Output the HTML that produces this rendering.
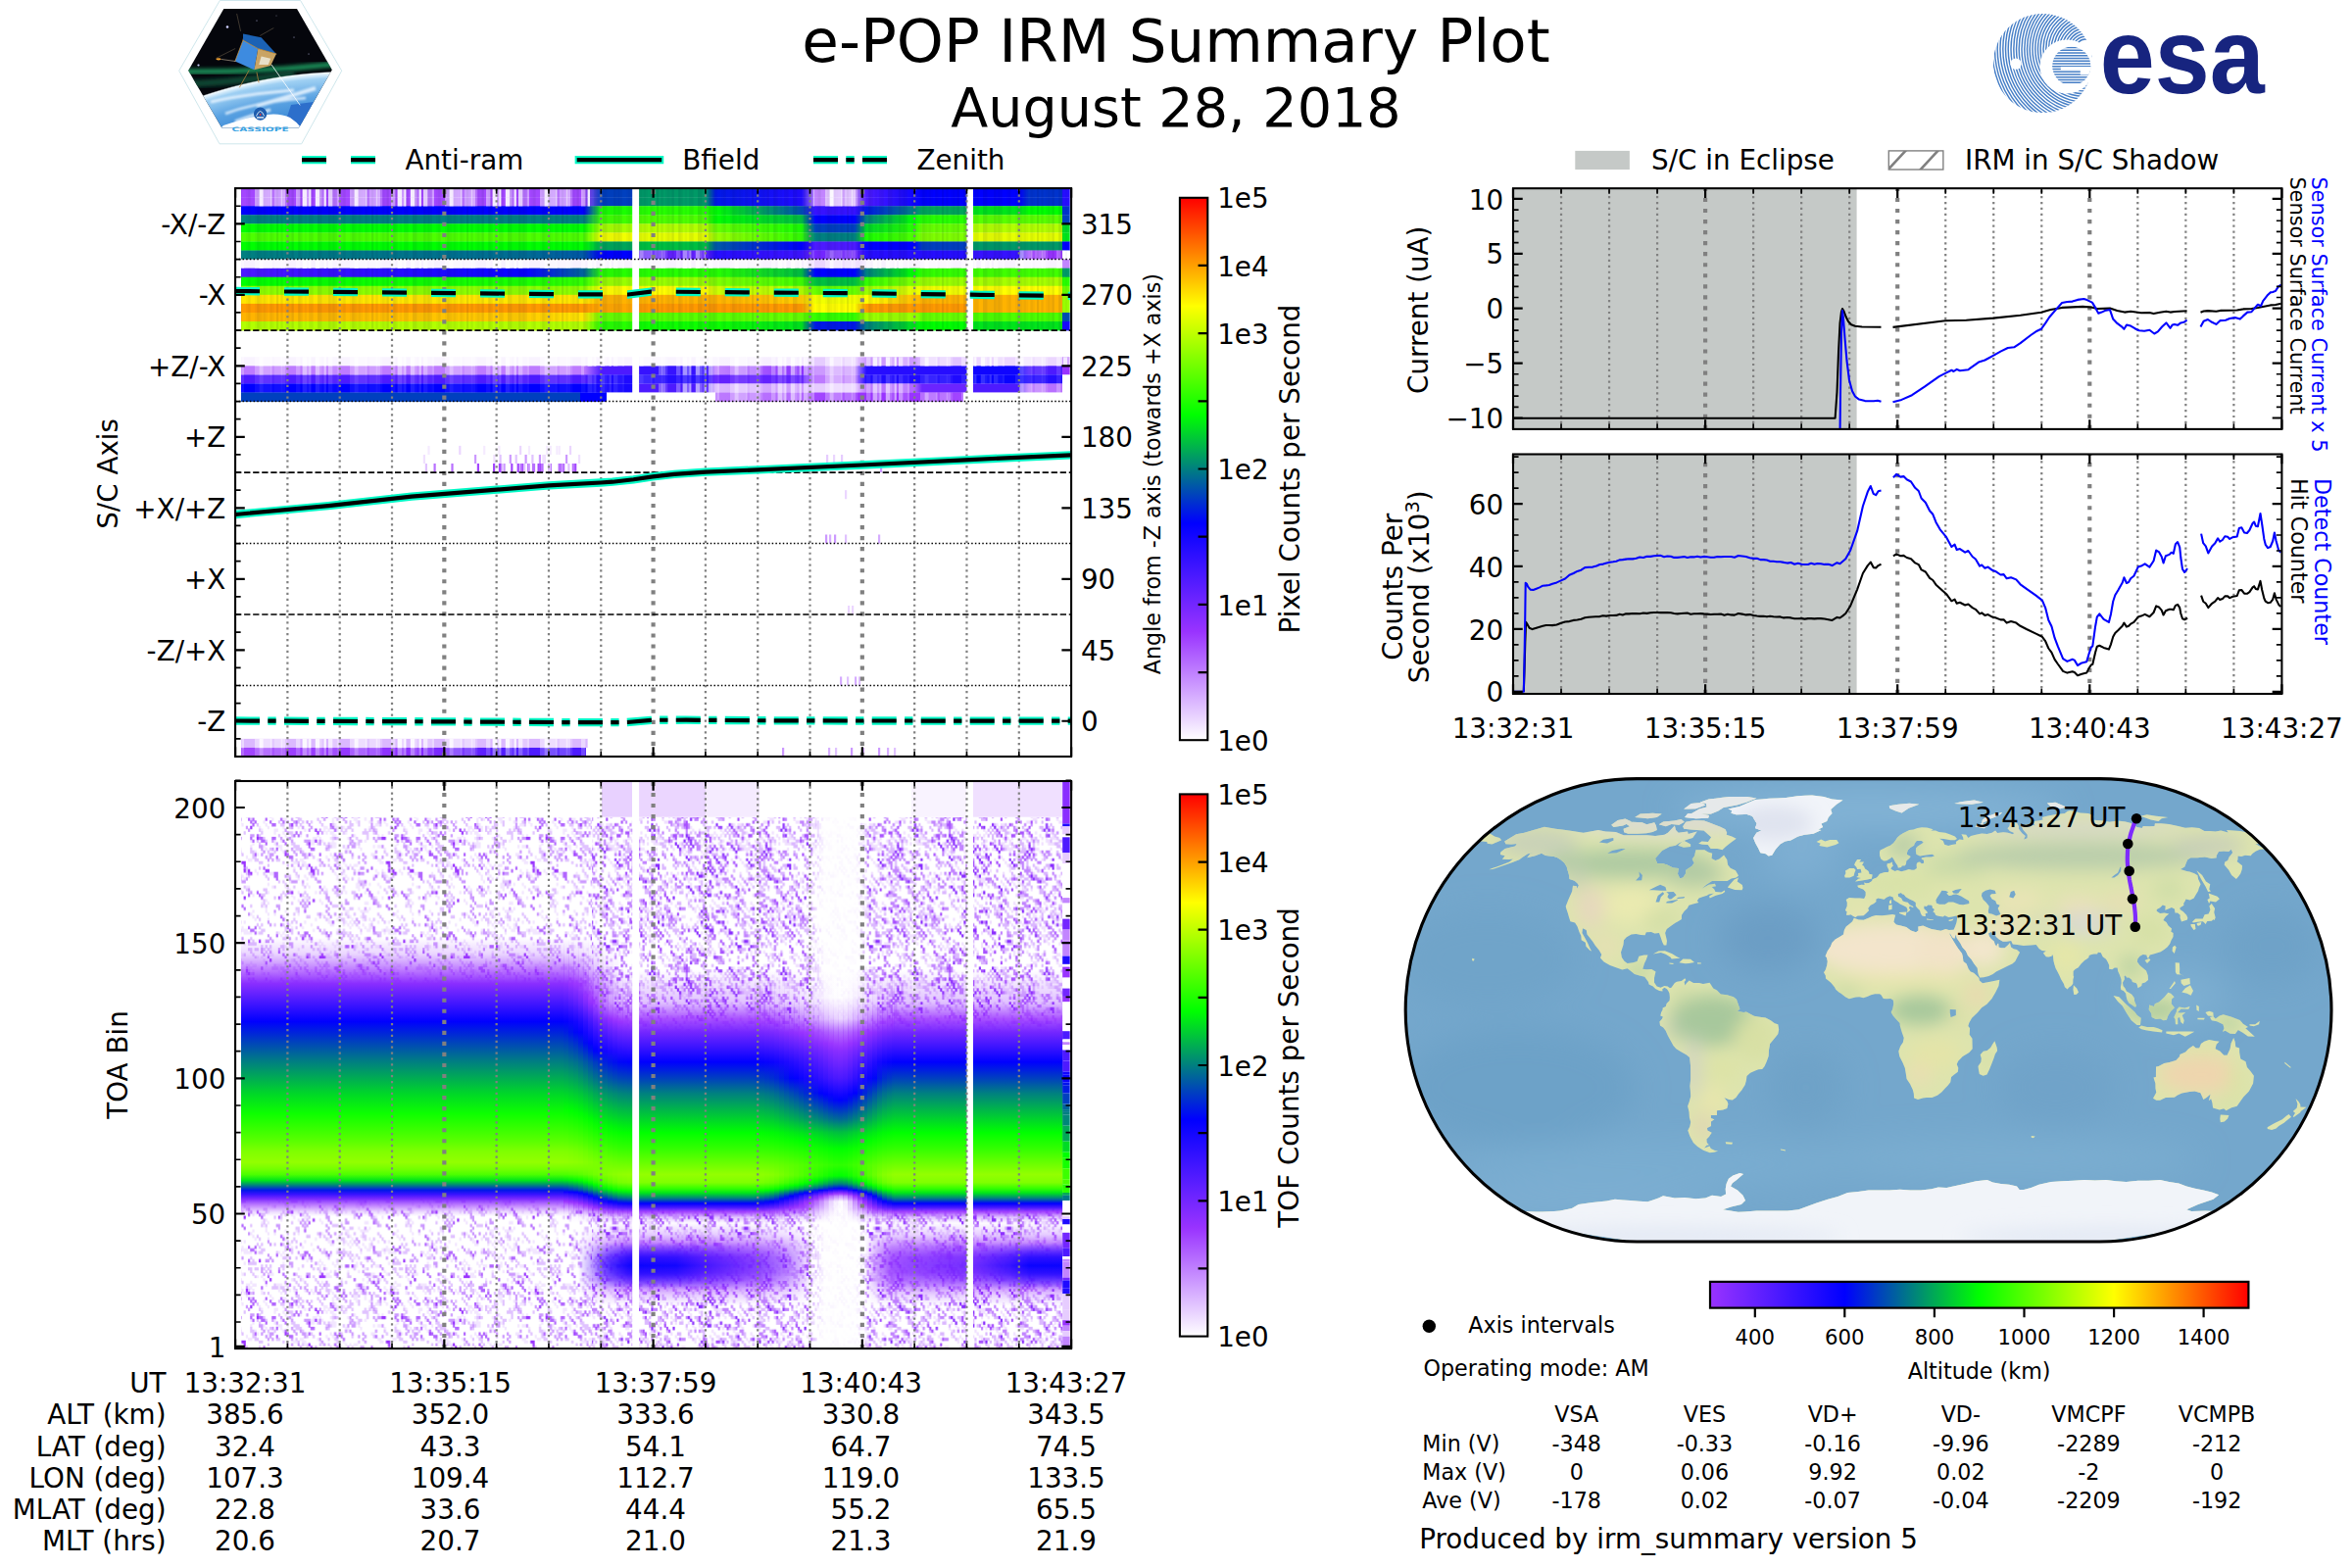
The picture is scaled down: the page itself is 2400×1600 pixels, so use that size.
<!DOCTYPE html><html><head><meta charset="utf-8"><title>e-POP IRM Summary Plot</title><style>html,body{margin:0;padding:0;background:#fff}svg{display:block}text{font-family:"DejaVu Sans","Liberation Sans",sans-serif;fill:#000}</style></head><body><svg width="2400" height="1600" viewBox="0 0 2400 1600"><defs><clipPath id="hx"><polygon points="228.3,9.1 303,9.1 338.8,71.3 304.9,130.6 226.4,130.6 192.2,71.9"/></clipPath><radialGradient id="earth" gradientUnits="userSpaceOnUse" cx="357" cy="543.4" r="471"><stop offset="0.88" stop-color="#2f7fd0"/><stop offset="0.945" stop-color="#5aa2e2"/><stop offset="0.985" stop-color="#9fd0f3"/><stop offset="0.997" stop-color="#f4fbff"/><stop offset="1" stop-color="#f4fbff" stop-opacity="0"/></radialGradient><filter id="lb2" x="-30%" y="-30%" width="160%" height="160%"><feGaussianBlur stdDeviation="2"/></filter><filter id="lb1" x="-30%" y="-30%" width="160%" height="160%"><feGaussianBlur stdDeviation="0.8"/></filter><clipPath id="esac"><circle cx="2084.4" cy="64.5" r="50.5"/></clipPath><clipPath id="esae"><circle cx="2113.8" cy="67.3" r="19.6"/></clipPath><pattern id="sw" width="97" height="20" patternUnits="userSpaceOnUse"><rect x="0" y="0" width="2.2" height="20" fill="#fff" fill-opacity="0.25"/><rect x="11" y="0" width="4.4" height="20" fill="#fff" fill-opacity="0.5"/><rect x="17.6" y="0" width="4.4" height="20" fill="#fff" fill-opacity="1.0"/><rect x="22" y="0" width="2.2" height="20" fill="#fff" fill-opacity="0.5"/><rect x="24.2" y="0" width="2.2" height="20" fill="#fff" fill-opacity="1.0"/><rect x="30.8" y="0" width="4.4" height="20" fill="#fff" fill-opacity="1.0"/><rect x="35.2" y="0" width="2.2" height="20" fill="#fff" fill-opacity="0.5"/><rect x="37.4" y="0" width="2.2" height="20" fill="#fff" fill-opacity="0.25"/><rect x="39.6" y="0" width="2.2" height="20" fill="#fff" fill-opacity="1.0"/><rect x="44" y="0" width="4.4" height="20" fill="#fff" fill-opacity="0.8"/><rect x="48.4" y="0" width="4.4" height="20" fill="#fff" fill-opacity="0.25"/><rect x="52.8" y="0" width="2.2" height="20" fill="#fff" fill-opacity="0.5"/><rect x="66" y="0" width="4.4" height="20" fill="#fff" fill-opacity="0.5"/><rect x="70.4" y="0" width="4.4" height="20" fill="#fff" fill-opacity="1.0"/><rect x="74.8" y="0" width="2.2" height="20" fill="#fff" fill-opacity="0.6"/><rect x="77" y="0" width="4.4" height="20" fill="#fff" fill-opacity="0.6"/><rect x="81.4" y="0" width="2.2" height="20" fill="#fff" fill-opacity="0.8"/><rect x="83.6" y="0" width="2.2" height="20" fill="#fff" fill-opacity="0.25"/><rect x="85.8" y="0" width="6.6" height="20" fill="#fff" fill-opacity="0.5"/><rect x="92.4" y="0" width="2.2" height="20" fill="#fff" fill-opacity="0.8"/><rect x="94.6" y="0" width="4.4" height="20" fill="#fff" fill-opacity="0.6"/></pattern><pattern id="sd" width="97" height="20" patternUnits="userSpaceOnUse"><rect x="0" y="0" width="2.2" height="20" fill="#003" fill-opacity="0.03"/><rect x="2.2" y="0" width="2.2" height="20" fill="#003" fill-opacity="0.06"/><rect x="4.4" y="0" width="2.2" height="20" fill="#003" fill-opacity="0.03"/><rect x="6.6" y="0" width="2.2" height="20" fill="#003" fill-opacity="0.09"/><rect x="13.2" y="0" width="2.2" height="20" fill="#003" fill-opacity="0.09"/><rect x="15.4" y="0" width="2.2" height="20" fill="#003" fill-opacity="0.06"/><rect x="19.8" y="0" width="2.2" height="20" fill="#003" fill-opacity="0.03"/><rect x="24.2" y="0" width="2.2" height="20" fill="#003" fill-opacity="0.06"/><rect x="26.4" y="0" width="2.2" height="20" fill="#003" fill-opacity="0.06"/><rect x="33" y="0" width="2.2" height="20" fill="#003" fill-opacity="0.09"/><rect x="35.2" y="0" width="2.2" height="20" fill="#003" fill-opacity="0.09"/><rect x="37.4" y="0" width="2.2" height="20" fill="#003" fill-opacity="0.03"/><rect x="39.6" y="0" width="2.2" height="20" fill="#003" fill-opacity="0.03"/><rect x="41.8" y="0" width="2.2" height="20" fill="#003" fill-opacity="0.03"/><rect x="44" y="0" width="2.2" height="20" fill="#003" fill-opacity="0.09"/><rect x="46.2" y="0" width="2.2" height="20" fill="#003" fill-opacity="0.06"/><rect x="48.4" y="0" width="2.2" height="20" fill="#003" fill-opacity="0.09"/><rect x="50.6" y="0" width="2.2" height="20" fill="#003" fill-opacity="0.06"/><rect x="57.2" y="0" width="2.2" height="20" fill="#003" fill-opacity="0.03"/><rect x="59.4" y="0" width="2.2" height="20" fill="#003" fill-opacity="0.06"/><rect x="66" y="0" width="2.2" height="20" fill="#003" fill-opacity="0.03"/><rect x="68.2" y="0" width="2.2" height="20" fill="#003" fill-opacity="0.09"/><rect x="70.4" y="0" width="2.2" height="20" fill="#003" fill-opacity="0.06"/><rect x="72.6" y="0" width="2.2" height="20" fill="#003" fill-opacity="0.03"/><rect x="74.8" y="0" width="2.2" height="20" fill="#003" fill-opacity="0.06"/><rect x="77" y="0" width="2.2" height="20" fill="#003" fill-opacity="0.03"/><rect x="81.4" y="0" width="2.2" height="20" fill="#003" fill-opacity="0.06"/><rect x="83.6" y="0" width="2.2" height="20" fill="#003" fill-opacity="0.03"/><rect x="88" y="0" width="2.2" height="20" fill="#003" fill-opacity="0.09"/><rect x="92.4" y="0" width="2.2" height="20" fill="#003" fill-opacity="0.06"/></pattern><linearGradient id="r0" gradientUnits="userSpaceOnUse" x1="246" x2="1091.7" y1="0" y2="0"><stop offset="0.0000" stop-color="#a347ff"/><stop offset="0.3429" stop-color="#a347ff"/><stop offset="0.4139" stop-color="#a347ff"/><stop offset="0.4351" stop-color="#0040bf"/><stop offset="0.4720" stop-color="#0040bf"/><stop offset="0.4802" stop-color="#009966"/><stop offset="0.5605" stop-color="#009966"/><stop offset="0.5723" stop-color="#0019e6"/><stop offset="0.6764" stop-color="#1f0aff"/><stop offset="0.6929" stop-color="#c285ff"/><stop offset="0.7405" stop-color="#c285ff"/><stop offset="0.7546" stop-color="#4d1aff"/><stop offset="0.8123" stop-color="#0f05ff"/><stop offset="0.8218" stop-color="#0000ff"/><stop offset="0.8756" stop-color="#0000ff"/><stop offset="0.8833" stop-color="#0000ff"/><stop offset="0.9389" stop-color="#0000ff"/><stop offset="0.9507" stop-color="#0033cc"/><stop offset="0.9911" stop-color="#0033cc"/><stop offset="0.9912" stop-color="#260dff"/><stop offset="1.0000" stop-color="#260dff"/></linearGradient><linearGradient id="r1" gradientUnits="userSpaceOnUse" x1="246" x2="1091.7" y1="0" y2="0"><stop offset="0.0000" stop-color="#a347ff"/><stop offset="0.3429" stop-color="#a347ff"/><stop offset="0.4139" stop-color="#a347ff"/><stop offset="0.4351" stop-color="#0040bf"/><stop offset="0.4720" stop-color="#0040bf"/><stop offset="0.4802" stop-color="#009966"/><stop offset="0.5605" stop-color="#009966"/><stop offset="0.5723" stop-color="#0019e6"/><stop offset="0.6764" stop-color="#1f0aff"/><stop offset="0.6929" stop-color="#c285ff"/><stop offset="0.7405" stop-color="#c285ff"/><stop offset="0.7546" stop-color="#4d1aff"/><stop offset="0.8123" stop-color="#0f05ff"/><stop offset="0.8218" stop-color="#0000ff"/><stop offset="0.8756" stop-color="#0000ff"/><stop offset="0.8833" stop-color="#0000ff"/><stop offset="0.9389" stop-color="#0000ff"/><stop offset="0.9507" stop-color="#0033cc"/><stop offset="0.9911" stop-color="#0033cc"/><stop offset="0.9912" stop-color="#260dff"/><stop offset="1.0000" stop-color="#260dff"/></linearGradient><linearGradient id="r2" gradientUnits="userSpaceOnUse" x1="246" x2="1091.7" y1="0" y2="0"><stop offset="0.0000" stop-color="#0000ff"/><stop offset="0.3429" stop-color="#0000ff"/><stop offset="0.4139" stop-color="#0000ff"/><stop offset="0.4351" stop-color="#1aff00"/><stop offset="0.4720" stop-color="#1aff00"/><stop offset="0.4802" stop-color="#26ff00"/><stop offset="0.5605" stop-color="#26ff00"/><stop offset="0.5723" stop-color="#00ff00"/><stop offset="0.6764" stop-color="#004db2"/><stop offset="0.6929" stop-color="#3612ff"/><stop offset="0.7405" stop-color="#3612ff"/><stop offset="0.7546" stop-color="#0019e6"/><stop offset="0.8123" stop-color="#008080"/><stop offset="0.8218" stop-color="#00a659"/><stop offset="0.8756" stop-color="#00a659"/><stop offset="0.8833" stop-color="#00e51a"/><stop offset="0.9389" stop-color="#00e51a"/><stop offset="0.9507" stop-color="#00ff00"/><stop offset="0.9911" stop-color="#00ff00"/><stop offset="0.9912" stop-color="#0033cc"/><stop offset="1.0000" stop-color="#0033cc"/></linearGradient><linearGradient id="r3" gradientUnits="userSpaceOnUse" x1="246" x2="1091.7" y1="0" y2="0"><stop offset="0.0000" stop-color="#008080"/><stop offset="0.3429" stop-color="#008080"/><stop offset="0.4139" stop-color="#008080"/><stop offset="0.4351" stop-color="#40ff00"/><stop offset="0.4720" stop-color="#40ff00"/><stop offset="0.4802" stop-color="#4dff00"/><stop offset="0.5605" stop-color="#4dff00"/><stop offset="0.5723" stop-color="#00ff00"/><stop offset="0.6764" stop-color="#00bf40"/><stop offset="0.6929" stop-color="#0000ff"/><stop offset="0.7405" stop-color="#0000ff"/><stop offset="0.7546" stop-color="#008080"/><stop offset="0.8123" stop-color="#00ff00"/><stop offset="0.8218" stop-color="#26ff00"/><stop offset="0.8756" stop-color="#26ff00"/><stop offset="0.8833" stop-color="#59ff00"/><stop offset="0.9389" stop-color="#59ff00"/><stop offset="0.9507" stop-color="#59ff00"/><stop offset="0.9911" stop-color="#59ff00"/><stop offset="0.9912" stop-color="#0040bf"/><stop offset="1.0000" stop-color="#0040bf"/></linearGradient><linearGradient id="r4" gradientUnits="userSpaceOnUse" x1="246" x2="1091.7" y1="0" y2="0"><stop offset="0.0000" stop-color="#00ff00"/><stop offset="0.3429" stop-color="#00ff00"/><stop offset="0.4139" stop-color="#00ff00"/><stop offset="0.4351" stop-color="#a6ff00"/><stop offset="0.4720" stop-color="#a6ff00"/><stop offset="0.4802" stop-color="#b2ff00"/><stop offset="0.5605" stop-color="#b2ff00"/><stop offset="0.5723" stop-color="#66ff00"/><stop offset="0.6764" stop-color="#1aff00"/><stop offset="0.6929" stop-color="#0040bf"/><stop offset="0.7405" stop-color="#0040bf"/><stop offset="0.7546" stop-color="#00d926"/><stop offset="0.8123" stop-color="#26ff00"/><stop offset="0.8218" stop-color="#66ff00"/><stop offset="0.8756" stop-color="#66ff00"/><stop offset="0.8833" stop-color="#b2ff00"/><stop offset="0.9389" stop-color="#b2ff00"/><stop offset="0.9507" stop-color="#b2ff00"/><stop offset="0.9911" stop-color="#b2ff00"/><stop offset="0.9912" stop-color="#00d926"/><stop offset="1.0000" stop-color="#00d926"/></linearGradient><linearGradient id="r5" gradientUnits="userSpaceOnUse" x1="246" x2="1091.7" y1="0" y2="0"><stop offset="0.0000" stop-color="#4dff00"/><stop offset="0.3429" stop-color="#4dff00"/><stop offset="0.4139" stop-color="#4dff00"/><stop offset="0.4351" stop-color="#f2ff00"/><stop offset="0.4720" stop-color="#f2ff00"/><stop offset="0.4802" stop-color="#e5ff00"/><stop offset="0.5605" stop-color="#e5ff00"/><stop offset="0.5723" stop-color="#99ff00"/><stop offset="0.6764" stop-color="#33ff00"/><stop offset="0.6929" stop-color="#008080"/><stop offset="0.7405" stop-color="#008080"/><stop offset="0.7546" stop-color="#1aff00"/><stop offset="0.8123" stop-color="#4dff00"/><stop offset="0.8218" stop-color="#7fff00"/><stop offset="0.8756" stop-color="#7fff00"/><stop offset="0.8833" stop-color="#e5ff00"/><stop offset="0.9389" stop-color="#e5ff00"/><stop offset="0.9507" stop-color="#e5ff00"/><stop offset="0.9911" stop-color="#e5ff00"/><stop offset="0.9912" stop-color="#00e51a"/><stop offset="1.0000" stop-color="#00e51a"/></linearGradient><linearGradient id="r6" gradientUnits="userSpaceOnUse" x1="246" x2="1091.7" y1="0" y2="0"><stop offset="0.0000" stop-color="#00ff00"/><stop offset="0.3429" stop-color="#00ff00"/><stop offset="0.4139" stop-color="#00ff00"/><stop offset="0.4351" stop-color="#00a659"/><stop offset="0.4720" stop-color="#00a659"/><stop offset="0.4802" stop-color="#00bf40"/><stop offset="0.5605" stop-color="#00bf40"/><stop offset="0.5723" stop-color="#0059a6"/><stop offset="0.6764" stop-color="#0000ff"/><stop offset="0.6929" stop-color="#4d1aff"/><stop offset="0.7405" stop-color="#4d1aff"/><stop offset="0.7546" stop-color="#0000ff"/><stop offset="0.8123" stop-color="#0000ff"/><stop offset="0.8218" stop-color="#0040bf"/><stop offset="0.8756" stop-color="#0040bf"/><stop offset="0.8833" stop-color="#009966"/><stop offset="0.9389" stop-color="#009966"/><stop offset="0.9507" stop-color="#009966"/><stop offset="0.9911" stop-color="#009966"/><stop offset="0.9912" stop-color="#0000ff"/><stop offset="1.0000" stop-color="#0000ff"/></linearGradient><linearGradient id="r7" gradientUnits="userSpaceOnUse" x1="246" x2="1091.7" y1="0" y2="0"><stop offset="0.0000" stop-color="#008080"/><stop offset="0.3429" stop-color="#006c93"/><stop offset="0.4139" stop-color="#0059a6"/><stop offset="0.4351" stop-color="#0000ff"/><stop offset="0.4720" stop-color="#0000ff"/><stop offset="0.4802" stop-color="#6321ff"/><stop offset="0.5605" stop-color="#6321ff"/><stop offset="0.5723" stop-color="#260dff"/><stop offset="0.6764" stop-color="#3d14ff"/><stop offset="0.6929" stop-color="#7326ff"/><stop offset="0.7405" stop-color="#7326ff"/><stop offset="0.7546" stop-color="#260dff"/><stop offset="0.8123" stop-color="#260dff"/><stop offset="0.8218" stop-color="#260dff"/><stop offset="0.8756" stop-color="#260dff"/><stop offset="0.8833" stop-color="#3612ff"/><stop offset="0.9389" stop-color="#3612ff"/><stop offset="0.9507" stop-color="#9933ff"/><stop offset="0.9911" stop-color="#9933ff"/><stop offset="0.9912" stop-color="#ffffff"/><stop offset="1.0000" stop-color="#ffffff"/></linearGradient><linearGradient id="r8" gradientUnits="userSpaceOnUse" x1="246" x2="1091.7" y1="0" y2="0"><stop offset="0.0000" stop-color="#f8f1ff"/><stop offset="0.3429" stop-color="#f8f1ff"/><stop offset="0.4139" stop-color="#f8f1ff"/><stop offset="0.4351" stop-color="#f8f1ff"/><stop offset="0.4720" stop-color="#f8f1ff"/><stop offset="0.4802" stop-color="#f8f1ff"/><stop offset="0.5605" stop-color="#f8f1ff"/><stop offset="0.5723" stop-color="#f8f1ff"/><stop offset="0.6764" stop-color="#f8f1ff"/><stop offset="0.6929" stop-color="#ebd6ff"/><stop offset="0.7405" stop-color="#ebd6ff"/><stop offset="0.7546" stop-color="#f8f1ff"/><stop offset="0.8123" stop-color="#f8f1ff"/><stop offset="0.8218" stop-color="#f8f1ff"/><stop offset="0.8756" stop-color="#f8f1ff"/><stop offset="0.8833" stop-color="#f8f1ff"/><stop offset="0.9389" stop-color="#f8f1ff"/><stop offset="0.9507" stop-color="#f8f1ff"/><stop offset="0.9911" stop-color="#f8f1ff"/><stop offset="0.9912" stop-color="#c285ff"/><stop offset="1.0000" stop-color="#c285ff"/></linearGradient><linearGradient id="r9" gradientUnits="userSpaceOnUse" x1="246" x2="1091.7" y1="0" y2="0"><stop offset="0.0000" stop-color="#4d1aff"/><stop offset="0.3429" stop-color="#0803ff"/><stop offset="0.4139" stop-color="#006699"/><stop offset="0.4351" stop-color="#26ff00"/><stop offset="0.4720" stop-color="#26ff00"/><stop offset="0.4802" stop-color="#26ff00"/><stop offset="0.5605" stop-color="#26ff00"/><stop offset="0.5723" stop-color="#26ff00"/><stop offset="0.6764" stop-color="#00bf40"/><stop offset="0.6929" stop-color="#0000ff"/><stop offset="0.7405" stop-color="#0000ff"/><stop offset="0.7546" stop-color="#008080"/><stop offset="0.8123" stop-color="#00ff00"/><stop offset="0.8218" stop-color="#33ff00"/><stop offset="0.8756" stop-color="#33ff00"/><stop offset="0.8833" stop-color="#40ff00"/><stop offset="0.9389" stop-color="#40ff00"/><stop offset="0.9507" stop-color="#40ff00"/><stop offset="0.9911" stop-color="#40ff00"/><stop offset="0.9912" stop-color="#009966"/><stop offset="1.0000" stop-color="#009966"/></linearGradient><linearGradient id="r10" gradientUnits="userSpaceOnUse" x1="246" x2="1091.7" y1="0" y2="0"><stop offset="0.0000" stop-color="#00ff00"/><stop offset="0.3429" stop-color="#1aff00"/><stop offset="0.4139" stop-color="#33ff00"/><stop offset="0.4351" stop-color="#99ff00"/><stop offset="0.4720" stop-color="#99ff00"/><stop offset="0.4802" stop-color="#99ff00"/><stop offset="0.5605" stop-color="#99ff00"/><stop offset="0.5723" stop-color="#7fff00"/><stop offset="0.6764" stop-color="#40ff00"/><stop offset="0.6929" stop-color="#00bf40"/><stop offset="0.7405" stop-color="#00bf40"/><stop offset="0.7546" stop-color="#33ff00"/><stop offset="0.8123" stop-color="#7fff00"/><stop offset="0.8218" stop-color="#99ff00"/><stop offset="0.8756" stop-color="#99ff00"/><stop offset="0.8833" stop-color="#a6ff00"/><stop offset="0.9389" stop-color="#a6ff00"/><stop offset="0.9507" stop-color="#a6ff00"/><stop offset="0.9911" stop-color="#a6ff00"/><stop offset="0.9912" stop-color="#26ff00"/><stop offset="1.0000" stop-color="#26ff00"/></linearGradient><linearGradient id="r11" gradientUnits="userSpaceOnUse" x1="246" x2="1091.7" y1="0" y2="0"><stop offset="0.0000" stop-color="#8cff00"/><stop offset="0.3429" stop-color="#8cff00"/><stop offset="0.4139" stop-color="#8cff00"/><stop offset="0.4351" stop-color="#ffff00"/><stop offset="0.4720" stop-color="#ffff00"/><stop offset="0.4802" stop-color="#ffff00"/><stop offset="0.5605" stop-color="#ffff00"/><stop offset="0.5723" stop-color="#ccff00"/><stop offset="0.6764" stop-color="#b2ff00"/><stop offset="0.6929" stop-color="#66ff00"/><stop offset="0.7405" stop-color="#66ff00"/><stop offset="0.7546" stop-color="#99ff00"/><stop offset="0.8123" stop-color="#e5ff00"/><stop offset="0.8218" stop-color="#f2ff00"/><stop offset="0.8756" stop-color="#f2ff00"/><stop offset="0.8833" stop-color="#ffff00"/><stop offset="0.9389" stop-color="#ffff00"/><stop offset="0.9507" stop-color="#ffff00"/><stop offset="0.9911" stop-color="#ffff00"/><stop offset="0.9912" stop-color="#66ff00"/><stop offset="1.0000" stop-color="#66ff00"/></linearGradient><linearGradient id="r12" gradientUnits="userSpaceOnUse" x1="246" x2="1091.7" y1="0" y2="0"><stop offset="0.0000" stop-color="#ffe600"/><stop offset="0.3429" stop-color="#ffe600"/><stop offset="0.4139" stop-color="#ffe600"/><stop offset="0.4351" stop-color="#ffb300"/><stop offset="0.4720" stop-color="#ffb300"/><stop offset="0.4802" stop-color="#ffb300"/><stop offset="0.5605" stop-color="#ffb300"/><stop offset="0.5723" stop-color="#ffb300"/><stop offset="0.6764" stop-color="#ffcc00"/><stop offset="0.6929" stop-color="#f2ff00"/><stop offset="0.7405" stop-color="#f2ff00"/><stop offset="0.7546" stop-color="#ffff00"/><stop offset="0.8123" stop-color="#ffbf00"/><stop offset="0.8218" stop-color="#ffb300"/><stop offset="0.8756" stop-color="#ffb300"/><stop offset="0.8833" stop-color="#ffb300"/><stop offset="0.9389" stop-color="#ffb300"/><stop offset="0.9507" stop-color="#ffb300"/><stop offset="0.9911" stop-color="#ffb300"/><stop offset="0.9912" stop-color="#99ff00"/><stop offset="1.0000" stop-color="#99ff00"/></linearGradient><linearGradient id="r13" gradientUnits="userSpaceOnUse" x1="246" x2="1091.7" y1="0" y2="0"><stop offset="0.0000" stop-color="#ff9900"/><stop offset="0.3429" stop-color="#ff9900"/><stop offset="0.4139" stop-color="#ff9900"/><stop offset="0.4351" stop-color="#ffa600"/><stop offset="0.4720" stop-color="#ffa600"/><stop offset="0.4802" stop-color="#ff9900"/><stop offset="0.5605" stop-color="#ff9900"/><stop offset="0.5723" stop-color="#ff9900"/><stop offset="0.6764" stop-color="#ff9900"/><stop offset="0.6929" stop-color="#ffff00"/><stop offset="0.7405" stop-color="#ffff00"/><stop offset="0.7546" stop-color="#ff9900"/><stop offset="0.8123" stop-color="#ff9900"/><stop offset="0.8218" stop-color="#ff9900"/><stop offset="0.8756" stop-color="#ff9900"/><stop offset="0.8833" stop-color="#ffb300"/><stop offset="0.9389" stop-color="#ffb300"/><stop offset="0.9507" stop-color="#ffb300"/><stop offset="0.9911" stop-color="#ffb300"/><stop offset="0.9912" stop-color="#99ff00"/><stop offset="1.0000" stop-color="#99ff00"/></linearGradient><linearGradient id="r14" gradientUnits="userSpaceOnUse" x1="246" x2="1091.7" y1="0" y2="0"><stop offset="0.0000" stop-color="#ffb300"/><stop offset="0.3429" stop-color="#ffcc00"/><stop offset="0.4139" stop-color="#ffe600"/><stop offset="0.4351" stop-color="#66ff00"/><stop offset="0.4720" stop-color="#66ff00"/><stop offset="0.4802" stop-color="#59ff00"/><stop offset="0.5605" stop-color="#59ff00"/><stop offset="0.5723" stop-color="#59ff00"/><stop offset="0.6764" stop-color="#66ff00"/><stop offset="0.6929" stop-color="#33ff00"/><stop offset="0.7405" stop-color="#33ff00"/><stop offset="0.7546" stop-color="#99ff00"/><stop offset="0.8123" stop-color="#99ff00"/><stop offset="0.8218" stop-color="#66ff00"/><stop offset="0.8756" stop-color="#66ff00"/><stop offset="0.8833" stop-color="#4dff00"/><stop offset="0.9389" stop-color="#4dff00"/><stop offset="0.9507" stop-color="#4dff00"/><stop offset="0.9911" stop-color="#4dff00"/><stop offset="0.9912" stop-color="#004db2"/><stop offset="1.0000" stop-color="#004db2"/></linearGradient><linearGradient id="r15" gradientUnits="userSpaceOnUse" x1="246" x2="1091.7" y1="0" y2="0"><stop offset="0.0000" stop-color="#b2ff00"/><stop offset="0.3429" stop-color="#b2ff00"/><stop offset="0.4139" stop-color="#b2ff00"/><stop offset="0.4351" stop-color="#26ff00"/><stop offset="0.4720" stop-color="#26ff00"/><stop offset="0.4802" stop-color="#0dff00"/><stop offset="0.5605" stop-color="#0dff00"/><stop offset="0.5723" stop-color="#0dff00"/><stop offset="0.6764" stop-color="#00e51a"/><stop offset="0.6929" stop-color="#0019e6"/><stop offset="0.7405" stop-color="#0019e6"/><stop offset="0.7546" stop-color="#008080"/><stop offset="0.8123" stop-color="#00e51a"/><stop offset="0.8218" stop-color="#00ff00"/><stop offset="0.8756" stop-color="#00ff00"/><stop offset="0.8833" stop-color="#00e51a"/><stop offset="0.9389" stop-color="#00e51a"/><stop offset="0.9507" stop-color="#00e51a"/><stop offset="0.9911" stop-color="#00e51a"/><stop offset="0.9912" stop-color="#1708ff"/><stop offset="1.0000" stop-color="#1708ff"/></linearGradient><linearGradient id="r19" gradientUnits="userSpaceOnUse" x1="246" x2="1091.7" y1="0" y2="0"><stop offset="0.0000" stop-color="#f9f3ff"/><stop offset="0.3429" stop-color="#f9f3ff"/><stop offset="0.4139" stop-color="#f9f3ff"/><stop offset="0.4351" stop-color="#f9f3ff"/><stop offset="0.4720" stop-color="#f9f3ff"/><stop offset="0.4802" stop-color="#f9f3ff"/><stop offset="0.5605" stop-color="#f9f3ff"/><stop offset="0.5723" stop-color="#f9f3ff"/><stop offset="0.6764" stop-color="#f5ebff"/><stop offset="0.6929" stop-color="#e6ccff"/><stop offset="0.7405" stop-color="#e6ccff"/><stop offset="0.7546" stop-color="#cc99ff"/><stop offset="0.8123" stop-color="#cc99ff"/><stop offset="0.8218" stop-color="#e0c2ff"/><stop offset="0.8756" stop-color="#e0c2ff"/><stop offset="0.8833" stop-color="#ebd6ff"/><stop offset="0.9389" stop-color="#ebd6ff"/><stop offset="0.9507" stop-color="#ebd6ff"/><stop offset="0.9911" stop-color="#ebd6ff"/><stop offset="0.9912" stop-color="#b266ff"/><stop offset="1.0000" stop-color="#b266ff"/></linearGradient><linearGradient id="r20" gradientUnits="userSpaceOnUse" x1="246" x2="1091.7" y1="0" y2="0"><stop offset="0.0000" stop-color="#bd7aff"/><stop offset="0.3429" stop-color="#bd7aff"/><stop offset="0.4139" stop-color="#bd7aff"/><stop offset="0.4351" stop-color="#4d1aff"/><stop offset="0.4720" stop-color="#4d1aff"/><stop offset="0.4802" stop-color="#3612ff"/><stop offset="0.5605" stop-color="#3612ff"/><stop offset="0.5723" stop-color="#c285ff"/><stop offset="0.6764" stop-color="#8a2eff"/><stop offset="0.6929" stop-color="#cc99ff"/><stop offset="0.7405" stop-color="#cc99ff"/><stop offset="0.7546" stop-color="#260dff"/><stop offset="0.8123" stop-color="#260dff"/><stop offset="0.8218" stop-color="#260dff"/><stop offset="0.8756" stop-color="#260dff"/><stop offset="0.8833" stop-color="#0f05ff"/><stop offset="0.9389" stop-color="#0f05ff"/><stop offset="0.9507" stop-color="#4d1aff"/><stop offset="0.9911" stop-color="#4d1aff"/><stop offset="0.9912" stop-color="#9933ff"/><stop offset="1.0000" stop-color="#9933ff"/></linearGradient><linearGradient id="r21" gradientUnits="userSpaceOnUse" x1="246" x2="1091.7" y1="0" y2="0"><stop offset="0.0000" stop-color="#4d1aff"/><stop offset="0.3429" stop-color="#4d1aff"/><stop offset="0.4139" stop-color="#4d1aff"/><stop offset="0.4351" stop-color="#1f0aff"/><stop offset="0.4720" stop-color="#1f0aff"/><stop offset="0.4802" stop-color="#260dff"/><stop offset="0.5605" stop-color="#260dff"/><stop offset="0.5723" stop-color="#6321ff"/><stop offset="0.6764" stop-color="#6321ff"/><stop offset="0.6929" stop-color="#bd7aff"/><stop offset="0.7405" stop-color="#bd7aff"/><stop offset="0.7546" stop-color="#1f0aff"/><stop offset="0.8123" stop-color="#1f0aff"/><stop offset="0.8218" stop-color="#1f0aff"/><stop offset="0.8756" stop-color="#1f0aff"/><stop offset="0.8833" stop-color="#0803ff"/><stop offset="0.9389" stop-color="#0803ff"/><stop offset="0.9507" stop-color="#260dff"/><stop offset="0.9911" stop-color="#260dff"/><stop offset="0.9912" stop-color="#ffffff"/><stop offset="1.0000" stop-color="#ffffff"/></linearGradient><linearGradient id="r22" gradientUnits="userSpaceOnUse" x1="246" x2="1091.7" y1="0" y2="0"><stop offset="0.0000" stop-color="#0000ff"/><stop offset="0.3429" stop-color="#0000ff"/><stop offset="0.4139" stop-color="#0000ff"/><stop offset="0.4351" stop-color="#1708ff"/><stop offset="0.4720" stop-color="#1708ff"/><stop offset="0.4802" stop-color="#4d1aff"/><stop offset="0.5605" stop-color="#4d1aff"/><stop offset="0.5723" stop-color="#dbb8ff"/><stop offset="0.6764" stop-color="#cc99ff"/><stop offset="0.6929" stop-color="#e6ccff"/><stop offset="0.7405" stop-color="#e6ccff"/><stop offset="0.7546" stop-color="#bd7aff"/><stop offset="0.8123" stop-color="#b266ff"/><stop offset="0.8218" stop-color="#6b24ff"/><stop offset="0.8756" stop-color="#6b24ff"/><stop offset="0.8833" stop-color="#4d1aff"/><stop offset="0.9389" stop-color="#4d1aff"/><stop offset="0.9507" stop-color="#b870ff"/><stop offset="0.9911" stop-color="#b870ff"/><stop offset="0.9912" stop-color="#ffffff"/><stop offset="1.0000" stop-color="#ffffff"/></linearGradient><linearGradient id="r23" gradientUnits="userSpaceOnUse" x1="246" x2="1091.7" y1="0" y2="0"><stop offset="0.0000" stop-color="#0040bf"/><stop offset="0.4091" stop-color="#0040bf"/><stop offset="0.4092" stop-color="#0000ff"/><stop offset="0.4411" stop-color="#0000ff"/><stop offset="0.4412" stop-color="#ffffff"/><stop offset="0.5723" stop-color="#ffffff"/><stop offset="0.5724" stop-color="#bd7aff"/><stop offset="0.6858" stop-color="#b266ff"/><stop offset="0.6929" stop-color="#a347ff"/><stop offset="0.7499" stop-color="#9933ff"/><stop offset="0.8123" stop-color="#9933ff"/><stop offset="0.8715" stop-color="#a347ff"/><stop offset="0.8716" stop-color="#ffffff"/><stop offset="1.0000" stop-color="#ffffff"/></linearGradient><linearGradient id="r62" gradientUnits="userSpaceOnUse" x1="246" x2="1091.7" y1="0" y2="0"><stop offset="0.0000" stop-color="#dbb8ff"/><stop offset="0.4186" stop-color="#dbb8ff"/><stop offset="0.4187" stop-color="#ffffff"/><stop offset="1.0000" stop-color="#ffffff"/></linearGradient><linearGradient id="r63" gradientUnits="userSpaceOnUse" x1="246" x2="1091.7" y1="0" y2="0"><stop offset="0.0000" stop-color="#a347ff"/><stop offset="0.2057" stop-color="#8a2eff"/><stop offset="0.3240" stop-color="#4d1aff"/><stop offset="0.4162" stop-color="#4d1aff"/><stop offset="0.4163" stop-color="#ffffff"/><stop offset="1.0000" stop-color="#ffffff"/></linearGradient><clipPath id="cp1"><rect x="240.07" y="192.1" width="853.03" height="579.9"/></clipPath><pattern id="nzA" width="147.4" height="163.02" patternUnits="userSpaceOnUse"><path d="M74.8 127.1h2.2v3.36h-2.2zM77 129.86h2.2v3.36h-2.2zM79.2 132.62h2.2v3.36h-2.2zM81.4 132.62h2.2v3.36h-2.2zM6.6 113.28h2.2v3.36h-2.2zM8.8 116.05h2.2v3.36h-2.2zM140.8 146.44h2.2v3.36h-2.2zM143 149.2h2.2v3.36h-2.2zM112.2 71.84h2.2v3.36h-2.2zM114.4 74.6h2.2v3.36h-2.2zM110 113.28h2.2v3.36h-2.2zM77 41.45h2.2v3.36h-2.2zM96.8 49.73h2.2v3.36h-2.2zM90.2 85.65h2.2v3.36h-2.2zM94.6 71.84h2.2v3.36h-2.2zM96.8 74.6h2.2v3.36h-2.2zM99 77.36h2.2v3.36h-2.2zM4.4 69.08h2.2v3.36h-2.2zM59.4 154.73h2.2v3.36h-2.2zM143 5.53h2.2v3.36h-2.2zM79.2 2.76h2.2v3.36h-2.2zM37.4 58.02h2.2v3.36h-2.2zM136.4 135.39h2.2v3.36h-2.2zM138.6 138.15h2.2v3.36h-2.2zM46.2 27.63h2.2v3.36h-2.2zM48.4 30.39h2.2v3.36h-2.2zM127.6 157.49h2.2v3.36h-2.2zM129.8 157.49h2.2v3.36h-2.2zM44 19.34h2.2v3.36h-2.2zM57.2 113.28h2.2v3.36h-2.2zM59.4 113.28h2.2v3.36h-2.2zM81.4 127.1h2.2v3.36h-2.2zM83.6 129.86h2.2v3.36h-2.2zM132 116.05h2.2v3.36h-2.2zM24.2 132.62h2.2v3.36h-2.2zM24.2 41.45h2.2v3.36h-2.2zM140.8 135.39h2.2v3.36h-2.2zM143 138.15h2.2v3.36h-2.2zM145.2 140.91h2.2v3.36h-2.2zM81.4 22.1h2.2v3.36h-2.2zM68.2 44.21h2.2v3.36h-2.2zM70.4 46.97h2.2v3.36h-2.2zM72.6 49.73h2.2v3.36h-2.2zM24.2 38.68h2.2v3.36h-2.2zM61.6 124.33h2.2v3.36h-2.2zM77 113.28h2.2v3.36h-2.2zM79.2 113.28h2.2v3.36h-2.2zM143 113.28h2.2v3.36h-2.2zM70.4 110.52h2.2v3.36h-2.2zM33 116.05h2.2v3.36h-2.2zM68.2 146.44h2.2v3.36h-2.2zM99 132.62h2.2v3.36h-2.2zM101.2 135.39h2.2v3.36h-2.2zM55 63.55h2.2v3.36h-2.2zM57.2 66.31h2.2v3.36h-2.2zM17.6 85.65h2.2v3.36h-2.2zM19.8 88.42h2.2v3.36h-2.2zM129.8 88.42h2.2v3.36h-2.2zM118.8 11.05h2.2v3.36h-2.2zM77 104.99h2.2v3.36h-2.2zM92.4 46.97h2.2v3.36h-2.2zM123.2 102.23h2.2v3.36h-2.2zM125.4 104.99h2.2v3.36h-2.2zM44 22.1h2.2v3.36h-2.2zM46.2 24.87h2.2v3.36h-2.2zM48.4 27.63h2.2v3.36h-2.2zM66 19.34h2.2v3.36h-2.2zM68.2 22.1h2.2v3.36h-2.2zM26.4 38.68h2.2v3.36h-2.2zM0 149.2h2.2v3.36h-2.2zM41.8 138.15h2.2v3.36h-2.2zM15.4 99.47h2.2v3.36h-2.2zM17.6 99.47h2.2v3.36h-2.2zM83.6 157.49h2.2v3.36h-2.2zM85.8 157.49h2.2v3.36h-2.2zM72.6 113.28h2.2v3.36h-2.2zM74.8 113.28h2.2v3.36h-2.2zM118.8 160.25h2.2v3.36h-2.2zM121 0h2.2v3.36h-2.2zM8.8 151.97h2.2v3.36h-2.2zM68.2 88.42h2.2v3.36h-2.2zM70.4 91.18h2.2v3.36h-2.2zM81.4 129.86h2.2v3.36h-2.2zM41.8 55.26h2.2v3.36h-2.2zM44 58.02h2.2v3.36h-2.2zM46.2 58.02h2.2v3.36h-2.2zM140.8 27.63h2.2v3.36h-2.2zM37.4 160.25h2.2v3.36h-2.2zM28.6 35.92h2.2v3.36h-2.2zM70.4 71.84h2.2v3.36h-2.2zM105.6 88.42h2.2v3.36h-2.2zM44 44.21h2.2v3.36h-2.2zM46.2 46.97h2.2v3.36h-2.2zM107.8 46.97h2.2v3.36h-2.2zM118.8 13.81h2.2v3.36h-2.2zM63.8 127.1h2.2v3.36h-2.2zM72.6 118.81h2.2v3.36h-2.2zM55 27.63h2.2v3.36h-2.2zM96.8 154.73h2.2v3.36h-2.2zM99 157.49h2.2v3.36h-2.2zM28.6 41.45h2.2v3.36h-2.2zM85.8 46.97h2.2v3.36h-2.2zM132 41.45h2.2v3.36h-2.2zM125.4 93.94h2.2v3.36h-2.2zM30.8 38.68h2.2v3.36h-2.2zM33 41.45h2.2v3.36h-2.2zM96.8 22.1h2.2v3.36h-2.2zM11 60.79h2.2v3.36h-2.2zM83.6 55.26h2.2v3.36h-2.2zM85.8 55.26h2.2v3.36h-2.2zM66 16.58h2.2v3.36h-2.2zM68.2 16.58h2.2v3.36h-2.2zM68.2 19.34h2.2v3.36h-2.2zM143 19.34h2.2v3.36h-2.2zM77 93.94h2.2v3.36h-2.2zM140.8 118.81h2.2v3.36h-2.2zM143 121.57h2.2v3.36h-2.2zM41.8 11.05h2.2v3.36h-2.2zM44 13.81h2.2v3.36h-2.2zM92.4 63.55h2.2v3.36h-2.2zM11 160.25h2.2v3.36h-2.2zM13.2 0h2.2v3.36h-2.2zM30.8 157.49h2.2v3.36h-2.2zM94.6 132.62h2.2v3.36h-2.2zM96.8 135.39h2.2v3.36h-2.2zM136.4 46.97h2.2v3.36h-2.2zM138.6 46.97h2.2v3.36h-2.2zM138.6 49.73h2.2v3.36h-2.2zM140.8 52.5h2.2v3.36h-2.2zM134.2 5.53h2.2v3.36h-2.2zM136.4 5.53h2.2v3.36h-2.2zM136.4 8.29h2.2v3.36h-2.2zM41.8 44.21h2.2v3.36h-2.2zM44 46.97h2.2v3.36h-2.2zM22 127.1h2.2v3.36h-2.2zM99 129.86h2.2v3.36h-2.2zM101.2 132.62h2.2v3.36h-2.2zM103.4 135.39h2.2v3.36h-2.2zM74.8 5.53h2.2v3.36h-2.2zM77 8.29h2.2v3.36h-2.2zM35.2 30.39h2.2v3.36h-2.2zM37.4 33.16h2.2v3.36h-2.2zM103.4 132.62h2.2v3.36h-2.2zM105.6 135.39h2.2v3.36h-2.2zM107.8 135.39h2.2v3.36h-2.2zM103.4 5.53h2.2v3.36h-2.2zM105.6 8.29h2.2v3.36h-2.2zM22 11.05h2.2v3.36h-2.2zM24.2 13.81h2.2v3.36h-2.2zM66 35.92h2.2v3.36h-2.2zM88 71.84h2.2v3.36h-2.2zM90.2 74.6h2.2v3.36h-2.2zM118.8 30.39h2.2v3.36h-2.2zM140.8 19.34h2.2v3.36h-2.2zM143 22.1h2.2v3.36h-2.2zM2.2 0h2.2v3.36h-2.2zM48.4 5.53h2.2v3.36h-2.2zM50.6 8.29h2.2v3.36h-2.2zM52.8 104.99h2.2v3.36h-2.2zM85.8 77.36h2.2v3.36h-2.2zM30.8 102.23h2.2v3.36h-2.2zM33 104.99h2.2v3.36h-2.2zM143 88.42h2.2v3.36h-2.2zM145.2 91.18h2.2v3.36h-2.2zM0 91.18h2.2v3.36h-2.2zM4.4 11.05h2.2v3.36h-2.2zM132 33.16h2.2v3.36h-2.2zM70.4 154.73h2.2v3.36h-2.2zM33 2.76h2.2v3.36h-2.2zM59.4 38.68h2.2v3.36h-2.2zM123.2 24.87h2.2v3.36h-2.2zM96.8 8.29h2.2v3.36h-2.2zM99 11.05h2.2v3.36h-2.2zM50.6 19.34h2.2v3.36h-2.2zM103.4 58.02h2.2v3.36h-2.2zM105.6 60.79h2.2v3.36h-2.2zM107.8 60.79h2.2v3.36h-2.2zM81.4 121.57h2.2v3.36h-2.2zM83.6 124.33h2.2v3.36h-2.2zM103.4 88.42h2.2v3.36h-2.2zM55 74.6h2.2v3.36h-2.2zM57.2 77.36h2.2v3.36h-2.2zM59.4 80.13h2.2v3.36h-2.2zM101.2 13.81h2.2v3.36h-2.2zM103.4 16.58h2.2v3.36h-2.2zM123.2 113.28h2.2v3.36h-2.2zM125.4 116.05h2.2v3.36h-2.2zM136.4 11.05h2.2v3.36h-2.2zM138.6 13.81h2.2v3.36h-2.2zM77 151.97h2.2v3.36h-2.2zM81.4 27.63h2.2v3.36h-2.2zM83.6 30.39h2.2v3.36h-2.2zM90.2 24.87h2.2v3.36h-2.2zM52.8 69.08h2.2v3.36h-2.2zM15.4 77.36h2.2v3.36h-2.2zM17.6 80.13h2.2v3.36h-2.2zM129.8 19.34h2.2v3.36h-2.2zM57.2 49.73h2.2v3.36h-2.2zM59.4 49.73h2.2v3.36h-2.2zM59.4 52.5h2.2v3.36h-2.2zM101.2 146.44h2.2v3.36h-2.2zM26.4 93.94h2.2v3.36h-2.2zM125.4 85.65h2.2v3.36h-2.2zM48.4 146.44h2.2v3.36h-2.2zM50.6 149.2h2.2v3.36h-2.2zM52.8 149.2h2.2v3.36h-2.2zM15.4 140.91h2.2v3.36h-2.2zM17.6 143.68h2.2v3.36h-2.2zM13.2 129.86h2.2v3.36h-2.2zM92.4 88.42h2.2v3.36h-2.2zM90.2 46.97h2.2v3.36h-2.2zM127.6 16.58h2.2v3.36h-2.2zM68.2 8.29h2.2v3.36h-2.2zM70.4 11.05h2.2v3.36h-2.2zM72.6 11.05h2.2v3.36h-2.2zM72.6 13.81h2.2v3.36h-2.2zM107.8 116.05h2.2v3.36h-2.2zM110 118.81h2.2v3.36h-2.2zM112.2 121.57h2.2v3.36h-2.2zM57.2 124.33h2.2v3.36h-2.2zM59.4 127.1h2.2v3.36h-2.2zM61.6 129.86h2.2v3.36h-2.2zM48.4 132.62h2.2v3.36h-2.2zM145.2 46.97h2.2v3.36h-2.2zM121 22.1h2.2v3.36h-2.2zM125.4 27.63h2.2v3.36h-2.2zM138.6 102.23h2.2v3.36h-2.2zM101.2 124.33h2.2v3.36h-2.2zM17.6 66.31h2.2v3.36h-2.2zM55 127.1h2.2v3.36h-2.2zM0 127.1h2.2v3.36h-2.2zM2.2 129.86h2.2v3.36h-2.2zM30.8 151.97h2.2v3.36h-2.2zM57.2 33.16h2.2v3.36h-2.2zM33 146.44h2.2v3.36h-2.2zM35.2 149.2h2.2v3.36h-2.2zM37.4 151.97h2.2v3.36h-2.2zM4.4 63.55h2.2v3.36h-2.2zM6.6 63.55h2.2v3.36h-2.2zM30.8 143.68h2.2v3.36h-2.2zM90.2 93.94h2.2v3.36h-2.2zM41.8 38.68h2.2v3.36h-2.2zM44 41.45h2.2v3.36h-2.2zM46.2 44.21h2.2v3.36h-2.2zM121 46.97h2.2v3.36h-2.2zM123.2 49.73h2.2v3.36h-2.2zM59.4 135.39h2.2v3.36h-2.2zM61.6 138.15h2.2v3.36h-2.2zM39.6 30.39h2.2v3.36h-2.2zM41.8 33.16h2.2v3.36h-2.2zM44 33.16h2.2v3.36h-2.2zM44 35.92h2.2v3.36h-2.2zM46.2 35.92h2.2v3.36h-2.2zM125.4 55.26h2.2v3.36h-2.2zM0 82.89h2.2v3.36h-2.2zM68.2 85.65h2.2v3.36h-2.2zM70.4 88.42h2.2v3.36h-2.2zM74.8 121.57h2.2v3.36h-2.2zM22 41.45h2.2v3.36h-2.2zM24.2 44.21h2.2v3.36h-2.2zM13.2 60.79h2.2v3.36h-2.2zM13.2 63.55h2.2v3.36h-2.2zM15.4 63.55h2.2v3.36h-2.2zM15.4 66.31h2.2v3.36h-2.2zM88 149.2h2.2v3.36h-2.2zM90.2 149.2h2.2v3.36h-2.2zM22 44.21h2.2v3.36h-2.2zM125.4 58.02h2.2v3.36h-2.2zM52.8 0h2.2v3.36h-2.2zM81.4 160.25h2.2v3.36h-2.2zM123.2 5.53h2.2v3.36h-2.2zM6.6 77.36h2.2v3.36h-2.2zM8.8 80.13h2.2v3.36h-2.2zM2.2 38.68h2.2v3.36h-2.2zM90.2 160.25h2.2v3.36h-2.2zM92.4 0h2.2v3.36h-2.2zM37.4 157.49h2.2v3.36h-2.2zM39.6 157.49h2.2v3.36h-2.2zM39.6 160.25h2.2v3.36h-2.2zM41.8 160.25h2.2v3.36h-2.2zM88 24.87h2.2v3.36h-2.2zM11 35.92h2.2v3.36h-2.2zM83.6 160.25h2.2v3.36h-2.2zM85.8 0h2.2v3.36h-2.2zM68.2 149.2h2.2v3.36h-2.2zM46.2 74.6h2.2v3.36h-2.2zM48.4 77.36h2.2v3.36h-2.2zM107.8 2.76h2.2v3.36h-2.2zM110 5.53h2.2v3.36h-2.2zM112.2 5.53h2.2v3.36h-2.2zM94.6 99.47h2.2v3.36h-2.2zM116.6 27.63h2.2v3.36h-2.2zM110 96.7h2.2v3.36h-2.2zM70.4 85.65h2.2v3.36h-2.2zM92.4 60.79h2.2v3.36h-2.2zM88 99.47h2.2v3.36h-2.2zM8.8 93.94h2.2v3.36h-2.2zM118.8 104.99h2.2v3.36h-2.2zM121 107.76h2.2v3.36h-2.2zM123.2 110.52h2.2v3.36h-2.2zM132 30.39h2.2v3.36h-2.2zM134.2 30.39h2.2v3.36h-2.2zM15.4 30.39h2.2v3.36h-2.2zM70.4 129.86h2.2v3.36h-2.2zM114.4 160.25h2.2v3.36h-2.2zM35.2 88.42h2.2v3.36h-2.2zM37.4 91.18h2.2v3.36h-2.2zM132 44.21h2.2v3.36h-2.2zM134.2 46.97h2.2v3.36h-2.2zM8.8 102.23h2.2v3.36h-2.2zM70.4 80.13h2.2v3.36h-2.2zM77 19.34h2.2v3.36h-2.2zM66 66.31h2.2v3.36h-2.2zM68.2 66.31h2.2v3.36h-2.2zM77 16.58h2.2v3.36h-2.2zM90.2 60.79h2.2v3.36h-2.2zM94.6 63.55h2.2v3.36h-2.2zM48.4 121.57h2.2v3.36h-2.2zM112.2 132.62h2.2v3.36h-2.2zM114.4 135.39h2.2v3.36h-2.2zM0 11.05h2.2v3.36h-2.2zM90.2 35.92h2.2v3.36h-2.2zM81.4 85.65h2.2v3.36h-2.2zM145.2 74.6h2.2v3.36h-2.2zM81.4 110.52h2.2v3.36h-2.2zM72.6 135.39h2.2v3.36h-2.2zM125.4 121.57h2.2v3.36h-2.2zM107.8 41.45h2.2v3.36h-2.2zM110 44.21h2.2v3.36h-2.2zM39.6 124.33h2.2v3.36h-2.2zM41.8 127.1h2.2v3.36h-2.2zM66 140.91h2.2v3.36h-2.2zM61.6 66.31h2.2v3.36h-2.2zM105.6 5.53h2.2v3.36h-2.2zM107.8 8.29h2.2v3.36h-2.2zM110 11.05h2.2v3.36h-2.2zM15.4 11.05h2.2v3.36h-2.2zM127.6 151.97h2.2v3.36h-2.2zM26.4 121.57h2.2v3.36h-2.2zM140.8 33.16h2.2v3.36h-2.2zM143 35.92h2.2v3.36h-2.2zM138.6 41.45h2.2v3.36h-2.2zM99 24.87h2.2v3.36h-2.2zM79.2 104.99h2.2v3.36h-2.2zM28.6 146.44h2.2v3.36h-2.2zM30.8 149.2h2.2v3.36h-2.2zM59.4 116.05h2.2v3.36h-2.2zM61.6 118.81h2.2v3.36h-2.2zM63.8 121.57h2.2v3.36h-2.2zM17.6 55.26h2.2v3.36h-2.2zM2.2 96.7h2.2v3.36h-2.2zM4.4 99.47h2.2v3.36h-2.2zM55 91.18h2.2v3.36h-2.2zM57.2 93.94h2.2v3.36h-2.2zM48.4 80.13h2.2v3.36h-2.2zM50.6 82.89h2.2v3.36h-2.2zM101.2 80.13h2.2v3.36h-2.2zM112.2 52.5h2.2v3.36h-2.2zM114.4 55.26h2.2v3.36h-2.2zM90.2 124.33h2.2v3.36h-2.2zM138.6 5.53h2.2v3.36h-2.2zM41.8 154.73h2.2v3.36h-2.2zM35.2 27.63h2.2v3.36h-2.2zM37.4 27.63h2.2v3.36h-2.2zM39.6 121.57h2.2v3.36h-2.2zM41.8 124.33h2.2v3.36h-2.2zM44 127.1h2.2v3.36h-2.2zM74.8 0h2.2v3.36h-2.2zM28.6 60.79h2.2v3.36h-2.2zM30.8 63.55h2.2v3.36h-2.2zM33 66.31h2.2v3.36h-2.2zM127.6 74.6h2.2v3.36h-2.2zM44 146.44h2.2v3.36h-2.2zM46.2 149.2h2.2v3.36h-2.2zM129.8 74.6h2.2v3.36h-2.2zM15.4 124.33h2.2v3.36h-2.2zM8.8 27.63h2.2v3.36h-2.2zM94.6 35.92h2.2v3.36h-2.2z" fill="#f2e6ff"/><path d="M6.6 157.49h2.2v3.36h-2.2zM8.8 160.25h2.2v3.36h-2.2zM11 0h2.2v3.36h-2.2zM118.8 127.1h2.2v3.36h-2.2zM138.6 96.7h2.2v3.36h-2.2zM127.6 49.73h2.2v3.36h-2.2zM138.6 149.2h2.2v3.36h-2.2zM140.8 151.97h2.2v3.36h-2.2zM44 91.18h2.2v3.36h-2.2zM46.2 93.94h2.2v3.36h-2.2zM48.4 93.94h2.2v3.36h-2.2zM48.4 96.7h2.2v3.36h-2.2zM50.6 96.7h2.2v3.36h-2.2zM2.2 135.39h2.2v3.36h-2.2zM63.8 69.08h2.2v3.36h-2.2zM66 71.84h2.2v3.36h-2.2zM74.8 116.05h2.2v3.36h-2.2zM77 118.81h2.2v3.36h-2.2zM143 140.91h2.2v3.36h-2.2zM55 88.42h2.2v3.36h-2.2zM96.8 0h2.2v3.36h-2.2zM99 2.76h2.2v3.36h-2.2zM6.6 140.91h2.2v3.36h-2.2zM145.2 77.36h2.2v3.36h-2.2zM0 77.36h2.2v3.36h-2.2zM90.2 116.05h2.2v3.36h-2.2zM92.4 118.81h2.2v3.36h-2.2zM70.4 22.1h2.2v3.36h-2.2zM59.4 157.49h2.2v3.36h-2.2zM61.6 160.25h2.2v3.36h-2.2zM121 102.23h2.2v3.36h-2.2zM107.8 49.73h2.2v3.36h-2.2zM110 52.5h2.2v3.36h-2.2zM70.4 63.55h2.2v3.36h-2.2zM136.4 22.1h2.2v3.36h-2.2zM138.6 24.87h2.2v3.36h-2.2zM140.8 24.87h2.2v3.36h-2.2zM105.6 11.05h2.2v3.36h-2.2zM107.8 13.81h2.2v3.36h-2.2zM101.2 157.49h2.2v3.36h-2.2zM85.8 33.16h2.2v3.36h-2.2zM57.2 30.39h2.2v3.36h-2.2zM123.2 149.2h2.2v3.36h-2.2zM125.4 151.97h2.2v3.36h-2.2zM4.4 8.29h2.2v3.36h-2.2zM6.6 11.05h2.2v3.36h-2.2zM72.6 146.44h2.2v3.36h-2.2zM61.6 41.45h2.2v3.36h-2.2zM13.2 85.65h2.2v3.36h-2.2zM15.4 88.42h2.2v3.36h-2.2zM136.4 35.92h2.2v3.36h-2.2zM0 33.16h2.2v3.36h-2.2zM2.2 33.16h2.2v3.36h-2.2zM2.2 35.92h2.2v3.36h-2.2zM55 46.97h2.2v3.36h-2.2zM33 135.39h2.2v3.36h-2.2zM37.4 11.05h2.2v3.36h-2.2zM39.6 13.81h2.2v3.36h-2.2zM96.8 52.5h2.2v3.36h-2.2zM99 55.26h2.2v3.36h-2.2zM85.8 121.57h2.2v3.36h-2.2zM112.2 58.02h2.2v3.36h-2.2zM114.4 60.79h2.2v3.36h-2.2zM116.6 63.55h2.2v3.36h-2.2zM4.4 71.84h2.2v3.36h-2.2zM6.6 74.6h2.2v3.36h-2.2zM145.2 116.05h2.2v3.36h-2.2zM74.8 33.16h2.2v3.36h-2.2zM59.4 118.81h2.2v3.36h-2.2zM79.2 160.25h2.2v3.36h-2.2zM52.8 2.76h2.2v3.36h-2.2zM52.8 116.05h2.2v3.36h-2.2zM48.4 60.79h2.2v3.36h-2.2zM145.2 8.29h2.2v3.36h-2.2zM24.2 160.25h2.2v3.36h-2.2zM26.4 0h2.2v3.36h-2.2zM28.6 2.76h2.2v3.36h-2.2zM35.2 93.94h2.2v3.36h-2.2zM35.2 44.21h2.2v3.36h-2.2zM37.4 46.97h2.2v3.36h-2.2zM39.6 49.73h2.2v3.36h-2.2zM110 157.49h2.2v3.36h-2.2zM112.2 160.25h2.2v3.36h-2.2zM90.2 16.58h2.2v3.36h-2.2zM37.4 8.29h2.2v3.36h-2.2zM39.6 11.05h2.2v3.36h-2.2zM103.4 69.08h2.2v3.36h-2.2zM48.4 88.42h2.2v3.36h-2.2zM50.6 91.18h2.2v3.36h-2.2zM52.8 93.94h2.2v3.36h-2.2zM79.2 38.68h2.2v3.36h-2.2zM145.2 138.15h2.2v3.36h-2.2zM125.4 52.5h2.2v3.36h-2.2zM8.8 63.55h2.2v3.36h-2.2zM134.2 135.39h2.2v3.36h-2.2zM134.2 60.79h2.2v3.36h-2.2zM136.4 60.79h2.2v3.36h-2.2zM48.4 143.68h2.2v3.36h-2.2zM116.6 121.57h2.2v3.36h-2.2zM13.2 96.7h2.2v3.36h-2.2zM107.8 19.34h2.2v3.36h-2.2zM110 22.1h2.2v3.36h-2.2zM79.2 151.97h2.2v3.36h-2.2zM59.4 138.15h2.2v3.36h-2.2zM61.6 140.91h2.2v3.36h-2.2zM63.8 143.68h2.2v3.36h-2.2zM15.4 93.94h2.2v3.36h-2.2zM17.6 96.7h2.2v3.36h-2.2zM19.8 99.47h2.2v3.36h-2.2zM61.6 13.81h2.2v3.36h-2.2zM63.8 16.58h2.2v3.36h-2.2zM132 99.47h2.2v3.36h-2.2zM61.6 110.52h2.2v3.36h-2.2zM63.8 110.52h2.2v3.36h-2.2zM72.6 82.89h2.2v3.36h-2.2zM105.6 146.44h2.2v3.36h-2.2zM121 104.99h2.2v3.36h-2.2zM123.2 107.76h2.2v3.36h-2.2zM129.8 8.29h2.2v3.36h-2.2zM132 8.29h2.2v3.36h-2.2zM143 132.62h2.2v3.36h-2.2zM15.4 107.76h2.2v3.36h-2.2zM68.2 138.15h2.2v3.36h-2.2zM70.4 140.91h2.2v3.36h-2.2zM52.8 74.6h2.2v3.36h-2.2zM28.6 44.21h2.2v3.36h-2.2zM63.8 93.94h2.2v3.36h-2.2zM66 93.94h2.2v3.36h-2.2zM66 96.7h2.2v3.36h-2.2zM66 11.05h2.2v3.36h-2.2zM68.2 13.81h2.2v3.36h-2.2zM70.4 16.58h2.2v3.36h-2.2zM4.4 88.42h2.2v3.36h-2.2zM13.2 66.31h2.2v3.36h-2.2zM140.8 140.91h2.2v3.36h-2.2zM107.8 140.91h2.2v3.36h-2.2zM70.4 44.21h2.2v3.36h-2.2zM19.8 140.91h2.2v3.36h-2.2zM22 143.68h2.2v3.36h-2.2zM66 99.47h2.2v3.36h-2.2zM6.6 129.86h2.2v3.36h-2.2zM35.2 118.81h2.2v3.36h-2.2zM37.4 121.57h2.2v3.36h-2.2zM83.6 143.68h2.2v3.36h-2.2zM85.8 146.44h2.2v3.36h-2.2zM28.6 19.34h2.2v3.36h-2.2zM30.8 22.1h2.2v3.36h-2.2zM33 24.87h2.2v3.36h-2.2zM55 132.62h2.2v3.36h-2.2zM57.2 135.39h2.2v3.36h-2.2zM116.6 69.08h2.2v3.36h-2.2zM110 143.68h2.2v3.36h-2.2zM112.2 146.44h2.2v3.36h-2.2zM52.8 30.39h2.2v3.36h-2.2zM55 33.16h2.2v3.36h-2.2zM101.2 33.16h2.2v3.36h-2.2zM17.6 58.02h2.2v3.36h-2.2zM132 5.53h2.2v3.36h-2.2zM134.2 8.29h2.2v3.36h-2.2zM17.6 102.23h2.2v3.36h-2.2zM44 107.76h2.2v3.36h-2.2zM46.2 107.76h2.2v3.36h-2.2zM30.8 5.53h2.2v3.36h-2.2zM33 8.29h2.2v3.36h-2.2zM24.2 151.97h2.2v3.36h-2.2zM0 27.63h2.2v3.36h-2.2zM72.6 132.62h2.2v3.36h-2.2zM22 22.1h2.2v3.36h-2.2zM140.8 63.55h2.2v3.36h-2.2zM118.8 107.76h2.2v3.36h-2.2zM28.6 116.05h2.2v3.36h-2.2zM30.8 118.81h2.2v3.36h-2.2zM140.8 149.2h2.2v3.36h-2.2zM11 138.15h2.2v3.36h-2.2zM39.6 66.31h2.2v3.36h-2.2zM41.8 69.08h2.2v3.36h-2.2zM44 71.84h2.2v3.36h-2.2zM2.2 44.21h2.2v3.36h-2.2zM4.4 44.21h2.2v3.36h-2.2zM4.4 46.97h2.2v3.36h-2.2zM6.6 49.73h2.2v3.36h-2.2zM55 71.84h2.2v3.36h-2.2zM63.8 44.21h2.2v3.36h-2.2zM103.4 74.6h2.2v3.36h-2.2zM105.6 77.36h2.2v3.36h-2.2zM92.4 138.15h2.2v3.36h-2.2zM52.8 55.26h2.2v3.36h-2.2zM105.6 151.97h2.2v3.36h-2.2zM107.8 154.73h2.2v3.36h-2.2zM103.4 71.84h2.2v3.36h-2.2zM132 88.42h2.2v3.36h-2.2zM46.2 16.58h2.2v3.36h-2.2zM48.4 19.34h2.2v3.36h-2.2zM132 52.5h2.2v3.36h-2.2zM17.6 118.81h2.2v3.36h-2.2zM19.8 118.81h2.2v3.36h-2.2zM101.2 88.42h2.2v3.36h-2.2zM103.4 91.18h2.2v3.36h-2.2zM105.6 93.94h2.2v3.36h-2.2zM85.8 58.02h2.2v3.36h-2.2zM85.8 99.47h2.2v3.36h-2.2zM121 151.97h2.2v3.36h-2.2zM123.2 154.73h2.2v3.36h-2.2zM125.4 157.49h2.2v3.36h-2.2zM57.2 2.76h2.2v3.36h-2.2zM13.2 149.2h2.2v3.36h-2.2zM138.6 99.47h2.2v3.36h-2.2zM68.2 5.53h2.2v3.36h-2.2zM70.4 8.29h2.2v3.36h-2.2zM145.2 88.42h2.2v3.36h-2.2zM83.6 149.2h2.2v3.36h-2.2zM52.8 27.63h2.2v3.36h-2.2zM136.4 82.89h2.2v3.36h-2.2zM85.8 27.63h2.2v3.36h-2.2zM88 30.39h2.2v3.36h-2.2zM48.4 107.76h2.2v3.36h-2.2zM39.6 60.79h2.2v3.36h-2.2zM81.4 30.39h2.2v3.36h-2.2zM59.4 27.63h2.2v3.36h-2.2zM6.6 60.79h2.2v3.36h-2.2zM114.4 24.87h2.2v3.36h-2.2zM44 24.87h2.2v3.36h-2.2zM37.4 93.94h2.2v3.36h-2.2zM145.2 124.33h2.2v3.36h-2.2zM96.8 132.62h2.2v3.36h-2.2zM66 116.05h2.2v3.36h-2.2zM116.6 135.39h2.2v3.36h-2.2zM118.8 135.39h2.2v3.36h-2.2zM121 13.81h2.2v3.36h-2.2zM114.4 41.45h2.2v3.36h-2.2zM116.6 44.21h2.2v3.36h-2.2zM30.8 11.05h2.2v3.36h-2.2zM66 13.81h2.2v3.36h-2.2zM118.8 96.7h2.2v3.36h-2.2zM121 96.7h2.2v3.36h-2.2zM6.6 46.97h2.2v3.36h-2.2zM8.8 49.73h2.2v3.36h-2.2zM90.2 135.39h2.2v3.36h-2.2zM92.4 135.39h2.2v3.36h-2.2zM114.4 118.81h2.2v3.36h-2.2zM83.6 22.1h2.2v3.36h-2.2zM127.6 149.2h2.2v3.36h-2.2zM55 135.39h2.2v3.36h-2.2zM90.2 104.99h2.2v3.36h-2.2zM92.4 107.76h2.2v3.36h-2.2zM125.4 13.81h2.2v3.36h-2.2zM11 19.34h2.2v3.36h-2.2zM13.2 22.1h2.2v3.36h-2.2zM118.8 149.2h2.2v3.36h-2.2zM145.2 66.31h2.2v3.36h-2.2zM112.2 151.97h2.2v3.36h-2.2zM114.4 151.97h2.2v3.36h-2.2zM107.8 107.76h2.2v3.36h-2.2zM74.8 82.89h2.2v3.36h-2.2zM77 85.65h2.2v3.36h-2.2zM35.2 135.39h2.2v3.36h-2.2zM37.4 138.15h2.2v3.36h-2.2zM39.6 140.91h2.2v3.36h-2.2zM85.8 13.81h2.2v3.36h-2.2zM88 16.58h2.2v3.36h-2.2zM46.2 154.73h2.2v3.36h-2.2zM8.8 77.36h2.2v3.36h-2.2zM2.2 104.99h2.2v3.36h-2.2zM107.8 151.97h2.2v3.36h-2.2zM114.4 127.1h2.2v3.36h-2.2zM116.6 129.86h2.2v3.36h-2.2zM118.8 132.62h2.2v3.36h-2.2zM121 132.62h2.2v3.36h-2.2zM8.8 22.1h2.2v3.36h-2.2zM11 24.87h2.2v3.36h-2.2zM28.6 151.97h2.2v3.36h-2.2zM30.8 154.73h2.2v3.36h-2.2zM140.8 82.89h2.2v3.36h-2.2zM50.6 118.81h2.2v3.36h-2.2zM52.8 121.57h2.2v3.36h-2.2zM55 121.57h2.2v3.36h-2.2zM55 124.33h2.2v3.36h-2.2zM138.6 8.29h2.2v3.36h-2.2zM140.8 11.05h2.2v3.36h-2.2zM143 13.81h2.2v3.36h-2.2zM63.8 80.13h2.2v3.36h-2.2zM8.8 46.97h2.2v3.36h-2.2zM11 49.73h2.2v3.36h-2.2zM13.2 52.5h2.2v3.36h-2.2zM22 55.26h2.2v3.36h-2.2zM24.2 58.02h2.2v3.36h-2.2zM66 149.2h2.2v3.36h-2.2zM15.4 2.76h2.2v3.36h-2.2zM48.4 38.68h2.2v3.36h-2.2zM140.8 127.1h2.2v3.36h-2.2zM143 129.86h2.2v3.36h-2.2zM61.6 24.87h2.2v3.36h-2.2zM74.8 8.29h2.2v3.36h-2.2zM77 11.05h2.2v3.36h-2.2zM30.8 93.94h2.2v3.36h-2.2zM59.4 160.25h2.2v3.36h-2.2zM77 33.16h2.2v3.36h-2.2zM79.2 35.92h2.2v3.36h-2.2zM6.6 110.52h2.2v3.36h-2.2zM8.8 110.52h2.2v3.36h-2.2zM8.8 113.28h2.2v3.36h-2.2zM4.4 121.57h2.2v3.36h-2.2zM6.6 124.33h2.2v3.36h-2.2zM4.4 0h2.2v3.36h-2.2zM6.6 2.76h2.2v3.36h-2.2zM8.8 5.53h2.2v3.36h-2.2zM132 127.1h2.2v3.36h-2.2zM61.6 27.63h2.2v3.36h-2.2zM63.8 30.39h2.2v3.36h-2.2zM46.2 60.79h2.2v3.36h-2.2zM48.4 63.55h2.2v3.36h-2.2zM50.6 66.31h2.2v3.36h-2.2zM17.6 5.53h2.2v3.36h-2.2zM94.6 74.6h2.2v3.36h-2.2zM96.8 77.36h2.2v3.36h-2.2zM70.4 82.89h2.2v3.36h-2.2zM74.8 85.65h2.2v3.36h-2.2zM74.8 88.42h2.2v3.36h-2.2zM19.8 74.6h2.2v3.36h-2.2zM22 77.36h2.2v3.36h-2.2zM94.6 121.57h2.2v3.36h-2.2zM96.8 124.33h2.2v3.36h-2.2zM121 38.68h2.2v3.36h-2.2zM123.2 41.45h2.2v3.36h-2.2zM6.6 16.58h2.2v3.36h-2.2zM8.8 16.58h2.2v3.36h-2.2zM8.8 19.34h2.2v3.36h-2.2zM61.6 135.39h2.2v3.36h-2.2zM63.8 138.15h2.2v3.36h-2.2zM92.4 24.87h2.2v3.36h-2.2zM90.2 22.1h2.2v3.36h-2.2zM77 140.91h2.2v3.36h-2.2zM79.2 143.68h2.2v3.36h-2.2zM30.8 66.31h2.2v3.36h-2.2zM63.8 58.02h2.2v3.36h-2.2zM48.4 135.39h2.2v3.36h-2.2zM37.4 5.53h2.2v3.36h-2.2zM4.4 116.05h2.2v3.36h-2.2zM44 38.68h2.2v3.36h-2.2zM121 74.6h2.2v3.36h-2.2zM123.2 77.36h2.2v3.36h-2.2zM125.4 80.13h2.2v3.36h-2.2zM66 151.97h2.2v3.36h-2.2zM116.6 35.92h2.2v3.36h-2.2zM77 30.39h2.2v3.36h-2.2zM79.2 33.16h2.2v3.36h-2.2zM61.6 22.1h2.2v3.36h-2.2zM63.8 24.87h2.2v3.36h-2.2zM118.8 63.55h2.2v3.36h-2.2zM110 58.02h2.2v3.36h-2.2zM112.2 60.79h2.2v3.36h-2.2zM17.6 69.08h2.2v3.36h-2.2zM140.8 8.29h2.2v3.36h-2.2zM143 11.05h2.2v3.36h-2.2zM143 85.65h2.2v3.36h-2.2zM39.6 44.21h2.2v3.36h-2.2zM41.8 46.97h2.2v3.36h-2.2zM107.8 146.44h2.2v3.36h-2.2zM110 146.44h2.2v3.36h-2.2zM2.2 132.62h2.2v3.36h-2.2zM35.2 132.62h2.2v3.36h-2.2zM68.2 38.68h2.2v3.36h-2.2zM70.4 41.45h2.2v3.36h-2.2zM72.6 41.45h2.2v3.36h-2.2zM70.4 24.87h2.2v3.36h-2.2zM22 74.6h2.2v3.36h-2.2zM24.2 77.36h2.2v3.36h-2.2zM121 91.18h2.2v3.36h-2.2zM123.2 91.18h2.2v3.36h-2.2zM123.2 93.94h2.2v3.36h-2.2zM96.8 91.18h2.2v3.36h-2.2zM99 93.94h2.2v3.36h-2.2zM66 124.33h2.2v3.36h-2.2zM68.2 127.1h2.2v3.36h-2.2zM107.8 52.5h2.2v3.36h-2.2zM110 55.26h2.2v3.36h-2.2zM2.2 124.33h2.2v3.36h-2.2zM145.2 38.68h2.2v3.36h-2.2zM83.6 127.1h2.2v3.36h-2.2zM116.6 30.39h2.2v3.36h-2.2zM118.8 33.16h2.2v3.36h-2.2zM125.4 66.31h2.2v3.36h-2.2zM140.8 93.94h2.2v3.36h-2.2zM143 96.7h2.2v3.36h-2.2zM39.6 5.53h2.2v3.36h-2.2zM57.2 116.05h2.2v3.36h-2.2zM74.8 118.81h2.2v3.36h-2.2zM77 121.57h2.2v3.36h-2.2z" fill="#e0c2ff"/><path d="M37.4 99.47h2.2v3.36h-2.2zM39.6 99.47h2.2v3.36h-2.2zM39.6 102.23h2.2v3.36h-2.2zM41.8 104.99h2.2v3.36h-2.2zM132 113.28h2.2v3.36h-2.2zM103.4 13.81h2.2v3.36h-2.2zM50.6 151.97h2.2v3.36h-2.2zM46.2 116.05h2.2v3.36h-2.2zM57.2 104.99h2.2v3.36h-2.2zM59.4 104.99h2.2v3.36h-2.2zM125.4 124.33h2.2v3.36h-2.2zM127.6 127.1h2.2v3.36h-2.2zM85.8 160.25h2.2v3.36h-2.2zM81.4 0h2.2v3.36h-2.2zM83.6 2.76h2.2v3.36h-2.2zM11 33.16h2.2v3.36h-2.2zM28.6 74.6h2.2v3.36h-2.2zM81.4 96.7h2.2v3.36h-2.2zM30.8 44.21h2.2v3.36h-2.2zM2.2 49.73h2.2v3.36h-2.2zM4.4 52.5h2.2v3.36h-2.2zM6.6 55.26h2.2v3.36h-2.2zM8.8 135.39h2.2v3.36h-2.2zM72.6 85.65h2.2v3.36h-2.2zM57.2 52.5h2.2v3.36h-2.2zM103.4 27.63h2.2v3.36h-2.2zM105.6 30.39h2.2v3.36h-2.2zM125.4 138.15h2.2v3.36h-2.2zM127.6 140.91h2.2v3.36h-2.2zM129.8 143.68h2.2v3.36h-2.2zM77 110.52h2.2v3.36h-2.2zM55 80.13h2.2v3.36h-2.2zM57.2 82.89h2.2v3.36h-2.2zM74.8 149.2h2.2v3.36h-2.2zM2.2 60.79h2.2v3.36h-2.2zM83.6 24.87h2.2v3.36h-2.2zM13.2 27.63h2.2v3.36h-2.2zM74.8 60.79h2.2v3.36h-2.2zM77 63.55h2.2v3.36h-2.2zM61.6 44.21h2.2v3.36h-2.2zM63.8 46.97h2.2v3.36h-2.2zM66 46.97h2.2v3.36h-2.2zM50.6 5.53h2.2v3.36h-2.2zM52.8 5.53h2.2v3.36h-2.2zM123.2 58.02h2.2v3.36h-2.2zM125.4 60.79h2.2v3.36h-2.2zM46.2 38.68h2.2v3.36h-2.2zM107.8 35.92h2.2v3.36h-2.2zM35.2 5.53h2.2v3.36h-2.2zM74.8 13.81h2.2v3.36h-2.2zM11 52.5h2.2v3.36h-2.2zM13.2 55.26h2.2v3.36h-2.2zM15.4 58.02h2.2v3.36h-2.2zM74.8 55.26h2.2v3.36h-2.2zM77 58.02h2.2v3.36h-2.2zM68.2 121.57h2.2v3.36h-2.2zM70.4 124.33h2.2v3.36h-2.2zM22 149.2h2.2v3.36h-2.2zM66 74.6h2.2v3.36h-2.2zM52.8 140.91h2.2v3.36h-2.2zM0 93.94h2.2v3.36h-2.2zM88 135.39h2.2v3.36h-2.2zM90.2 138.15h2.2v3.36h-2.2zM138.6 38.68h2.2v3.36h-2.2zM26.4 69.08h2.2v3.36h-2.2zM28.6 71.84h2.2v3.36h-2.2zM28.6 129.86h2.2v3.36h-2.2zM30.8 132.62h2.2v3.36h-2.2zM13.2 138.15h2.2v3.36h-2.2zM37.4 113.28h2.2v3.36h-2.2zM39.6 116.05h2.2v3.36h-2.2zM41.8 118.81h2.2v3.36h-2.2zM118.8 55.26h2.2v3.36h-2.2zM94.6 46.97h2.2v3.36h-2.2zM30.8 60.79h2.2v3.36h-2.2zM33 63.55h2.2v3.36h-2.2zM35.2 66.31h2.2v3.36h-2.2zM74.8 69.08h2.2v3.36h-2.2zM39.6 46.97h2.2v3.36h-2.2zM0 140.91h2.2v3.36h-2.2zM99 140.91h2.2v3.36h-2.2zM94.6 77.36h2.2v3.36h-2.2zM96.8 80.13h2.2v3.36h-2.2zM99 82.89h2.2v3.36h-2.2zM101.2 82.89h2.2v3.36h-2.2zM59.4 69.08h2.2v3.36h-2.2zM19.8 30.39h2.2v3.36h-2.2zM145.2 127.1h2.2v3.36h-2.2zM19.8 41.45h2.2v3.36h-2.2zM85.8 80.13h2.2v3.36h-2.2zM37.4 96.7h2.2v3.36h-2.2zM37.4 49.73h2.2v3.36h-2.2zM81.4 13.81h2.2v3.36h-2.2zM83.6 16.58h2.2v3.36h-2.2zM15.4 8.29h2.2v3.36h-2.2zM17.6 11.05h2.2v3.36h-2.2zM19.8 13.81h2.2v3.36h-2.2zM145.2 22.1h2.2v3.36h-2.2zM0 24.87h2.2v3.36h-2.2zM2.2 27.63h2.2v3.36h-2.2zM26.4 11.05h2.2v3.36h-2.2zM28.6 13.81h2.2v3.36h-2.2zM110 13.81h2.2v3.36h-2.2zM123.2 143.68h2.2v3.36h-2.2zM125.4 143.68h2.2v3.36h-2.2zM127.6 58.02h2.2v3.36h-2.2zM129.8 60.79h2.2v3.36h-2.2zM94.6 58.02h2.2v3.36h-2.2zM83.6 99.47h2.2v3.36h-2.2zM85.8 102.23h2.2v3.36h-2.2zM88 104.99h2.2v3.36h-2.2zM143 77.36h2.2v3.36h-2.2zM88 102.23h2.2v3.36h-2.2zM90.2 107.76h2.2v3.36h-2.2zM17.6 22.1h2.2v3.36h-2.2zM19.8 24.87h2.2v3.36h-2.2zM22 27.63h2.2v3.36h-2.2zM50.6 132.62h2.2v3.36h-2.2zM52.8 135.39h2.2v3.36h-2.2zM55 138.15h2.2v3.36h-2.2zM2.2 146.44h2.2v3.36h-2.2zM72.6 74.6h2.2v3.36h-2.2zM74.8 74.6h2.2v3.36h-2.2zM17.6 35.92h2.2v3.36h-2.2zM15.4 41.45h2.2v3.36h-2.2zM17.6 41.45h2.2v3.36h-2.2zM17.6 44.21h2.2v3.36h-2.2zM30.8 13.81h2.2v3.36h-2.2zM33 16.58h2.2v3.36h-2.2zM35.2 19.34h2.2v3.36h-2.2zM118.8 151.97h2.2v3.36h-2.2zM30.8 41.45h2.2v3.36h-2.2zM41.8 27.63h2.2v3.36h-2.2zM11 127.1h2.2v3.36h-2.2zM74.8 154.73h2.2v3.36h-2.2zM77 157.49h2.2v3.36h-2.2zM79.2 157.49h2.2v3.36h-2.2zM59.4 46.97h2.2v3.36h-2.2zM2.2 66.31h2.2v3.36h-2.2zM103.4 8.29h2.2v3.36h-2.2zM92.4 22.1h2.2v3.36h-2.2zM85.8 38.68h2.2v3.36h-2.2zM88 41.45h2.2v3.36h-2.2zM33 74.6h2.2v3.36h-2.2zM118.8 154.73h2.2v3.36h-2.2zM121 157.49h2.2v3.36h-2.2zM127.6 55.26h2.2v3.36h-2.2zM129.8 55.26h2.2v3.36h-2.2zM61.6 38.68h2.2v3.36h-2.2zM37.4 2.76h2.2v3.36h-2.2zM26.4 8.29h2.2v3.36h-2.2zM35.2 151.97h2.2v3.36h-2.2zM6.6 82.89h2.2v3.36h-2.2zM55 19.34h2.2v3.36h-2.2zM57.2 22.1h2.2v3.36h-2.2zM143 30.39h2.2v3.36h-2.2zM145.2 33.16h2.2v3.36h-2.2zM129.8 49.73h2.2v3.36h-2.2zM81.4 157.49h2.2v3.36h-2.2zM105.6 116.05h2.2v3.36h-2.2zM103.4 80.13h2.2v3.36h-2.2zM143 2.76h2.2v3.36h-2.2zM63.8 41.45h2.2v3.36h-2.2zM66 44.21h2.2v3.36h-2.2zM134.2 44.21h2.2v3.36h-2.2zM85.8 135.39h2.2v3.36h-2.2zM33 91.18h2.2v3.36h-2.2zM83.6 19.34h2.2v3.36h-2.2zM77 13.81h2.2v3.36h-2.2zM26.4 146.44h2.2v3.36h-2.2zM127.6 154.73h2.2v3.36h-2.2zM134.2 107.76h2.2v3.36h-2.2zM136.4 107.76h2.2v3.36h-2.2zM136.4 110.52h2.2v3.36h-2.2zM0 80.13h2.2v3.36h-2.2zM2.2 82.89h2.2v3.36h-2.2zM4.4 82.89h2.2v3.36h-2.2zM11 104.99h2.2v3.36h-2.2zM13.2 107.76h2.2v3.36h-2.2zM15.4 110.52h2.2v3.36h-2.2zM26.4 80.13h2.2v3.36h-2.2zM28.6 82.89h2.2v3.36h-2.2zM30.8 82.89h2.2v3.36h-2.2zM83.6 27.63h2.2v3.36h-2.2zM85.8 30.39h2.2v3.36h-2.2zM88 33.16h2.2v3.36h-2.2zM129.8 41.45h2.2v3.36h-2.2zM88 160.25h2.2v3.36h-2.2zM90.2 0h2.2v3.36h-2.2zM13.2 102.23h2.2v3.36h-2.2zM15.4 104.99h2.2v3.36h-2.2zM17.6 107.76h2.2v3.36h-2.2zM72.6 69.08h2.2v3.36h-2.2zM2.2 19.34h2.2v3.36h-2.2zM4.4 22.1h2.2v3.36h-2.2zM6.6 24.87h2.2v3.36h-2.2zM61.6 52.5h2.2v3.36h-2.2zM63.8 55.26h2.2v3.36h-2.2zM8.8 66.31h2.2v3.36h-2.2zM11 69.08h2.2v3.36h-2.2zM0 38.68h2.2v3.36h-2.2zM2.2 41.45h2.2v3.36h-2.2zM30.8 116.05h2.2v3.36h-2.2zM46.2 157.49h2.2v3.36h-2.2zM48.4 160.25h2.2v3.36h-2.2zM57.2 102.23h2.2v3.36h-2.2zM136.4 151.97h2.2v3.36h-2.2zM110 35.92h2.2v3.36h-2.2zM13.2 82.89h2.2v3.36h-2.2zM55 11.05h2.2v3.36h-2.2zM105.6 91.18h2.2v3.36h-2.2zM107.8 93.94h2.2v3.36h-2.2zM92.4 149.2h2.2v3.36h-2.2zM94.6 151.97h2.2v3.36h-2.2zM90.2 38.68h2.2v3.36h-2.2zM92.4 38.68h2.2v3.36h-2.2zM0 146.44h2.2v3.36h-2.2zM2.2 149.2h2.2v3.36h-2.2zM15.4 55.26h2.2v3.36h-2.2zM116.6 46.97h2.2v3.36h-2.2zM118.8 46.97h2.2v3.36h-2.2zM118.8 49.73h2.2v3.36h-2.2zM121 52.5h2.2v3.36h-2.2zM52.8 107.76h2.2v3.36h-2.2zM55 110.52h2.2v3.36h-2.2zM11 8.29h2.2v3.36h-2.2zM41.8 135.39h2.2v3.36h-2.2zM37.4 107.76h2.2v3.36h-2.2zM39.6 110.52h2.2v3.36h-2.2zM63.8 35.92h2.2v3.36h-2.2zM70.4 58.02h2.2v3.36h-2.2zM30.8 30.39h2.2v3.36h-2.2zM33 33.16h2.2v3.36h-2.2zM88 52.5h2.2v3.36h-2.2zM50.6 135.39h2.2v3.36h-2.2zM17.6 157.49h2.2v3.36h-2.2zM19.8 157.49h2.2v3.36h-2.2zM19.8 160.25h2.2v3.36h-2.2z" fill="#cc99ff"/><path d="M118.8 8.29h2.2v3.36h-2.2zM70.4 5.53h2.2v3.36h-2.2zM72.6 5.53h2.2v3.36h-2.2zM72.6 8.29h2.2v3.36h-2.2zM74.8 11.05h2.2v3.36h-2.2zM105.6 96.7h2.2v3.36h-2.2zM50.6 55.26h2.2v3.36h-2.2zM52.8 58.02h2.2v3.36h-2.2zM55 60.79h2.2v3.36h-2.2zM19.8 46.97h2.2v3.36h-2.2zM22 49.73h2.2v3.36h-2.2zM24.2 49.73h2.2v3.36h-2.2zM41.8 24.87h2.2v3.36h-2.2zM44 27.63h2.2v3.36h-2.2zM46.2 30.39h2.2v3.36h-2.2zM140.8 157.49h2.2v3.36h-2.2zM143 160.25h2.2v3.36h-2.2zM70.4 74.6h2.2v3.36h-2.2zM37.4 135.39h2.2v3.36h-2.2zM39.6 138.15h2.2v3.36h-2.2zM121 69.08h2.2v3.36h-2.2zM79.2 140.91h2.2v3.36h-2.2zM81.4 140.91h2.2v3.36h-2.2zM138.6 19.34h2.2v3.36h-2.2zM140.8 22.1h2.2v3.36h-2.2zM46.2 88.42h2.2v3.36h-2.2zM48.4 91.18h2.2v3.36h-2.2zM134.2 138.15h2.2v3.36h-2.2zM112.2 55.26h2.2v3.36h-2.2zM57.2 149.2h2.2v3.36h-2.2zM59.4 149.2h2.2v3.36h-2.2zM110 132.62h2.2v3.36h-2.2zM112.2 135.39h2.2v3.36h-2.2zM145.2 93.94h2.2v3.36h-2.2zM77 82.89h2.2v3.36h-2.2zM105.6 143.68h2.2v3.36h-2.2zM114.4 93.94h2.2v3.36h-2.2zM116.6 96.7h2.2v3.36h-2.2zM118.8 99.47h2.2v3.36h-2.2zM4.4 157.49h2.2v3.36h-2.2zM79.2 71.84h2.2v3.36h-2.2zM110 19.34h2.2v3.36h-2.2zM112.2 22.1h2.2v3.36h-2.2zM92.4 19.34h2.2v3.36h-2.2zM6.6 13.81h2.2v3.36h-2.2zM105.6 129.86h2.2v3.36h-2.2zM107.8 132.62h2.2v3.36h-2.2zM55 13.81h2.2v3.36h-2.2zM57.2 16.58h2.2v3.36h-2.2zM48.4 157.49h2.2v3.36h-2.2zM83.6 69.08h2.2v3.36h-2.2zM143 52.5h2.2v3.36h-2.2zM145.2 55.26h2.2v3.36h-2.2zM0 58.02h2.2v3.36h-2.2zM2.2 58.02h2.2v3.36h-2.2zM88 58.02h2.2v3.36h-2.2zM85.8 129.86h2.2v3.36h-2.2zM85.8 132.62h2.2v3.36h-2.2zM30.8 88.42h2.2v3.36h-2.2zM15.4 138.15h2.2v3.36h-2.2zM136.4 154.73h2.2v3.36h-2.2zM125.4 160.25h2.2v3.36h-2.2zM4.4 35.92h2.2v3.36h-2.2zM85.8 104.99h2.2v3.36h-2.2zM134.2 58.02h2.2v3.36h-2.2zM90.2 2.76h2.2v3.36h-2.2zM132 77.36h2.2v3.36h-2.2zM134.2 77.36h2.2v3.36h-2.2zM134.2 80.13h2.2v3.36h-2.2zM88 77.36h2.2v3.36h-2.2zM138.6 118.81h2.2v3.36h-2.2zM140.8 121.57h2.2v3.36h-2.2zM114.4 35.92h2.2v3.36h-2.2zM116.6 38.68h2.2v3.36h-2.2zM118.8 41.45h2.2v3.36h-2.2zM0 5.53h2.2v3.36h-2.2zM127.6 22.1h2.2v3.36h-2.2zM129.8 24.87h2.2v3.36h-2.2zM132 24.87h2.2v3.36h-2.2zM132 74.6h2.2v3.36h-2.2zM134.2 74.6h2.2v3.36h-2.2zM6.6 22.1h2.2v3.36h-2.2zM19.8 55.26h2.2v3.36h-2.2zM79.2 8.29h2.2v3.36h-2.2zM6.6 33.16h2.2v3.36h-2.2zM8.8 35.92h2.2v3.36h-2.2zM145.2 129.86h2.2v3.36h-2.2zM0 132.62h2.2v3.36h-2.2zM46.2 8.29h2.2v3.36h-2.2zM48.4 11.05h2.2v3.36h-2.2zM50.6 11.05h2.2v3.36h-2.2zM136.4 99.47h2.2v3.36h-2.2zM118.8 38.68h2.2v3.36h-2.2zM121 41.45h2.2v3.36h-2.2zM123.2 44.21h2.2v3.36h-2.2zM134.2 49.73h2.2v3.36h-2.2zM123.2 19.34h2.2v3.36h-2.2zM99 107.76h2.2v3.36h-2.2zM101.2 110.52h2.2v3.36h-2.2zM15.4 135.39h2.2v3.36h-2.2zM72.6 96.7h2.2v3.36h-2.2zM112.2 129.86h2.2v3.36h-2.2zM96.8 19.34h2.2v3.36h-2.2zM46.2 55.26h2.2v3.36h-2.2zM48.4 58.02h2.2v3.36h-2.2zM52.8 16.58h2.2v3.36h-2.2zM138.6 127.1h2.2v3.36h-2.2zM123.2 2.76h2.2v3.36h-2.2zM48.4 8.29h2.2v3.36h-2.2zM101.2 69.08h2.2v3.36h-2.2zM105.6 74.6h2.2v3.36h-2.2zM44 124.33h2.2v3.36h-2.2zM105.6 19.34h2.2v3.36h-2.2zM107.8 22.1h2.2v3.36h-2.2zM110 24.87h2.2v3.36h-2.2zM46.2 66.31h2.2v3.36h-2.2zM48.4 69.08h2.2v3.36h-2.2zM17.6 135.39h2.2v3.36h-2.2zM19.8 138.15h2.2v3.36h-2.2zM22 140.91h2.2v3.36h-2.2zM88 5.53h2.2v3.36h-2.2zM90.2 8.29h2.2v3.36h-2.2zM92.4 11.05h2.2v3.36h-2.2zM140.8 41.45h2.2v3.36h-2.2zM143 44.21h2.2v3.36h-2.2zM68.2 96.7h2.2v3.36h-2.2zM70.4 99.47h2.2v3.36h-2.2zM107.8 38.68h2.2v3.36h-2.2zM110 41.45h2.2v3.36h-2.2zM96.8 13.81h2.2v3.36h-2.2zM19.8 104.99h2.2v3.36h-2.2zM66 0h2.2v3.36h-2.2zM15.4 113.28h2.2v3.36h-2.2zM37.4 16.58h2.2v3.36h-2.2zM11 96.7h2.2v3.36h-2.2zM129.8 38.68h2.2v3.36h-2.2zM132 38.68h2.2v3.36h-2.2zM30.8 55.26h2.2v3.36h-2.2zM79.2 91.18h2.2v3.36h-2.2zM81.4 93.94h2.2v3.36h-2.2zM83.6 96.7h2.2v3.36h-2.2z" fill="#b266ff"/><path d="M26.4 30.39h2.2v3.36h-2.2zM28.6 33.16h2.2v3.36h-2.2zM92.4 157.49h2.2v3.36h-2.2zM94.6 160.25h2.2v3.36h-2.2zM19.8 66.31h2.2v3.36h-2.2zM22 69.08h2.2v3.36h-2.2zM24.2 71.84h2.2v3.36h-2.2zM17.6 160.25h2.2v3.36h-2.2zM94.6 38.68h2.2v3.36h-2.2zM96.8 38.68h2.2v3.36h-2.2zM33 157.49h2.2v3.36h-2.2zM35.2 160.25h2.2v3.36h-2.2zM2.2 93.94h2.2v3.36h-2.2zM30.8 160.25h2.2v3.36h-2.2zM33 160.25h2.2v3.36h-2.2zM19.8 44.21h2.2v3.36h-2.2zM13.2 140.91h2.2v3.36h-2.2zM127.6 0h2.2v3.36h-2.2zM103.4 11.05h2.2v3.36h-2.2zM105.6 13.81h2.2v3.36h-2.2zM26.4 41.45h2.2v3.36h-2.2zM2.2 24.87h2.2v3.36h-2.2zM63.8 149.2h2.2v3.36h-2.2zM101.2 71.84h2.2v3.36h-2.2zM116.6 143.68h2.2v3.36h-2.2zM105.6 71.84h2.2v3.36h-2.2zM107.8 74.6h2.2v3.36h-2.2zM101.2 99.47h2.2v3.36h-2.2zM85.8 2.76h2.2v3.36h-2.2zM123.2 71.84h2.2v3.36h-2.2zM125.4 71.84h2.2v3.36h-2.2zM22 71.84h2.2v3.36h-2.2zM24.2 74.6h2.2v3.36h-2.2zM107.8 27.63h2.2v3.36h-2.2zM143 55.26h2.2v3.36h-2.2zM24.2 102.23h2.2v3.36h-2.2zM114.4 38.68h2.2v3.36h-2.2zM99 63.55h2.2v3.36h-2.2zM101.2 63.55h2.2v3.36h-2.2zM101.2 66.31h2.2v3.36h-2.2z" fill="#9933ff"/></pattern><pattern id="nzB" width="134.2" height="146.44" patternUnits="userSpaceOnUse"><path d="M121 8.29h2.2v3.36h-2.2zM4.4 102.23h2.2v3.36h-2.2zM6.6 104.99h2.2v3.36h-2.2zM37.4 5.53h2.2v3.36h-2.2zM39.6 8.29h2.2v3.36h-2.2zM41.8 11.05h2.2v3.36h-2.2zM2.2 30.39h2.2v3.36h-2.2zM63.8 113.28h2.2v3.36h-2.2zM66 116.05h2.2v3.36h-2.2zM114.4 121.57h2.2v3.36h-2.2zM116.6 124.33h2.2v3.36h-2.2zM118.8 127.1h2.2v3.36h-2.2zM79.2 113.28h2.2v3.36h-2.2zM6.6 63.55h2.2v3.36h-2.2zM11 19.34h2.2v3.36h-2.2zM2.2 63.55h2.2v3.36h-2.2zM33 24.87h2.2v3.36h-2.2zM88 129.86h2.2v3.36h-2.2zM90.2 132.62h2.2v3.36h-2.2zM92.4 132.62h2.2v3.36h-2.2zM19.8 58.02h2.2v3.36h-2.2zM4.4 22.1h2.2v3.36h-2.2zM61.6 11.05h2.2v3.36h-2.2zM72.6 132.62h2.2v3.36h-2.2zM24.2 132.62h2.2v3.36h-2.2zM26.4 132.62h2.2v3.36h-2.2zM129.8 63.55h2.2v3.36h-2.2zM13.2 16.58h2.2v3.36h-2.2zM81.4 107.76h2.2v3.36h-2.2zM83.6 107.76h2.2v3.36h-2.2zM41.8 127.1h2.2v3.36h-2.2zM22 85.65h2.2v3.36h-2.2zM24.2 88.42h2.2v3.36h-2.2zM74.8 132.62h2.2v3.36h-2.2zM99 88.42h2.2v3.36h-2.2zM70.4 8.29h2.2v3.36h-2.2zM99 129.86h2.2v3.36h-2.2zM101.2 132.62h2.2v3.36h-2.2zM127.6 80.13h2.2v3.36h-2.2zM129.8 82.89h2.2v3.36h-2.2zM24.2 80.13h2.2v3.36h-2.2zM26.4 82.89h2.2v3.36h-2.2zM28.6 82.89h2.2v3.36h-2.2zM101.2 22.1h2.2v3.36h-2.2zM63.8 118.81h2.2v3.36h-2.2zM63.8 0h2.2v3.36h-2.2zM77 38.68h2.2v3.36h-2.2zM79.2 41.45h2.2v3.36h-2.2zM13.2 41.45h2.2v3.36h-2.2zM50.6 30.39h2.2v3.36h-2.2zM88 132.62h2.2v3.36h-2.2zM90.2 135.39h2.2v3.36h-2.2zM24.2 55.26h2.2v3.36h-2.2zM26.4 55.26h2.2v3.36h-2.2zM48.4 27.63h2.2v3.36h-2.2zM13.2 24.87h2.2v3.36h-2.2zM15.4 27.63h2.2v3.36h-2.2zM17.6 30.39h2.2v3.36h-2.2zM55 121.57h2.2v3.36h-2.2zM112.2 124.33h2.2v3.36h-2.2zM30.8 30.39h2.2v3.36h-2.2zM66 22.1h2.2v3.36h-2.2zM68.2 24.87h2.2v3.36h-2.2zM94.6 91.18h2.2v3.36h-2.2zM17.6 93.94h2.2v3.36h-2.2zM112.2 8.29h2.2v3.36h-2.2zM114.4 11.05h2.2v3.36h-2.2zM41.8 58.02h2.2v3.36h-2.2zM88 2.76h2.2v3.36h-2.2zM90.2 5.53h2.2v3.36h-2.2zM44 121.57h2.2v3.36h-2.2zM46.2 124.33h2.2v3.36h-2.2zM48.4 127.1h2.2v3.36h-2.2zM57.2 116.05h2.2v3.36h-2.2zM59.4 118.81h2.2v3.36h-2.2zM88 121.57h2.2v3.36h-2.2zM90.2 124.33h2.2v3.36h-2.2zM114.4 52.5h2.2v3.36h-2.2zM66 124.33h2.2v3.36h-2.2zM28.6 96.7h2.2v3.36h-2.2zM55 38.68h2.2v3.36h-2.2zM57.2 41.45h2.2v3.36h-2.2zM103.4 121.57h2.2v3.36h-2.2zM105.6 121.57h2.2v3.36h-2.2zM6.6 24.87h2.2v3.36h-2.2zM85.8 24.87h2.2v3.36h-2.2zM88 27.63h2.2v3.36h-2.2zM41.8 88.42h2.2v3.36h-2.2zM44 88.42h2.2v3.36h-2.2zM44 91.18h2.2v3.36h-2.2zM59.4 44.21h2.2v3.36h-2.2zM61.6 44.21h2.2v3.36h-2.2zM61.6 46.97h2.2v3.36h-2.2zM83.6 11.05h2.2v3.36h-2.2zM0 121.57h2.2v3.36h-2.2zM81.4 113.28h2.2v3.36h-2.2zM48.4 24.87h2.2v3.36h-2.2zM61.6 82.89h2.2v3.36h-2.2zM90.2 116.05h2.2v3.36h-2.2zM85.8 91.18h2.2v3.36h-2.2zM63.8 16.58h2.2v3.36h-2.2zM116.6 55.26h2.2v3.36h-2.2zM118.8 58.02h2.2v3.36h-2.2zM121 60.79h2.2v3.36h-2.2zM61.6 16.58h2.2v3.36h-2.2zM63.8 19.34h2.2v3.36h-2.2zM99 124.33h2.2v3.36h-2.2zM37.4 13.81h2.2v3.36h-2.2zM39.6 16.58h2.2v3.36h-2.2zM90.2 127.1h2.2v3.36h-2.2zM92.4 129.86h2.2v3.36h-2.2zM121 46.97h2.2v3.36h-2.2zM123.2 49.73h2.2v3.36h-2.2zM125.4 49.73h2.2v3.36h-2.2zM28.6 0h2.2v3.36h-2.2zM30.8 2.76h2.2v3.36h-2.2zM50.6 19.34h2.2v3.36h-2.2zM90.2 16.58h2.2v3.36h-2.2zM92.4 19.34h2.2v3.36h-2.2zM94.6 22.1h2.2v3.36h-2.2zM127.6 124.33h2.2v3.36h-2.2zM129.8 127.1h2.2v3.36h-2.2zM2.2 58.02h2.2v3.36h-2.2zM4.4 60.79h2.2v3.36h-2.2zM92.4 49.73h2.2v3.36h-2.2zM94.6 93.94h2.2v3.36h-2.2zM55 2.76h2.2v3.36h-2.2zM57.2 5.53h2.2v3.36h-2.2zM33 58.02h2.2v3.36h-2.2zM105.6 74.6h2.2v3.36h-2.2zM99 19.34h2.2v3.36h-2.2zM114.4 55.26h2.2v3.36h-2.2zM118.8 60.79h2.2v3.36h-2.2zM28.6 63.55h2.2v3.36h-2.2zM30.8 66.31h2.2v3.36h-2.2zM33 69.08h2.2v3.36h-2.2zM41.8 143.68h2.2v3.36h-2.2zM103.4 63.55h2.2v3.36h-2.2zM105.6 66.31h2.2v3.36h-2.2zM77 46.97h2.2v3.36h-2.2zM79.2 46.97h2.2v3.36h-2.2zM79.2 49.73h2.2v3.36h-2.2zM55 88.42h2.2v3.36h-2.2zM57.2 91.18h2.2v3.36h-2.2zM24.2 77.36h2.2v3.36h-2.2zM6.6 127.1h2.2v3.36h-2.2zM107.8 91.18h2.2v3.36h-2.2zM81.4 41.45h2.2v3.36h-2.2zM28.6 66.31h2.2v3.36h-2.2zM66 88.42h2.2v3.36h-2.2zM68.2 91.18h2.2v3.36h-2.2zM19.8 82.89h2.2v3.36h-2.2zM50.6 91.18h2.2v3.36h-2.2zM52.8 93.94h2.2v3.36h-2.2zM105.6 129.86h2.2v3.36h-2.2zM127.6 33.16h2.2v3.36h-2.2zM129.8 35.92h2.2v3.36h-2.2zM132 38.68h2.2v3.36h-2.2zM107.8 104.99h2.2v3.36h-2.2zM37.4 85.65h2.2v3.36h-2.2zM121 55.26h2.2v3.36h-2.2zM26.4 85.65h2.2v3.36h-2.2zM15.4 132.62h2.2v3.36h-2.2zM77 107.76h2.2v3.36h-2.2zM79.2 110.52h2.2v3.36h-2.2zM61.6 132.62h2.2v3.36h-2.2zM46.2 127.1h2.2v3.36h-2.2zM48.4 129.86h2.2v3.36h-2.2zM50.6 132.62h2.2v3.36h-2.2zM68.2 69.08h2.2v3.36h-2.2zM70.4 69.08h2.2v3.36h-2.2zM70.4 71.84h2.2v3.36h-2.2zM0 44.21h2.2v3.36h-2.2zM90.2 60.79h2.2v3.36h-2.2zM123.2 96.7h2.2v3.36h-2.2zM132 116.05h2.2v3.36h-2.2zM0 118.81h2.2v3.36h-2.2zM2.2 121.57h2.2v3.36h-2.2zM55 13.81h2.2v3.36h-2.2zM57.2 16.58h2.2v3.36h-2.2zM121 118.81h2.2v3.36h-2.2zM123.2 121.57h2.2v3.36h-2.2zM0 33.16h2.2v3.36h-2.2zM123.2 66.31h2.2v3.36h-2.2zM125.4 66.31h2.2v3.36h-2.2zM125.4 69.08h2.2v3.36h-2.2zM114.4 85.65h2.2v3.36h-2.2zM116.6 88.42h2.2v3.36h-2.2zM28.6 135.39h2.2v3.36h-2.2zM46.2 88.42h2.2v3.36h-2.2zM48.4 91.18h2.2v3.36h-2.2zM50.6 93.94h2.2v3.36h-2.2zM74.8 35.92h2.2v3.36h-2.2zM33 110.52h2.2v3.36h-2.2zM35.2 113.28h2.2v3.36h-2.2zM114.4 135.39h2.2v3.36h-2.2zM59.4 16.58h2.2v3.36h-2.2zM61.6 19.34h2.2v3.36h-2.2zM123.2 127.1h2.2v3.36h-2.2zM4.4 93.94h2.2v3.36h-2.2zM28.6 16.58h2.2v3.36h-2.2zM30.8 16.58h2.2v3.36h-2.2zM74.8 143.68h2.2v3.36h-2.2zM24.2 135.39h2.2v3.36h-2.2zM26.4 138.15h2.2v3.36h-2.2zM28.6 35.92h2.2v3.36h-2.2zM30.8 38.68h2.2v3.36h-2.2zM96.8 82.89h2.2v3.36h-2.2zM68.2 52.5h2.2v3.36h-2.2zM123.2 74.6h2.2v3.36h-2.2zM125.4 74.6h2.2v3.36h-2.2zM125.4 77.36h2.2v3.36h-2.2zM48.4 113.28h2.2v3.36h-2.2zM50.6 116.05h2.2v3.36h-2.2zM52.8 118.81h2.2v3.36h-2.2zM55 118.81h2.2v3.36h-2.2zM79.2 138.15h2.2v3.36h-2.2zM4.4 52.5h2.2v3.36h-2.2zM6.6 52.5h2.2v3.36h-2.2zM132 127.1h2.2v3.36h-2.2zM0 127.1h2.2v3.36h-2.2zM37.4 46.97h2.2v3.36h-2.2zM37.4 49.73h2.2v3.36h-2.2zM30.8 44.21h2.2v3.36h-2.2zM110 104.99h2.2v3.36h-2.2zM116.6 46.97h2.2v3.36h-2.2zM74.8 127.1h2.2v3.36h-2.2zM77 129.86h2.2v3.36h-2.2zM50.6 69.08h2.2v3.36h-2.2zM83.6 127.1h2.2v3.36h-2.2zM85.8 129.86h2.2v3.36h-2.2zM118.8 132.62h2.2v3.36h-2.2zM121 135.39h2.2v3.36h-2.2zM123.2 138.15h2.2v3.36h-2.2zM22 127.1h2.2v3.36h-2.2zM24.2 129.86h2.2v3.36h-2.2zM123.2 143.68h2.2v3.36h-2.2zM35.2 91.18h2.2v3.36h-2.2zM61.6 30.39h2.2v3.36h-2.2zM63.8 33.16h2.2v3.36h-2.2zM66 35.92h2.2v3.36h-2.2zM123.2 93.94h2.2v3.36h-2.2zM8.8 104.99h2.2v3.36h-2.2zM59.4 135.39h2.2v3.36h-2.2zM55 127.1h2.2v3.36h-2.2zM74.8 49.73h2.2v3.36h-2.2zM103.4 27.63h2.2v3.36h-2.2zM92.4 121.57h2.2v3.36h-2.2zM15.4 55.26h2.2v3.36h-2.2zM46.2 11.05h2.2v3.36h-2.2zM48.4 13.81h2.2v3.36h-2.2zM83.6 30.39h2.2v3.36h-2.2zM96.8 140.91h2.2v3.36h-2.2zM44 135.39h2.2v3.36h-2.2zM46.2 138.15h2.2v3.36h-2.2zM0 91.18h2.2v3.36h-2.2zM66 129.86h2.2v3.36h-2.2zM68.2 132.62h2.2v3.36h-2.2zM125.4 35.92h2.2v3.36h-2.2zM103.4 80.13h2.2v3.36h-2.2zM116.6 44.21h2.2v3.36h-2.2zM33 99.47h2.2v3.36h-2.2zM30.8 138.15h2.2v3.36h-2.2zM50.6 129.86h2.2v3.36h-2.2zM44 71.84h2.2v3.36h-2.2zM92.4 13.81h2.2v3.36h-2.2zM125.4 41.45h2.2v3.36h-2.2zM110 46.97h2.2v3.36h-2.2zM127.6 44.21h2.2v3.36h-2.2zM24.2 27.63h2.2v3.36h-2.2zM112.2 27.63h2.2v3.36h-2.2zM6.6 93.94h2.2v3.36h-2.2zM8.8 96.7h2.2v3.36h-2.2zM26.4 13.81h2.2v3.36h-2.2zM30.8 19.34h2.2v3.36h-2.2zM41.8 113.28h2.2v3.36h-2.2zM110 74.6h2.2v3.36h-2.2zM13.2 11.05h2.2v3.36h-2.2zM61.6 85.65h2.2v3.36h-2.2zM112.2 82.89h2.2v3.36h-2.2zM96.8 44.21h2.2v3.36h-2.2zM6.6 13.81h2.2v3.36h-2.2zM127.6 99.47h2.2v3.36h-2.2zM132 143.68h2.2v3.36h-2.2zM94.6 41.45h2.2v3.36h-2.2zM37.4 143.68h2.2v3.36h-2.2zM22 44.21h2.2v3.36h-2.2zM99 5.53h2.2v3.36h-2.2zM99 13.81h2.2v3.36h-2.2zM101.2 16.58h2.2v3.36h-2.2zM33 22.1h2.2v3.36h-2.2zM50.6 80.13h2.2v3.36h-2.2zM52.8 82.89h2.2v3.36h-2.2zM114.4 93.94h2.2v3.36h-2.2zM107.8 63.55h2.2v3.36h-2.2zM96.8 33.16h2.2v3.36h-2.2zM83.6 33.16h2.2v3.36h-2.2zM85.8 35.92h2.2v3.36h-2.2zM6.6 82.89h2.2v3.36h-2.2zM132 132.62h2.2v3.36h-2.2zM11 99.47h2.2v3.36h-2.2zM11 127.1h2.2v3.36h-2.2zM17.6 55.26h2.2v3.36h-2.2zM123.2 46.97h2.2v3.36h-2.2zM92.4 63.55h2.2v3.36h-2.2zM116.6 116.05h2.2v3.36h-2.2zM44 129.86h2.2v3.36h-2.2zM17.6 116.05h2.2v3.36h-2.2zM19.8 118.81h2.2v3.36h-2.2zM127.6 121.57h2.2v3.36h-2.2zM129.8 124.33h2.2v3.36h-2.2zM90.2 8.29h2.2v3.36h-2.2zM39.6 55.26h2.2v3.36h-2.2zM61.6 127.1h2.2v3.36h-2.2zM63.8 127.1h2.2v3.36h-2.2zM41.8 82.89h2.2v3.36h-2.2zM44 85.65h2.2v3.36h-2.2zM17.6 66.31h2.2v3.36h-2.2zM68.2 0h2.2v3.36h-2.2zM70.4 2.76h2.2v3.36h-2.2zM8.8 143.68h2.2v3.36h-2.2zM0 96.7h2.2v3.36h-2.2zM99 0h2.2v3.36h-2.2zM101.2 2.76h2.2v3.36h-2.2zM39.6 60.79h2.2v3.36h-2.2zM96.8 49.73h2.2v3.36h-2.2zM103.4 24.87h2.2v3.36h-2.2zM105.6 27.63h2.2v3.36h-2.2zM19.8 11.05h2.2v3.36h-2.2zM44 24.87h2.2v3.36h-2.2zM90.2 46.97h2.2v3.36h-2.2zM17.6 44.21h2.2v3.36h-2.2zM19.8 46.97h2.2v3.36h-2.2zM110 49.73h2.2v3.36h-2.2zM92.4 138.15h2.2v3.36h-2.2zM112.2 99.47h2.2v3.36h-2.2zM114.4 102.23h2.2v3.36h-2.2zM116.6 102.23h2.2v3.36h-2.2zM96.8 110.52h2.2v3.36h-2.2zM35.2 33.16h2.2v3.36h-2.2zM37.4 35.92h2.2v3.36h-2.2zM101.2 35.92h2.2v3.36h-2.2zM103.4 35.92h2.2v3.36h-2.2zM61.6 24.87h2.2v3.36h-2.2zM132 49.73h2.2v3.36h-2.2zM0 52.5h2.2v3.36h-2.2zM61.6 71.84h2.2v3.36h-2.2zM68.2 85.65h2.2v3.36h-2.2zM70.4 88.42h2.2v3.36h-2.2zM72.6 91.18h2.2v3.36h-2.2zM77 85.65h2.2v3.36h-2.2zM132 121.57h2.2v3.36h-2.2zM2.2 49.73h2.2v3.36h-2.2zM17.6 107.76h2.2v3.36h-2.2zM81.4 140.91h2.2v3.36h-2.2zM83.6 143.68h2.2v3.36h-2.2zM70.4 60.79h2.2v3.36h-2.2zM48.4 138.15h2.2v3.36h-2.2zM39.6 44.21h2.2v3.36h-2.2zM41.8 46.97h2.2v3.36h-2.2zM19.8 74.6h2.2v3.36h-2.2zM99 58.02h2.2v3.36h-2.2zM101.2 60.79h2.2v3.36h-2.2zM52.8 44.21h2.2v3.36h-2.2zM66 143.68h2.2v3.36h-2.2zM103.4 55.26h2.2v3.36h-2.2zM35.2 2.76h2.2v3.36h-2.2zM63.8 135.39h2.2v3.36h-2.2zM116.6 132.62h2.2v3.36h-2.2zM19.8 55.26h2.2v3.36h-2.2zM85.8 0h2.2v3.36h-2.2zM99 93.94h2.2v3.36h-2.2zM55 49.73h2.2v3.36h-2.2zM118.8 5.53h2.2v3.36h-2.2zM83.6 121.57h2.2v3.36h-2.2zM41.8 19.34h2.2v3.36h-2.2zM52.8 132.62h2.2v3.36h-2.2zM55 135.39h2.2v3.36h-2.2zM44 8.29h2.2v3.36h-2.2zM6.6 58.02h2.2v3.36h-2.2zM112.2 140.91h2.2v3.36h-2.2zM13.2 93.94h2.2v3.36h-2.2zM15.4 96.7h2.2v3.36h-2.2zM17.6 99.47h2.2v3.36h-2.2zM19.8 99.47h2.2v3.36h-2.2zM81.4 127.1h2.2v3.36h-2.2zM83.6 129.86h2.2v3.36h-2.2zM99 82.89h2.2v3.36h-2.2zM101.2 82.89h2.2v3.36h-2.2zM17.6 13.81h2.2v3.36h-2.2zM19.8 16.58h2.2v3.36h-2.2zM11 16.58h2.2v3.36h-2.2zM41.8 33.16h2.2v3.36h-2.2zM44 35.92h2.2v3.36h-2.2zM81.4 19.34h2.2v3.36h-2.2zM83.6 22.1h2.2v3.36h-2.2zM17.6 102.23h2.2v3.36h-2.2zM22 104.99h2.2v3.36h-2.2z" fill="#f0e0ff"/><path d="M101.2 88.42h2.2v3.36h-2.2zM125.4 91.18h2.2v3.36h-2.2zM50.6 88.42h2.2v3.36h-2.2zM52.8 91.18h2.2v3.36h-2.2zM125.4 80.13h2.2v3.36h-2.2zM123.2 16.58h2.2v3.36h-2.2zM125.4 19.34h2.2v3.36h-2.2zM127.6 22.1h2.2v3.36h-2.2zM85.8 124.33h2.2v3.36h-2.2zM110 22.1h2.2v3.36h-2.2zM112.2 24.87h2.2v3.36h-2.2zM90.2 2.76h2.2v3.36h-2.2zM92.4 5.53h2.2v3.36h-2.2zM94.6 5.53h2.2v3.36h-2.2zM92.4 80.13h2.2v3.36h-2.2zM114.4 2.76h2.2v3.36h-2.2zM116.6 5.53h2.2v3.36h-2.2zM118.8 8.29h2.2v3.36h-2.2zM15.4 99.47h2.2v3.36h-2.2zM4.4 127.1h2.2v3.36h-2.2zM6.6 129.86h2.2v3.36h-2.2zM112.2 63.55h2.2v3.36h-2.2zM101.2 127.1h2.2v3.36h-2.2zM103.4 129.86h2.2v3.36h-2.2zM105.6 132.62h2.2v3.36h-2.2zM46.2 77.36h2.2v3.36h-2.2zM132 124.33h2.2v3.36h-2.2zM74.8 107.76h2.2v3.36h-2.2zM123.2 110.52h2.2v3.36h-2.2zM13.2 66.31h2.2v3.36h-2.2zM15.4 69.08h2.2v3.36h-2.2zM17.6 71.84h2.2v3.36h-2.2zM85.8 118.81h2.2v3.36h-2.2zM68.2 118.81h2.2v3.36h-2.2zM118.8 24.87h2.2v3.36h-2.2zM121 27.63h2.2v3.36h-2.2zM123.2 27.63h2.2v3.36h-2.2zM123.2 30.39h2.2v3.36h-2.2zM48.4 11.05h2.2v3.36h-2.2zM132 55.26h2.2v3.36h-2.2zM0 58.02h2.2v3.36h-2.2zM50.6 52.5h2.2v3.36h-2.2zM125.4 60.79h2.2v3.36h-2.2zM103.4 135.39h2.2v3.36h-2.2zM116.6 104.99h2.2v3.36h-2.2zM125.4 24.87h2.2v3.36h-2.2zM107.8 46.97h2.2v3.36h-2.2zM6.6 69.08h2.2v3.36h-2.2zM8.8 71.84h2.2v3.36h-2.2zM11 74.6h2.2v3.36h-2.2zM83.6 13.81h2.2v3.36h-2.2zM85.8 16.58h2.2v3.36h-2.2zM61.6 5.53h2.2v3.36h-2.2zM118.8 69.08h2.2v3.36h-2.2zM121 71.84h2.2v3.36h-2.2zM66 46.97h2.2v3.36h-2.2zM28.6 33.16h2.2v3.36h-2.2zM110 77.36h2.2v3.36h-2.2zM112.2 80.13h2.2v3.36h-2.2zM114.4 82.89h2.2v3.36h-2.2zM26.4 102.23h2.2v3.36h-2.2zM118.8 99.47h2.2v3.36h-2.2zM83.6 110.52h2.2v3.36h-2.2zM85.8 113.28h2.2v3.36h-2.2zM88 116.05h2.2v3.36h-2.2zM8.8 110.52h2.2v3.36h-2.2zM11 113.28h2.2v3.36h-2.2zM132 107.76h2.2v3.36h-2.2zM0 110.52h2.2v3.36h-2.2zM33 38.68h2.2v3.36h-2.2zM132 138.15h2.2v3.36h-2.2zM19.8 2.76h2.2v3.36h-2.2zM92.4 11.05h2.2v3.36h-2.2zM94.6 13.81h2.2v3.36h-2.2zM125.4 5.53h2.2v3.36h-2.2zM19.8 110.52h2.2v3.36h-2.2zM2.2 96.7h2.2v3.36h-2.2zM33 80.13h2.2v3.36h-2.2zM35.2 82.89h2.2v3.36h-2.2zM127.6 116.05h2.2v3.36h-2.2zM63.8 49.73h2.2v3.36h-2.2zM66 52.5h2.2v3.36h-2.2zM68.2 55.26h2.2v3.36h-2.2zM44 116.05h2.2v3.36h-2.2zM46.2 116.05h2.2v3.36h-2.2zM107.8 82.89h2.2v3.36h-2.2zM110 85.65h2.2v3.36h-2.2zM37.4 24.87h2.2v3.36h-2.2zM39.6 24.87h2.2v3.36h-2.2zM39.6 27.63h2.2v3.36h-2.2zM41.8 30.39h2.2v3.36h-2.2zM77 35.92h2.2v3.36h-2.2zM103.4 33.16h2.2v3.36h-2.2zM6.6 22.1h2.2v3.36h-2.2zM8.8 24.87h2.2v3.36h-2.2zM92.4 74.6h2.2v3.36h-2.2zM94.6 66.31h2.2v3.36h-2.2zM30.8 91.18h2.2v3.36h-2.2zM33 93.94h2.2v3.36h-2.2zM35.2 96.7h2.2v3.36h-2.2zM59.4 99.47h2.2v3.36h-2.2zM61.6 99.47h2.2v3.36h-2.2zM61.6 102.23h2.2v3.36h-2.2zM63.8 102.23h2.2v3.36h-2.2zM129.8 71.84h2.2v3.36h-2.2zM132 74.6h2.2v3.36h-2.2zM70.4 93.94h2.2v3.36h-2.2zM70.4 33.16h2.2v3.36h-2.2zM72.6 35.92h2.2v3.36h-2.2zM125.4 11.05h2.2v3.36h-2.2zM127.6 11.05h2.2v3.36h-2.2zM15.4 2.76h2.2v3.36h-2.2zM17.6 5.53h2.2v3.36h-2.2zM33 16.58h2.2v3.36h-2.2zM79.2 52.5h2.2v3.36h-2.2zM81.4 55.26h2.2v3.36h-2.2zM4.4 2.76h2.2v3.36h-2.2zM55 46.97h2.2v3.36h-2.2zM46.2 107.76h2.2v3.36h-2.2zM112.2 35.92h2.2v3.36h-2.2zM114.4 38.68h2.2v3.36h-2.2zM116.6 41.45h2.2v3.36h-2.2zM8.8 55.26h2.2v3.36h-2.2zM35.2 140.91h2.2v3.36h-2.2zM74.8 44.21h2.2v3.36h-2.2zM81.4 96.7h2.2v3.36h-2.2zM118.8 46.97h2.2v3.36h-2.2zM121 49.73h2.2v3.36h-2.2zM123.2 52.5h2.2v3.36h-2.2zM33 143.68h2.2v3.36h-2.2zM35.2 0h2.2v3.36h-2.2zM127.6 38.68h2.2v3.36h-2.2zM41.8 55.26h2.2v3.36h-2.2zM46.2 49.73h2.2v3.36h-2.2zM59.4 138.15h2.2v3.36h-2.2zM61.6 140.91h2.2v3.36h-2.2zM37.4 63.55h2.2v3.36h-2.2zM72.6 99.47h2.2v3.36h-2.2zM63.8 140.91h2.2v3.36h-2.2zM46.2 38.68h2.2v3.36h-2.2zM88 88.42h2.2v3.36h-2.2zM30.8 41.45h2.2v3.36h-2.2zM33 44.21h2.2v3.36h-2.2zM35.2 46.97h2.2v3.36h-2.2zM72.6 121.57h2.2v3.36h-2.2zM74.8 124.33h2.2v3.36h-2.2zM101.2 124.33h2.2v3.36h-2.2zM103.4 127.1h2.2v3.36h-2.2zM103.4 22.1h2.2v3.36h-2.2zM105.6 24.87h2.2v3.36h-2.2zM107.8 27.63h2.2v3.36h-2.2zM107.8 0h2.2v3.36h-2.2zM11 60.79h2.2v3.36h-2.2zM83.6 113.28h2.2v3.36h-2.2zM85.8 116.05h2.2v3.36h-2.2zM110 55.26h2.2v3.36h-2.2zM112.2 58.02h2.2v3.36h-2.2zM85.8 107.76h2.2v3.36h-2.2zM28.6 99.47h2.2v3.36h-2.2zM114.4 13.81h2.2v3.36h-2.2zM8.8 11.05h2.2v3.36h-2.2zM96.8 24.87h2.2v3.36h-2.2zM0 24.87h2.2v3.36h-2.2zM2.2 27.63h2.2v3.36h-2.2zM107.8 2.76h2.2v3.36h-2.2zM110 5.53h2.2v3.36h-2.2zM70.4 110.52h2.2v3.36h-2.2zM72.6 113.28h2.2v3.36h-2.2zM74.8 116.05h2.2v3.36h-2.2zM35.2 66.31h2.2v3.36h-2.2zM83.6 88.42h2.2v3.36h-2.2zM116.6 96.7h2.2v3.36h-2.2zM46.2 91.18h2.2v3.36h-2.2zM41.8 99.47h2.2v3.36h-2.2zM57.2 110.52h2.2v3.36h-2.2zM92.4 82.89h2.2v3.36h-2.2zM19.8 69.08h2.2v3.36h-2.2zM22 71.84h2.2v3.36h-2.2zM59.4 55.26h2.2v3.36h-2.2zM48.4 71.84h2.2v3.36h-2.2zM50.6 74.6h2.2v3.36h-2.2zM101.2 33.16h2.2v3.36h-2.2zM57.2 33.16h2.2v3.36h-2.2zM17.6 85.65h2.2v3.36h-2.2zM19.8 88.42h2.2v3.36h-2.2zM99 60.79h2.2v3.36h-2.2zM121 16.58h2.2v3.36h-2.2zM123.2 19.34h2.2v3.36h-2.2zM50.6 110.52h2.2v3.36h-2.2zM24.2 2.76h2.2v3.36h-2.2zM116.6 138.15h2.2v3.36h-2.2zM105.6 30.39h2.2v3.36h-2.2zM110 35.92h2.2v3.36h-2.2zM8.8 52.5h2.2v3.36h-2.2zM11 55.26h2.2v3.36h-2.2zM44 19.34h2.2v3.36h-2.2zM101.2 93.94h2.2v3.36h-2.2zM121 110.52h2.2v3.36h-2.2zM123.2 113.28h2.2v3.36h-2.2zM41.8 93.94h2.2v3.36h-2.2zM24.2 127.1h2.2v3.36h-2.2zM110 93.94h2.2v3.36h-2.2zM112.2 96.7h2.2v3.36h-2.2zM121 63.55h2.2v3.36h-2.2zM24.2 63.55h2.2v3.36h-2.2zM41.8 124.33h2.2v3.36h-2.2zM114.4 63.55h2.2v3.36h-2.2zM116.6 63.55h2.2v3.36h-2.2zM66 41.45h2.2v3.36h-2.2zM88 52.5h2.2v3.36h-2.2zM48.4 135.39h2.2v3.36h-2.2zM0 80.13h2.2v3.36h-2.2zM121 82.89h2.2v3.36h-2.2zM110 52.5h2.2v3.36h-2.2zM72.6 44.21h2.2v3.36h-2.2zM74.8 46.97h2.2v3.36h-2.2zM77 49.73h2.2v3.36h-2.2zM88 44.21h2.2v3.36h-2.2zM28.6 13.81h2.2v3.36h-2.2zM13.2 30.39h2.2v3.36h-2.2zM114.4 129.86h2.2v3.36h-2.2zM85.8 99.47h2.2v3.36h-2.2zM101.2 13.81h2.2v3.36h-2.2zM103.4 13.81h2.2v3.36h-2.2zM105.6 16.58h2.2v3.36h-2.2zM92.4 55.26h2.2v3.36h-2.2zM2.2 118.81h2.2v3.36h-2.2zM4.4 121.57h2.2v3.36h-2.2zM6.6 124.33h2.2v3.36h-2.2zM8.8 124.33h2.2v3.36h-2.2zM127.6 74.6h2.2v3.36h-2.2zM90.2 82.89h2.2v3.36h-2.2zM88 82.89h2.2v3.36h-2.2zM66 99.47h2.2v3.36h-2.2zM13.2 129.86h2.2v3.36h-2.2zM105.6 85.65h2.2v3.36h-2.2zM68.2 113.28h2.2v3.36h-2.2zM70.4 116.05h2.2v3.36h-2.2zM72.6 118.81h2.2v3.36h-2.2zM44 63.55h2.2v3.36h-2.2zM46.2 66.31h2.2v3.36h-2.2zM85.8 60.79h2.2v3.36h-2.2zM88 63.55h2.2v3.36h-2.2zM63.8 11.05h2.2v3.36h-2.2zM57.2 138.15h2.2v3.36h-2.2zM57.2 13.81h2.2v3.36h-2.2zM8.8 63.55h2.2v3.36h-2.2zM11 66.31h2.2v3.36h-2.2zM22 30.39h2.2v3.36h-2.2zM24.2 30.39h2.2v3.36h-2.2zM121 30.39h2.2v3.36h-2.2zM52.8 85.65h2.2v3.36h-2.2zM88 55.26h2.2v3.36h-2.2zM90.2 55.26h2.2v3.36h-2.2zM39.6 140.91h2.2v3.36h-2.2zM13.2 52.5h2.2v3.36h-2.2zM17.6 58.02h2.2v3.36h-2.2zM114.4 127.1h2.2v3.36h-2.2zM52.8 30.39h2.2v3.36h-2.2zM103.4 110.52h2.2v3.36h-2.2zM105.6 113.28h2.2v3.36h-2.2zM107.8 116.05h2.2v3.36h-2.2zM19.8 41.45h2.2v3.36h-2.2zM22 41.45h2.2v3.36h-2.2zM52.8 71.84h2.2v3.36h-2.2zM77 8.29h2.2v3.36h-2.2zM85.8 88.42h2.2v3.36h-2.2zM8.8 132.62h2.2v3.36h-2.2zM2.2 41.45h2.2v3.36h-2.2zM0 49.73h2.2v3.36h-2.2zM2.2 52.5h2.2v3.36h-2.2zM37.4 116.05h2.2v3.36h-2.2zM107.8 143.68h2.2v3.36h-2.2zM74.8 52.5h2.2v3.36h-2.2zM77 55.26h2.2v3.36h-2.2zM22 0h2.2v3.36h-2.2zM50.6 77.36h2.2v3.36h-2.2zM52.8 80.13h2.2v3.36h-2.2zM85.8 80.13h2.2v3.36h-2.2zM68.2 46.97h2.2v3.36h-2.2zM70.4 49.73h2.2v3.36h-2.2zM132 44.21h2.2v3.36h-2.2zM101.2 135.39h2.2v3.36h-2.2zM52.8 110.52h2.2v3.36h-2.2zM30.8 132.62h2.2v3.36h-2.2zM33 135.39h2.2v3.36h-2.2zM41.8 0h2.2v3.36h-2.2zM90.2 93.94h2.2v3.36h-2.2zM13.2 118.81h2.2v3.36h-2.2zM15.4 121.57h2.2v3.36h-2.2zM99 138.15h2.2v3.36h-2.2zM101.2 140.91h2.2v3.36h-2.2zM2.2 127.1h2.2v3.36h-2.2zM4.4 129.86h2.2v3.36h-2.2zM127.6 2.76h2.2v3.36h-2.2zM129.8 2.76h2.2v3.36h-2.2zM48.4 22.1h2.2v3.36h-2.2zM50.6 24.87h2.2v3.36h-2.2zM52.8 27.63h2.2v3.36h-2.2zM33 116.05h2.2v3.36h-2.2zM77 116.05h2.2v3.36h-2.2zM79.2 118.81h2.2v3.36h-2.2zM28.6 121.57h2.2v3.36h-2.2zM116.6 121.57h2.2v3.36h-2.2zM118.8 124.33h2.2v3.36h-2.2zM94.6 71.84h2.2v3.36h-2.2zM96.8 71.84h2.2v3.36h-2.2zM114.4 60.79h2.2v3.36h-2.2zM123.2 55.26h2.2v3.36h-2.2zM15.4 140.91h2.2v3.36h-2.2zM17.6 143.68h2.2v3.36h-2.2zM19.8 0h2.2v3.36h-2.2zM116.6 93.94h2.2v3.36h-2.2zM55 138.15h2.2v3.36h-2.2zM125.4 140.91h2.2v3.36h-2.2zM66 69.08h2.2v3.36h-2.2zM68.2 71.84h2.2v3.36h-2.2zM70.4 74.6h2.2v3.36h-2.2zM57.2 121.57h2.2v3.36h-2.2zM17.6 69.08h2.2v3.36h-2.2zM107.8 124.33h2.2v3.36h-2.2zM17.6 96.7h2.2v3.36h-2.2zM19.8 96.7h2.2v3.36h-2.2zM59.4 19.34h2.2v3.36h-2.2zM6.6 44.21h2.2v3.36h-2.2zM8.8 44.21h2.2v3.36h-2.2zM8.8 46.97h2.2v3.36h-2.2zM30.8 135.39h2.2v3.36h-2.2zM15.4 107.76h2.2v3.36h-2.2zM17.6 110.52h2.2v3.36h-2.2zM61.6 121.57h2.2v3.36h-2.2zM63.8 124.33h2.2v3.36h-2.2zM79.2 74.6h2.2v3.36h-2.2zM107.8 22.1h2.2v3.36h-2.2zM44 38.68h2.2v3.36h-2.2zM46.2 41.45h2.2v3.36h-2.2zM13.2 19.34h2.2v3.36h-2.2zM48.4 110.52h2.2v3.36h-2.2zM50.6 113.28h2.2v3.36h-2.2zM96.8 52.5h2.2v3.36h-2.2zM17.6 27.63h2.2v3.36h-2.2zM85.8 132.62h2.2v3.36h-2.2zM46.2 104.99h2.2v3.36h-2.2zM85.8 66.31h2.2v3.36h-2.2zM88 69.08h2.2v3.36h-2.2zM90.2 71.84h2.2v3.36h-2.2zM19.8 104.99h2.2v3.36h-2.2zM22 107.76h2.2v3.36h-2.2zM24.2 107.76h2.2v3.36h-2.2zM24.2 110.52h2.2v3.36h-2.2zM4.4 99.47h2.2v3.36h-2.2zM99 69.08h2.2v3.36h-2.2zM101.2 69.08h2.2v3.36h-2.2zM81.4 60.79h2.2v3.36h-2.2zM83.6 63.55h2.2v3.36h-2.2zM88 41.45h2.2v3.36h-2.2zM8.8 38.68h2.2v3.36h-2.2zM107.8 16.58h2.2v3.36h-2.2zM110 19.34h2.2v3.36h-2.2zM44 22.1h2.2v3.36h-2.2zM2.2 16.58h2.2v3.36h-2.2zM4.4 19.34h2.2v3.36h-2.2zM11 46.97h2.2v3.36h-2.2zM48.4 80.13h2.2v3.36h-2.2zM50.6 82.89h2.2v3.36h-2.2zM129.8 77.36h2.2v3.36h-2.2zM114.4 66.31h2.2v3.36h-2.2zM48.4 132.62h2.2v3.36h-2.2zM50.6 135.39h2.2v3.36h-2.2zM35.2 93.94h2.2v3.36h-2.2zM37.4 93.94h2.2v3.36h-2.2zM37.4 96.7h2.2v3.36h-2.2zM4.4 5.53h2.2v3.36h-2.2zM123.2 104.99h2.2v3.36h-2.2zM92.4 127.1h2.2v3.36h-2.2zM94.6 129.86h2.2v3.36h-2.2zM57.2 93.94h2.2v3.36h-2.2zM72.6 77.36h2.2v3.36h-2.2zM74.8 80.13h2.2v3.36h-2.2zM129.8 110.52h2.2v3.36h-2.2zM132 113.28h2.2v3.36h-2.2zM0 116.05h2.2v3.36h-2.2zM4.4 135.39h2.2v3.36h-2.2zM6.6 138.15h2.2v3.36h-2.2zM103.4 132.62h2.2v3.36h-2.2zM105.6 135.39h2.2v3.36h-2.2zM2.2 46.97h2.2v3.36h-2.2zM70.4 19.34h2.2v3.36h-2.2zM72.6 22.1h2.2v3.36h-2.2zM74.8 24.87h2.2v3.36h-2.2zM77 24.87h2.2v3.36h-2.2zM11 80.13h2.2v3.36h-2.2zM13.2 80.13h2.2v3.36h-2.2zM28.6 88.42h2.2v3.36h-2.2zM125.4 143.68h2.2v3.36h-2.2zM33 88.42h2.2v3.36h-2.2zM35.2 88.42h2.2v3.36h-2.2zM99 91.18h2.2v3.36h-2.2zM85.8 49.73h2.2v3.36h-2.2zM129.8 5.53h2.2v3.36h-2.2zM55 104.99h2.2v3.36h-2.2zM6.6 5.53h2.2v3.36h-2.2zM110 118.81h2.2v3.36h-2.2zM112.2 121.57h2.2v3.36h-2.2zM0 27.63h2.2v3.36h-2.2zM85.8 63.55h2.2v3.36h-2.2zM17.6 24.87h2.2v3.36h-2.2zM132 52.5h2.2v3.36h-2.2zM0 55.26h2.2v3.36h-2.2z" fill="#dbb8ff"/><path d="M70.4 138.15h2.2v3.36h-2.2zM101.2 80.13h2.2v3.36h-2.2zM41.8 52.5h2.2v3.36h-2.2zM44 55.26h2.2v3.36h-2.2zM46.2 58.02h2.2v3.36h-2.2zM81.4 71.84h2.2v3.36h-2.2zM103.4 30.39h2.2v3.36h-2.2zM105.6 33.16h2.2v3.36h-2.2zM107.8 33.16h2.2v3.36h-2.2zM61.6 96.7h2.2v3.36h-2.2zM63.8 96.7h2.2v3.36h-2.2zM63.8 99.47h2.2v3.36h-2.2zM66 102.23h2.2v3.36h-2.2zM110 140.91h2.2v3.36h-2.2zM112.2 143.68h2.2v3.36h-2.2zM22 19.34h2.2v3.36h-2.2zM24.2 22.1h2.2v3.36h-2.2zM81.4 30.39h2.2v3.36h-2.2zM2.2 91.18h2.2v3.36h-2.2zM96.8 16.58h2.2v3.36h-2.2zM127.6 13.81h2.2v3.36h-2.2zM129.8 16.58h2.2v3.36h-2.2zM132 16.58h2.2v3.36h-2.2zM24.2 93.94h2.2v3.36h-2.2zM39.6 66.31h2.2v3.36h-2.2zM110 132.62h2.2v3.36h-2.2zM112.2 135.39h2.2v3.36h-2.2zM101.2 71.84h2.2v3.36h-2.2zM103.4 74.6h2.2v3.36h-2.2zM28.6 127.1h2.2v3.36h-2.2zM30.8 129.86h2.2v3.36h-2.2zM81.4 33.16h2.2v3.36h-2.2zM63.8 2.76h2.2v3.36h-2.2zM90.2 22.1h2.2v3.36h-2.2zM90.2 138.15h2.2v3.36h-2.2zM116.6 13.81h2.2v3.36h-2.2zM118.8 16.58h2.2v3.36h-2.2zM37.4 140.91h2.2v3.36h-2.2zM39.6 143.68h2.2v3.36h-2.2zM46.2 33.16h2.2v3.36h-2.2zM4.4 58.02h2.2v3.36h-2.2zM15.4 58.02h2.2v3.36h-2.2zM17.6 60.79h2.2v3.36h-2.2zM11 58.02h2.2v3.36h-2.2zM13.2 58.02h2.2v3.36h-2.2zM13.2 60.79h2.2v3.36h-2.2zM15.4 63.55h2.2v3.36h-2.2zM70.4 16.58h2.2v3.36h-2.2zM72.6 19.34h2.2v3.36h-2.2zM74.8 22.1h2.2v3.36h-2.2zM44 140.91h2.2v3.36h-2.2zM37.4 38.68h2.2v3.36h-2.2zM92.4 16.58h2.2v3.36h-2.2zM26.4 16.58h2.2v3.36h-2.2zM46.2 44.21h2.2v3.36h-2.2zM48.4 46.97h2.2v3.36h-2.2zM125.4 33.16h2.2v3.36h-2.2zM28.6 24.87h2.2v3.36h-2.2zM129.8 38.68h2.2v3.36h-2.2zM46.2 102.23h2.2v3.36h-2.2zM48.4 104.99h2.2v3.36h-2.2zM11 104.99h2.2v3.36h-2.2zM13.2 104.99h2.2v3.36h-2.2zM13.2 107.76h2.2v3.36h-2.2zM74.8 13.81h2.2v3.36h-2.2zM77 16.58h2.2v3.36h-2.2zM110 60.79h2.2v3.36h-2.2zM101.2 143.68h2.2v3.36h-2.2zM59.4 22.1h2.2v3.36h-2.2zM61.6 22.1h2.2v3.36h-2.2zM79.2 30.39h2.2v3.36h-2.2zM114.4 140.91h2.2v3.36h-2.2zM116.6 143.68h2.2v3.36h-2.2zM118.8 0h2.2v3.36h-2.2zM107.8 38.68h2.2v3.36h-2.2zM116.6 66.31h2.2v3.36h-2.2zM22 24.87h2.2v3.36h-2.2zM57.2 77.36h2.2v3.36h-2.2zM55 52.5h2.2v3.36h-2.2zM57.2 55.26h2.2v3.36h-2.2zM44 104.99h2.2v3.36h-2.2zM79.2 35.92h2.2v3.36h-2.2zM24.2 46.97h2.2v3.36h-2.2zM26.4 46.97h2.2v3.36h-2.2zM96.8 58.02h2.2v3.36h-2.2zM30.8 107.76h2.2v3.36h-2.2zM37.4 16.58h2.2v3.36h-2.2zM79.2 127.1h2.2v3.36h-2.2zM81.4 129.86h2.2v3.36h-2.2zM83.6 132.62h2.2v3.36h-2.2zM30.8 110.52h2.2v3.36h-2.2zM92.4 107.76h2.2v3.36h-2.2zM94.6 110.52h2.2v3.36h-2.2zM70.4 41.45h2.2v3.36h-2.2zM112.2 71.84h2.2v3.36h-2.2zM41.8 38.68h2.2v3.36h-2.2zM103.4 77.36h2.2v3.36h-2.2zM24.2 66.31h2.2v3.36h-2.2zM26.4 69.08h2.2v3.36h-2.2zM94.6 113.28h2.2v3.36h-2.2zM96.8 116.05h2.2v3.36h-2.2zM127.6 135.39h2.2v3.36h-2.2zM129.8 138.15h2.2v3.36h-2.2zM94.6 143.68h2.2v3.36h-2.2zM41.8 116.05h2.2v3.36h-2.2zM83.6 38.68h2.2v3.36h-2.2zM85.8 38.68h2.2v3.36h-2.2zM85.8 41.45h2.2v3.36h-2.2zM129.8 102.23h2.2v3.36h-2.2zM127.6 46.97h2.2v3.36h-2.2zM116.6 38.68h2.2v3.36h-2.2zM118.8 41.45h2.2v3.36h-2.2zM121 44.21h2.2v3.36h-2.2zM123.2 58.02h2.2v3.36h-2.2zM103.4 118.81h2.2v3.36h-2.2zM132 71.84h2.2v3.36h-2.2zM52.8 74.6h2.2v3.36h-2.2zM55 77.36h2.2v3.36h-2.2zM19.8 102.23h2.2v3.36h-2.2zM22 102.23h2.2v3.36h-2.2zM94.6 46.97h2.2v3.36h-2.2zM6.6 19.34h2.2v3.36h-2.2zM4.4 116.05h2.2v3.36h-2.2zM37.4 99.47h2.2v3.36h-2.2zM28.6 77.36h2.2v3.36h-2.2zM63.8 69.08h2.2v3.36h-2.2zM22 58.02h2.2v3.36h-2.2zM105.6 82.89h2.2v3.36h-2.2zM22 135.39h2.2v3.36h-2.2zM0 11.05h2.2v3.36h-2.2zM2.2 13.81h2.2v3.36h-2.2zM81.4 110.52h2.2v3.36h-2.2zM125.4 30.39h2.2v3.36h-2.2zM79.2 124.33h2.2v3.36h-2.2zM0 74.6h2.2v3.36h-2.2zM2.2 77.36h2.2v3.36h-2.2zM4.4 138.15h2.2v3.36h-2.2zM6.6 140.91h2.2v3.36h-2.2zM55 55.26h2.2v3.36h-2.2zM57.2 58.02h2.2v3.36h-2.2zM59.4 60.79h2.2v3.36h-2.2zM46.2 5.53h2.2v3.36h-2.2zM48.4 8.29h2.2v3.36h-2.2zM103.4 41.45h2.2v3.36h-2.2zM105.6 44.21h2.2v3.36h-2.2zM39.6 102.23h2.2v3.36h-2.2zM35.2 121.57h2.2v3.36h-2.2zM37.4 124.33h2.2v3.36h-2.2zM39.6 127.1h2.2v3.36h-2.2zM52.8 143.68h2.2v3.36h-2.2zM68.2 2.76h2.2v3.36h-2.2zM107.8 11.05h2.2v3.36h-2.2zM110 13.81h2.2v3.36h-2.2zM112.2 16.58h2.2v3.36h-2.2zM121 0h2.2v3.36h-2.2zM22 77.36h2.2v3.36h-2.2zM105.6 107.76h2.2v3.36h-2.2zM88 110.52h2.2v3.36h-2.2zM90.2 96.7h2.2v3.36h-2.2zM33 96.7h2.2v3.36h-2.2zM35.2 99.47h2.2v3.36h-2.2zM37.4 102.23h2.2v3.36h-2.2zM99 132.62h2.2v3.36h-2.2zM26.4 0h2.2v3.36h-2.2zM28.6 2.76h2.2v3.36h-2.2zM30.8 5.53h2.2v3.36h-2.2zM63.8 46.97h2.2v3.36h-2.2zM99 143.68h2.2v3.36h-2.2zM101.2 0h2.2v3.36h-2.2zM103.4 0h2.2v3.36h-2.2zM11 82.89h2.2v3.36h-2.2zM13.2 85.65h2.2v3.36h-2.2zM101.2 46.97h2.2v3.36h-2.2zM103.4 46.97h2.2v3.36h-2.2zM33 85.65h2.2v3.36h-2.2zM123.2 99.47h2.2v3.36h-2.2zM112.2 11.05h2.2v3.36h-2.2zM66 8.29h2.2v3.36h-2.2zM68.2 11.05h2.2v3.36h-2.2zM125.4 93.94h2.2v3.36h-2.2zM127.6 60.79h2.2v3.36h-2.2zM132 66.31h2.2v3.36h-2.2zM11 63.55h2.2v3.36h-2.2zM105.6 41.45h2.2v3.36h-2.2zM107.8 44.21h2.2v3.36h-2.2zM88 71.84h2.2v3.36h-2.2zM85.8 58.02h2.2v3.36h-2.2zM88 60.79h2.2v3.36h-2.2zM132 30.39h2.2v3.36h-2.2zM2.2 35.92h2.2v3.36h-2.2zM129.8 33.16h2.2v3.36h-2.2zM112.2 107.76h2.2v3.36h-2.2zM26.4 80.13h2.2v3.36h-2.2zM66 16.58h2.2v3.36h-2.2zM68.2 16.58h2.2v3.36h-2.2zM68.2 19.34h2.2v3.36h-2.2zM88 19.34h2.2v3.36h-2.2zM96.8 99.47h2.2v3.36h-2.2zM99 102.23h2.2v3.36h-2.2zM101.2 104.99h2.2v3.36h-2.2zM33 11.05h2.2v3.36h-2.2zM35.2 11.05h2.2v3.36h-2.2zM15.4 143.68h2.2v3.36h-2.2zM39.6 118.81h2.2v3.36h-2.2zM41.8 118.81h2.2v3.36h-2.2zM59.4 0h2.2v3.36h-2.2zM99 85.65h2.2v3.36h-2.2zM101.2 85.65h2.2v3.36h-2.2zM103.4 91.18h2.2v3.36h-2.2zM37.4 127.1h2.2v3.36h-2.2zM39.6 129.86h2.2v3.36h-2.2zM41.8 129.86h2.2v3.36h-2.2zM41.8 132.62h2.2v3.36h-2.2zM107.8 5.53h2.2v3.36h-2.2zM110 8.29h2.2v3.36h-2.2zM52.8 129.86h2.2v3.36h-2.2zM74.8 82.89h2.2v3.36h-2.2zM28.6 91.18h2.2v3.36h-2.2zM85.8 27.63h2.2v3.36h-2.2zM88 30.39h2.2v3.36h-2.2zM118.8 88.42h2.2v3.36h-2.2zM81.4 88.42h2.2v3.36h-2.2zM83.6 91.18h2.2v3.36h-2.2zM63.8 60.79h2.2v3.36h-2.2zM114.4 124.33h2.2v3.36h-2.2zM79.2 44.21h2.2v3.36h-2.2zM81.4 46.97h2.2v3.36h-2.2zM83.6 46.97h2.2v3.36h-2.2zM17.6 113.28h2.2v3.36h-2.2zM19.8 116.05h2.2v3.36h-2.2zM22 118.81h2.2v3.36h-2.2zM103.4 69.08h2.2v3.36h-2.2zM129.8 135.39h2.2v3.36h-2.2zM118.8 74.6h2.2v3.36h-2.2zM121 77.36h2.2v3.36h-2.2zM30.8 8.29h2.2v3.36h-2.2zM33 8.29h2.2v3.36h-2.2zM48.4 52.5h2.2v3.36h-2.2zM50.6 55.26h2.2v3.36h-2.2zM33 140.91h2.2v3.36h-2.2zM88 74.6h2.2v3.36h-2.2zM90.2 74.6h2.2v3.36h-2.2zM107.8 52.5h2.2v3.36h-2.2zM26.4 129.86h2.2v3.36h-2.2zM26.4 110.52h2.2v3.36h-2.2zM28.6 113.28h2.2v3.36h-2.2zM39.6 132.62h2.2v3.36h-2.2zM50.6 27.63h2.2v3.36h-2.2zM17.6 0h2.2v3.36h-2.2zM116.6 16.58h2.2v3.36h-2.2zM94.6 135.39h2.2v3.36h-2.2zM37.4 82.89h2.2v3.36h-2.2zM59.4 33.16h2.2v3.36h-2.2zM61.6 35.92h2.2v3.36h-2.2zM0 69.08h2.2v3.36h-2.2zM8.8 22.1h2.2v3.36h-2.2zM28.6 116.05h2.2v3.36h-2.2zM30.8 118.81h2.2v3.36h-2.2zM33 121.57h2.2v3.36h-2.2zM105.6 8.29h2.2v3.36h-2.2zM26.4 104.99h2.2v3.36h-2.2zM11 121.57h2.2v3.36h-2.2zM13.2 124.33h2.2v3.36h-2.2zM24.2 11.05h2.2v3.36h-2.2zM30.8 124.33h2.2v3.36h-2.2zM17.6 104.99h2.2v3.36h-2.2zM19.8 107.76h2.2v3.36h-2.2zM4.4 27.63h2.2v3.36h-2.2zM6.6 30.39h2.2v3.36h-2.2zM72.6 85.65h2.2v3.36h-2.2zM63.8 129.86h2.2v3.36h-2.2zM66 132.62h2.2v3.36h-2.2zM118.8 93.94h2.2v3.36h-2.2zM121 96.7h2.2v3.36h-2.2zM0 113.28h2.2v3.36h-2.2zM44 11.05h2.2v3.36h-2.2zM46.2 13.81h2.2v3.36h-2.2zM123.2 135.39h2.2v3.36h-2.2zM125.4 138.15h2.2v3.36h-2.2zM127.6 140.91h2.2v3.36h-2.2zM22 138.15h2.2v3.36h-2.2zM77 52.5h2.2v3.36h-2.2zM79.2 55.26h2.2v3.36h-2.2zM81.4 58.02h2.2v3.36h-2.2zM2.2 24.87h2.2v3.36h-2.2zM103.4 2.76h2.2v3.36h-2.2zM103.4 5.53h2.2v3.36h-2.2zM107.8 8.29h2.2v3.36h-2.2zM118.8 85.65h2.2v3.36h-2.2zM52.8 63.55h2.2v3.36h-2.2zM55 66.31h2.2v3.36h-2.2zM17.6 22.1h2.2v3.36h-2.2zM19.8 24.87h2.2v3.36h-2.2zM79.2 63.55h2.2v3.36h-2.2zM66 63.55h2.2v3.36h-2.2zM6.6 46.97h2.2v3.36h-2.2zM8.8 49.73h2.2v3.36h-2.2zM72.6 127.1h2.2v3.36h-2.2zM77 118.81h2.2v3.36h-2.2z" fill="#c285ff"/><path d="M103.4 140.91h2.2v3.36h-2.2zM105.6 143.68h2.2v3.36h-2.2zM57.2 129.86h2.2v3.36h-2.2zM59.4 132.62h2.2v3.36h-2.2zM50.6 118.81h2.2v3.36h-2.2zM52.8 121.57h2.2v3.36h-2.2zM123.2 8.29h2.2v3.36h-2.2zM92.4 118.81h2.2v3.36h-2.2zM94.6 118.81h2.2v3.36h-2.2zM30.8 88.42h2.2v3.36h-2.2zM33 91.18h2.2v3.36h-2.2zM81.4 102.23h2.2v3.36h-2.2zM105.6 60.79h2.2v3.36h-2.2zM15.4 13.81h2.2v3.36h-2.2zM17.6 16.58h2.2v3.36h-2.2zM112.2 104.99h2.2v3.36h-2.2zM0 85.65h2.2v3.36h-2.2zM2.2 88.42h2.2v3.36h-2.2zM79.2 77.36h2.2v3.36h-2.2zM114.4 138.15h2.2v3.36h-2.2zM61.6 49.73h2.2v3.36h-2.2zM61.6 110.52h2.2v3.36h-2.2zM46.2 46.97h2.2v3.36h-2.2zM48.4 49.73h2.2v3.36h-2.2zM121 24.87h2.2v3.36h-2.2zM15.4 118.81h2.2v3.36h-2.2zM17.6 118.81h2.2v3.36h-2.2zM17.6 121.57h2.2v3.36h-2.2zM6.6 33.16h2.2v3.36h-2.2zM8.8 35.92h2.2v3.36h-2.2zM105.6 138.15h2.2v3.36h-2.2zM107.8 140.91h2.2v3.36h-2.2zM101.2 116.05h2.2v3.36h-2.2zM103.4 116.05h2.2v3.36h-2.2zM66 140.91h2.2v3.36h-2.2zM68.2 143.68h2.2v3.36h-2.2zM70.4 0h2.2v3.36h-2.2zM105.6 58.02h2.2v3.36h-2.2zM107.8 60.79h2.2v3.36h-2.2zM30.8 69.08h2.2v3.36h-2.2zM72.6 69.08h2.2v3.36h-2.2zM114.4 69.08h2.2v3.36h-2.2zM116.6 71.84h2.2v3.36h-2.2zM96.8 129.86h2.2v3.36h-2.2zM24.2 71.84h2.2v3.36h-2.2zM90.2 107.76h2.2v3.36h-2.2zM46.2 52.5h2.2v3.36h-2.2zM48.4 55.26h2.2v3.36h-2.2zM50.6 58.02h2.2v3.36h-2.2zM50.6 140.91h2.2v3.36h-2.2zM96.8 104.99h2.2v3.36h-2.2zM110 127.1h2.2v3.36h-2.2zM112.2 49.73h2.2v3.36h-2.2zM81.4 52.5h2.2v3.36h-2.2zM103.4 19.34h2.2v3.36h-2.2zM116.6 58.02h2.2v3.36h-2.2zM59.4 96.7h2.2v3.36h-2.2zM0 41.45h2.2v3.36h-2.2zM99 74.6h2.2v3.36h-2.2zM101.2 77.36h2.2v3.36h-2.2zM24.2 118.81h2.2v3.36h-2.2zM77 113.28h2.2v3.36h-2.2zM79.2 116.05h2.2v3.36h-2.2zM81.4 118.81h2.2v3.36h-2.2zM114.4 132.62h2.2v3.36h-2.2zM63.8 80.13h2.2v3.36h-2.2zM66 82.89h2.2v3.36h-2.2zM77 0h2.2v3.36h-2.2zM79.2 2.76h2.2v3.36h-2.2zM55 5.53h2.2v3.36h-2.2zM57.2 8.29h2.2v3.36h-2.2zM81.4 132.62h2.2v3.36h-2.2zM28.6 11.05h2.2v3.36h-2.2zM48.4 140.91h2.2v3.36h-2.2zM96.8 85.65h2.2v3.36h-2.2zM11 49.73h2.2v3.36h-2.2zM22 46.97h2.2v3.36h-2.2zM107.8 113.28h2.2v3.36h-2.2zM110 116.05h2.2v3.36h-2.2zM112.2 118.81h2.2v3.36h-2.2zM118.8 80.13h2.2v3.36h-2.2zM66 5.53h2.2v3.36h-2.2zM92.4 27.63h2.2v3.36h-2.2zM46.2 2.76h2.2v3.36h-2.2zM52.8 22.1h2.2v3.36h-2.2zM55 24.87h2.2v3.36h-2.2zM39.6 99.47h2.2v3.36h-2.2zM101.2 30.39h2.2v3.36h-2.2zM74.8 91.18h2.2v3.36h-2.2zM59.4 49.73h2.2v3.36h-2.2zM96.8 96.7h2.2v3.36h-2.2zM114.4 46.97h2.2v3.36h-2.2zM116.6 49.73h2.2v3.36h-2.2zM127.6 102.23h2.2v3.36h-2.2zM33 132.62h2.2v3.36h-2.2zM101.2 11.05h2.2v3.36h-2.2zM13.2 91.18h2.2v3.36h-2.2zM15.4 93.94h2.2v3.36h-2.2zM94.6 16.58h2.2v3.36h-2.2zM127.6 63.55h2.2v3.36h-2.2zM129.8 66.31h2.2v3.36h-2.2zM39.6 88.42h2.2v3.36h-2.2zM41.8 91.18h2.2v3.36h-2.2zM44 93.94h2.2v3.36h-2.2zM118.8 19.34h2.2v3.36h-2.2zM28.6 104.99h2.2v3.36h-2.2zM13.2 55.26h2.2v3.36h-2.2zM85.8 121.57h2.2v3.36h-2.2zM110 110.52h2.2v3.36h-2.2zM46.2 93.94h2.2v3.36h-2.2zM48.4 96.7h2.2v3.36h-2.2zM110 44.21h2.2v3.36h-2.2zM96.8 2.76h2.2v3.36h-2.2zM13.2 138.15h2.2v3.36h-2.2zM70.4 127.1h2.2v3.36h-2.2zM26.4 107.76h2.2v3.36h-2.2zM28.6 107.76h2.2v3.36h-2.2zM28.6 110.52h2.2v3.36h-2.2zM94.6 138.15h2.2v3.36h-2.2zM118.8 38.68h2.2v3.36h-2.2zM121 41.45h2.2v3.36h-2.2zM8.8 80.13h2.2v3.36h-2.2zM92.4 88.42h2.2v3.36h-2.2zM22 96.7h2.2v3.36h-2.2zM24.2 99.47h2.2v3.36h-2.2zM11 124.33h2.2v3.36h-2.2zM63.8 91.18h2.2v3.36h-2.2zM52.8 124.33h2.2v3.36h-2.2zM63.8 88.42h2.2v3.36h-2.2zM50.6 0h2.2v3.36h-2.2zM52.8 0h2.2v3.36h-2.2zM52.8 2.76h2.2v3.36h-2.2zM19.8 52.5h2.2v3.36h-2.2zM68.2 33.16h2.2v3.36h-2.2zM70.4 35.92h2.2v3.36h-2.2zM94.6 58.02h2.2v3.36h-2.2zM96.8 60.79h2.2v3.36h-2.2zM66 91.18h2.2v3.36h-2.2zM55 71.84h2.2v3.36h-2.2zM57.2 74.6h2.2v3.36h-2.2zM127.6 118.81h2.2v3.36h-2.2zM99 33.16h2.2v3.36h-2.2zM11 38.68h2.2v3.36h-2.2zM41.8 27.63h2.2v3.36h-2.2zM96.8 113.28h2.2v3.36h-2.2zM2.2 71.84h2.2v3.36h-2.2zM4.4 74.6h2.2v3.36h-2.2zM79.2 140.91h2.2v3.36h-2.2zM41.8 24.87h2.2v3.36h-2.2zM44 30.39h2.2v3.36h-2.2zM72.6 33.16h2.2v3.36h-2.2z" fill="#a852ff"/><path d="M48.4 63.55h2.2v3.36h-2.2zM50.6 66.31h2.2v3.36h-2.2zM52.8 69.08h2.2v3.36h-2.2zM0 143.68h2.2v3.36h-2.2zM28.6 118.81h2.2v3.36h-2.2zM30.8 121.57h2.2v3.36h-2.2zM33 124.33h2.2v3.36h-2.2zM112.2 13.81h2.2v3.36h-2.2zM114.4 16.58h2.2v3.36h-2.2zM107.8 135.39h2.2v3.36h-2.2zM110 138.15h2.2v3.36h-2.2zM63.8 110.52h2.2v3.36h-2.2zM55 69.08h2.2v3.36h-2.2zM0 60.79h2.2v3.36h-2.2zM4.4 63.55h2.2v3.36h-2.2zM52.8 19.34h2.2v3.36h-2.2zM48.4 124.33h2.2v3.36h-2.2zM48.4 30.39h2.2v3.36h-2.2zM50.6 33.16h2.2v3.36h-2.2zM52.8 33.16h2.2v3.36h-2.2zM17.6 127.1h2.2v3.36h-2.2zM19.8 129.86h2.2v3.36h-2.2zM22 132.62h2.2v3.36h-2.2zM52.8 135.39h2.2v3.36h-2.2zM127.6 35.92h2.2v3.36h-2.2zM44 49.73h2.2v3.36h-2.2zM39.6 11.05h2.2v3.36h-2.2zM41.8 13.81h2.2v3.36h-2.2zM44 13.81h2.2v3.36h-2.2zM127.6 107.76h2.2v3.36h-2.2zM90.2 143.68h2.2v3.36h-2.2zM125.4 113.28h2.2v3.36h-2.2zM129.8 118.81h2.2v3.36h-2.2zM72.6 107.76h2.2v3.36h-2.2zM74.8 110.52h2.2v3.36h-2.2zM127.6 16.58h2.2v3.36h-2.2zM44 60.79h2.2v3.36h-2.2zM68.2 66.31h2.2v3.36h-2.2zM72.6 71.84h2.2v3.36h-2.2zM30.8 24.87h2.2v3.36h-2.2zM33 27.63h2.2v3.36h-2.2zM35.2 30.39h2.2v3.36h-2.2zM90.2 80.13h2.2v3.36h-2.2zM94.6 85.65h2.2v3.36h-2.2zM127.6 110.52h2.2v3.36h-2.2zM129.8 113.28h2.2v3.36h-2.2zM55 132.62h2.2v3.36h-2.2zM107.8 66.31h2.2v3.36h-2.2zM110 69.08h2.2v3.36h-2.2zM26.4 124.33h2.2v3.36h-2.2zM74.8 129.86h2.2v3.36h-2.2zM77 132.62h2.2v3.36h-2.2zM79.2 135.39h2.2v3.36h-2.2zM57.2 96.7h2.2v3.36h-2.2zM96.8 46.97h2.2v3.36h-2.2zM66 49.73h2.2v3.36h-2.2zM66 60.79h2.2v3.36h-2.2zM57.2 140.91h2.2v3.36h-2.2zM59.4 143.68h2.2v3.36h-2.2zM61.6 0h2.2v3.36h-2.2zM33 127.1h2.2v3.36h-2.2zM35.2 129.86h2.2v3.36h-2.2zM121 19.34h2.2v3.36h-2.2zM37.4 69.08h2.2v3.36h-2.2zM39.6 71.84h2.2v3.36h-2.2zM41.8 74.6h2.2v3.36h-2.2zM116.6 74.6h2.2v3.36h-2.2zM79.2 82.89h2.2v3.36h-2.2zM81.4 85.65h2.2v3.36h-2.2zM88 80.13h2.2v3.36h-2.2zM132 2.76h2.2v3.36h-2.2zM0 2.76h2.2v3.36h-2.2zM0 5.53h2.2v3.36h-2.2zM48.4 118.81h2.2v3.36h-2.2zM63.8 8.29h2.2v3.36h-2.2zM110 129.86h2.2v3.36h-2.2zM112.2 132.62h2.2v3.36h-2.2zM66 138.15h2.2v3.36h-2.2zM68.2 140.91h2.2v3.36h-2.2zM63.8 30.39h2.2v3.36h-2.2zM83.6 85.65h2.2v3.36h-2.2zM103.4 49.73h2.2v3.36h-2.2zM74.8 71.84h2.2v3.36h-2.2zM48.4 66.31h2.2v3.36h-2.2zM4.4 55.26h2.2v3.36h-2.2zM79.2 24.87h2.2v3.36h-2.2zM81.4 27.63h2.2v3.36h-2.2zM81.4 44.21h2.2v3.36h-2.2zM59.4 13.81h2.2v3.36h-2.2zM59.4 107.76h2.2v3.36h-2.2zM50.6 5.53h2.2v3.36h-2.2zM52.8 8.29h2.2v3.36h-2.2zM55 11.05h2.2v3.36h-2.2zM15.4 35.92h2.2v3.36h-2.2zM33 102.23h2.2v3.36h-2.2zM129.8 55.26h2.2v3.36h-2.2zM92.4 0h2.2v3.36h-2.2zM94.6 2.76h2.2v3.36h-2.2zM28.6 140.91h2.2v3.36h-2.2zM30.8 143.68h2.2v3.36h-2.2zM61.6 60.79h2.2v3.36h-2.2z" fill="#8a2eff"/></pattern><linearGradient id="dipw" gradientUnits="userSpaceOnUse" x1="824" x2="888" y1="0" y2="0"><stop offset="0" stop-color="#fff" stop-opacity="0"/><stop offset="0.15" stop-color="#fff" stop-opacity="0.75"/><stop offset="0.27" stop-color="#fff" stop-opacity="0.96"/><stop offset="0.76" stop-color="#fff" stop-opacity="0.96"/><stop offset="0.88" stop-color="#fff" stop-opacity="0.75"/><stop offset="1" stop-color="#fff" stop-opacity="0"/></linearGradient><linearGradient id="t0" gradientUnits="userSpaceOnUse" x1="0" x2="0" y1="797" y2="1376.1"><stop offset="0.0000" stop-color="#9933ff" stop-opacity="0.000"/><stop offset="0.0633" stop-color="#9933ff" stop-opacity="0.000"/><stop offset="0.0638" stop-color="#9933ff" stop-opacity="0.000"/><stop offset="0.2757" stop-color="#9933ff" stop-opacity="0.000"/><stop offset="0.3043" stop-color="#9933ff" stop-opacity="0.200"/><stop offset="0.3329" stop-color="#9933ff" stop-opacity="0.650"/><stop offset="0.3568" stop-color="#8a2eff"/><stop offset="0.3902" stop-color="#4517ff"/><stop offset="0.4236" stop-color="#0000ff"/><stop offset="0.4618" stop-color="#0046b9"/><stop offset="0.4952" stop-color="#008080"/><stop offset="0.5238" stop-color="#00ac53"/><stop offset="0.5524" stop-color="#00d926"/><stop offset="0.5858" stop-color="#0dff00"/><stop offset="0.6097" stop-color="#33ff00"/><stop offset="0.6336" stop-color="#59ff00"/><stop offset="0.6526" stop-color="#7fff00"/><stop offset="0.6717" stop-color="#93ff00"/><stop offset="0.6837" stop-color="#73ff00"/><stop offset="0.6932" stop-color="#4dff00"/><stop offset="0.7037" stop-color="#00e51a"/><stop offset="0.7123" stop-color="#008080"/><stop offset="0.7209" stop-color="#0019e6"/><stop offset="0.7280" stop-color="#3612ff"/><stop offset="0.7361" stop-color="#7a29ff"/><stop offset="0.7481" stop-color="#9933ff" stop-opacity="0.600"/><stop offset="0.7600" stop-color="#9933ff" stop-opacity="0.150"/><stop offset="0.7672" stop-color="#9933ff" stop-opacity="0.000"/><stop offset="0.9962" stop-color="#9933ff" stop-opacity="0.000"/><stop offset="0.9986" stop-color="#9933ff" stop-opacity="0.000"/></linearGradient><linearGradient id="t1" gradientUnits="userSpaceOnUse" x1="0" x2="0" y1="797" y2="1376.1"><stop offset="0.0000" stop-color="#9933ff" stop-opacity="0.000"/><stop offset="0.0633" stop-color="#9933ff" stop-opacity="0.000"/><stop offset="0.0638" stop-color="#9933ff" stop-opacity="0.000"/><stop offset="0.2757" stop-color="#9933ff" stop-opacity="0.000"/><stop offset="0.3043" stop-color="#9933ff" stop-opacity="0.195"/><stop offset="0.3329" stop-color="#9933ff" stop-opacity="0.634"/><stop offset="0.3568" stop-color="#8d2fff"/><stop offset="0.3807" stop-color="#5d1fff"/><stop offset="0.3902" stop-color="#4a19ff"/><stop offset="0.4188" stop-color="#0e05ff"/><stop offset="0.4236" stop-color="#0401ff"/><stop offset="0.4427" stop-color="#001de2"/><stop offset="0.4618" stop-color="#0041be"/><stop offset="0.4713" stop-color="#0052ad"/><stop offset="0.4761" stop-color="#005ba4"/><stop offset="0.4952" stop-color="#007c83"/><stop offset="0.5238" stop-color="#00a956"/><stop offset="0.5501" stop-color="#00d32c"/><stop offset="0.5524" stop-color="#00d728"/><stop offset="0.5620" stop-color="#00e51a"/><stop offset="0.5811" stop-color="#04ff00"/><stop offset="0.5858" stop-color="#0bff00"/><stop offset="0.5954" stop-color="#1aff00"/><stop offset="0.6097" stop-color="#31ff00"/><stop offset="0.6192" stop-color="#41ff00"/><stop offset="0.6336" stop-color="#58ff00"/><stop offset="0.6479" stop-color="#74ff00"/><stop offset="0.6526" stop-color="#7eff00"/><stop offset="0.6717" stop-color="#92ff00"/><stop offset="0.6765" stop-color="#85ff00"/><stop offset="0.6837" stop-color="#73ff00"/><stop offset="0.6932" stop-color="#4eff00"/><stop offset="0.6956" stop-color="#38ff00"/><stop offset="0.7037" stop-color="#00e916"/><stop offset="0.7075" stop-color="#00bd42"/><stop offset="0.7099" stop-color="#00a15e"/><stop offset="0.7123" stop-color="#00857a"/><stop offset="0.7180" stop-color="#0042bd"/><stop offset="0.7209" stop-color="#0020df"/><stop offset="0.7242" stop-color="#0d04ff"/><stop offset="0.7256" stop-color="#1a09ff"/><stop offset="0.7280" stop-color="#3110ff"/><stop offset="0.7314" stop-color="#4d1aff"/><stop offset="0.7352" stop-color="#6e25ff"/><stop offset="0.7361" stop-color="#7627ff"/><stop offset="0.7409" stop-color="#9933ff" stop-opacity="0.991"/><stop offset="0.7443" stop-color="#9933ff" stop-opacity="0.822"/><stop offset="0.7481" stop-color="#9933ff" stop-opacity="0.629"/><stop offset="0.7519" stop-color="#9933ff" stop-opacity="0.482"/><stop offset="0.7590" stop-color="#9933ff" stop-opacity="0.204"/><stop offset="0.7600" stop-color="#9933ff" stop-opacity="0.167"/><stop offset="0.7672" stop-color="#9933ff" stop-opacity="0.010"/><stop offset="0.7686" stop-color="#9933ff" stop-opacity="0.007"/><stop offset="0.7791" stop-color="#9933ff" stop-opacity="0.000"/><stop offset="0.9962" stop-color="#9933ff" stop-opacity="0.000"/><stop offset="0.9986" stop-color="#9933ff" stop-opacity="0.000"/></linearGradient><linearGradient id="t2" gradientUnits="userSpaceOnUse" x1="0" x2="0" y1="797" y2="1376.1"><stop offset="0.0000" stop-color="#9933ff" stop-opacity="0.000"/><stop offset="0.0633" stop-color="#9933ff" stop-opacity="0.000"/><stop offset="0.0638" stop-color="#9933ff" stop-opacity="0.000"/><stop offset="0.2757" stop-color="#9933ff" stop-opacity="0.000"/><stop offset="0.3043" stop-color="#9933ff" stop-opacity="0.185"/><stop offset="0.3329" stop-color="#9933ff" stop-opacity="0.601"/><stop offset="0.3568" stop-color="#9532ff"/><stop offset="0.3807" stop-color="#6622ff"/><stop offset="0.3902" stop-color="#531cff"/><stop offset="0.4188" stop-color="#1607ff"/><stop offset="0.4236" stop-color="#0c04ff"/><stop offset="0.4427" stop-color="#0012ed"/><stop offset="0.4618" stop-color="#0038c7"/><stop offset="0.4713" stop-color="#0049b6"/><stop offset="0.4761" stop-color="#0052ad"/><stop offset="0.4952" stop-color="#007689"/><stop offset="0.5238" stop-color="#00a45b"/><stop offset="0.5501" stop-color="#00cf30"/><stop offset="0.5524" stop-color="#00d22d"/><stop offset="0.5620" stop-color="#00e11e"/><stop offset="0.5811" stop-color="#00ff00"/><stop offset="0.5858" stop-color="#07ff00"/><stop offset="0.5954" stop-color="#17ff00"/><stop offset="0.6097" stop-color="#2eff00"/><stop offset="0.6192" stop-color="#3dff00"/><stop offset="0.6336" stop-color="#54ff00"/><stop offset="0.6479" stop-color="#71ff00"/><stop offset="0.6526" stop-color="#7bff00"/><stop offset="0.6717" stop-color="#8fff00"/><stop offset="0.6765" stop-color="#84ff00"/><stop offset="0.6837" stop-color="#74ff00"/><stop offset="0.6932" stop-color="#52ff00"/><stop offset="0.6956" stop-color="#3cff00"/><stop offset="0.7037" stop-color="#00f10e"/><stop offset="0.7075" stop-color="#00c738"/><stop offset="0.7099" stop-color="#00ac53"/><stop offset="0.7123" stop-color="#00906f"/><stop offset="0.7180" stop-color="#004eb1"/><stop offset="0.7209" stop-color="#002cd3"/><stop offset="0.7242" stop-color="#0502ff"/><stop offset="0.7256" stop-color="#1206ff"/><stop offset="0.7280" stop-color="#280dff"/><stop offset="0.7314" stop-color="#4417ff"/><stop offset="0.7352" stop-color="#6421ff"/><stop offset="0.7361" stop-color="#6c24ff"/><stop offset="0.7409" stop-color="#9130ff"/><stop offset="0.7443" stop-color="#9933ff" stop-opacity="0.883"/><stop offset="0.7481" stop-color="#9933ff" stop-opacity="0.686"/><stop offset="0.7519" stop-color="#9933ff" stop-opacity="0.534"/><stop offset="0.7590" stop-color="#9933ff" stop-opacity="0.240"/><stop offset="0.7600" stop-color="#9933ff" stop-opacity="0.202"/><stop offset="0.7672" stop-color="#9933ff" stop-opacity="0.029"/><stop offset="0.7686" stop-color="#9933ff" stop-opacity="0.022"/><stop offset="0.7791" stop-color="#9933ff" stop-opacity="0.000"/><stop offset="0.9962" stop-color="#9933ff" stop-opacity="0.000"/><stop offset="0.9986" stop-color="#9933ff" stop-opacity="0.000"/></linearGradient><linearGradient id="t3" gradientUnits="userSpaceOnUse" x1="0" x2="0" y1="797" y2="1376.1"><stop offset="0.0000" stop-color="#9933ff" stop-opacity="0.000"/><stop offset="0.0633" stop-color="#9933ff" stop-opacity="0.000"/><stop offset="0.0638" stop-color="#9933ff" stop-opacity="0.000"/><stop offset="0.2757" stop-color="#9933ff" stop-opacity="0.000"/><stop offset="0.3043" stop-color="#9933ff" stop-opacity="0.175"/><stop offset="0.3329" stop-color="#9933ff" stop-opacity="0.569"/><stop offset="0.3568" stop-color="#9933ff" stop-opacity="0.978"/><stop offset="0.3807" stop-color="#6f25ff"/><stop offset="0.3902" stop-color="#5d1fff"/><stop offset="0.4188" stop-color="#1f0aff"/><stop offset="0.4236" stop-color="#1407ff"/><stop offset="0.4427" stop-color="#0007f8"/><stop offset="0.4618" stop-color="#002ed1"/><stop offset="0.4713" stop-color="#0041be"/><stop offset="0.4761" stop-color="#004ab5"/><stop offset="0.4952" stop-color="#00708f"/><stop offset="0.5238" stop-color="#009f60"/><stop offset="0.5501" stop-color="#00ca35"/><stop offset="0.5524" stop-color="#00ce31"/><stop offset="0.5620" stop-color="#00dd22"/><stop offset="0.5811" stop-color="#00fb04"/><stop offset="0.5858" stop-color="#03ff00"/><stop offset="0.5954" stop-color="#13ff00"/><stop offset="0.6097" stop-color="#2aff00"/><stop offset="0.6192" stop-color="#3aff00"/><stop offset="0.6336" stop-color="#51ff00"/><stop offset="0.6479" stop-color="#6eff00"/><stop offset="0.6526" stop-color="#77ff00"/><stop offset="0.6717" stop-color="#8dff00"/><stop offset="0.6765" stop-color="#83ff00"/><stop offset="0.6837" stop-color="#74ff00"/><stop offset="0.6932" stop-color="#55ff00"/><stop offset="0.6956" stop-color="#41ff00"/><stop offset="0.7037" stop-color="#00f906"/><stop offset="0.7075" stop-color="#00d12e"/><stop offset="0.7099" stop-color="#00b649"/><stop offset="0.7123" stop-color="#009b64"/><stop offset="0.7180" stop-color="#005aa5"/><stop offset="0.7209" stop-color="#0039c6"/><stop offset="0.7242" stop-color="#0006f9"/><stop offset="0.7256" stop-color="#0a03ff"/><stop offset="0.7280" stop-color="#200bff"/><stop offset="0.7314" stop-color="#3b14ff"/><stop offset="0.7352" stop-color="#5a1eff"/><stop offset="0.7361" stop-color="#6321ff"/><stop offset="0.7409" stop-color="#882dff"/><stop offset="0.7443" stop-color="#9933ff" stop-opacity="0.943"/><stop offset="0.7481" stop-color="#9933ff" stop-opacity="0.744"/><stop offset="0.7519" stop-color="#9933ff" stop-opacity="0.587"/><stop offset="0.7590" stop-color="#9933ff" stop-opacity="0.275"/><stop offset="0.7600" stop-color="#9933ff" stop-opacity="0.236"/><stop offset="0.7672" stop-color="#9933ff" stop-opacity="0.049"/><stop offset="0.7686" stop-color="#9933ff" stop-opacity="0.037"/><stop offset="0.7791" stop-color="#9933ff" stop-opacity="0.000"/><stop offset="0.9962" stop-color="#9933ff" stop-opacity="0.000"/><stop offset="0.9986" stop-color="#9933ff" stop-opacity="0.000"/></linearGradient><linearGradient id="t4" gradientUnits="userSpaceOnUse" x1="0" x2="0" y1="797" y2="1376.1"><stop offset="0.0000" stop-color="#9933ff" stop-opacity="0.000"/><stop offset="0.0633" stop-color="#9933ff" stop-opacity="0.000"/><stop offset="0.0638" stop-color="#9933ff" stop-opacity="0.000"/><stop offset="0.2757" stop-color="#9933ff" stop-opacity="0.000"/><stop offset="0.3043" stop-color="#9933ff" stop-opacity="0.160"/><stop offset="0.3329" stop-color="#9933ff" stop-opacity="0.520"/><stop offset="0.3568" stop-color="#9933ff" stop-opacity="0.905"/><stop offset="0.3807" stop-color="#7c29ff"/><stop offset="0.3902" stop-color="#6b24ff"/><stop offset="0.4188" stop-color="#2b0eff"/><stop offset="0.4236" stop-color="#210bff"/><stop offset="0.4427" stop-color="#0602ff"/><stop offset="0.4618" stop-color="#001fe0"/><stop offset="0.4713" stop-color="#0033cc"/><stop offset="0.4761" stop-color="#003dc2"/><stop offset="0.4952" stop-color="#006699"/><stop offset="0.5238" stop-color="#009669"/><stop offset="0.5501" stop-color="#00c43b"/><stop offset="0.5524" stop-color="#00c837"/><stop offset="0.5620" stop-color="#00d728"/><stop offset="0.5811" stop-color="#00f50a"/><stop offset="0.5858" stop-color="#00fd02"/><stop offset="0.5954" stop-color="#0eff00"/><stop offset="0.6097" stop-color="#25ff00"/><stop offset="0.6192" stop-color="#35ff00"/><stop offset="0.6336" stop-color="#4dff00"/><stop offset="0.6479" stop-color="#69ff00"/><stop offset="0.6526" stop-color="#72ff00"/><stop offset="0.6717" stop-color="#8aff00"/><stop offset="0.6765" stop-color="#81ff00"/><stop offset="0.6837" stop-color="#75ff00"/><stop offset="0.6932" stop-color="#5bff00"/><stop offset="0.6956" stop-color="#47ff00"/><stop offset="0.7037" stop-color="#06ff00"/><stop offset="0.7075" stop-color="#00e01f"/><stop offset="0.7099" stop-color="#00c639"/><stop offset="0.7123" stop-color="#00ac53"/><stop offset="0.7180" stop-color="#006d92"/><stop offset="0.7209" stop-color="#004cb3"/><stop offset="0.7242" stop-color="#001ae5"/><stop offset="0.7256" stop-color="#0005fa"/><stop offset="0.7280" stop-color="#1206ff"/><stop offset="0.7314" stop-color="#2d0fff"/><stop offset="0.7352" stop-color="#4c19ff"/><stop offset="0.7361" stop-color="#541cff"/><stop offset="0.7409" stop-color="#7a29ff"/><stop offset="0.7443" stop-color="#9431ff"/><stop offset="0.7481" stop-color="#9933ff" stop-opacity="0.830"/><stop offset="0.7519" stop-color="#9933ff" stop-opacity="0.665"/><stop offset="0.7590" stop-color="#9933ff" stop-opacity="0.329"/><stop offset="0.7600" stop-color="#9933ff" stop-opacity="0.288"/><stop offset="0.7672" stop-color="#9933ff" stop-opacity="0.078"/><stop offset="0.7686" stop-color="#9933ff" stop-opacity="0.060"/><stop offset="0.7791" stop-color="#9933ff" stop-opacity="0.000"/><stop offset="0.9962" stop-color="#9933ff" stop-opacity="0.000"/><stop offset="0.9986" stop-color="#9933ff" stop-opacity="0.000"/></linearGradient><linearGradient id="t5" gradientUnits="userSpaceOnUse" x1="0" x2="0" y1="797" y2="1376.1"><stop offset="0.0000" stop-color="#9933ff" stop-opacity="0.000"/><stop offset="0.0633" stop-color="#9933ff" stop-opacity="0.000"/><stop offset="0.0638" stop-color="#9933ff" stop-opacity="0.000"/><stop offset="0.2757" stop-color="#9933ff" stop-opacity="0.000"/><stop offset="0.3043" stop-color="#9933ff" stop-opacity="0.140"/><stop offset="0.3329" stop-color="#9933ff" stop-opacity="0.455"/><stop offset="0.3568" stop-color="#9933ff" stop-opacity="0.808"/><stop offset="0.3807" stop-color="#8e2fff"/><stop offset="0.3902" stop-color="#7e2aff"/><stop offset="0.4188" stop-color="#3c14ff"/><stop offset="0.4236" stop-color="#3110ff"/><stop offset="0.4427" stop-color="#1407ff"/><stop offset="0.4618" stop-color="#000cf3"/><stop offset="0.4713" stop-color="#0022dd"/><stop offset="0.4761" stop-color="#002dd2"/><stop offset="0.4952" stop-color="#0059a6"/><stop offset="0.5238" stop-color="#008c73"/><stop offset="0.5501" stop-color="#00bb44"/><stop offset="0.5524" stop-color="#00bf40"/><stop offset="0.5620" stop-color="#00cf30"/><stop offset="0.5811" stop-color="#00ee11"/><stop offset="0.5858" stop-color="#00f609"/><stop offset="0.5954" stop-color="#06ff00"/><stop offset="0.6097" stop-color="#1eff00"/><stop offset="0.6192" stop-color="#2eff00"/><stop offset="0.6336" stop-color="#46ff00"/><stop offset="0.6479" stop-color="#62ff00"/><stop offset="0.6526" stop-color="#6cff00"/><stop offset="0.6717" stop-color="#85ff00"/><stop offset="0.6765" stop-color="#7fff00"/><stop offset="0.6837" stop-color="#76ff00"/><stop offset="0.6932" stop-color="#62ff00"/><stop offset="0.6956" stop-color="#50ff00"/><stop offset="0.7037" stop-color="#16ff00"/><stop offset="0.7075" stop-color="#00f40b"/><stop offset="0.7099" stop-color="#00db24"/><stop offset="0.7123" stop-color="#00c23d"/><stop offset="0.7180" stop-color="#00857a"/><stop offset="0.7209" stop-color="#00659a"/><stop offset="0.7242" stop-color="#0036c9"/><stop offset="0.7256" stop-color="#0021de"/><stop offset="0.7280" stop-color="#0100ff"/><stop offset="0.7314" stop-color="#1b09ff"/><stop offset="0.7352" stop-color="#3913ff"/><stop offset="0.7361" stop-color="#4116ff"/><stop offset="0.7409" stop-color="#6722ff"/><stop offset="0.7443" stop-color="#812bff"/><stop offset="0.7481" stop-color="#9933ff" stop-opacity="0.945"/><stop offset="0.7519" stop-color="#9933ff" stop-opacity="0.769"/><stop offset="0.7590" stop-color="#9933ff" stop-opacity="0.400"/><stop offset="0.7600" stop-color="#9933ff" stop-opacity="0.357"/><stop offset="0.7672" stop-color="#9933ff" stop-opacity="0.117"/><stop offset="0.7686" stop-color="#9933ff" stop-opacity="0.090"/><stop offset="0.7791" stop-color="#9933ff" stop-opacity="0.000"/><stop offset="0.9962" stop-color="#9933ff" stop-opacity="0.000"/><stop offset="0.9986" stop-color="#9933ff" stop-opacity="0.000"/></linearGradient><linearGradient id="t6" gradientUnits="userSpaceOnUse" x1="0" x2="0" y1="797" y2="1376.1"><stop offset="0.0000" stop-color="#9933ff" stop-opacity="0.000"/><stop offset="0.0633" stop-color="#9933ff" stop-opacity="0.000"/><stop offset="0.0638" stop-color="#9933ff" stop-opacity="0.000"/><stop offset="0.2757" stop-color="#9933ff" stop-opacity="0.000"/><stop offset="0.3043" stop-color="#9933ff" stop-opacity="0.117"/><stop offset="0.3329" stop-color="#9933ff" stop-opacity="0.382"/><stop offset="0.3568" stop-color="#9933ff" stop-opacity="0.698"/><stop offset="0.3807" stop-color="#9933ff" stop-opacity="0.938"/><stop offset="0.3902" stop-color="#9431ff"/><stop offset="0.4188" stop-color="#4e1aff"/><stop offset="0.4236" stop-color="#4417ff"/><stop offset="0.4427" stop-color="#230cff"/><stop offset="0.4618" stop-color="#0602ff"/><stop offset="0.4713" stop-color="#000ef1"/><stop offset="0.4761" stop-color="#001ae5"/><stop offset="0.4952" stop-color="#004bb4"/><stop offset="0.5238" stop-color="#007f80"/><stop offset="0.5501" stop-color="#00b24d"/><stop offset="0.5524" stop-color="#00b649"/><stop offset="0.5620" stop-color="#00c639"/><stop offset="0.5811" stop-color="#00e51a"/><stop offset="0.5858" stop-color="#00ed12"/><stop offset="0.5954" stop-color="#00fd02"/><stop offset="0.6097" stop-color="#17ff00"/><stop offset="0.6192" stop-color="#27ff00"/><stop offset="0.6336" stop-color="#3fff00"/><stop offset="0.6479" stop-color="#5aff00"/><stop offset="0.6526" stop-color="#64ff00"/><stop offset="0.6717" stop-color="#80ff00"/><stop offset="0.6765" stop-color="#7dff00"/><stop offset="0.6837" stop-color="#78ff00"/><stop offset="0.6932" stop-color="#69ff00"/><stop offset="0.6956" stop-color="#5aff00"/><stop offset="0.7037" stop-color="#28ff00"/><stop offset="0.7075" stop-color="#0bff00"/><stop offset="0.7099" stop-color="#00f20d"/><stop offset="0.7123" stop-color="#00da25"/><stop offset="0.7180" stop-color="#00a15e"/><stop offset="0.7209" stop-color="#00817e"/><stop offset="0.7242" stop-color="#0054ab"/><stop offset="0.7256" stop-color="#0041be"/><stop offset="0.7280" stop-color="#0020df"/><stop offset="0.7314" stop-color="#0602ff"/><stop offset="0.7352" stop-color="#240cff"/><stop offset="0.7361" stop-color="#2c0fff"/><stop offset="0.7409" stop-color="#521bff"/><stop offset="0.7443" stop-color="#6d24ff"/><stop offset="0.7481" stop-color="#8e2fff"/><stop offset="0.7519" stop-color="#9933ff" stop-opacity="0.887"/><stop offset="0.7590" stop-color="#9933ff" stop-opacity="0.481"/><stop offset="0.7600" stop-color="#9933ff" stop-opacity="0.435"/><stop offset="0.7672" stop-color="#9933ff" stop-opacity="0.161"/><stop offset="0.7686" stop-color="#9933ff" stop-opacity="0.124"/><stop offset="0.7791" stop-color="#9933ff" stop-opacity="0.000"/><stop offset="0.9962" stop-color="#9933ff" stop-opacity="0.000"/><stop offset="0.9986" stop-color="#9933ff" stop-opacity="0.000"/></linearGradient><linearGradient id="t7" gradientUnits="userSpaceOnUse" x1="0" x2="0" y1="797" y2="1376.1"><stop offset="0.0000" stop-color="#9933ff" stop-opacity="0.000"/><stop offset="0.0633" stop-color="#9933ff" stop-opacity="0.000"/><stop offset="0.0638" stop-color="#9933ff" stop-opacity="0.000"/><stop offset="0.2757" stop-color="#9933ff" stop-opacity="0.000"/><stop offset="0.3043" stop-color="#9933ff" stop-opacity="0.093"/><stop offset="0.3329" stop-color="#9933ff" stop-opacity="0.301"/><stop offset="0.3568" stop-color="#9933ff" stop-opacity="0.576"/><stop offset="0.3807" stop-color="#9933ff" stop-opacity="0.792"/><stop offset="0.3902" stop-color="#9933ff" stop-opacity="0.878"/><stop offset="0.4188" stop-color="#6321ff"/><stop offset="0.4236" stop-color="#581dff"/><stop offset="0.4427" stop-color="#3411ff"/><stop offset="0.4618" stop-color="#1407ff"/><stop offset="0.4713" stop-color="#0502ff"/><stop offset="0.4761" stop-color="#0005fa"/><stop offset="0.4952" stop-color="#003bc4"/><stop offset="0.5238" stop-color="#00728d"/><stop offset="0.5501" stop-color="#00a758"/><stop offset="0.5524" stop-color="#00ab54"/><stop offset="0.5620" stop-color="#00bb44"/><stop offset="0.5811" stop-color="#00dc23"/><stop offset="0.5858" stop-color="#00e41b"/><stop offset="0.5954" stop-color="#00f40b"/><stop offset="0.6097" stop-color="#0eff00"/><stop offset="0.6192" stop-color="#1fff00"/><stop offset="0.6336" stop-color="#37ff00"/><stop offset="0.6479" stop-color="#52ff00"/><stop offset="0.6526" stop-color="#5cff00"/><stop offset="0.6717" stop-color="#7bff00"/><stop offset="0.6765" stop-color="#7aff00"/><stop offset="0.6837" stop-color="#79ff00"/><stop offset="0.6932" stop-color="#72ff00"/><stop offset="0.6956" stop-color="#66ff00"/><stop offset="0.7037" stop-color="#3bff00"/><stop offset="0.7075" stop-color="#24ff00"/><stop offset="0.7099" stop-color="#0dff00"/><stop offset="0.7123" stop-color="#00f609"/><stop offset="0.7180" stop-color="#00c03f"/><stop offset="0.7209" stop-color="#00a15e"/><stop offset="0.7242" stop-color="#007689"/><stop offset="0.7256" stop-color="#00649b"/><stop offset="0.7280" stop-color="#0044bb"/><stop offset="0.7314" stop-color="#001be4"/><stop offset="0.7352" stop-color="#0c04ff"/><stop offset="0.7361" stop-color="#1407ff"/><stop offset="0.7409" stop-color="#3a13ff"/><stop offset="0.7443" stop-color="#551cff"/><stop offset="0.7481" stop-color="#7828ff"/><stop offset="0.7519" stop-color="#9632ff"/><stop offset="0.7590" stop-color="#9933ff" stop-opacity="0.570"/><stop offset="0.7600" stop-color="#9933ff" stop-opacity="0.521"/><stop offset="0.7672" stop-color="#9933ff" stop-opacity="0.210"/><stop offset="0.7686" stop-color="#9933ff" stop-opacity="0.161"/><stop offset="0.7791" stop-color="#9933ff" stop-opacity="0.000"/><stop offset="0.9962" stop-color="#9933ff" stop-opacity="0.000"/><stop offset="0.9986" stop-color="#9933ff" stop-opacity="0.000"/></linearGradient><linearGradient id="t8" gradientUnits="userSpaceOnUse" x1="0" x2="0" y1="797" y2="1376.1"><stop offset="0.0000" stop-color="#9933ff" stop-opacity="0.000"/><stop offset="0.0633" stop-color="#9933ff" stop-opacity="0.000"/><stop offset="0.0638" stop-color="#9933ff" stop-opacity="0.000"/><stop offset="0.2757" stop-color="#9933ff" stop-opacity="0.000"/><stop offset="0.3043" stop-color="#9933ff" stop-opacity="0.070"/><stop offset="0.3329" stop-color="#9933ff" stop-opacity="0.227"/><stop offset="0.3568" stop-color="#9933ff" stop-opacity="0.466"/><stop offset="0.3807" stop-color="#9933ff" stop-opacity="0.660"/><stop offset="0.3902" stop-color="#9933ff" stop-opacity="0.737"/><stop offset="0.4188" stop-color="#7627ff"/><stop offset="0.4236" stop-color="#6a23ff"/><stop offset="0.4427" stop-color="#4316ff"/><stop offset="0.4618" stop-color="#210bff"/><stop offset="0.4713" stop-color="#1106ff"/><stop offset="0.4761" stop-color="#0803ff"/><stop offset="0.4952" stop-color="#002dd2"/><stop offset="0.5238" stop-color="#006699"/><stop offset="0.5501" stop-color="#009d62"/><stop offset="0.5524" stop-color="#00a25d"/><stop offset="0.5620" stop-color="#00b24d"/><stop offset="0.5811" stop-color="#00d32c"/><stop offset="0.5858" stop-color="#00dc23"/><stop offset="0.5954" stop-color="#00ec13"/><stop offset="0.6097" stop-color="#06ff00"/><stop offset="0.6192" stop-color="#17ff00"/><stop offset="0.6336" stop-color="#30ff00"/><stop offset="0.6479" stop-color="#4aff00"/><stop offset="0.6526" stop-color="#54ff00"/><stop offset="0.6717" stop-color="#76ff00"/><stop offset="0.6765" stop-color="#78ff00"/><stop offset="0.6837" stop-color="#7bff00"/><stop offset="0.6932" stop-color="#7aff00"/><stop offset="0.6956" stop-color="#70ff00"/><stop offset="0.7037" stop-color="#4dff00"/><stop offset="0.7075" stop-color="#3aff00"/><stop offset="0.7099" stop-color="#25ff00"/><stop offset="0.7123" stop-color="#10ff00"/><stop offset="0.7180" stop-color="#00dc23"/><stop offset="0.7209" stop-color="#00bd42"/><stop offset="0.7242" stop-color="#00956a"/><stop offset="0.7256" stop-color="#00837c"/><stop offset="0.7280" stop-color="#00659a"/><stop offset="0.7314" stop-color="#003ec1"/><stop offset="0.7352" stop-color="#0010ef"/><stop offset="0.7361" stop-color="#0003fc"/><stop offset="0.7409" stop-color="#250cff"/><stop offset="0.7443" stop-color="#4116ff"/><stop offset="0.7481" stop-color="#6421ff"/><stop offset="0.7519" stop-color="#842cff"/><stop offset="0.7590" stop-color="#9933ff" stop-opacity="0.650"/><stop offset="0.7600" stop-color="#9933ff" stop-opacity="0.598"/><stop offset="0.7672" stop-color="#9933ff" stop-opacity="0.253"/><stop offset="0.7686" stop-color="#9933ff" stop-opacity="0.195"/><stop offset="0.7791" stop-color="#9933ff" stop-opacity="0.000"/><stop offset="0.9962" stop-color="#9933ff" stop-opacity="0.000"/><stop offset="0.9986" stop-color="#9933ff" stop-opacity="0.000"/></linearGradient><linearGradient id="t9" gradientUnits="userSpaceOnUse" x1="0" x2="0" y1="797" y2="1376.1"><stop offset="0.0000" stop-color="#9933ff" stop-opacity="0.000"/><stop offset="0.0633" stop-color="#9933ff" stop-opacity="0.000"/><stop offset="0.0638" stop-color="#9933ff" stop-opacity="0.000"/><stop offset="0.2757" stop-color="#9933ff" stop-opacity="0.000"/><stop offset="0.3043" stop-color="#9933ff" stop-opacity="0.050"/><stop offset="0.3329" stop-color="#9933ff" stop-opacity="0.163"/><stop offset="0.3568" stop-color="#9933ff" stop-opacity="0.369"/><stop offset="0.3807" stop-color="#9933ff" stop-opacity="0.543"/><stop offset="0.3902" stop-color="#9933ff" stop-opacity="0.612"/><stop offset="0.4188" stop-color="#862dff"/><stop offset="0.4236" stop-color="#7b29ff"/><stop offset="0.4427" stop-color="#511bff"/><stop offset="0.4618" stop-color="#2d0fff"/><stop offset="0.4713" stop-color="#1b09ff"/><stop offset="0.4761" stop-color="#1206ff"/><stop offset="0.4952" stop-color="#0020df"/><stop offset="0.5238" stop-color="#005ba4"/><stop offset="0.5501" stop-color="#00956a"/><stop offset="0.5524" stop-color="#009966"/><stop offset="0.5620" stop-color="#00aa55"/><stop offset="0.5811" stop-color="#00cc33"/><stop offset="0.5858" stop-color="#00d42b"/><stop offset="0.5954" stop-color="#00e51a"/><stop offset="0.6097" stop-color="#00ff00"/><stop offset="0.6192" stop-color="#11ff00"/><stop offset="0.6336" stop-color="#29ff00"/><stop offset="0.6479" stop-color="#44ff00"/><stop offset="0.6526" stop-color="#4eff00"/><stop offset="0.6717" stop-color="#71ff00"/><stop offset="0.6765" stop-color="#75ff00"/><stop offset="0.6837" stop-color="#7cff00"/><stop offset="0.6932" stop-color="#81ff00"/><stop offset="0.6956" stop-color="#79ff00"/><stop offset="0.7037" stop-color="#5dff00"/><stop offset="0.7075" stop-color="#4eff00"/><stop offset="0.7099" stop-color="#3aff00"/><stop offset="0.7123" stop-color="#26ff00"/><stop offset="0.7180" stop-color="#00f40b"/><stop offset="0.7209" stop-color="#00d629"/><stop offset="0.7242" stop-color="#00b04f"/><stop offset="0.7256" stop-color="#009f60"/><stop offset="0.7280" stop-color="#00837c"/><stop offset="0.7314" stop-color="#005ca3"/><stop offset="0.7352" stop-color="#0030cf"/><stop offset="0.7361" stop-color="#0023dc"/><stop offset="0.7409" stop-color="#1306ff"/><stop offset="0.7443" stop-color="#2e0fff"/><stop offset="0.7481" stop-color="#521bff"/><stop offset="0.7519" stop-color="#7427ff"/><stop offset="0.7590" stop-color="#9933ff" stop-opacity="0.722"/><stop offset="0.7600" stop-color="#9933ff" stop-opacity="0.667"/><stop offset="0.7672" stop-color="#9933ff" stop-opacity="0.292"/><stop offset="0.7686" stop-color="#9933ff" stop-opacity="0.225"/><stop offset="0.7791" stop-color="#9933ff" stop-opacity="0.000"/><stop offset="0.9962" stop-color="#9933ff" stop-opacity="0.000"/><stop offset="0.9986" stop-color="#9933ff" stop-opacity="0.000"/></linearGradient><linearGradient id="t10" gradientUnits="userSpaceOnUse" x1="0" x2="0" y1="797" y2="1376.1"><stop offset="0.0000" stop-color="#9933ff" stop-opacity="0.000"/><stop offset="0.0633" stop-color="#9933ff" stop-opacity="0.000"/><stop offset="0.0638" stop-color="#9933ff" stop-opacity="0.000"/><stop offset="0.2757" stop-color="#9933ff" stop-opacity="0.000"/><stop offset="0.3043" stop-color="#9933ff" stop-opacity="0.034"/><stop offset="0.3329" stop-color="#9933ff" stop-opacity="0.110"/><stop offset="0.3568" stop-color="#9933ff" stop-opacity="0.290"/><stop offset="0.3807" stop-color="#9933ff" stop-opacity="0.448"/><stop offset="0.3902" stop-color="#9933ff" stop-opacity="0.511"/><stop offset="0.4188" stop-color="#9431ff"/><stop offset="0.4236" stop-color="#882dff"/><stop offset="0.4427" stop-color="#5c1fff"/><stop offset="0.4618" stop-color="#3612ff"/><stop offset="0.4713" stop-color="#240cff"/><stop offset="0.4761" stop-color="#1a09ff"/><stop offset="0.4952" stop-color="#0016e9"/><stop offset="0.5238" stop-color="#0052ad"/><stop offset="0.5501" stop-color="#008e71"/><stop offset="0.5524" stop-color="#00926d"/><stop offset="0.5620" stop-color="#00a35c"/><stop offset="0.5811" stop-color="#00c639"/><stop offset="0.5858" stop-color="#00ce31"/><stop offset="0.5954" stop-color="#00df20"/><stop offset="0.6097" stop-color="#00f906"/><stop offset="0.6192" stop-color="#0bff00"/><stop offset="0.6336" stop-color="#24ff00"/><stop offset="0.6479" stop-color="#3eff00"/><stop offset="0.6526" stop-color="#48ff00"/><stop offset="0.6717" stop-color="#6eff00"/><stop offset="0.6765" stop-color="#74ff00"/><stop offset="0.6837" stop-color="#7dff00"/><stop offset="0.6932" stop-color="#87ff00"/><stop offset="0.6956" stop-color="#80ff00"/><stop offset="0.7037" stop-color="#6aff00"/><stop offset="0.7075" stop-color="#5eff00"/><stop offset="0.7099" stop-color="#4bff00"/><stop offset="0.7123" stop-color="#38ff00"/><stop offset="0.7180" stop-color="#09ff00"/><stop offset="0.7209" stop-color="#00eb14"/><stop offset="0.7242" stop-color="#00c639"/><stop offset="0.7256" stop-color="#00b649"/><stop offset="0.7280" stop-color="#009b64"/><stop offset="0.7314" stop-color="#00758a"/><stop offset="0.7352" stop-color="#004ab5"/><stop offset="0.7361" stop-color="#003cc3"/><stop offset="0.7409" stop-color="#0301ff"/><stop offset="0.7443" stop-color="#1f0aff"/><stop offset="0.7481" stop-color="#4417ff"/><stop offset="0.7519" stop-color="#6722ff"/><stop offset="0.7590" stop-color="#9933ff" stop-opacity="0.780"/><stop offset="0.7600" stop-color="#9933ff" stop-opacity="0.724"/><stop offset="0.7672" stop-color="#9933ff" stop-opacity="0.324"/><stop offset="0.7686" stop-color="#9933ff" stop-opacity="0.249"/><stop offset="0.7791" stop-color="#9933ff" stop-opacity="0.000"/><stop offset="0.9962" stop-color="#9933ff" stop-opacity="0.000"/><stop offset="0.9986" stop-color="#9933ff" stop-opacity="0.000"/></linearGradient><linearGradient id="t11" gradientUnits="userSpaceOnUse" x1="0" x2="0" y1="797" y2="1376.1"><stop offset="0.0000" stop-color="#9933ff" stop-opacity="0.000"/><stop offset="0.0633" stop-color="#9933ff" stop-opacity="0.000"/><stop offset="0.0638" stop-color="#9933ff" stop-opacity="0.000"/><stop offset="0.2757" stop-color="#9933ff" stop-opacity="0.000"/><stop offset="0.3043" stop-color="#9933ff" stop-opacity="0.021"/><stop offset="0.3329" stop-color="#9933ff" stop-opacity="0.069"/><stop offset="0.3568" stop-color="#9933ff" stop-opacity="0.229"/><stop offset="0.3807" stop-color="#9933ff" stop-opacity="0.374"/><stop offset="0.3902" stop-color="#9933ff" stop-opacity="0.433"/><stop offset="0.4188" stop-color="#9933ff" stop-opacity="0.965"/><stop offset="0.4236" stop-color="#9231ff"/><stop offset="0.4427" stop-color="#6421ff"/><stop offset="0.4618" stop-color="#3e15ff"/><stop offset="0.4713" stop-color="#2a0eff"/><stop offset="0.4761" stop-color="#200bff"/><stop offset="0.4952" stop-color="#000ef1"/><stop offset="0.5238" stop-color="#004bb4"/><stop offset="0.5501" stop-color="#008976"/><stop offset="0.5524" stop-color="#008d72"/><stop offset="0.5620" stop-color="#009e61"/><stop offset="0.5811" stop-color="#00c13e"/><stop offset="0.5858" stop-color="#00ca35"/><stop offset="0.5954" stop-color="#00db24"/><stop offset="0.6097" stop-color="#00f50a"/><stop offset="0.6192" stop-color="#07ff00"/><stop offset="0.6336" stop-color="#20ff00"/><stop offset="0.6479" stop-color="#3aff00"/><stop offset="0.6526" stop-color="#44ff00"/><stop offset="0.6717" stop-color="#6bff00"/><stop offset="0.6765" stop-color="#72ff00"/><stop offset="0.6837" stop-color="#7eff00"/><stop offset="0.6932" stop-color="#8bff00"/><stop offset="0.6956" stop-color="#86ff00"/><stop offset="0.7037" stop-color="#74ff00"/><stop offset="0.7075" stop-color="#6aff00"/><stop offset="0.7099" stop-color="#58ff00"/><stop offset="0.7123" stop-color="#45ff00"/><stop offset="0.7180" stop-color="#19ff00"/><stop offset="0.7209" stop-color="#00fb04"/><stop offset="0.7242" stop-color="#00d728"/><stop offset="0.7256" stop-color="#00c837"/><stop offset="0.7280" stop-color="#00ad52"/><stop offset="0.7314" stop-color="#008877"/><stop offset="0.7352" stop-color="#005ea1"/><stop offset="0.7361" stop-color="#0050af"/><stop offset="0.7409" stop-color="#000ef1"/><stop offset="0.7443" stop-color="#1407ff"/><stop offset="0.7481" stop-color="#3913ff"/><stop offset="0.7519" stop-color="#5d1fff"/><stop offset="0.7590" stop-color="#9933ff" stop-opacity="0.824"/><stop offset="0.7600" stop-color="#9933ff" stop-opacity="0.767"/><stop offset="0.7672" stop-color="#9933ff" stop-opacity="0.349"/><stop offset="0.7686" stop-color="#9933ff" stop-opacity="0.268"/><stop offset="0.7791" stop-color="#9933ff" stop-opacity="0.000"/><stop offset="0.9962" stop-color="#9933ff" stop-opacity="0.000"/><stop offset="0.9986" stop-color="#9933ff" stop-opacity="0.000"/></linearGradient><linearGradient id="t12" gradientUnits="userSpaceOnUse" x1="0" x2="0" y1="797" y2="1376.1"><stop offset="0.0000" stop-color="#9933ff" stop-opacity="0.000"/><stop offset="0.0633" stop-color="#9933ff" stop-opacity="0.000"/><stop offset="0.0638" stop-color="#9933ff" stop-opacity="0.000"/><stop offset="0.2757" stop-color="#9933ff" stop-opacity="0.000"/><stop offset="0.3043" stop-color="#9933ff" stop-opacity="0.010"/><stop offset="0.3329" stop-color="#9933ff" stop-opacity="0.031"/><stop offset="0.3568" stop-color="#9933ff" stop-opacity="0.172"/><stop offset="0.3807" stop-color="#9933ff" stop-opacity="0.306"/><stop offset="0.3902" stop-color="#9933ff" stop-opacity="0.360"/><stop offset="0.4188" stop-color="#9933ff" stop-opacity="0.902"/><stop offset="0.4236" stop-color="#9933ff" stop-opacity="0.981"/><stop offset="0.4427" stop-color="#6c24ff"/><stop offset="0.4618" stop-color="#4417ff"/><stop offset="0.4713" stop-color="#3010ff"/><stop offset="0.4761" stop-color="#260dff"/><stop offset="0.4952" stop-color="#0006f9"/><stop offset="0.5238" stop-color="#0045ba"/><stop offset="0.5501" stop-color="#00847b"/><stop offset="0.5524" stop-color="#008877"/><stop offset="0.5620" stop-color="#009966"/><stop offset="0.5811" stop-color="#00bd42"/><stop offset="0.5858" stop-color="#00c53a"/><stop offset="0.5954" stop-color="#00d728"/><stop offset="0.6097" stop-color="#00f10e"/><stop offset="0.6192" stop-color="#03ff00"/><stop offset="0.6336" stop-color="#1dff00"/><stop offset="0.6479" stop-color="#36ff00"/><stop offset="0.6526" stop-color="#40ff00"/><stop offset="0.6717" stop-color="#68ff00"/><stop offset="0.6765" stop-color="#71ff00"/><stop offset="0.6837" stop-color="#7eff00"/><stop offset="0.6932" stop-color="#8fff00"/><stop offset="0.6956" stop-color="#8bff00"/><stop offset="0.7037" stop-color="#7dff00"/><stop offset="0.7075" stop-color="#76ff00"/><stop offset="0.7099" stop-color="#64ff00"/><stop offset="0.7123" stop-color="#52ff00"/><stop offset="0.7180" stop-color="#27ff00"/><stop offset="0.7209" stop-color="#0aff00"/><stop offset="0.7242" stop-color="#00e718"/><stop offset="0.7256" stop-color="#00d827"/><stop offset="0.7280" stop-color="#00be41"/><stop offset="0.7314" stop-color="#009a65"/><stop offset="0.7352" stop-color="#00708f"/><stop offset="0.7361" stop-color="#00639c"/><stop offset="0.7409" stop-color="#0020df"/><stop offset="0.7443" stop-color="#0903ff"/><stop offset="0.7481" stop-color="#2f10ff"/><stop offset="0.7519" stop-color="#541cff"/><stop offset="0.7590" stop-color="#9933ff" stop-opacity="0.866"/><stop offset="0.7600" stop-color="#9933ff" stop-opacity="0.807"/><stop offset="0.7672" stop-color="#9933ff" stop-opacity="0.371"/><stop offset="0.7686" stop-color="#9933ff" stop-opacity="0.286"/><stop offset="0.7791" stop-color="#9933ff" stop-opacity="0.000"/><stop offset="0.9962" stop-color="#9933ff" stop-opacity="0.000"/><stop offset="0.9986" stop-color="#9933ff" stop-opacity="0.000"/></linearGradient><linearGradient id="t13" gradientUnits="userSpaceOnUse" x1="0" x2="0" y1="797" y2="1376.1"><stop offset="0.0000" stop-color="#9933ff" stop-opacity="0.000"/><stop offset="0.0633" stop-color="#9933ff" stop-opacity="0.000"/><stop offset="0.0638" stop-color="#9933ff" stop-opacity="0.000"/><stop offset="0.2757" stop-color="#9933ff" stop-opacity="0.000"/><stop offset="0.3043" stop-color="#9933ff" stop-opacity="0.006"/><stop offset="0.3329" stop-color="#9933ff" stop-opacity="0.019"/><stop offset="0.3568" stop-color="#9933ff" stop-opacity="0.153"/><stop offset="0.3807" stop-color="#9933ff" stop-opacity="0.284"/><stop offset="0.3902" stop-color="#9933ff" stop-opacity="0.336"/><stop offset="0.4188" stop-color="#9933ff" stop-opacity="0.881"/><stop offset="0.4236" stop-color="#9933ff" stop-opacity="0.961"/><stop offset="0.4427" stop-color="#6f25ff"/><stop offset="0.4618" stop-color="#4718ff"/><stop offset="0.4713" stop-color="#3311ff"/><stop offset="0.4761" stop-color="#280dff"/><stop offset="0.4952" stop-color="#0004fb"/><stop offset="0.5238" stop-color="#0043bc"/><stop offset="0.5501" stop-color="#00827d"/><stop offset="0.5524" stop-color="#008679"/><stop offset="0.5620" stop-color="#009867"/><stop offset="0.5811" stop-color="#00bb44"/><stop offset="0.5858" stop-color="#00c43b"/><stop offset="0.5954" stop-color="#00d52a"/><stop offset="0.6097" stop-color="#00ef10"/><stop offset="0.6192" stop-color="#02ff00"/><stop offset="0.6336" stop-color="#1bff00"/><stop offset="0.6479" stop-color="#35ff00"/><stop offset="0.6526" stop-color="#3fff00"/><stop offset="0.6717" stop-color="#67ff00"/><stop offset="0.6765" stop-color="#71ff00"/><stop offset="0.6837" stop-color="#7eff00"/><stop offset="0.6932" stop-color="#91ff00"/><stop offset="0.6956" stop-color="#8dff00"/><stop offset="0.7037" stop-color="#80ff00"/><stop offset="0.7075" stop-color="#7aff00"/><stop offset="0.7099" stop-color="#68ff00"/><stop offset="0.7123" stop-color="#56ff00"/><stop offset="0.7180" stop-color="#2cff00"/><stop offset="0.7209" stop-color="#0fff00"/><stop offset="0.7242" stop-color="#00ec13"/><stop offset="0.7256" stop-color="#00dd22"/><stop offset="0.7280" stop-color="#00c43b"/><stop offset="0.7314" stop-color="#00a05f"/><stop offset="0.7352" stop-color="#007689"/><stop offset="0.7361" stop-color="#006996"/><stop offset="0.7409" stop-color="#0026d9"/><stop offset="0.7443" stop-color="#0502ff"/><stop offset="0.7481" stop-color="#2b0eff"/><stop offset="0.7519" stop-color="#511bff"/><stop offset="0.7590" stop-color="#9933ff" stop-opacity="0.879"/><stop offset="0.7600" stop-color="#9933ff" stop-opacity="0.820"/><stop offset="0.7672" stop-color="#9933ff" stop-opacity="0.379"/><stop offset="0.7686" stop-color="#9933ff" stop-opacity="0.291"/><stop offset="0.7791" stop-color="#9933ff" stop-opacity="0.000"/><stop offset="0.9962" stop-color="#9933ff" stop-opacity="0.000"/><stop offset="0.9986" stop-color="#9933ff" stop-opacity="0.000"/></linearGradient><linearGradient id="t14" gradientUnits="userSpaceOnUse" x1="0" x2="0" y1="797" y2="1376.1"><stop offset="0.0000" stop-color="#9933ff" stop-opacity="0.000"/><stop offset="0.0633" stop-color="#9933ff" stop-opacity="0.000"/><stop offset="0.0638" stop-color="#9933ff" stop-opacity="0.000"/><stop offset="0.2757" stop-color="#9933ff" stop-opacity="0.000"/><stop offset="0.3043" stop-color="#9933ff" stop-opacity="0.002"/><stop offset="0.3329" stop-color="#9933ff" stop-opacity="0.006"/><stop offset="0.3568" stop-color="#9933ff" stop-opacity="0.134"/><stop offset="0.3807" stop-color="#9933ff" stop-opacity="0.261"/><stop offset="0.3902" stop-color="#9933ff" stop-opacity="0.312"/><stop offset="0.4188" stop-color="#9933ff" stop-opacity="0.860"/><stop offset="0.4236" stop-color="#9933ff" stop-opacity="0.940"/><stop offset="0.4427" stop-color="#7126ff"/><stop offset="0.4618" stop-color="#4918ff"/><stop offset="0.4713" stop-color="#3512ff"/><stop offset="0.4761" stop-color="#2a0eff"/><stop offset="0.4952" stop-color="#0001fe"/><stop offset="0.5238" stop-color="#0041be"/><stop offset="0.5501" stop-color="#00807f"/><stop offset="0.5524" stop-color="#00857a"/><stop offset="0.5620" stop-color="#009669"/><stop offset="0.5811" stop-color="#00ba45"/><stop offset="0.5858" stop-color="#00c23d"/><stop offset="0.5954" stop-color="#00d42b"/><stop offset="0.6097" stop-color="#00ee11"/><stop offset="0.6192" stop-color="#01ff00"/><stop offset="0.6336" stop-color="#1aff00"/><stop offset="0.6479" stop-color="#34ff00"/><stop offset="0.6526" stop-color="#3eff00"/><stop offset="0.6717" stop-color="#66ff00"/><stop offset="0.6765" stop-color="#70ff00"/><stop offset="0.6837" stop-color="#7fff00"/><stop offset="0.6932" stop-color="#92ff00"/><stop offset="0.6956" stop-color="#8fff00"/><stop offset="0.7037" stop-color="#83ff00"/><stop offset="0.7075" stop-color="#7eff00"/><stop offset="0.7099" stop-color="#6cff00"/><stop offset="0.7123" stop-color="#5bff00"/><stop offset="0.7180" stop-color="#31ff00"/><stop offset="0.7209" stop-color="#14ff00"/><stop offset="0.7242" stop-color="#00f10e"/><stop offset="0.7256" stop-color="#00e31c"/><stop offset="0.7280" stop-color="#00c936"/><stop offset="0.7314" stop-color="#00a55a"/><stop offset="0.7352" stop-color="#007c83"/><stop offset="0.7361" stop-color="#006f90"/><stop offset="0.7409" stop-color="#002cd3"/><stop offset="0.7443" stop-color="#0201ff"/><stop offset="0.7481" stop-color="#280dff"/><stop offset="0.7519" stop-color="#4e1aff"/><stop offset="0.7590" stop-color="#9933ff" stop-opacity="0.893"/><stop offset="0.7600" stop-color="#9933ff" stop-opacity="0.833"/><stop offset="0.7672" stop-color="#9933ff" stop-opacity="0.386"/><stop offset="0.7686" stop-color="#9933ff" stop-opacity="0.297"/><stop offset="0.7791" stop-color="#9933ff" stop-opacity="0.000"/><stop offset="0.9962" stop-color="#9933ff" stop-opacity="0.000"/><stop offset="0.9986" stop-color="#9933ff" stop-opacity="0.000"/></linearGradient><linearGradient id="t15" gradientUnits="userSpaceOnUse" x1="0" x2="0" y1="797" y2="1376.1"><stop offset="0.0000" stop-color="#9933ff" stop-opacity="0.000"/><stop offset="0.0633" stop-color="#9933ff" stop-opacity="0.000"/><stop offset="0.0638" stop-color="#9933ff" stop-opacity="0.000"/><stop offset="0.3329" stop-color="#9933ff" stop-opacity="0.000"/><stop offset="0.3902" stop-color="#9933ff" stop-opacity="0.300"/><stop offset="0.4188" stop-color="#9933ff" stop-opacity="0.850"/><stop offset="0.4427" stop-color="#7326ff"/><stop offset="0.4713" stop-color="#3612ff"/><stop offset="0.4952" stop-color="#0000ff"/><stop offset="0.5238" stop-color="#0040bf"/><stop offset="0.5501" stop-color="#008080"/><stop offset="0.5811" stop-color="#00b946"/><stop offset="0.6192" stop-color="#00ff00"/><stop offset="0.6479" stop-color="#33ff00"/><stop offset="0.6717" stop-color="#66ff00"/><stop offset="0.6932" stop-color="#93ff00"/><stop offset="0.7075" stop-color="#7fff00"/><stop offset="0.7180" stop-color="#33ff00"/><stop offset="0.7256" stop-color="#00e51a"/><stop offset="0.7352" stop-color="#008080"/><stop offset="0.7443" stop-color="#0000ff"/><stop offset="0.7519" stop-color="#4d1aff"/><stop offset="0.7590" stop-color="#9933ff" stop-opacity="0.900"/><stop offset="0.7686" stop-color="#9933ff" stop-opacity="0.300"/><stop offset="0.7791" stop-color="#9933ff" stop-opacity="0.000"/><stop offset="0.9962" stop-color="#9933ff" stop-opacity="0.000"/><stop offset="0.9986" stop-color="#9933ff" stop-opacity="0.000"/></linearGradient><linearGradient id="t16" gradientUnits="userSpaceOnUse" x1="0" x2="0" y1="797" y2="1376.1"><stop offset="0.0000" stop-color="#9933ff" stop-opacity="0.000"/><stop offset="0.0633" stop-color="#9933ff" stop-opacity="0.000"/><stop offset="0.0638" stop-color="#9933ff" stop-opacity="0.000"/><stop offset="0.2757" stop-color="#9933ff" stop-opacity="0.000"/><stop offset="0.3043" stop-color="#9933ff" stop-opacity="0.000"/><stop offset="0.3329" stop-color="#9933ff" stop-opacity="0.000"/><stop offset="0.3568" stop-color="#9933ff" stop-opacity="0.123"/><stop offset="0.3807" stop-color="#9933ff" stop-opacity="0.247"/><stop offset="0.3902" stop-color="#9933ff" stop-opacity="0.297"/><stop offset="0.4188" stop-color="#9933ff" stop-opacity="0.842"/><stop offset="0.4236" stop-color="#9933ff" stop-opacity="0.922"/><stop offset="0.4427" stop-color="#7427ff"/><stop offset="0.4618" stop-color="#4b19ff"/><stop offset="0.4713" stop-color="#3712ff"/><stop offset="0.4761" stop-color="#2c0fff"/><stop offset="0.4952" stop-color="#0100ff"/><stop offset="0.5238" stop-color="#003dc2"/><stop offset="0.5501" stop-color="#007d82"/><stop offset="0.5524" stop-color="#00827d"/><stop offset="0.5620" stop-color="#00946b"/><stop offset="0.5811" stop-color="#00b748"/><stop offset="0.5858" stop-color="#00c03f"/><stop offset="0.5954" stop-color="#00d22d"/><stop offset="0.6097" stop-color="#00ec13"/><stop offset="0.6192" stop-color="#00fe01"/><stop offset="0.6336" stop-color="#19ff00"/><stop offset="0.6479" stop-color="#32ff00"/><stop offset="0.6526" stop-color="#3dff00"/><stop offset="0.6717" stop-color="#65ff00"/><stop offset="0.6765" stop-color="#6fff00"/><stop offset="0.6837" stop-color="#7eff00"/><stop offset="0.6932" stop-color="#91ff00"/><stop offset="0.6956" stop-color="#8eff00"/><stop offset="0.7037" stop-color="#82ff00"/><stop offset="0.7075" stop-color="#7dff00"/><stop offset="0.7099" stop-color="#6bff00"/><stop offset="0.7123" stop-color="#5aff00"/><stop offset="0.7180" stop-color="#2fff00"/><stop offset="0.7209" stop-color="#12ff00"/><stop offset="0.7242" stop-color="#00ee11"/><stop offset="0.7256" stop-color="#00e01f"/><stop offset="0.7280" stop-color="#00c639"/><stop offset="0.7314" stop-color="#00a15e"/><stop offset="0.7352" stop-color="#007887"/><stop offset="0.7361" stop-color="#006b94"/><stop offset="0.7409" stop-color="#0028d7"/><stop offset="0.7443" stop-color="#0401ff"/><stop offset="0.7481" stop-color="#2a0eff"/><stop offset="0.7519" stop-color="#4f1aff"/><stop offset="0.7590" stop-color="#9933ff" stop-opacity="0.889"/><stop offset="0.7600" stop-color="#9933ff" stop-opacity="0.829"/><stop offset="0.7672" stop-color="#9933ff" stop-opacity="0.385"/><stop offset="0.7686" stop-color="#9933ff" stop-opacity="0.296"/><stop offset="0.7791" stop-color="#9933ff" stop-opacity="0.000"/><stop offset="0.9962" stop-color="#9933ff" stop-opacity="0.000"/><stop offset="0.9986" stop-color="#9933ff" stop-opacity="0.000"/></linearGradient><linearGradient id="t17" gradientUnits="userSpaceOnUse" x1="0" x2="0" y1="797" y2="1376.1"><stop offset="0.0000" stop-color="#9933ff" stop-opacity="0.000"/><stop offset="0.0633" stop-color="#9933ff" stop-opacity="0.000"/><stop offset="0.0638" stop-color="#9933ff" stop-opacity="0.000"/><stop offset="0.2757" stop-color="#9933ff" stop-opacity="0.000"/><stop offset="0.3043" stop-color="#9933ff" stop-opacity="0.000"/><stop offset="0.3329" stop-color="#9933ff" stop-opacity="0.000"/><stop offset="0.3568" stop-color="#9933ff" stop-opacity="0.120"/><stop offset="0.3807" stop-color="#9933ff" stop-opacity="0.241"/><stop offset="0.3902" stop-color="#9933ff" stop-opacity="0.291"/><stop offset="0.4188" stop-color="#9933ff" stop-opacity="0.826"/><stop offset="0.4236" stop-color="#9933ff" stop-opacity="0.906"/><stop offset="0.4427" stop-color="#7627ff"/><stop offset="0.4618" stop-color="#4d1aff"/><stop offset="0.4713" stop-color="#3913ff"/><stop offset="0.4761" stop-color="#2e0fff"/><stop offset="0.4952" stop-color="#0401ff"/><stop offset="0.5238" stop-color="#0039c6"/><stop offset="0.5501" stop-color="#007986"/><stop offset="0.5524" stop-color="#007e81"/><stop offset="0.5620" stop-color="#00906f"/><stop offset="0.5811" stop-color="#00b44b"/><stop offset="0.5858" stop-color="#00bd42"/><stop offset="0.5954" stop-color="#00cf30"/><stop offset="0.6097" stop-color="#00ea15"/><stop offset="0.6192" stop-color="#00fd02"/><stop offset="0.6336" stop-color="#17ff00"/><stop offset="0.6479" stop-color="#31ff00"/><stop offset="0.6526" stop-color="#3bff00"/><stop offset="0.6717" stop-color="#64ff00"/><stop offset="0.6765" stop-color="#6dff00"/><stop offset="0.6837" stop-color="#7bff00"/><stop offset="0.6932" stop-color="#8dff00"/><stop offset="0.6956" stop-color="#8aff00"/><stop offset="0.7037" stop-color="#7dff00"/><stop offset="0.7075" stop-color="#77ff00"/><stop offset="0.7099" stop-color="#65ff00"/><stop offset="0.7123" stop-color="#53ff00"/><stop offset="0.7180" stop-color="#28ff00"/><stop offset="0.7209" stop-color="#09ff00"/><stop offset="0.7242" stop-color="#00e41b"/><stop offset="0.7256" stop-color="#00d42b"/><stop offset="0.7280" stop-color="#00b946"/><stop offset="0.7314" stop-color="#00946b"/><stop offset="0.7352" stop-color="#006a95"/><stop offset="0.7361" stop-color="#005da2"/><stop offset="0.7409" stop-color="#001ae5"/><stop offset="0.7443" stop-color="#0b04ff"/><stop offset="0.7481" stop-color="#3010ff"/><stop offset="0.7519" stop-color="#551cff"/><stop offset="0.7590" stop-color="#9933ff" stop-opacity="0.866"/><stop offset="0.7600" stop-color="#9933ff" stop-opacity="0.808"/><stop offset="0.7672" stop-color="#9933ff" stop-opacity="0.375"/><stop offset="0.7686" stop-color="#9933ff" stop-opacity="0.289"/><stop offset="0.7791" stop-color="#9933ff" stop-opacity="0.000"/><stop offset="0.9962" stop-color="#9933ff" stop-opacity="0.000"/><stop offset="0.9986" stop-color="#9933ff" stop-opacity="0.000"/></linearGradient><linearGradient id="t18" gradientUnits="userSpaceOnUse" x1="0" x2="0" y1="797" y2="1376.1"><stop offset="0.0000" stop-color="#9933ff" stop-opacity="0.000"/><stop offset="0.0633" stop-color="#9933ff" stop-opacity="0.000"/><stop offset="0.0638" stop-color="#9933ff" stop-opacity="0.000"/><stop offset="0.2757" stop-color="#9933ff" stop-opacity="0.000"/><stop offset="0.3043" stop-color="#9933ff" stop-opacity="0.000"/><stop offset="0.3329" stop-color="#9933ff" stop-opacity="0.000"/><stop offset="0.3568" stop-color="#9933ff" stop-opacity="0.117"/><stop offset="0.3807" stop-color="#9933ff" stop-opacity="0.234"/><stop offset="0.3902" stop-color="#9933ff" stop-opacity="0.284"/><stop offset="0.4188" stop-color="#9933ff" stop-opacity="0.809"/><stop offset="0.4236" stop-color="#9933ff" stop-opacity="0.891"/><stop offset="0.4427" stop-color="#7828ff"/><stop offset="0.4618" stop-color="#501bff"/><stop offset="0.4713" stop-color="#3b14ff"/><stop offset="0.4761" stop-color="#3110ff"/><stop offset="0.4952" stop-color="#0702ff"/><stop offset="0.5238" stop-color="#0034cb"/><stop offset="0.5501" stop-color="#00758a"/><stop offset="0.5524" stop-color="#007a85"/><stop offset="0.5620" stop-color="#008c73"/><stop offset="0.5811" stop-color="#00b14e"/><stop offset="0.5858" stop-color="#00ba45"/><stop offset="0.5954" stop-color="#00cc33"/><stop offset="0.6097" stop-color="#00e817"/><stop offset="0.6192" stop-color="#00fb04"/><stop offset="0.6336" stop-color="#16ff00"/><stop offset="0.6479" stop-color="#30ff00"/><stop offset="0.6526" stop-color="#3aff00"/><stop offset="0.6717" stop-color="#62ff00"/><stop offset="0.6765" stop-color="#6cff00"/><stop offset="0.6837" stop-color="#79ff00"/><stop offset="0.6932" stop-color="#8aff00"/><stop offset="0.6956" stop-color="#86ff00"/><stop offset="0.7037" stop-color="#78ff00"/><stop offset="0.7075" stop-color="#71ff00"/><stop offset="0.7099" stop-color="#5fff00"/><stop offset="0.7123" stop-color="#4dff00"/><stop offset="0.7180" stop-color="#20ff00"/><stop offset="0.7209" stop-color="#00fe01"/><stop offset="0.7242" stop-color="#00d926"/><stop offset="0.7256" stop-color="#00c936"/><stop offset="0.7280" stop-color="#00ad52"/><stop offset="0.7314" stop-color="#008679"/><stop offset="0.7352" stop-color="#005ca3"/><stop offset="0.7361" stop-color="#004fb0"/><stop offset="0.7409" stop-color="#000cf3"/><stop offset="0.7443" stop-color="#1306ff"/><stop offset="0.7481" stop-color="#3712ff"/><stop offset="0.7519" stop-color="#5b1eff"/><stop offset="0.7590" stop-color="#9933ff" stop-opacity="0.844"/><stop offset="0.7600" stop-color="#9933ff" stop-opacity="0.787"/><stop offset="0.7672" stop-color="#9933ff" stop-opacity="0.366"/><stop offset="0.7686" stop-color="#9933ff" stop-opacity="0.281"/><stop offset="0.7791" stop-color="#9933ff" stop-opacity="0.000"/><stop offset="0.9962" stop-color="#9933ff" stop-opacity="0.000"/><stop offset="0.9986" stop-color="#9933ff" stop-opacity="0.000"/></linearGradient><linearGradient id="t19" gradientUnits="userSpaceOnUse" x1="0" x2="0" y1="797" y2="1376.1"><stop offset="0.0000" stop-color="#9933ff" stop-opacity="0.000"/><stop offset="0.0633" stop-color="#9933ff" stop-opacity="0.000"/><stop offset="0.0638" stop-color="#9933ff" stop-opacity="0.000"/><stop offset="0.2757" stop-color="#9933ff" stop-opacity="0.000"/><stop offset="0.3043" stop-color="#9933ff" stop-opacity="0.000"/><stop offset="0.3329" stop-color="#9933ff" stop-opacity="0.000"/><stop offset="0.3568" stop-color="#9933ff" stop-opacity="0.114"/><stop offset="0.3807" stop-color="#9933ff" stop-opacity="0.228"/><stop offset="0.3902" stop-color="#9933ff" stop-opacity="0.278"/><stop offset="0.4188" stop-color="#9933ff" stop-opacity="0.793"/><stop offset="0.4236" stop-color="#9933ff" stop-opacity="0.875"/><stop offset="0.4427" stop-color="#7a29ff"/><stop offset="0.4618" stop-color="#521bff"/><stop offset="0.4713" stop-color="#3e15ff"/><stop offset="0.4761" stop-color="#3311ff"/><stop offset="0.4952" stop-color="#0a03ff"/><stop offset="0.5238" stop-color="#002fd0"/><stop offset="0.5501" stop-color="#00718e"/><stop offset="0.5524" stop-color="#007689"/><stop offset="0.5620" stop-color="#008877"/><stop offset="0.5811" stop-color="#00ae51"/><stop offset="0.5858" stop-color="#00b748"/><stop offset="0.5954" stop-color="#00ca35"/><stop offset="0.6097" stop-color="#00e619"/><stop offset="0.6192" stop-color="#00f906"/><stop offset="0.6336" stop-color="#14ff00"/><stop offset="0.6479" stop-color="#2fff00"/><stop offset="0.6526" stop-color="#38ff00"/><stop offset="0.6717" stop-color="#60ff00"/><stop offset="0.6765" stop-color="#6aff00"/><stop offset="0.6837" stop-color="#76ff00"/><stop offset="0.6932" stop-color="#86ff00"/><stop offset="0.6956" stop-color="#83ff00"/><stop offset="0.7037" stop-color="#73ff00"/><stop offset="0.7075" stop-color="#6bff00"/><stop offset="0.7099" stop-color="#59ff00"/><stop offset="0.7123" stop-color="#46ff00"/><stop offset="0.7180" stop-color="#18ff00"/><stop offset="0.7209" stop-color="#00f50a"/><stop offset="0.7242" stop-color="#00ce31"/><stop offset="0.7256" stop-color="#00bd42"/><stop offset="0.7280" stop-color="#00a05f"/><stop offset="0.7314" stop-color="#007887"/><stop offset="0.7352" stop-color="#004eb1"/><stop offset="0.7361" stop-color="#0041be"/><stop offset="0.7409" stop-color="#0100ff"/><stop offset="0.7443" stop-color="#1b09ff"/><stop offset="0.7481" stop-color="#3e15ff"/><stop offset="0.7519" stop-color="#6120ff"/><stop offset="0.7590" stop-color="#9933ff" stop-opacity="0.821"/><stop offset="0.7600" stop-color="#9933ff" stop-opacity="0.766"/><stop offset="0.7672" stop-color="#9933ff" stop-opacity="0.356"/><stop offset="0.7686" stop-color="#9933ff" stop-opacity="0.274"/><stop offset="0.7791" stop-color="#9933ff" stop-opacity="0.000"/><stop offset="0.9962" stop-color="#9933ff" stop-opacity="0.000"/><stop offset="0.9986" stop-color="#9933ff" stop-opacity="0.000"/></linearGradient><linearGradient id="t20" gradientUnits="userSpaceOnUse" x1="0" x2="0" y1="797" y2="1376.1"><stop offset="0.0000" stop-color="#9933ff" stop-opacity="0.000"/><stop offset="0.0633" stop-color="#9933ff" stop-opacity="0.000"/><stop offset="0.0638" stop-color="#9933ff" stop-opacity="0.000"/><stop offset="0.2757" stop-color="#9933ff" stop-opacity="0.000"/><stop offset="0.3043" stop-color="#9933ff" stop-opacity="0.000"/><stop offset="0.3329" stop-color="#9933ff" stop-opacity="0.000"/><stop offset="0.3568" stop-color="#9933ff" stop-opacity="0.109"/><stop offset="0.3807" stop-color="#9933ff" stop-opacity="0.217"/><stop offset="0.3902" stop-color="#9933ff" stop-opacity="0.267"/><stop offset="0.4188" stop-color="#9933ff" stop-opacity="0.766"/><stop offset="0.4236" stop-color="#9933ff" stop-opacity="0.848"/><stop offset="0.4427" stop-color="#7e2aff"/><stop offset="0.4618" stop-color="#561dff"/><stop offset="0.4713" stop-color="#4216ff"/><stop offset="0.4761" stop-color="#3712ff"/><stop offset="0.4952" stop-color="#0f05ff"/><stop offset="0.5238" stop-color="#0027d8"/><stop offset="0.5501" stop-color="#006a95"/><stop offset="0.5524" stop-color="#006f90"/><stop offset="0.5620" stop-color="#00827d"/><stop offset="0.5811" stop-color="#00a857"/><stop offset="0.5858" stop-color="#00b24d"/><stop offset="0.5954" stop-color="#00c53a"/><stop offset="0.6097" stop-color="#00e31c"/><stop offset="0.6192" stop-color="#00f708"/><stop offset="0.6336" stop-color="#12ff00"/><stop offset="0.6479" stop-color="#2cff00"/><stop offset="0.6526" stop-color="#36ff00"/><stop offset="0.6717" stop-color="#5eff00"/><stop offset="0.6765" stop-color="#67ff00"/><stop offset="0.6837" stop-color="#72ff00"/><stop offset="0.6932" stop-color="#80ff00"/><stop offset="0.6956" stop-color="#7dff00"/><stop offset="0.7037" stop-color="#6aff00"/><stop offset="0.7075" stop-color="#61ff00"/><stop offset="0.7099" stop-color="#4fff00"/><stop offset="0.7123" stop-color="#3bff00"/><stop offset="0.7180" stop-color="#0bff00"/><stop offset="0.7209" stop-color="#00e619"/><stop offset="0.7242" stop-color="#00bb44"/><stop offset="0.7256" stop-color="#00aa55"/><stop offset="0.7280" stop-color="#008b74"/><stop offset="0.7314" stop-color="#00619e"/><stop offset="0.7352" stop-color="#0037c8"/><stop offset="0.7361" stop-color="#0029d6"/><stop offset="0.7409" stop-color="#0f05ff"/><stop offset="0.7443" stop-color="#280dff"/><stop offset="0.7481" stop-color="#4918ff"/><stop offset="0.7519" stop-color="#6a23ff"/><stop offset="0.7590" stop-color="#9933ff" stop-opacity="0.783"/><stop offset="0.7600" stop-color="#9933ff" stop-opacity="0.731"/><stop offset="0.7672" stop-color="#9933ff" stop-opacity="0.339"/><stop offset="0.7686" stop-color="#9933ff" stop-opacity="0.261"/><stop offset="0.7791" stop-color="#9933ff" stop-opacity="0.000"/><stop offset="0.9962" stop-color="#9933ff" stop-opacity="0.000"/><stop offset="0.9986" stop-color="#9933ff" stop-opacity="0.000"/></linearGradient><linearGradient id="t21" gradientUnits="userSpaceOnUse" x1="0" x2="0" y1="797" y2="1376.1"><stop offset="0.0000" stop-color="#9933ff" stop-opacity="0.000"/><stop offset="0.0633" stop-color="#9933ff" stop-opacity="0.000"/><stop offset="0.0638" stop-color="#9933ff" stop-opacity="0.000"/><stop offset="0.2757" stop-color="#9933ff" stop-opacity="0.000"/><stop offset="0.3043" stop-color="#9933ff" stop-opacity="0.000"/><stop offset="0.3329" stop-color="#9933ff" stop-opacity="0.000"/><stop offset="0.3568" stop-color="#9933ff" stop-opacity="0.101"/><stop offset="0.3807" stop-color="#9933ff" stop-opacity="0.202"/><stop offset="0.3902" stop-color="#9933ff" stop-opacity="0.252"/><stop offset="0.4188" stop-color="#9933ff" stop-opacity="0.726"/><stop offset="0.4236" stop-color="#9933ff" stop-opacity="0.810"/><stop offset="0.4427" stop-color="#832cff"/><stop offset="0.4618" stop-color="#5b1eff"/><stop offset="0.4713" stop-color="#4718ff"/><stop offset="0.4761" stop-color="#3d14ff"/><stop offset="0.4952" stop-color="#1607ff"/><stop offset="0.5238" stop-color="#001be4"/><stop offset="0.5501" stop-color="#00609f"/><stop offset="0.5524" stop-color="#00659a"/><stop offset="0.5620" stop-color="#007986"/><stop offset="0.5811" stop-color="#00a15e"/><stop offset="0.5858" stop-color="#00ab54"/><stop offset="0.5954" stop-color="#00be41"/><stop offset="0.6097" stop-color="#00de21"/><stop offset="0.6192" stop-color="#00f30c"/><stop offset="0.6336" stop-color="#0fff00"/><stop offset="0.6479" stop-color="#29ff00"/><stop offset="0.6526" stop-color="#33ff00"/><stop offset="0.6717" stop-color="#5aff00"/><stop offset="0.6765" stop-color="#63ff00"/><stop offset="0.6837" stop-color="#6cff00"/><stop offset="0.6932" stop-color="#78ff00"/><stop offset="0.6956" stop-color="#74ff00"/><stop offset="0.7037" stop-color="#5eff00"/><stop offset="0.7075" stop-color="#53ff00"/><stop offset="0.7099" stop-color="#41ff00"/><stop offset="0.7123" stop-color="#2cff00"/><stop offset="0.7180" stop-color="#00f807"/><stop offset="0.7209" stop-color="#00d02f"/><stop offset="0.7242" stop-color="#00a15e"/><stop offset="0.7256" stop-color="#008e71"/><stop offset="0.7280" stop-color="#006e91"/><stop offset="0.7314" stop-color="#0040bf"/><stop offset="0.7352" stop-color="#0015ea"/><stop offset="0.7361" stop-color="#0008f7"/><stop offset="0.7409" stop-color="#230cff"/><stop offset="0.7443" stop-color="#3a13ff"/><stop offset="0.7481" stop-color="#591eff"/><stop offset="0.7519" stop-color="#7828ff"/><stop offset="0.7590" stop-color="#9933ff" stop-opacity="0.729"/><stop offset="0.7600" stop-color="#9933ff" stop-opacity="0.680"/><stop offset="0.7672" stop-color="#9933ff" stop-opacity="0.316"/><stop offset="0.7686" stop-color="#9933ff" stop-opacity="0.243"/><stop offset="0.7791" stop-color="#9933ff" stop-opacity="0.000"/><stop offset="0.9962" stop-color="#9933ff" stop-opacity="0.000"/><stop offset="0.9986" stop-color="#9933ff" stop-opacity="0.000"/></linearGradient><linearGradient id="t22" gradientUnits="userSpaceOnUse" x1="0" x2="0" y1="797" y2="1376.1"><stop offset="0.0000" stop-color="#9933ff" stop-opacity="0.000"/><stop offset="0.0633" stop-color="#9933ff" stop-opacity="0.000"/><stop offset="0.0638" stop-color="#9933ff" stop-opacity="0.000"/><stop offset="0.2757" stop-color="#9933ff" stop-opacity="0.000"/><stop offset="0.3043" stop-color="#9933ff" stop-opacity="0.000"/><stop offset="0.3329" stop-color="#9933ff" stop-opacity="0.000"/><stop offset="0.3568" stop-color="#9933ff" stop-opacity="0.094"/><stop offset="0.3807" stop-color="#9933ff" stop-opacity="0.188"/><stop offset="0.3902" stop-color="#9933ff" stop-opacity="0.237"/><stop offset="0.4188" stop-color="#9933ff" stop-opacity="0.688"/><stop offset="0.4236" stop-color="#9933ff" stop-opacity="0.773"/><stop offset="0.4427" stop-color="#882dff"/><stop offset="0.4618" stop-color="#6020ff"/><stop offset="0.4713" stop-color="#4d1aff"/><stop offset="0.4761" stop-color="#4316ff"/><stop offset="0.4952" stop-color="#1c09ff"/><stop offset="0.5238" stop-color="#0010ef"/><stop offset="0.5501" stop-color="#0056a9"/><stop offset="0.5524" stop-color="#005ba4"/><stop offset="0.5620" stop-color="#00708f"/><stop offset="0.5811" stop-color="#009966"/><stop offset="0.5858" stop-color="#00a35c"/><stop offset="0.5954" stop-color="#00b847"/><stop offset="0.6097" stop-color="#00d926"/><stop offset="0.6192" stop-color="#00ef10"/><stop offset="0.6336" stop-color="#0bff00"/><stop offset="0.6479" stop-color="#26ff00"/><stop offset="0.6526" stop-color="#30ff00"/><stop offset="0.6717" stop-color="#56ff00"/><stop offset="0.6765" stop-color="#5fff00"/><stop offset="0.6837" stop-color="#66ff00"/><stop offset="0.6932" stop-color="#6fff00"/><stop offset="0.6956" stop-color="#6cff00"/><stop offset="0.7037" stop-color="#51ff00"/><stop offset="0.7075" stop-color="#45ff00"/><stop offset="0.7099" stop-color="#33ff00"/><stop offset="0.7123" stop-color="#1cff00"/><stop offset="0.7180" stop-color="#00e51a"/><stop offset="0.7209" stop-color="#00ba45"/><stop offset="0.7242" stop-color="#008778"/><stop offset="0.7256" stop-color="#00738c"/><stop offset="0.7280" stop-color="#0050af"/><stop offset="0.7314" stop-color="#001fe0"/><stop offset="0.7352" stop-color="#0803ff"/><stop offset="0.7361" stop-color="#1005ff"/><stop offset="0.7409" stop-color="#3712ff"/><stop offset="0.7443" stop-color="#4c19ff"/><stop offset="0.7481" stop-color="#6923ff"/><stop offset="0.7519" stop-color="#862dff"/><stop offset="0.7590" stop-color="#9933ff" stop-opacity="0.675"/><stop offset="0.7600" stop-color="#9933ff" stop-opacity="0.630"/><stop offset="0.7672" stop-color="#9933ff" stop-opacity="0.292"/><stop offset="0.7686" stop-color="#9933ff" stop-opacity="0.225"/><stop offset="0.7791" stop-color="#9933ff" stop-opacity="0.000"/><stop offset="0.9962" stop-color="#9933ff" stop-opacity="0.000"/><stop offset="0.9986" stop-color="#9933ff" stop-opacity="0.000"/></linearGradient><linearGradient id="t23" gradientUnits="userSpaceOnUse" x1="0" x2="0" y1="797" y2="1376.1"><stop offset="0.0000" stop-color="#9933ff" stop-opacity="0.000"/><stop offset="0.0633" stop-color="#9933ff" stop-opacity="0.000"/><stop offset="0.0638" stop-color="#9933ff" stop-opacity="0.000"/><stop offset="0.2757" stop-color="#9933ff" stop-opacity="0.000"/><stop offset="0.3043" stop-color="#9933ff" stop-opacity="0.000"/><stop offset="0.3329" stop-color="#9933ff" stop-opacity="0.000"/><stop offset="0.3568" stop-color="#9933ff" stop-opacity="0.086"/><stop offset="0.3807" stop-color="#9933ff" stop-opacity="0.172"/><stop offset="0.3902" stop-color="#9933ff" stop-opacity="0.222"/><stop offset="0.4188" stop-color="#9933ff" stop-opacity="0.648"/><stop offset="0.4236" stop-color="#9933ff" stop-opacity="0.735"/><stop offset="0.4427" stop-color="#8d2fff"/><stop offset="0.4618" stop-color="#6622ff"/><stop offset="0.4713" stop-color="#521bff"/><stop offset="0.4761" stop-color="#4818ff"/><stop offset="0.4952" stop-color="#230cff"/><stop offset="0.5238" stop-color="#0004fb"/><stop offset="0.5501" stop-color="#004cb3"/><stop offset="0.5524" stop-color="#0051ae"/><stop offset="0.5620" stop-color="#006798"/><stop offset="0.5811" stop-color="#00926d"/><stop offset="0.5858" stop-color="#009c63"/><stop offset="0.5954" stop-color="#00b14e"/><stop offset="0.6097" stop-color="#00d42b"/><stop offset="0.6192" stop-color="#00eb14"/><stop offset="0.6336" stop-color="#08ff00"/><stop offset="0.6479" stop-color="#23ff00"/><stop offset="0.6526" stop-color="#2dff00"/><stop offset="0.6717" stop-color="#52ff00"/><stop offset="0.6765" stop-color="#5bff00"/><stop offset="0.6837" stop-color="#60ff00"/><stop offset="0.6932" stop-color="#67ff00"/><stop offset="0.6956" stop-color="#63ff00"/><stop offset="0.7037" stop-color="#45ff00"/><stop offset="0.7075" stop-color="#37ff00"/><stop offset="0.7099" stop-color="#24ff00"/><stop offset="0.7123" stop-color="#0dff00"/><stop offset="0.7180" stop-color="#00d32c"/><stop offset="0.7209" stop-color="#00a45b"/><stop offset="0.7242" stop-color="#006d92"/><stop offset="0.7256" stop-color="#0057a8"/><stop offset="0.7280" stop-color="#0032cd"/><stop offset="0.7314" stop-color="#0100ff"/><stop offset="0.7352" stop-color="#1c09ff"/><stop offset="0.7361" stop-color="#240cff"/><stop offset="0.7409" stop-color="#4b19ff"/><stop offset="0.7443" stop-color="#5f20ff"/><stop offset="0.7481" stop-color="#7928ff"/><stop offset="0.7519" stop-color="#9431ff"/><stop offset="0.7590" stop-color="#9933ff" stop-opacity="0.621"/><stop offset="0.7600" stop-color="#9933ff" stop-opacity="0.580"/><stop offset="0.7672" stop-color="#9933ff" stop-opacity="0.269"/><stop offset="0.7686" stop-color="#9933ff" stop-opacity="0.207"/><stop offset="0.7791" stop-color="#9933ff" stop-opacity="0.000"/><stop offset="0.9962" stop-color="#9933ff" stop-opacity="0.000"/><stop offset="0.9986" stop-color="#9933ff" stop-opacity="0.000"/></linearGradient><linearGradient id="t24" gradientUnits="userSpaceOnUse" x1="0" x2="0" y1="797" y2="1376.1"><stop offset="0.0000" stop-color="#9933ff" stop-opacity="0.000"/><stop offset="0.0633" stop-color="#9933ff" stop-opacity="0.000"/><stop offset="0.0638" stop-color="#9933ff" stop-opacity="0.000"/><stop offset="0.2757" stop-color="#9933ff" stop-opacity="0.000"/><stop offset="0.3043" stop-color="#9933ff" stop-opacity="0.000"/><stop offset="0.3329" stop-color="#9933ff" stop-opacity="0.000"/><stop offset="0.3568" stop-color="#9933ff" stop-opacity="0.079"/><stop offset="0.3807" stop-color="#9933ff" stop-opacity="0.158"/><stop offset="0.3902" stop-color="#9933ff" stop-opacity="0.207"/><stop offset="0.4188" stop-color="#9933ff" stop-opacity="0.610"/><stop offset="0.4236" stop-color="#9933ff" stop-opacity="0.697"/><stop offset="0.4427" stop-color="#9231ff"/><stop offset="0.4618" stop-color="#6b24ff"/><stop offset="0.4713" stop-color="#581dff"/><stop offset="0.4761" stop-color="#4e1aff"/><stop offset="0.4952" stop-color="#2a0eff"/><stop offset="0.5238" stop-color="#0401ff"/><stop offset="0.5501" stop-color="#0042bd"/><stop offset="0.5524" stop-color="#0047b8"/><stop offset="0.5620" stop-color="#005ea1"/><stop offset="0.5811" stop-color="#008a75"/><stop offset="0.5858" stop-color="#00956a"/><stop offset="0.5954" stop-color="#00ab54"/><stop offset="0.6097" stop-color="#00cf30"/><stop offset="0.6192" stop-color="#00e718"/><stop offset="0.6336" stop-color="#04ff00"/><stop offset="0.6479" stop-color="#20ff00"/><stop offset="0.6526" stop-color="#29ff00"/><stop offset="0.6717" stop-color="#4eff00"/><stop offset="0.6765" stop-color="#57ff00"/><stop offset="0.6837" stop-color="#5aff00"/><stop offset="0.6932" stop-color="#5eff00"/><stop offset="0.6956" stop-color="#5aff00"/><stop offset="0.7037" stop-color="#39ff00"/><stop offset="0.7075" stop-color="#29ff00"/><stop offset="0.7099" stop-color="#16ff00"/><stop offset="0.7123" stop-color="#00fc03"/><stop offset="0.7180" stop-color="#00c13e"/><stop offset="0.7209" stop-color="#008e71"/><stop offset="0.7242" stop-color="#0053ac"/><stop offset="0.7256" stop-color="#003cc3"/><stop offset="0.7280" stop-color="#0014eb"/><stop offset="0.7314" stop-color="#1507ff"/><stop offset="0.7352" stop-color="#3010ff"/><stop offset="0.7361" stop-color="#3813ff"/><stop offset="0.7409" stop-color="#5f20ff"/><stop offset="0.7443" stop-color="#7126ff"/><stop offset="0.7481" stop-color="#892eff"/><stop offset="0.7519" stop-color="#9933ff" stop-opacity="0.945"/><stop offset="0.7590" stop-color="#9933ff" stop-opacity="0.567"/><stop offset="0.7600" stop-color="#9933ff" stop-opacity="0.529"/><stop offset="0.7672" stop-color="#9933ff" stop-opacity="0.246"/><stop offset="0.7686" stop-color="#9933ff" stop-opacity="0.189"/><stop offset="0.7791" stop-color="#9933ff" stop-opacity="0.000"/><stop offset="0.9962" stop-color="#9933ff" stop-opacity="0.000"/><stop offset="0.9986" stop-color="#9933ff" stop-opacity="0.000"/></linearGradient><linearGradient id="t25" gradientUnits="userSpaceOnUse" x1="0" x2="0" y1="797" y2="1376.1"><stop offset="0.0000" stop-color="#9933ff" stop-opacity="0.000"/><stop offset="0.0633" stop-color="#9933ff" stop-opacity="0.000"/><stop offset="0.0638" stop-color="#9933ff" stop-opacity="0.000"/><stop offset="0.2757" stop-color="#9933ff" stop-opacity="0.000"/><stop offset="0.3043" stop-color="#9933ff" stop-opacity="0.000"/><stop offset="0.3329" stop-color="#9933ff" stop-opacity="0.000"/><stop offset="0.3568" stop-color="#9933ff" stop-opacity="0.070"/><stop offset="0.3807" stop-color="#9933ff" stop-opacity="0.141"/><stop offset="0.3902" stop-color="#9933ff" stop-opacity="0.191"/><stop offset="0.4188" stop-color="#9933ff" stop-opacity="0.566"/><stop offset="0.4236" stop-color="#9933ff" stop-opacity="0.654"/><stop offset="0.4427" stop-color="#9833ff"/><stop offset="0.4618" stop-color="#7126ff"/><stop offset="0.4713" stop-color="#5e1fff"/><stop offset="0.4761" stop-color="#541cff"/><stop offset="0.4952" stop-color="#3211ff"/><stop offset="0.5238" stop-color="#0c04ff"/><stop offset="0.5501" stop-color="#0036c9"/><stop offset="0.5524" stop-color="#003cc3"/><stop offset="0.5620" stop-color="#0054ab"/><stop offset="0.5811" stop-color="#00817e"/><stop offset="0.5858" stop-color="#008d72"/><stop offset="0.5954" stop-color="#00a35c"/><stop offset="0.6097" stop-color="#00ca35"/><stop offset="0.6192" stop-color="#00e31c"/><stop offset="0.6336" stop-color="#00ff00"/><stop offset="0.6479" stop-color="#1dff00"/><stop offset="0.6526" stop-color="#26ff00"/><stop offset="0.6717" stop-color="#4aff00"/><stop offset="0.6765" stop-color="#52ff00"/><stop offset="0.6837" stop-color="#54ff00"/><stop offset="0.6932" stop-color="#55ff00"/><stop offset="0.6956" stop-color="#51ff00"/><stop offset="0.7037" stop-color="#2bff00"/><stop offset="0.7075" stop-color="#19ff00"/><stop offset="0.7099" stop-color="#06ff00"/><stop offset="0.7123" stop-color="#00eb14"/><stop offset="0.7180" stop-color="#00ac53"/><stop offset="0.7209" stop-color="#00758a"/><stop offset="0.7242" stop-color="#0035ca"/><stop offset="0.7256" stop-color="#001de2"/><stop offset="0.7280" stop-color="#0803ff"/><stop offset="0.7314" stop-color="#2c0fff"/><stop offset="0.7352" stop-color="#4718ff"/><stop offset="0.7361" stop-color="#4f1aff"/><stop offset="0.7409" stop-color="#7627ff"/><stop offset="0.7443" stop-color="#862dff"/><stop offset="0.7481" stop-color="#9933ff" stop-opacity="0.984"/><stop offset="0.7519" stop-color="#9933ff" stop-opacity="0.844"/><stop offset="0.7590" stop-color="#9933ff" stop-opacity="0.506"/><stop offset="0.7600" stop-color="#9933ff" stop-opacity="0.472"/><stop offset="0.7672" stop-color="#9933ff" stop-opacity="0.219"/><stop offset="0.7686" stop-color="#9933ff" stop-opacity="0.169"/><stop offset="0.7791" stop-color="#9933ff" stop-opacity="0.000"/><stop offset="0.9962" stop-color="#9933ff" stop-opacity="0.000"/><stop offset="0.9986" stop-color="#9933ff" stop-opacity="0.000"/></linearGradient><linearGradient id="t26" gradientUnits="userSpaceOnUse" x1="0" x2="0" y1="797" y2="1376.1"><stop offset="0.0000" stop-color="#9933ff" stop-opacity="0.000"/><stop offset="0.0633" stop-color="#9933ff" stop-opacity="0.000"/><stop offset="0.0638" stop-color="#9933ff" stop-opacity="0.000"/><stop offset="0.2757" stop-color="#9933ff" stop-opacity="0.000"/><stop offset="0.3043" stop-color="#9933ff" stop-opacity="0.000"/><stop offset="0.3329" stop-color="#9933ff" stop-opacity="0.000"/><stop offset="0.3568" stop-color="#9933ff" stop-opacity="0.061"/><stop offset="0.3807" stop-color="#9933ff" stop-opacity="0.122"/><stop offset="0.3902" stop-color="#9933ff" stop-opacity="0.172"/><stop offset="0.4188" stop-color="#9933ff" stop-opacity="0.517"/><stop offset="0.4236" stop-color="#9933ff" stop-opacity="0.607"/><stop offset="0.4427" stop-color="#9933ff" stop-opacity="0.968"/><stop offset="0.4618" stop-color="#7828ff"/><stop offset="0.4713" stop-color="#6522ff"/><stop offset="0.4761" stop-color="#5b1eff"/><stop offset="0.4952" stop-color="#3a13ff"/><stop offset="0.5238" stop-color="#1507ff"/><stop offset="0.5501" stop-color="#002ad5"/><stop offset="0.5524" stop-color="#0030cf"/><stop offset="0.5620" stop-color="#0049b6"/><stop offset="0.5811" stop-color="#007887"/><stop offset="0.5858" stop-color="#00847b"/><stop offset="0.5954" stop-color="#009b64"/><stop offset="0.6097" stop-color="#00c33c"/><stop offset="0.6192" stop-color="#00de21"/><stop offset="0.6336" stop-color="#00fb04"/><stop offset="0.6479" stop-color="#19ff00"/><stop offset="0.6526" stop-color="#22ff00"/><stop offset="0.6717" stop-color="#45ff00"/><stop offset="0.6765" stop-color="#4dff00"/><stop offset="0.6837" stop-color="#4cff00"/><stop offset="0.6932" stop-color="#4aff00"/><stop offset="0.6956" stop-color="#46ff00"/><stop offset="0.7037" stop-color="#1cff00"/><stop offset="0.7075" stop-color="#08ff00"/><stop offset="0.7099" stop-color="#00f30c"/><stop offset="0.7123" stop-color="#00d827"/><stop offset="0.7180" stop-color="#00956a"/><stop offset="0.7209" stop-color="#005aa5"/><stop offset="0.7242" stop-color="#0015ea"/><stop offset="0.7256" stop-color="#0301ff"/><stop offset="0.7280" stop-color="#1f0aff"/><stop offset="0.7314" stop-color="#4417ff"/><stop offset="0.7352" stop-color="#6020ff"/><stop offset="0.7361" stop-color="#6823ff"/><stop offset="0.7409" stop-color="#8f30ff"/><stop offset="0.7443" stop-color="#9933ff" stop-opacity="0.975"/><stop offset="0.7481" stop-color="#9933ff" stop-opacity="0.853"/><stop offset="0.7519" stop-color="#9933ff" stop-opacity="0.731"/><stop offset="0.7590" stop-color="#9933ff" stop-opacity="0.439"/><stop offset="0.7600" stop-color="#9933ff" stop-opacity="0.409"/><stop offset="0.7672" stop-color="#9933ff" stop-opacity="0.190"/><stop offset="0.7686" stop-color="#9933ff" stop-opacity="0.146"/><stop offset="0.7791" stop-color="#9933ff" stop-opacity="0.000"/><stop offset="0.9962" stop-color="#9933ff" stop-opacity="0.000"/><stop offset="0.9986" stop-color="#9933ff" stop-opacity="0.000"/></linearGradient><linearGradient id="t27" gradientUnits="userSpaceOnUse" x1="0" x2="0" y1="797" y2="1376.1"><stop offset="0.0000" stop-color="#9933ff" stop-opacity="0.000"/><stop offset="0.0633" stop-color="#9933ff" stop-opacity="0.000"/><stop offset="0.0638" stop-color="#9933ff" stop-opacity="0.000"/><stop offset="0.2757" stop-color="#9933ff" stop-opacity="0.000"/><stop offset="0.3043" stop-color="#9933ff" stop-opacity="0.000"/><stop offset="0.3329" stop-color="#9933ff" stop-opacity="0.000"/><stop offset="0.3568" stop-color="#9933ff" stop-opacity="0.052"/><stop offset="0.3807" stop-color="#9933ff" stop-opacity="0.103"/><stop offset="0.3902" stop-color="#9933ff" stop-opacity="0.153"/><stop offset="0.4188" stop-color="#9933ff" stop-opacity="0.468"/><stop offset="0.4236" stop-color="#9933ff" stop-opacity="0.560"/><stop offset="0.4427" stop-color="#9933ff" stop-opacity="0.927"/><stop offset="0.4618" stop-color="#7f2aff"/><stop offset="0.4713" stop-color="#6c24ff"/><stop offset="0.4761" stop-color="#6321ff"/><stop offset="0.4952" stop-color="#4316ff"/><stop offset="0.5238" stop-color="#1d0aff"/><stop offset="0.5501" stop-color="#001de2"/><stop offset="0.5524" stop-color="#0024db"/><stop offset="0.5620" stop-color="#003ec1"/><stop offset="0.5811" stop-color="#006f90"/><stop offset="0.5858" stop-color="#007b84"/><stop offset="0.5954" stop-color="#00936c"/><stop offset="0.6097" stop-color="#00bd42"/><stop offset="0.6192" stop-color="#00da25"/><stop offset="0.6336" stop-color="#00f708"/><stop offset="0.6479" stop-color="#15ff00"/><stop offset="0.6526" stop-color="#1eff00"/><stop offset="0.6717" stop-color="#40ff00"/><stop offset="0.6765" stop-color="#48ff00"/><stop offset="0.6837" stop-color="#45ff00"/><stop offset="0.6932" stop-color="#40ff00"/><stop offset="0.6956" stop-color="#3bff00"/><stop offset="0.7037" stop-color="#0cff00"/><stop offset="0.7075" stop-color="#00f50a"/><stop offset="0.7099" stop-color="#00e21d"/><stop offset="0.7123" stop-color="#00c43b"/><stop offset="0.7180" stop-color="#007e81"/><stop offset="0.7209" stop-color="#003fc0"/><stop offset="0.7242" stop-color="#0702ff"/><stop offset="0.7256" stop-color="#1808ff"/><stop offset="0.7280" stop-color="#3512ff"/><stop offset="0.7314" stop-color="#5d1fff"/><stop offset="0.7352" stop-color="#7928ff"/><stop offset="0.7361" stop-color="#812bff"/><stop offset="0.7409" stop-color="#9933ff" stop-opacity="0.901"/><stop offset="0.7443" stop-color="#9933ff" stop-opacity="0.825"/><stop offset="0.7481" stop-color="#9933ff" stop-opacity="0.722"/><stop offset="0.7519" stop-color="#9933ff" stop-opacity="0.619"/><stop offset="0.7590" stop-color="#9933ff" stop-opacity="0.371"/><stop offset="0.7600" stop-color="#9933ff" stop-opacity="0.346"/><stop offset="0.7672" stop-color="#9933ff" stop-opacity="0.161"/><stop offset="0.7686" stop-color="#9933ff" stop-opacity="0.124"/><stop offset="0.7791" stop-color="#9933ff" stop-opacity="0.000"/><stop offset="0.9962" stop-color="#9933ff" stop-opacity="0.000"/><stop offset="0.9986" stop-color="#9933ff" stop-opacity="0.000"/></linearGradient><linearGradient id="t28" gradientUnits="userSpaceOnUse" x1="0" x2="0" y1="797" y2="1376.1"><stop offset="0.0000" stop-color="#9933ff" stop-opacity="0.000"/><stop offset="0.0633" stop-color="#9933ff" stop-opacity="0.000"/><stop offset="0.0638" stop-color="#9933ff" stop-opacity="0.000"/><stop offset="0.2757" stop-color="#9933ff" stop-opacity="0.000"/><stop offset="0.3043" stop-color="#9933ff" stop-opacity="0.000"/><stop offset="0.3329" stop-color="#9933ff" stop-opacity="0.000"/><stop offset="0.3568" stop-color="#9933ff" stop-opacity="0.042"/><stop offset="0.3807" stop-color="#9933ff" stop-opacity="0.084"/><stop offset="0.3902" stop-color="#9933ff" stop-opacity="0.134"/><stop offset="0.4188" stop-color="#9933ff" stop-opacity="0.419"/><stop offset="0.4236" stop-color="#9933ff" stop-opacity="0.513"/><stop offset="0.4427" stop-color="#9933ff" stop-opacity="0.886"/><stop offset="0.4618" stop-color="#862dff"/><stop offset="0.4713" stop-color="#7326ff"/><stop offset="0.4761" stop-color="#6a23ff"/><stop offset="0.4952" stop-color="#4b19ff"/><stop offset="0.5238" stop-color="#260dff"/><stop offset="0.5501" stop-color="#0011ee"/><stop offset="0.5524" stop-color="#0017e8"/><stop offset="0.5620" stop-color="#0032cd"/><stop offset="0.5811" stop-color="#00659a"/><stop offset="0.5858" stop-color="#00728d"/><stop offset="0.5954" stop-color="#008b74"/><stop offset="0.6097" stop-color="#00b748"/><stop offset="0.6192" stop-color="#00d52a"/><stop offset="0.6336" stop-color="#00f20d"/><stop offset="0.6479" stop-color="#11ff00"/><stop offset="0.6526" stop-color="#1aff00"/><stop offset="0.6717" stop-color="#3bff00"/><stop offset="0.6765" stop-color="#43ff00"/><stop offset="0.6837" stop-color="#3dff00"/><stop offset="0.6932" stop-color="#35ff00"/><stop offset="0.6956" stop-color="#30ff00"/><stop offset="0.7037" stop-color="#00fc03"/><stop offset="0.7075" stop-color="#00e41b"/><stop offset="0.7099" stop-color="#00d02f"/><stop offset="0.7123" stop-color="#00b14e"/><stop offset="0.7180" stop-color="#006798"/><stop offset="0.7209" stop-color="#0023dc"/><stop offset="0.7242" stop-color="#1b09ff"/><stop offset="0.7256" stop-color="#2d0fff"/><stop offset="0.7280" stop-color="#4b19ff"/><stop offset="0.7314" stop-color="#7627ff"/><stop offset="0.7352" stop-color="#9231ff"/><stop offset="0.7361" stop-color="#9933ff" stop-opacity="0.992"/><stop offset="0.7409" stop-color="#9933ff" stop-opacity="0.737"/><stop offset="0.7443" stop-color="#9933ff" stop-opacity="0.675"/><stop offset="0.7481" stop-color="#9933ff" stop-opacity="0.591"/><stop offset="0.7519" stop-color="#9933ff" stop-opacity="0.506"/><stop offset="0.7590" stop-color="#9933ff" stop-opacity="0.304"/><stop offset="0.7600" stop-color="#9933ff" stop-opacity="0.283"/><stop offset="0.7672" stop-color="#9933ff" stop-opacity="0.132"/><stop offset="0.7686" stop-color="#9933ff" stop-opacity="0.101"/><stop offset="0.7791" stop-color="#9933ff" stop-opacity="0.000"/><stop offset="0.9962" stop-color="#9933ff" stop-opacity="0.000"/><stop offset="0.9986" stop-color="#9933ff" stop-opacity="0.000"/></linearGradient><linearGradient id="t29" gradientUnits="userSpaceOnUse" x1="0" x2="0" y1="797" y2="1376.1"><stop offset="0.0000" stop-color="#9933ff" stop-opacity="0.000"/><stop offset="0.0633" stop-color="#9933ff" stop-opacity="0.000"/><stop offset="0.0638" stop-color="#9933ff" stop-opacity="0.000"/><stop offset="0.2757" stop-color="#9933ff" stop-opacity="0.000"/><stop offset="0.3043" stop-color="#9933ff" stop-opacity="0.000"/><stop offset="0.3329" stop-color="#9933ff" stop-opacity="0.000"/><stop offset="0.3568" stop-color="#9933ff" stop-opacity="0.032"/><stop offset="0.3807" stop-color="#9933ff" stop-opacity="0.065"/><stop offset="0.3902" stop-color="#9933ff" stop-opacity="0.115"/><stop offset="0.4188" stop-color="#9933ff" stop-opacity="0.368"/><stop offset="0.4236" stop-color="#9933ff" stop-opacity="0.463"/><stop offset="0.4427" stop-color="#9933ff" stop-opacity="0.842"/><stop offset="0.4618" stop-color="#8d2fff"/><stop offset="0.4713" stop-color="#7a29ff"/><stop offset="0.4761" stop-color="#7126ff"/><stop offset="0.4952" stop-color="#541cff"/><stop offset="0.5238" stop-color="#2f10ff"/><stop offset="0.5501" stop-color="#0003fc"/><stop offset="0.5524" stop-color="#000af5"/><stop offset="0.5620" stop-color="#0027d8"/><stop offset="0.5811" stop-color="#005ba4"/><stop offset="0.5858" stop-color="#006897"/><stop offset="0.5954" stop-color="#00827d"/><stop offset="0.6097" stop-color="#00b14e"/><stop offset="0.6192" stop-color="#00d02f"/><stop offset="0.6336" stop-color="#00ee11"/><stop offset="0.6479" stop-color="#0dff00"/><stop offset="0.6526" stop-color="#15ff00"/><stop offset="0.6717" stop-color="#36ff00"/><stop offset="0.6765" stop-color="#3eff00"/><stop offset="0.6837" stop-color="#35ff00"/><stop offset="0.6932" stop-color="#2aff00"/><stop offset="0.6956" stop-color="#25ff00"/><stop offset="0.7037" stop-color="#00ec13"/><stop offset="0.7075" stop-color="#00d12e"/><stop offset="0.7099" stop-color="#00bd42"/><stop offset="0.7123" stop-color="#009d62"/><stop offset="0.7180" stop-color="#004fb0"/><stop offset="0.7209" stop-color="#0006f9"/><stop offset="0.7242" stop-color="#2f10ff"/><stop offset="0.7256" stop-color="#4316ff"/><stop offset="0.7280" stop-color="#6321ff"/><stop offset="0.7314" stop-color="#9030ff"/><stop offset="0.7352" stop-color="#9933ff" stop-opacity="0.868"/><stop offset="0.7361" stop-color="#9933ff" stop-opacity="0.818"/><stop offset="0.7409" stop-color="#9933ff" stop-opacity="0.564"/><stop offset="0.7443" stop-color="#9933ff" stop-opacity="0.517"/><stop offset="0.7481" stop-color="#9933ff" stop-opacity="0.452"/><stop offset="0.7519" stop-color="#9933ff" stop-opacity="0.388"/><stop offset="0.7590" stop-color="#9933ff" stop-opacity="0.233"/><stop offset="0.7600" stop-color="#9933ff" stop-opacity="0.217"/><stop offset="0.7672" stop-color="#9933ff" stop-opacity="0.101"/><stop offset="0.7686" stop-color="#9933ff" stop-opacity="0.078"/><stop offset="0.7791" stop-color="#9933ff" stop-opacity="0.000"/><stop offset="0.9962" stop-color="#9933ff" stop-opacity="0.000"/><stop offset="0.9986" stop-color="#9933ff" stop-opacity="0.000"/></linearGradient><linearGradient id="t30" gradientUnits="userSpaceOnUse" x1="0" x2="0" y1="797" y2="1376.1"><stop offset="0.0000" stop-color="#9933ff" stop-opacity="0.000"/><stop offset="0.0633" stop-color="#9933ff" stop-opacity="0.000"/><stop offset="0.0638" stop-color="#9933ff" stop-opacity="0.000"/><stop offset="0.2757" stop-color="#9933ff" stop-opacity="0.000"/><stop offset="0.3043" stop-color="#9933ff" stop-opacity="0.000"/><stop offset="0.3329" stop-color="#9933ff" stop-opacity="0.000"/><stop offset="0.3568" stop-color="#9933ff" stop-opacity="0.022"/><stop offset="0.3807" stop-color="#9933ff" stop-opacity="0.044"/><stop offset="0.3902" stop-color="#9933ff" stop-opacity="0.094"/><stop offset="0.4188" stop-color="#9933ff" stop-opacity="0.314"/><stop offset="0.4236" stop-color="#9933ff" stop-opacity="0.410"/><stop offset="0.4427" stop-color="#9933ff" stop-opacity="0.796"/><stop offset="0.4618" stop-color="#9431ff"/><stop offset="0.4713" stop-color="#822bff"/><stop offset="0.4761" stop-color="#7928ff"/><stop offset="0.4952" stop-color="#5d1fff"/><stop offset="0.5238" stop-color="#3813ff"/><stop offset="0.5501" stop-color="#0602ff"/><stop offset="0.5524" stop-color="#0201ff"/><stop offset="0.5620" stop-color="#001ae5"/><stop offset="0.5811" stop-color="#0050af"/><stop offset="0.5858" stop-color="#005ea1"/><stop offset="0.5954" stop-color="#007986"/><stop offset="0.6097" stop-color="#00aa55"/><stop offset="0.6192" stop-color="#00ca35"/><stop offset="0.6336" stop-color="#00e916"/><stop offset="0.6479" stop-color="#09ff00"/><stop offset="0.6526" stop-color="#11ff00"/><stop offset="0.6717" stop-color="#31ff00"/><stop offset="0.6765" stop-color="#38ff00"/><stop offset="0.6837" stop-color="#2dff00"/><stop offset="0.6932" stop-color="#1eff00"/><stop offset="0.6956" stop-color="#19ff00"/><stop offset="0.7037" stop-color="#00db24"/><stop offset="0.7075" stop-color="#00be41"/><stop offset="0.7099" stop-color="#00a956"/><stop offset="0.7123" stop-color="#008778"/><stop offset="0.7180" stop-color="#0036c9"/><stop offset="0.7209" stop-color="#0f05ff"/><stop offset="0.7242" stop-color="#4517ff"/><stop offset="0.7256" stop-color="#5a1eff"/><stop offset="0.7280" stop-color="#7c29ff"/><stop offset="0.7314" stop-color="#9933ff" stop-opacity="0.878"/><stop offset="0.7352" stop-color="#9933ff" stop-opacity="0.685"/><stop offset="0.7361" stop-color="#9933ff" stop-opacity="0.635"/><stop offset="0.7409" stop-color="#9933ff" stop-opacity="0.382"/><stop offset="0.7443" stop-color="#9933ff" stop-opacity="0.350"/><stop offset="0.7481" stop-color="#9933ff" stop-opacity="0.306"/><stop offset="0.7519" stop-color="#9933ff" stop-opacity="0.263"/><stop offset="0.7590" stop-color="#9933ff" stop-opacity="0.158"/><stop offset="0.7600" stop-color="#9933ff" stop-opacity="0.147"/><stop offset="0.7672" stop-color="#9933ff" stop-opacity="0.068"/><stop offset="0.7686" stop-color="#9933ff" stop-opacity="0.053"/><stop offset="0.7791" stop-color="#9933ff" stop-opacity="0.000"/><stop offset="0.9962" stop-color="#9933ff" stop-opacity="0.000"/><stop offset="0.9986" stop-color="#9933ff" stop-opacity="0.000"/></linearGradient><linearGradient id="t31" gradientUnits="userSpaceOnUse" x1="0" x2="0" y1="797" y2="1376.1"><stop offset="0.0000" stop-color="#9933ff" stop-opacity="0.000"/><stop offset="0.0633" stop-color="#9933ff" stop-opacity="0.000"/><stop offset="0.0638" stop-color="#9933ff" stop-opacity="0.000"/><stop offset="0.2757" stop-color="#9933ff" stop-opacity="0.000"/><stop offset="0.3043" stop-color="#9933ff" stop-opacity="0.000"/><stop offset="0.3329" stop-color="#9933ff" stop-opacity="0.000"/><stop offset="0.3568" stop-color="#9933ff" stop-opacity="0.011"/><stop offset="0.3807" stop-color="#9933ff" stop-opacity="0.023"/><stop offset="0.3902" stop-color="#9933ff" stop-opacity="0.073"/><stop offset="0.4188" stop-color="#9933ff" stop-opacity="0.260"/><stop offset="0.4236" stop-color="#9933ff" stop-opacity="0.358"/><stop offset="0.4427" stop-color="#9933ff" stop-opacity="0.750"/><stop offset="0.4618" stop-color="#9933ff" stop-opacity="0.982"/><stop offset="0.4713" stop-color="#8a2eff"/><stop offset="0.4761" stop-color="#812bff"/><stop offset="0.4952" stop-color="#6722ff"/><stop offset="0.5238" stop-color="#4216ff"/><stop offset="0.5501" stop-color="#0f05ff"/><stop offset="0.5524" stop-color="#0a03ff"/><stop offset="0.5620" stop-color="#000ef1"/><stop offset="0.5811" stop-color="#0046b9"/><stop offset="0.5858" stop-color="#0054ab"/><stop offset="0.5954" stop-color="#00708f"/><stop offset="0.6097" stop-color="#00a35c"/><stop offset="0.6192" stop-color="#00c53a"/><stop offset="0.6336" stop-color="#00e41b"/><stop offset="0.6479" stop-color="#05ff00"/><stop offset="0.6526" stop-color="#0cff00"/><stop offset="0.6717" stop-color="#2bff00"/><stop offset="0.6765" stop-color="#33ff00"/><stop offset="0.6837" stop-color="#25ff00"/><stop offset="0.6932" stop-color="#13ff00"/><stop offset="0.6956" stop-color="#0dff00"/><stop offset="0.7037" stop-color="#00ca35"/><stop offset="0.7075" stop-color="#00aa55"/><stop offset="0.7099" stop-color="#00956a"/><stop offset="0.7123" stop-color="#00728d"/><stop offset="0.7180" stop-color="#001ce3"/><stop offset="0.7209" stop-color="#210bff"/><stop offset="0.7242" stop-color="#5b1eff"/><stop offset="0.7256" stop-color="#7025ff"/><stop offset="0.7280" stop-color="#9532ff"/><stop offset="0.7314" stop-color="#9933ff" stop-opacity="0.698"/><stop offset="0.7352" stop-color="#9933ff" stop-opacity="0.502"/><stop offset="0.7361" stop-color="#9933ff" stop-opacity="0.451"/><stop offset="0.7409" stop-color="#9933ff" stop-opacity="0.200"/><stop offset="0.7443" stop-color="#9933ff" stop-opacity="0.183"/><stop offset="0.7481" stop-color="#9933ff" stop-opacity="0.160"/><stop offset="0.7519" stop-color="#9933ff" stop-opacity="0.137"/><stop offset="0.7590" stop-color="#9933ff" stop-opacity="0.083"/><stop offset="0.7600" stop-color="#9933ff" stop-opacity="0.077"/><stop offset="0.7672" stop-color="#9933ff" stop-opacity="0.036"/><stop offset="0.7686" stop-color="#9933ff" stop-opacity="0.028"/><stop offset="0.7791" stop-color="#9933ff" stop-opacity="0.000"/><stop offset="0.9962" stop-color="#9933ff" stop-opacity="0.000"/><stop offset="0.9986" stop-color="#9933ff" stop-opacity="0.000"/></linearGradient><linearGradient id="t32" gradientUnits="userSpaceOnUse" x1="0" x2="0" y1="797" y2="1376.1"><stop offset="0.0000" stop-color="#9933ff" stop-opacity="0.000"/><stop offset="0.0633" stop-color="#9933ff" stop-opacity="0.000"/><stop offset="0.0638" stop-color="#9933ff" stop-opacity="0.000"/><stop offset="0.2757" stop-color="#9933ff" stop-opacity="0.000"/><stop offset="0.3043" stop-color="#9933ff" stop-opacity="0.000"/><stop offset="0.3329" stop-color="#9933ff" stop-opacity="0.000"/><stop offset="0.3568" stop-color="#9933ff" stop-opacity="0.004"/><stop offset="0.3807" stop-color="#9933ff" stop-opacity="0.008"/><stop offset="0.3902" stop-color="#9933ff" stop-opacity="0.058"/><stop offset="0.4188" stop-color="#9933ff" stop-opacity="0.221"/><stop offset="0.4236" stop-color="#9933ff" stop-opacity="0.320"/><stop offset="0.4427" stop-color="#9933ff" stop-opacity="0.718"/><stop offset="0.4618" stop-color="#9933ff" stop-opacity="0.947"/><stop offset="0.4713" stop-color="#8f30ff"/><stop offset="0.4761" stop-color="#872dff"/><stop offset="0.4952" stop-color="#6e25ff"/><stop offset="0.5238" stop-color="#4918ff"/><stop offset="0.5501" stop-color="#1507ff"/><stop offset="0.5524" stop-color="#1005ff"/><stop offset="0.5620" stop-color="#0005fa"/><stop offset="0.5811" stop-color="#003ec1"/><stop offset="0.5858" stop-color="#004db2"/><stop offset="0.5954" stop-color="#006a95"/><stop offset="0.6097" stop-color="#009e61"/><stop offset="0.6192" stop-color="#00c13e"/><stop offset="0.6336" stop-color="#00e11e"/><stop offset="0.6479" stop-color="#02ff00"/><stop offset="0.6526" stop-color="#09ff00"/><stop offset="0.6717" stop-color="#27ff00"/><stop offset="0.6765" stop-color="#2fff00"/><stop offset="0.6837" stop-color="#1fff00"/><stop offset="0.6932" stop-color="#0aff00"/><stop offset="0.6956" stop-color="#05ff00"/><stop offset="0.7037" stop-color="#00bd42"/><stop offset="0.7075" stop-color="#009c63"/><stop offset="0.7099" stop-color="#008778"/><stop offset="0.7123" stop-color="#00629d"/><stop offset="0.7180" stop-color="#000af5"/><stop offset="0.7209" stop-color="#2e0fff"/><stop offset="0.7242" stop-color="#6a23ff"/><stop offset="0.7256" stop-color="#812bff"/><stop offset="0.7280" stop-color="#9933ff" stop-opacity="0.913"/><stop offset="0.7314" stop-color="#9933ff" stop-opacity="0.569"/><stop offset="0.7352" stop-color="#9933ff" stop-opacity="0.371"/><stop offset="0.7361" stop-color="#9933ff" stop-opacity="0.321"/><stop offset="0.7409" stop-color="#9933ff" stop-opacity="0.070"/><stop offset="0.7443" stop-color="#9933ff" stop-opacity="0.064"/><stop offset="0.7481" stop-color="#9933ff" stop-opacity="0.056"/><stop offset="0.7519" stop-color="#9933ff" stop-opacity="0.048"/><stop offset="0.7590" stop-color="#9933ff" stop-opacity="0.029"/><stop offset="0.7600" stop-color="#9933ff" stop-opacity="0.027"/><stop offset="0.7672" stop-color="#9933ff" stop-opacity="0.013"/><stop offset="0.7686" stop-color="#9933ff" stop-opacity="0.010"/><stop offset="0.7791" stop-color="#9933ff" stop-opacity="0.000"/><stop offset="0.9962" stop-color="#9933ff" stop-opacity="0.000"/><stop offset="0.9986" stop-color="#9933ff" stop-opacity="0.000"/></linearGradient><linearGradient id="t33" gradientUnits="userSpaceOnUse" x1="0" x2="0" y1="797" y2="1376.1"><stop offset="0.0000" stop-color="#9933ff" stop-opacity="0.000"/><stop offset="0.0633" stop-color="#9933ff" stop-opacity="0.000"/><stop offset="0.0638" stop-color="#9933ff" stop-opacity="0.000"/><stop offset="0.2757" stop-color="#9933ff" stop-opacity="0.000"/><stop offset="0.3043" stop-color="#9933ff" stop-opacity="0.000"/><stop offset="0.3329" stop-color="#9933ff" stop-opacity="0.000"/><stop offset="0.3568" stop-color="#9933ff" stop-opacity="0.000"/><stop offset="0.3807" stop-color="#9933ff" stop-opacity="0.001"/><stop offset="0.3902" stop-color="#9933ff" stop-opacity="0.051"/><stop offset="0.4188" stop-color="#9933ff" stop-opacity="0.202"/><stop offset="0.4236" stop-color="#9933ff" stop-opacity="0.302"/><stop offset="0.4427" stop-color="#9933ff" stop-opacity="0.702"/><stop offset="0.4618" stop-color="#9933ff" stop-opacity="0.931"/><stop offset="0.4713" stop-color="#9231ff"/><stop offset="0.4761" stop-color="#892eff"/><stop offset="0.4952" stop-color="#7126ff"/><stop offset="0.5238" stop-color="#4c19ff"/><stop offset="0.5501" stop-color="#1808ff"/><stop offset="0.5524" stop-color="#1306ff"/><stop offset="0.5620" stop-color="#0001fe"/><stop offset="0.5811" stop-color="#003bc4"/><stop offset="0.5858" stop-color="#0049b6"/><stop offset="0.5954" stop-color="#006699"/><stop offset="0.6097" stop-color="#009c63"/><stop offset="0.6192" stop-color="#00bf40"/><stop offset="0.6336" stop-color="#00df20"/><stop offset="0.6479" stop-color="#00ff00"/><stop offset="0.6526" stop-color="#08ff00"/><stop offset="0.6717" stop-color="#25ff00"/><stop offset="0.6765" stop-color="#2dff00"/><stop offset="0.6837" stop-color="#1cff00"/><stop offset="0.6932" stop-color="#06ff00"/><stop offset="0.6956" stop-color="#01ff00"/><stop offset="0.7037" stop-color="#00b748"/><stop offset="0.7075" stop-color="#009669"/><stop offset="0.7099" stop-color="#00807f"/><stop offset="0.7123" stop-color="#005ba4"/><stop offset="0.7180" stop-color="#0001fe"/><stop offset="0.7209" stop-color="#3411ff"/><stop offset="0.7242" stop-color="#7226ff"/><stop offset="0.7256" stop-color="#892eff"/><stop offset="0.7280" stop-color="#9933ff" stop-opacity="0.857"/><stop offset="0.7314" stop-color="#9933ff" stop-opacity="0.508"/><stop offset="0.7352" stop-color="#9933ff" stop-opacity="0.308"/><stop offset="0.7361" stop-color="#9933ff" stop-opacity="0.258"/><stop offset="0.7409" stop-color="#9933ff" stop-opacity="0.008"/><stop offset="0.7443" stop-color="#9933ff" stop-opacity="0.007"/><stop offset="0.7481" stop-color="#9933ff" stop-opacity="0.006"/><stop offset="0.7519" stop-color="#9933ff" stop-opacity="0.005"/><stop offset="0.7590" stop-color="#9933ff" stop-opacity="0.003"/><stop offset="0.7600" stop-color="#9933ff" stop-opacity="0.003"/><stop offset="0.7672" stop-color="#9933ff" stop-opacity="0.001"/><stop offset="0.7686" stop-color="#9933ff" stop-opacity="0.001"/><stop offset="0.7791" stop-color="#9933ff" stop-opacity="0.000"/><stop offset="0.9962" stop-color="#9933ff" stop-opacity="0.000"/><stop offset="0.9986" stop-color="#9933ff" stop-opacity="0.000"/></linearGradient><linearGradient id="t34" gradientUnits="userSpaceOnUse" x1="0" x2="0" y1="797" y2="1376.1"><stop offset="0.0000" stop-color="#9933ff" stop-opacity="0.000"/><stop offset="0.0633" stop-color="#9933ff" stop-opacity="0.000"/><stop offset="0.0638" stop-color="#9933ff" stop-opacity="0.000"/><stop offset="0.2757" stop-color="#9933ff" stop-opacity="0.000"/><stop offset="0.3043" stop-color="#9933ff" stop-opacity="0.000"/><stop offset="0.3329" stop-color="#9933ff" stop-opacity="0.000"/><stop offset="0.3568" stop-color="#9933ff" stop-opacity="0.005"/><stop offset="0.3807" stop-color="#9933ff" stop-opacity="0.010"/><stop offset="0.3902" stop-color="#9933ff" stop-opacity="0.060"/><stop offset="0.4188" stop-color="#9933ff" stop-opacity="0.226"/><stop offset="0.4236" stop-color="#9933ff" stop-opacity="0.325"/><stop offset="0.4427" stop-color="#9933ff" stop-opacity="0.722"/><stop offset="0.4618" stop-color="#9933ff" stop-opacity="0.952"/><stop offset="0.4713" stop-color="#8f30ff"/><stop offset="0.4761" stop-color="#862dff"/><stop offset="0.4952" stop-color="#6d24ff"/><stop offset="0.5238" stop-color="#4818ff"/><stop offset="0.5501" stop-color="#1407ff"/><stop offset="0.5524" stop-color="#0f05ff"/><stop offset="0.5620" stop-color="#0006f9"/><stop offset="0.5811" stop-color="#003fc0"/><stop offset="0.5858" stop-color="#004eb1"/><stop offset="0.5954" stop-color="#006a95"/><stop offset="0.6097" stop-color="#009f60"/><stop offset="0.6192" stop-color="#00c23d"/><stop offset="0.6336" stop-color="#00e11e"/><stop offset="0.6479" stop-color="#02ff00"/><stop offset="0.6526" stop-color="#0aff00"/><stop offset="0.6717" stop-color="#28ff00"/><stop offset="0.6765" stop-color="#2fff00"/><stop offset="0.6837" stop-color="#20ff00"/><stop offset="0.6932" stop-color="#0bff00"/><stop offset="0.6956" stop-color="#06ff00"/><stop offset="0.7037" stop-color="#00bf40"/><stop offset="0.7075" stop-color="#009e61"/><stop offset="0.7099" stop-color="#008976"/><stop offset="0.7123" stop-color="#00649b"/><stop offset="0.7180" stop-color="#000cf3"/><stop offset="0.7209" stop-color="#2c0fff"/><stop offset="0.7242" stop-color="#6823ff"/><stop offset="0.7256" stop-color="#7f2aff"/><stop offset="0.7280" stop-color="#9933ff" stop-opacity="0.927"/><stop offset="0.7314" stop-color="#9933ff" stop-opacity="0.585"/><stop offset="0.7352" stop-color="#9933ff" stop-opacity="0.386"/><stop offset="0.7361" stop-color="#9933ff" stop-opacity="0.336"/><stop offset="0.7409" stop-color="#9933ff" stop-opacity="0.086"/><stop offset="0.7443" stop-color="#9933ff" stop-opacity="0.079"/><stop offset="0.7481" stop-color="#9933ff" stop-opacity="0.069"/><stop offset="0.7519" stop-color="#9933ff" stop-opacity="0.059"/><stop offset="0.7590" stop-color="#9933ff" stop-opacity="0.035"/><stop offset="0.7600" stop-color="#9933ff" stop-opacity="0.033"/><stop offset="0.7672" stop-color="#9933ff" stop-opacity="0.015"/><stop offset="0.7686" stop-color="#9933ff" stop-opacity="0.012"/><stop offset="0.7791" stop-color="#9933ff" stop-opacity="0.000"/><stop offset="0.9962" stop-color="#9933ff" stop-opacity="0.000"/><stop offset="0.9986" stop-color="#9933ff" stop-opacity="0.000"/></linearGradient><linearGradient id="t35" gradientUnits="userSpaceOnUse" x1="0" x2="0" y1="797" y2="1376.1"><stop offset="0.0000" stop-color="#9933ff" stop-opacity="0.000"/><stop offset="0.0633" stop-color="#9933ff" stop-opacity="0.000"/><stop offset="0.0638" stop-color="#9933ff" stop-opacity="0.000"/><stop offset="0.2757" stop-color="#9933ff" stop-opacity="0.000"/><stop offset="0.3043" stop-color="#9933ff" stop-opacity="0.000"/><stop offset="0.3329" stop-color="#9933ff" stop-opacity="0.000"/><stop offset="0.3568" stop-color="#9933ff" stop-opacity="0.016"/><stop offset="0.3807" stop-color="#9933ff" stop-opacity="0.032"/><stop offset="0.3902" stop-color="#9933ff" stop-opacity="0.082"/><stop offset="0.4188" stop-color="#9933ff" stop-opacity="0.284"/><stop offset="0.4236" stop-color="#9933ff" stop-opacity="0.382"/><stop offset="0.4427" stop-color="#9933ff" stop-opacity="0.771"/><stop offset="0.4618" stop-color="#9833ff"/><stop offset="0.4713" stop-color="#862dff"/><stop offset="0.4761" stop-color="#7d2aff"/><stop offset="0.4952" stop-color="#6321ff"/><stop offset="0.5238" stop-color="#3e15ff"/><stop offset="0.5501" stop-color="#0b04ff"/><stop offset="0.5524" stop-color="#0602ff"/><stop offset="0.5620" stop-color="#0013ec"/><stop offset="0.5811" stop-color="#004bb4"/><stop offset="0.5858" stop-color="#0059a6"/><stop offset="0.5954" stop-color="#00748b"/><stop offset="0.6097" stop-color="#00a659"/><stop offset="0.6192" stop-color="#00c837"/><stop offset="0.6336" stop-color="#00e718"/><stop offset="0.6479" stop-color="#07ff00"/><stop offset="0.6526" stop-color="#0eff00"/><stop offset="0.6717" stop-color="#2eff00"/><stop offset="0.6765" stop-color="#35ff00"/><stop offset="0.6837" stop-color="#29ff00"/><stop offset="0.6932" stop-color="#18ff00"/><stop offset="0.6956" stop-color="#13ff00"/><stop offset="0.7037" stop-color="#00d12e"/><stop offset="0.7075" stop-color="#00b34c"/><stop offset="0.7099" stop-color="#009e61"/><stop offset="0.7123" stop-color="#007b84"/><stop offset="0.7180" stop-color="#0028d7"/><stop offset="0.7209" stop-color="#1908ff"/><stop offset="0.7242" stop-color="#511bff"/><stop offset="0.7256" stop-color="#6622ff"/><stop offset="0.7280" stop-color="#892eff"/><stop offset="0.7314" stop-color="#9933ff" stop-opacity="0.780"/><stop offset="0.7352" stop-color="#9933ff" stop-opacity="0.585"/><stop offset="0.7361" stop-color="#9933ff" stop-opacity="0.535"/><stop offset="0.7409" stop-color="#9933ff" stop-opacity="0.283"/><stop offset="0.7443" stop-color="#9933ff" stop-opacity="0.259"/><stop offset="0.7481" stop-color="#9933ff" stop-opacity="0.227"/><stop offset="0.7519" stop-color="#9933ff" stop-opacity="0.194"/><stop offset="0.7590" stop-color="#9933ff" stop-opacity="0.117"/><stop offset="0.7600" stop-color="#9933ff" stop-opacity="0.109"/><stop offset="0.7672" stop-color="#9933ff" stop-opacity="0.051"/><stop offset="0.7686" stop-color="#9933ff" stop-opacity="0.039"/><stop offset="0.7791" stop-color="#9933ff" stop-opacity="0.000"/><stop offset="0.9962" stop-color="#9933ff" stop-opacity="0.000"/><stop offset="0.9986" stop-color="#9933ff" stop-opacity="0.000"/></linearGradient><linearGradient id="t36" gradientUnits="userSpaceOnUse" x1="0" x2="0" y1="797" y2="1376.1"><stop offset="0.0000" stop-color="#9933ff" stop-opacity="0.000"/><stop offset="0.0633" stop-color="#9933ff" stop-opacity="0.000"/><stop offset="0.0638" stop-color="#9933ff" stop-opacity="0.000"/><stop offset="0.2757" stop-color="#9933ff" stop-opacity="0.000"/><stop offset="0.3043" stop-color="#9933ff" stop-opacity="0.000"/><stop offset="0.3329" stop-color="#9933ff" stop-opacity="0.000"/><stop offset="0.3568" stop-color="#9933ff" stop-opacity="0.030"/><stop offset="0.3807" stop-color="#9933ff" stop-opacity="0.061"/><stop offset="0.3902" stop-color="#9933ff" stop-opacity="0.111"/><stop offset="0.4188" stop-color="#9933ff" stop-opacity="0.358"/><stop offset="0.4236" stop-color="#9933ff" stop-opacity="0.453"/><stop offset="0.4427" stop-color="#9933ff" stop-opacity="0.834"/><stop offset="0.4618" stop-color="#8e2fff"/><stop offset="0.4713" stop-color="#7c29ff"/><stop offset="0.4761" stop-color="#7326ff"/><stop offset="0.4952" stop-color="#561dff"/><stop offset="0.5238" stop-color="#3110ff"/><stop offset="0.5501" stop-color="#0001fe"/><stop offset="0.5524" stop-color="#0008f7"/><stop offset="0.5620" stop-color="#0024db"/><stop offset="0.5811" stop-color="#0059a6"/><stop offset="0.5858" stop-color="#006699"/><stop offset="0.5954" stop-color="#00817e"/><stop offset="0.6097" stop-color="#00af50"/><stop offset="0.6192" stop-color="#00cf30"/><stop offset="0.6336" stop-color="#00ed12"/><stop offset="0.6479" stop-color="#0cff00"/><stop offset="0.6526" stop-color="#15ff00"/><stop offset="0.6717" stop-color="#35ff00"/><stop offset="0.6765" stop-color="#3dff00"/><stop offset="0.6837" stop-color="#34ff00"/><stop offset="0.6932" stop-color="#28ff00"/><stop offset="0.6956" stop-color="#23ff00"/><stop offset="0.7037" stop-color="#00e916"/><stop offset="0.7075" stop-color="#00ce31"/><stop offset="0.7099" stop-color="#00b946"/><stop offset="0.7123" stop-color="#009966"/><stop offset="0.7180" stop-color="#004ab5"/><stop offset="0.7209" stop-color="#0001fe"/><stop offset="0.7242" stop-color="#3311ff"/><stop offset="0.7256" stop-color="#4718ff"/><stop offset="0.7280" stop-color="#6722ff"/><stop offset="0.7314" stop-color="#9532ff"/><stop offset="0.7352" stop-color="#9933ff" stop-opacity="0.835"/><stop offset="0.7361" stop-color="#9933ff" stop-opacity="0.784"/><stop offset="0.7409" stop-color="#9933ff" stop-opacity="0.531"/><stop offset="0.7443" stop-color="#9933ff" stop-opacity="0.486"/><stop offset="0.7481" stop-color="#9933ff" stop-opacity="0.426"/><stop offset="0.7519" stop-color="#9933ff" stop-opacity="0.365"/><stop offset="0.7590" stop-color="#9933ff" stop-opacity="0.219"/><stop offset="0.7600" stop-color="#9933ff" stop-opacity="0.204"/><stop offset="0.7672" stop-color="#9933ff" stop-opacity="0.095"/><stop offset="0.7686" stop-color="#9933ff" stop-opacity="0.073"/><stop offset="0.7791" stop-color="#9933ff" stop-opacity="0.000"/><stop offset="0.9962" stop-color="#9933ff" stop-opacity="0.000"/><stop offset="0.9986" stop-color="#9933ff" stop-opacity="0.000"/></linearGradient><linearGradient id="t37" gradientUnits="userSpaceOnUse" x1="0" x2="0" y1="797" y2="1376.1"><stop offset="0.0000" stop-color="#9933ff" stop-opacity="0.000"/><stop offset="0.0633" stop-color="#9933ff" stop-opacity="0.000"/><stop offset="0.0638" stop-color="#9933ff" stop-opacity="0.000"/><stop offset="0.2757" stop-color="#9933ff" stop-opacity="0.000"/><stop offset="0.3043" stop-color="#9933ff" stop-opacity="0.000"/><stop offset="0.3329" stop-color="#9933ff" stop-opacity="0.000"/><stop offset="0.3568" stop-color="#9933ff" stop-opacity="0.045"/><stop offset="0.3807" stop-color="#9933ff" stop-opacity="0.089"/><stop offset="0.3902" stop-color="#9933ff" stop-opacity="0.139"/><stop offset="0.4188" stop-color="#9933ff" stop-opacity="0.432"/><stop offset="0.4236" stop-color="#9933ff" stop-opacity="0.525"/><stop offset="0.4427" stop-color="#9933ff" stop-opacity="0.897"/><stop offset="0.4618" stop-color="#842cff"/><stop offset="0.4713" stop-color="#7126ff"/><stop offset="0.4761" stop-color="#6823ff"/><stop offset="0.4952" stop-color="#4918ff"/><stop offset="0.5238" stop-color="#230cff"/><stop offset="0.5501" stop-color="#0014eb"/><stop offset="0.5524" stop-color="#001be4"/><stop offset="0.5620" stop-color="#0035ca"/><stop offset="0.5811" stop-color="#006897"/><stop offset="0.5858" stop-color="#00748b"/><stop offset="0.5954" stop-color="#008d72"/><stop offset="0.6097" stop-color="#00b946"/><stop offset="0.6192" stop-color="#00d629"/><stop offset="0.6336" stop-color="#00f40b"/><stop offset="0.6479" stop-color="#12ff00"/><stop offset="0.6526" stop-color="#1bff00"/><stop offset="0.6717" stop-color="#3cff00"/><stop offset="0.6765" stop-color="#45ff00"/><stop offset="0.6837" stop-color="#3fff00"/><stop offset="0.6932" stop-color="#38ff00"/><stop offset="0.6956" stop-color="#33ff00"/><stop offset="0.7037" stop-color="#01ff00"/><stop offset="0.7075" stop-color="#00e817"/><stop offset="0.7099" stop-color="#00d42b"/><stop offset="0.7123" stop-color="#00b649"/><stop offset="0.7180" stop-color="#006d92"/><stop offset="0.7209" stop-color="#002ad5"/><stop offset="0.7242" stop-color="#1507ff"/><stop offset="0.7256" stop-color="#270dff"/><stop offset="0.7280" stop-color="#4517ff"/><stop offset="0.7314" stop-color="#6f25ff"/><stop offset="0.7352" stop-color="#8c2fff"/><stop offset="0.7361" stop-color="#9331ff"/><stop offset="0.7409" stop-color="#9933ff" stop-opacity="0.781"/><stop offset="0.7443" stop-color="#9933ff" stop-opacity="0.715"/><stop offset="0.7481" stop-color="#9933ff" stop-opacity="0.626"/><stop offset="0.7519" stop-color="#9933ff" stop-opacity="0.537"/><stop offset="0.7590" stop-color="#9933ff" stop-opacity="0.322"/><stop offset="0.7600" stop-color="#9933ff" stop-opacity="0.300"/><stop offset="0.7672" stop-color="#9933ff" stop-opacity="0.139"/><stop offset="0.7686" stop-color="#9933ff" stop-opacity="0.107"/><stop offset="0.7791" stop-color="#9933ff" stop-opacity="0.000"/><stop offset="0.9962" stop-color="#9933ff" stop-opacity="0.000"/><stop offset="0.9986" stop-color="#9933ff" stop-opacity="0.000"/></linearGradient><linearGradient id="t38" gradientUnits="userSpaceOnUse" x1="0" x2="0" y1="797" y2="1376.1"><stop offset="0.0000" stop-color="#9933ff" stop-opacity="0.000"/><stop offset="0.0633" stop-color="#9933ff" stop-opacity="0.000"/><stop offset="0.0638" stop-color="#9933ff" stop-opacity="0.000"/><stop offset="0.2757" stop-color="#9933ff" stop-opacity="0.000"/><stop offset="0.3043" stop-color="#9933ff" stop-opacity="0.000"/><stop offset="0.3329" stop-color="#9933ff" stop-opacity="0.000"/><stop offset="0.3568" stop-color="#9933ff" stop-opacity="0.059"/><stop offset="0.3807" stop-color="#9933ff" stop-opacity="0.118"/><stop offset="0.3902" stop-color="#9933ff" stop-opacity="0.168"/><stop offset="0.4188" stop-color="#9933ff" stop-opacity="0.507"/><stop offset="0.4236" stop-color="#9933ff" stop-opacity="0.598"/><stop offset="0.4427" stop-color="#9933ff" stop-opacity="0.960"/><stop offset="0.4618" stop-color="#7928ff"/><stop offset="0.4713" stop-color="#6622ff"/><stop offset="0.4761" stop-color="#5d1fff"/><stop offset="0.4952" stop-color="#3c14ff"/><stop offset="0.5238" stop-color="#1607ff"/><stop offset="0.5501" stop-color="#0027d8"/><stop offset="0.5524" stop-color="#002ed1"/><stop offset="0.5620" stop-color="#0047b8"/><stop offset="0.5811" stop-color="#007689"/><stop offset="0.5858" stop-color="#00827d"/><stop offset="0.5954" stop-color="#009a65"/><stop offset="0.6097" stop-color="#00c23d"/><stop offset="0.6192" stop-color="#00dd22"/><stop offset="0.6336" stop-color="#00fa05"/><stop offset="0.6479" stop-color="#18ff00"/><stop offset="0.6526" stop-color="#21ff00"/><stop offset="0.6717" stop-color="#44ff00"/><stop offset="0.6765" stop-color="#4cff00"/><stop offset="0.6837" stop-color="#4bff00"/><stop offset="0.6932" stop-color="#48ff00"/><stop offset="0.6956" stop-color="#44ff00"/><stop offset="0.7037" stop-color="#19ff00"/><stop offset="0.7075" stop-color="#04ff00"/><stop offset="0.7099" stop-color="#00f00f"/><stop offset="0.7123" stop-color="#00d42b"/><stop offset="0.7180" stop-color="#00916e"/><stop offset="0.7209" stop-color="#0055aa"/><stop offset="0.7242" stop-color="#000ff0"/><stop offset="0.7256" stop-color="#0702ff"/><stop offset="0.7280" stop-color="#230cff"/><stop offset="0.7314" stop-color="#4918ff"/><stop offset="0.7352" stop-color="#6522ff"/><stop offset="0.7361" stop-color="#6d24ff"/><stop offset="0.7409" stop-color="#9431ff"/><stop offset="0.7443" stop-color="#9933ff" stop-opacity="0.946"/><stop offset="0.7481" stop-color="#9933ff" stop-opacity="0.828"/><stop offset="0.7519" stop-color="#9933ff" stop-opacity="0.710"/><stop offset="0.7590" stop-color="#9933ff" stop-opacity="0.426"/><stop offset="0.7600" stop-color="#9933ff" stop-opacity="0.397"/><stop offset="0.7672" stop-color="#9933ff" stop-opacity="0.184"/><stop offset="0.7686" stop-color="#9933ff" stop-opacity="0.142"/><stop offset="0.7791" stop-color="#9933ff" stop-opacity="0.000"/><stop offset="0.9962" stop-color="#9933ff" stop-opacity="0.000"/><stop offset="0.9986" stop-color="#9933ff" stop-opacity="0.000"/></linearGradient><linearGradient id="t39" gradientUnits="userSpaceOnUse" x1="0" x2="0" y1="797" y2="1376.1"><stop offset="0.0000" stop-color="#9933ff" stop-opacity="0.000"/><stop offset="0.0633" stop-color="#9933ff" stop-opacity="0.000"/><stop offset="0.0638" stop-color="#9933ff" stop-opacity="0.000"/><stop offset="0.2757" stop-color="#9933ff" stop-opacity="0.000"/><stop offset="0.3043" stop-color="#9933ff" stop-opacity="0.000"/><stop offset="0.3329" stop-color="#9933ff" stop-opacity="0.000"/><stop offset="0.3568" stop-color="#9933ff" stop-opacity="0.074"/><stop offset="0.3807" stop-color="#9933ff" stop-opacity="0.147"/><stop offset="0.3902" stop-color="#9933ff" stop-opacity="0.197"/><stop offset="0.4188" stop-color="#9933ff" stop-opacity="0.582"/><stop offset="0.4236" stop-color="#9933ff" stop-opacity="0.671"/><stop offset="0.4427" stop-color="#9532ff"/><stop offset="0.4618" stop-color="#6f25ff"/><stop offset="0.4713" stop-color="#5c1fff"/><stop offset="0.4761" stop-color="#521bff"/><stop offset="0.4952" stop-color="#2f10ff"/><stop offset="0.5238" stop-color="#0903ff"/><stop offset="0.5501" stop-color="#003bc4"/><stop offset="0.5524" stop-color="#0041be"/><stop offset="0.5620" stop-color="#0058a7"/><stop offset="0.5811" stop-color="#00857a"/><stop offset="0.5858" stop-color="#00906f"/><stop offset="0.5954" stop-color="#00a659"/><stop offset="0.6097" stop-color="#00cc33"/><stop offset="0.6192" stop-color="#00e51a"/><stop offset="0.6336" stop-color="#02ff00"/><stop offset="0.6479" stop-color="#1eff00"/><stop offset="0.6526" stop-color="#27ff00"/><stop offset="0.6717" stop-color="#4bff00"/><stop offset="0.6765" stop-color="#54ff00"/><stop offset="0.6837" stop-color="#56ff00"/><stop offset="0.6932" stop-color="#59ff00"/><stop offset="0.6956" stop-color="#54ff00"/><stop offset="0.7037" stop-color="#30ff00"/><stop offset="0.7075" stop-color="#1fff00"/><stop offset="0.7099" stop-color="#0cff00"/><stop offset="0.7123" stop-color="#00f20d"/><stop offset="0.7180" stop-color="#00b44b"/><stop offset="0.7209" stop-color="#007f80"/><stop offset="0.7242" stop-color="#0041be"/><stop offset="0.7256" stop-color="#0029d6"/><stop offset="0.7280" stop-color="#0000ff"/><stop offset="0.7314" stop-color="#230cff"/><stop offset="0.7352" stop-color="#3e15ff"/><stop offset="0.7361" stop-color="#4617ff"/><stop offset="0.7409" stop-color="#6d24ff"/><stop offset="0.7443" stop-color="#7e2aff"/><stop offset="0.7481" stop-color="#9431ff"/><stop offset="0.7519" stop-color="#9933ff" stop-opacity="0.883"/><stop offset="0.7590" stop-color="#9933ff" stop-opacity="0.530"/><stop offset="0.7600" stop-color="#9933ff" stop-opacity="0.494"/><stop offset="0.7672" stop-color="#9933ff" stop-opacity="0.229"/><stop offset="0.7686" stop-color="#9933ff" stop-opacity="0.177"/><stop offset="0.7791" stop-color="#9933ff" stop-opacity="0.000"/><stop offset="0.9962" stop-color="#9933ff" stop-opacity="0.000"/><stop offset="0.9986" stop-color="#9933ff" stop-opacity="0.000"/></linearGradient><linearGradient id="t40" gradientUnits="userSpaceOnUse" x1="0" x2="0" y1="797" y2="1376.1"><stop offset="0.0000" stop-color="#9933ff" stop-opacity="0.000"/><stop offset="0.0633" stop-color="#9933ff" stop-opacity="0.000"/><stop offset="0.0638" stop-color="#9933ff" stop-opacity="0.000"/><stop offset="0.2757" stop-color="#9933ff" stop-opacity="0.000"/><stop offset="0.3043" stop-color="#9933ff" stop-opacity="0.000"/><stop offset="0.3329" stop-color="#9933ff" stop-opacity="0.000"/><stop offset="0.3568" stop-color="#9933ff" stop-opacity="0.088"/><stop offset="0.3807" stop-color="#9933ff" stop-opacity="0.176"/><stop offset="0.3902" stop-color="#9933ff" stop-opacity="0.226"/><stop offset="0.4188" stop-color="#9933ff" stop-opacity="0.658"/><stop offset="0.4236" stop-color="#9933ff" stop-opacity="0.744"/><stop offset="0.4427" stop-color="#8c2fff"/><stop offset="0.4618" stop-color="#6421ff"/><stop offset="0.4713" stop-color="#511bff"/><stop offset="0.4761" stop-color="#4718ff"/><stop offset="0.4952" stop-color="#210bff"/><stop offset="0.5238" stop-color="#0007f8"/><stop offset="0.5501" stop-color="#004eb1"/><stop offset="0.5524" stop-color="#0054ab"/><stop offset="0.5620" stop-color="#006996"/><stop offset="0.5811" stop-color="#00946b"/><stop offset="0.5858" stop-color="#009e61"/><stop offset="0.5954" stop-color="#00b34c"/><stop offset="0.6097" stop-color="#00d52a"/><stop offset="0.6192" stop-color="#00ec13"/><stop offset="0.6336" stop-color="#09ff00"/><stop offset="0.6479" stop-color="#24ff00"/><stop offset="0.6526" stop-color="#2dff00"/><stop offset="0.6717" stop-color="#53ff00"/><stop offset="0.6765" stop-color="#5cff00"/><stop offset="0.6837" stop-color="#62ff00"/><stop offset="0.6932" stop-color="#69ff00"/><stop offset="0.6956" stop-color="#65ff00"/><stop offset="0.7037" stop-color="#48ff00"/><stop offset="0.7075" stop-color="#3bff00"/><stop offset="0.7099" stop-color="#28ff00"/><stop offset="0.7123" stop-color="#11ff00"/><stop offset="0.7180" stop-color="#00d827"/><stop offset="0.7209" stop-color="#00a956"/><stop offset="0.7242" stop-color="#00738c"/><stop offset="0.7256" stop-color="#005ea1"/><stop offset="0.7280" stop-color="#0039c6"/><stop offset="0.7314" stop-color="#0006f9"/><stop offset="0.7352" stop-color="#1708ff"/><stop offset="0.7361" stop-color="#1f0aff"/><stop offset="0.7409" stop-color="#4617ff"/><stop offset="0.7443" stop-color="#5a1eff"/><stop offset="0.7481" stop-color="#7527ff"/><stop offset="0.7519" stop-color="#9030ff"/><stop offset="0.7590" stop-color="#9933ff" stop-opacity="0.635"/><stop offset="0.7600" stop-color="#9933ff" stop-opacity="0.592"/><stop offset="0.7672" stop-color="#9933ff" stop-opacity="0.275"/><stop offset="0.7686" stop-color="#9933ff" stop-opacity="0.212"/><stop offset="0.7791" stop-color="#9933ff" stop-opacity="0.000"/><stop offset="0.9962" stop-color="#9933ff" stop-opacity="0.000"/><stop offset="0.9986" stop-color="#9933ff" stop-opacity="0.000"/></linearGradient><linearGradient id="t41" gradientUnits="userSpaceOnUse" x1="0" x2="0" y1="797" y2="1376.1"><stop offset="0.0000" stop-color="#9933ff" stop-opacity="0.000"/><stop offset="0.0633" stop-color="#9933ff" stop-opacity="0.000"/><stop offset="0.0638" stop-color="#9933ff" stop-opacity="0.000"/><stop offset="0.2757" stop-color="#9933ff" stop-opacity="0.000"/><stop offset="0.3043" stop-color="#9933ff" stop-opacity="0.000"/><stop offset="0.3329" stop-color="#9933ff" stop-opacity="0.000"/><stop offset="0.3568" stop-color="#9933ff" stop-opacity="0.103"/><stop offset="0.3807" stop-color="#9933ff" stop-opacity="0.205"/><stop offset="0.3902" stop-color="#9933ff" stop-opacity="0.255"/><stop offset="0.4188" stop-color="#9933ff" stop-opacity="0.734"/><stop offset="0.4236" stop-color="#9933ff" stop-opacity="0.818"/><stop offset="0.4427" stop-color="#822bff"/><stop offset="0.4618" stop-color="#5a1eff"/><stop offset="0.4713" stop-color="#4617ff"/><stop offset="0.4761" stop-color="#3c14ff"/><stop offset="0.4952" stop-color="#1407ff"/><stop offset="0.5238" stop-color="#001ee1"/><stop offset="0.5501" stop-color="#00629d"/><stop offset="0.5524" stop-color="#006798"/><stop offset="0.5620" stop-color="#007b84"/><stop offset="0.5811" stop-color="#00a25d"/><stop offset="0.5858" stop-color="#00ac53"/><stop offset="0.5954" stop-color="#00c03f"/><stop offset="0.6097" stop-color="#00df20"/><stop offset="0.6192" stop-color="#00f40b"/><stop offset="0.6336" stop-color="#0fff00"/><stop offset="0.6479" stop-color="#2aff00"/><stop offset="0.6526" stop-color="#34ff00"/><stop offset="0.6717" stop-color="#5aff00"/><stop offset="0.6765" stop-color="#64ff00"/><stop offset="0.6837" stop-color="#6dff00"/><stop offset="0.6932" stop-color="#79ff00"/><stop offset="0.6956" stop-color="#76ff00"/><stop offset="0.7037" stop-color="#60ff00"/><stop offset="0.7075" stop-color="#56ff00"/><stop offset="0.7099" stop-color="#44ff00"/><stop offset="0.7123" stop-color="#2fff00"/><stop offset="0.7180" stop-color="#00fb04"/><stop offset="0.7209" stop-color="#00d42b"/><stop offset="0.7242" stop-color="#00a659"/><stop offset="0.7256" stop-color="#00946b"/><stop offset="0.7280" stop-color="#00738c"/><stop offset="0.7314" stop-color="#0046b9"/><stop offset="0.7352" stop-color="#001be4"/><stop offset="0.7361" stop-color="#000ef1"/><stop offset="0.7409" stop-color="#1f0aff"/><stop offset="0.7443" stop-color="#3712ff"/><stop offset="0.7481" stop-color="#561dff"/><stop offset="0.7519" stop-color="#7527ff"/><stop offset="0.7590" stop-color="#9933ff" stop-opacity="0.739"/><stop offset="0.7600" stop-color="#9933ff" stop-opacity="0.690"/><stop offset="0.7672" stop-color="#9933ff" stop-opacity="0.320"/><stop offset="0.7686" stop-color="#9933ff" stop-opacity="0.246"/><stop offset="0.7791" stop-color="#9933ff" stop-opacity="0.000"/><stop offset="0.9962" stop-color="#9933ff" stop-opacity="0.000"/><stop offset="0.9986" stop-color="#9933ff" stop-opacity="0.000"/></linearGradient><linearGradient id="t42" gradientUnits="userSpaceOnUse" x1="0" x2="0" y1="797" y2="1376.1"><stop offset="0.0000" stop-color="#9933ff" stop-opacity="0.000"/><stop offset="0.0633" stop-color="#9933ff" stop-opacity="0.000"/><stop offset="0.0638" stop-color="#9933ff" stop-opacity="0.000"/><stop offset="0.2757" stop-color="#9933ff" stop-opacity="0.000"/><stop offset="0.3043" stop-color="#9933ff" stop-opacity="0.000"/><stop offset="0.3329" stop-color="#9933ff" stop-opacity="0.000"/><stop offset="0.3568" stop-color="#9933ff" stop-opacity="0.113"/><stop offset="0.3807" stop-color="#9933ff" stop-opacity="0.226"/><stop offset="0.3902" stop-color="#9933ff" stop-opacity="0.276"/><stop offset="0.4188" stop-color="#9933ff" stop-opacity="0.788"/><stop offset="0.4236" stop-color="#9933ff" stop-opacity="0.870"/><stop offset="0.4427" stop-color="#7b29ff"/><stop offset="0.4618" stop-color="#521bff"/><stop offset="0.4713" stop-color="#3e15ff"/><stop offset="0.4761" stop-color="#3411ff"/><stop offset="0.4952" stop-color="#0b04ff"/><stop offset="0.5238" stop-color="#002ed1"/><stop offset="0.5501" stop-color="#00708f"/><stop offset="0.5524" stop-color="#00748b"/><stop offset="0.5620" stop-color="#008778"/><stop offset="0.5811" stop-color="#00ad52"/><stop offset="0.5858" stop-color="#00b649"/><stop offset="0.5954" stop-color="#00c936"/><stop offset="0.6097" stop-color="#00e619"/><stop offset="0.6192" stop-color="#00f906"/><stop offset="0.6336" stop-color="#14ff00"/><stop offset="0.6479" stop-color="#2eff00"/><stop offset="0.6526" stop-color="#38ff00"/><stop offset="0.6717" stop-color="#60ff00"/><stop offset="0.6765" stop-color="#6aff00"/><stop offset="0.6837" stop-color="#75ff00"/><stop offset="0.6932" stop-color="#85ff00"/><stop offset="0.6956" stop-color="#82ff00"/><stop offset="0.7037" stop-color="#71ff00"/><stop offset="0.7075" stop-color="#69ff00"/><stop offset="0.7099" stop-color="#58ff00"/><stop offset="0.7123" stop-color="#44ff00"/><stop offset="0.7180" stop-color="#16ff00"/><stop offset="0.7209" stop-color="#00f30c"/><stop offset="0.7242" stop-color="#00cb34"/><stop offset="0.7256" stop-color="#00ba45"/><stop offset="0.7280" stop-color="#009d62"/><stop offset="0.7314" stop-color="#00748b"/><stop offset="0.7352" stop-color="#004ab5"/><stop offset="0.7361" stop-color="#003dc2"/><stop offset="0.7409" stop-color="#0401ff"/><stop offset="0.7443" stop-color="#1d0aff"/><stop offset="0.7481" stop-color="#4015ff"/><stop offset="0.7519" stop-color="#6221ff"/><stop offset="0.7590" stop-color="#9933ff" stop-opacity="0.814"/><stop offset="0.7600" stop-color="#9933ff" stop-opacity="0.760"/><stop offset="0.7672" stop-color="#9933ff" stop-opacity="0.353"/><stop offset="0.7686" stop-color="#9933ff" stop-opacity="0.271"/><stop offset="0.7791" stop-color="#9933ff" stop-opacity="0.000"/><stop offset="0.9962" stop-color="#9933ff" stop-opacity="0.000"/><stop offset="0.9986" stop-color="#9933ff" stop-opacity="0.000"/></linearGradient><linearGradient id="t43" gradientUnits="userSpaceOnUse" x1="0" x2="0" y1="797" y2="1376.1"><stop offset="0.0000" stop-color="#9933ff" stop-opacity="0.000"/><stop offset="0.0633" stop-color="#9933ff" stop-opacity="0.000"/><stop offset="0.0638" stop-color="#9933ff" stop-opacity="0.000"/><stop offset="0.2757" stop-color="#9933ff" stop-opacity="0.000"/><stop offset="0.3043" stop-color="#9933ff" stop-opacity="0.000"/><stop offset="0.3329" stop-color="#9933ff" stop-opacity="0.000"/><stop offset="0.3568" stop-color="#9933ff" stop-opacity="0.119"/><stop offset="0.3807" stop-color="#9933ff" stop-opacity="0.239"/><stop offset="0.3902" stop-color="#9933ff" stop-opacity="0.289"/><stop offset="0.4188" stop-color="#9933ff" stop-opacity="0.821"/><stop offset="0.4236" stop-color="#9933ff" stop-opacity="0.902"/><stop offset="0.4427" stop-color="#7728ff"/><stop offset="0.4618" stop-color="#4e1aff"/><stop offset="0.4713" stop-color="#3a13ff"/><stop offset="0.4761" stop-color="#2f10ff"/><stop offset="0.4952" stop-color="#0502ff"/><stop offset="0.5238" stop-color="#0037c8"/><stop offset="0.5501" stop-color="#007887"/><stop offset="0.5524" stop-color="#007d82"/><stop offset="0.5620" stop-color="#008f70"/><stop offset="0.5811" stop-color="#00b34c"/><stop offset="0.5858" stop-color="#00bc43"/><stop offset="0.5954" stop-color="#00ce31"/><stop offset="0.6097" stop-color="#00ea15"/><stop offset="0.6192" stop-color="#00fc03"/><stop offset="0.6336" stop-color="#17ff00"/><stop offset="0.6479" stop-color="#31ff00"/><stop offset="0.6526" stop-color="#3bff00"/><stop offset="0.6717" stop-color="#63ff00"/><stop offset="0.6765" stop-color="#6dff00"/><stop offset="0.6837" stop-color="#7aff00"/><stop offset="0.6932" stop-color="#8cff00"/><stop offset="0.6956" stop-color="#89ff00"/><stop offset="0.7037" stop-color="#7bff00"/><stop offset="0.7075" stop-color="#75ff00"/><stop offset="0.7099" stop-color="#63ff00"/><stop offset="0.7123" stop-color="#51ff00"/><stop offset="0.7180" stop-color="#25ff00"/><stop offset="0.7209" stop-color="#06ff00"/><stop offset="0.7242" stop-color="#00e01f"/><stop offset="0.7256" stop-color="#00d12e"/><stop offset="0.7280" stop-color="#00b649"/><stop offset="0.7314" stop-color="#00906f"/><stop offset="0.7352" stop-color="#006699"/><stop offset="0.7361" stop-color="#0059a6"/><stop offset="0.7409" stop-color="#0016e9"/><stop offset="0.7443" stop-color="#0e05ff"/><stop offset="0.7481" stop-color="#3211ff"/><stop offset="0.7519" stop-color="#571dff"/><stop offset="0.7590" stop-color="#9933ff" stop-opacity="0.859"/><stop offset="0.7600" stop-color="#9933ff" stop-opacity="0.802"/><stop offset="0.7672" stop-color="#9933ff" stop-opacity="0.372"/><stop offset="0.7686" stop-color="#9933ff" stop-opacity="0.286"/><stop offset="0.7791" stop-color="#9933ff" stop-opacity="0.000"/><stop offset="0.9962" stop-color="#9933ff" stop-opacity="0.000"/><stop offset="0.9986" stop-color="#9933ff" stop-opacity="0.000"/></linearGradient><linearGradient id="t44" gradientUnits="userSpaceOnUse" x1="0" x2="0" y1="797" y2="1376.1"><stop offset="0.0000" stop-color="#9933ff" stop-opacity="0.000"/><stop offset="0.0633" stop-color="#9933ff" stop-opacity="0.000"/><stop offset="0.0638" stop-color="#9933ff" stop-opacity="0.000"/><stop offset="0.2757" stop-color="#9933ff" stop-opacity="0.000"/><stop offset="0.3043" stop-color="#9933ff" stop-opacity="0.000"/><stop offset="0.3329" stop-color="#9933ff" stop-opacity="0.000"/><stop offset="0.3568" stop-color="#9933ff" stop-opacity="0.124"/><stop offset="0.3807" stop-color="#9933ff" stop-opacity="0.247"/><stop offset="0.3902" stop-color="#9933ff" stop-opacity="0.297"/><stop offset="0.4188" stop-color="#9933ff" stop-opacity="0.844"/><stop offset="0.4236" stop-color="#9933ff" stop-opacity="0.924"/><stop offset="0.4427" stop-color="#7427ff"/><stop offset="0.4618" stop-color="#4b19ff"/><stop offset="0.4713" stop-color="#3612ff"/><stop offset="0.4761" stop-color="#2c0fff"/><stop offset="0.4952" stop-color="#0100ff"/><stop offset="0.5238" stop-color="#003ec1"/><stop offset="0.5501" stop-color="#007e81"/><stop offset="0.5524" stop-color="#00827d"/><stop offset="0.5620" stop-color="#00946b"/><stop offset="0.5811" stop-color="#00b847"/><stop offset="0.5858" stop-color="#00c03f"/><stop offset="0.5954" stop-color="#00d22d"/><stop offset="0.6097" stop-color="#00ed12"/><stop offset="0.6192" stop-color="#00fe01"/><stop offset="0.6336" stop-color="#19ff00"/><stop offset="0.6479" stop-color="#32ff00"/><stop offset="0.6526" stop-color="#3dff00"/><stop offset="0.6717" stop-color="#65ff00"/><stop offset="0.6765" stop-color="#6fff00"/><stop offset="0.6837" stop-color="#7eff00"/><stop offset="0.6932" stop-color="#91ff00"/><stop offset="0.6956" stop-color="#8eff00"/><stop offset="0.7037" stop-color="#83ff00"/><stop offset="0.7075" stop-color="#7dff00"/><stop offset="0.7099" stop-color="#6cff00"/><stop offset="0.7123" stop-color="#5aff00"/><stop offset="0.7180" stop-color="#30ff00"/><stop offset="0.7209" stop-color="#13ff00"/><stop offset="0.7242" stop-color="#00ef10"/><stop offset="0.7256" stop-color="#00e11e"/><stop offset="0.7280" stop-color="#00c738"/><stop offset="0.7314" stop-color="#00a35c"/><stop offset="0.7352" stop-color="#007a85"/><stop offset="0.7361" stop-color="#006c93"/><stop offset="0.7409" stop-color="#0029d6"/><stop offset="0.7443" stop-color="#0301ff"/><stop offset="0.7481" stop-color="#290eff"/><stop offset="0.7519" stop-color="#4f1aff"/><stop offset="0.7590" stop-color="#9933ff" stop-opacity="0.891"/><stop offset="0.7600" stop-color="#9933ff" stop-opacity="0.832"/><stop offset="0.7672" stop-color="#9933ff" stop-opacity="0.386"/><stop offset="0.7686" stop-color="#9933ff" stop-opacity="0.297"/><stop offset="0.7791" stop-color="#9933ff" stop-opacity="0.000"/><stop offset="0.9962" stop-color="#9933ff" stop-opacity="0.000"/><stop offset="0.9986" stop-color="#9933ff" stop-opacity="0.000"/></linearGradient><linearGradient id="t45" gradientUnits="userSpaceOnUse" x1="0" x2="0" y1="797" y2="1376.1"><stop offset="0.0000" stop-color="#9933ff" stop-opacity="0.000"/><stop offset="0.0633" stop-color="#9933ff" stop-opacity="0.000"/><stop offset="0.0638" stop-color="#9933ff" stop-opacity="0.000"/><stop offset="0.3329" stop-color="#9933ff" stop-opacity="0.000"/><stop offset="0.3902" stop-color="#9933ff" stop-opacity="0.300"/><stop offset="0.4188" stop-color="#9933ff" stop-opacity="0.850"/><stop offset="0.4427" stop-color="#7326ff"/><stop offset="0.4713" stop-color="#3612ff"/><stop offset="0.4952" stop-color="#0000ff"/><stop offset="0.5238" stop-color="#0040bf"/><stop offset="0.5501" stop-color="#008080"/><stop offset="0.5811" stop-color="#00b946"/><stop offset="0.6192" stop-color="#00ff00"/><stop offset="0.6479" stop-color="#33ff00"/><stop offset="0.6717" stop-color="#66ff00"/><stop offset="0.6932" stop-color="#93ff00"/><stop offset="0.7075" stop-color="#7fff00"/><stop offset="0.7180" stop-color="#33ff00"/><stop offset="0.7256" stop-color="#00e51a"/><stop offset="0.7352" stop-color="#008080"/><stop offset="0.7443" stop-color="#0000ff"/><stop offset="0.7519" stop-color="#4d1aff"/><stop offset="0.7590" stop-color="#9933ff" stop-opacity="0.900"/><stop offset="0.7686" stop-color="#9933ff" stop-opacity="0.300"/><stop offset="0.7791" stop-color="#9933ff" stop-opacity="0.000"/><stop offset="0.9962" stop-color="#9933ff" stop-opacity="0.000"/><stop offset="0.9986" stop-color="#9933ff" stop-opacity="0.000"/></linearGradient><linearGradient id="b2p" x1="0" x2="0" y1="0" y2="1"><stop offset="0" stop-color="#9933ff" stop-opacity="0"/><stop offset="0.15" stop-color="#9933ff" stop-opacity="0.25"/><stop offset="0.3" stop-color="#9933ff" stop-opacity="0.75"/><stop offset="0.42" stop-color="#9933ff" stop-opacity="1"/><stop offset="0.6" stop-color="#9933ff" stop-opacity="1"/><stop offset="0.72" stop-color="#9933ff" stop-opacity="0.75"/><stop offset="0.87" stop-color="#9933ff" stop-opacity="0.25"/><stop offset="1" stop-color="#9933ff" stop-opacity="0"/></linearGradient><linearGradient id="b2b" x1="0" x2="0" y1="0" y2="1"><stop offset="0" stop-color="#0b04ff" stop-opacity="0"/><stop offset="0.25" stop-color="#0b04ff" stop-opacity="0"/><stop offset="0.42" stop-color="#0b04ff" stop-opacity="0.75"/><stop offset="0.52" stop-color="#0b04ff" stop-opacity="1"/><stop offset="0.62" stop-color="#0b04ff" stop-opacity="0.75"/><stop offset="0.8" stop-color="#0b04ff" stop-opacity="0"/><stop offset="1" stop-color="#0b04ff" stop-opacity="0"/></linearGradient><linearGradient id="m2pg" gradientUnits="userSpaceOnUse" x1="590" x2="1092" y1="0" y2="0"><stop offset="0.0000" stop-color="#fff" stop-opacity="0"/><stop offset="0.0199" stop-color="#fff" stop-opacity="0.2"/><stop offset="0.0498" stop-color="#fff" stop-opacity="0.6"/><stop offset="0.0996" stop-color="#fff" stop-opacity="1"/><stop offset="0.2590" stop-color="#fff" stop-opacity="1"/><stop offset="0.3586" stop-color="#fff" stop-opacity="0.85"/><stop offset="0.4183" stop-color="#fff" stop-opacity="0.6"/><stop offset="0.4542" stop-color="#fff" stop-opacity="0.3"/><stop offset="0.4781" stop-color="#fff" stop-opacity="0.0"/><stop offset="0.5817" stop-color="#fff" stop-opacity="0.0"/><stop offset="0.6076" stop-color="#fff" stop-opacity="0.45"/><stop offset="0.6375" stop-color="#fff" stop-opacity="0.8"/><stop offset="0.7371" stop-color="#fff" stop-opacity="0.9"/><stop offset="0.9841" stop-color="#fff" stop-opacity="1"/><stop offset="0.9843" stop-color="#fff" stop-opacity="0"/></linearGradient><mask id="m2p" maskUnits="userSpaceOnUse" x="590" y="797" width="510" height="579.1"><rect x="590" y="797" width="510" height="579.1" fill="url(#m2pg)"/></mask><linearGradient id="m2bg" gradientUnits="userSpaceOnUse" x1="590" x2="1092" y1="0" y2="0"><stop offset="0.0000" stop-color="#fff" stop-opacity="0"/><stop offset="0.0319" stop-color="#fff" stop-opacity="0.2"/><stop offset="0.0637" stop-color="#fff" stop-opacity="0.6"/><stop offset="0.1096" stop-color="#fff" stop-opacity="1"/><stop offset="0.1992" stop-color="#fff" stop-opacity="0.95"/><stop offset="0.2590" stop-color="#fff" stop-opacity="0.6"/><stop offset="0.3386" stop-color="#fff" stop-opacity="0.3"/><stop offset="0.4183" stop-color="#fff" stop-opacity="0.1"/><stop offset="0.4622" stop-color="#fff" stop-opacity="0.0"/><stop offset="0.5976" stop-color="#fff" stop-opacity="0.0"/><stop offset="0.6773" stop-color="#fff" stop-opacity="0.15"/><stop offset="0.7968" stop-color="#fff" stop-opacity="0.3"/><stop offset="0.8765" stop-color="#fff" stop-opacity="0.7"/><stop offset="0.9163" stop-color="#fff" stop-opacity="1"/><stop offset="0.9841" stop-color="#fff" stop-opacity="1"/><stop offset="0.9843" stop-color="#fff" stop-opacity="0"/></linearGradient><mask id="m2b" maskUnits="userSpaceOnUse" x="590" y="797" width="510" height="579.1"><rect x="590" y="797" width="510" height="579.1" fill="url(#m2bg)"/></mask><linearGradient id="cbv" x1="0" x2="0" y1="1" y2="0"><stop offset="0.0" stop-color="#ffffff"/><stop offset="0.2" stop-color="#9933ff"/><stop offset="0.4" stop-color="#0000ff"/><stop offset="0.6" stop-color="#00ff00"/><stop offset="0.8" stop-color="#ffff00"/><stop offset="1.0" stop-color="#ff0000"/></linearGradient><clipPath id="cp3"><rect x="1544.0" y="192.2" width="784.4" height="245.7"/></clipPath><clipPath id="cp4"><rect x="1544.0" y="463.5" width="784.4" height="244.5"/></clipPath><clipPath id="mclip"><rect x="1434.2" y="794.6" width="944.8" height="472.4" rx="236.2"/></clipPath><clipPath id="land"><path d="M1535.2 858.6L1547.2 851.3L1555.4 849.7L1565.6 846.7L1575.9 843.7L1581.6 844.7L1587.4 845.8L1595.9 846.8L1604.5 847.9L1615.7 849.7L1630.9 847.1L1638.4 848.4L1648.7 848.9L1656.8 852.3L1664.4 852.3L1672 852.3L1680.7 852.3L1689.1 852.9L1698.4 851.8L1701.9 849.7L1708.9 842.4L1710 847.1L1712.7 849.7L1722 848.4L1722.7 851L1731.7 848.4L1727.2 855L1720.6 857.1L1713.5 860.2L1709.9 862.8L1703.7 864.1L1696.1 868.1L1689 876L1691.3 881.2L1697.1 881.2L1701.2 882.5L1707.2 885.4L1712.8 885.9L1712 891.7L1714.2 896.2L1717.3 895.4L1719.9 891.7L1720.4 887.8L1726.5 883.8L1728.8 880.4L1726.7 876.7L1729.1 873.3L1730.4 867.3L1739.4 867.3L1743.1 869.4L1747.2 870.7L1746.5 876L1750.5 878.1L1754.4 876.5L1759.1 872.5L1762.3 877.3L1763.1 882.5L1765.7 885.7L1771 888.3L1774 893.5L1771.7 895.6L1766.7 896.4L1762.5 899.1L1755.3 899.1L1746.9 899.1L1741.2 902.7L1736.6 906.7L1743.6 902.7L1749.9 901.7L1751 904.3L1746.7 905.1L1749.3 907.5L1750.4 910.1L1756.4 910.6L1759.8 908.5L1760.2 910.1L1757.4 911.9L1750.9 913.7L1744.7 916.6L1744.1 914.5L1748.9 911.4L1743.8 912.4L1741.8 913.7L1737.1 915.3L1733.6 916.6L1731.8 919.3L1733.4 921.1L1729.5 922.1L1723.4 923.7L1721.7 927.1L1718.7 929.8L1716 933.7L1715.9 937.9L1712.2 940.3L1709.4 941.8L1705.1 944.7L1700.7 948.1L1699.1 952.1L1701 959.9L1700.4 964.4L1697.8 964.4L1696.2 961.3L1694.9 957.3L1693 952.1L1688.5 952.6L1685 951L1679.8 951.3L1678.6 954.2L1674.3 953.9L1669.4 952.9L1664.6 953.6L1659.8 956.3L1657 959.2L1656.5 963.9L1654 971.8L1654.9 977L1657.5 980.7L1660.6 983L1666.4 982.2L1670.5 980.9L1672.4 975.7L1677.7 974.4L1681.5 974.6L1679.7 979.6L1678.1 982.8L1676.2 988.8L1680 989.3L1685.3 989.1L1689.5 991.4L1688 998L1688 1002.5L1690.7 1006.4L1694.5 1007.7L1698.3 1005.9L1701.7 1006.4L1703.9 1008.2L1702.5 1011.6L1701 1009.3L1698.5 1007.7L1696.3 1009.3L1696.5 1011.4L1693.1 1010.9L1689.2 1009L1686.7 1006.4L1682.6 1004.6L1682 1001.9L1678.2 996.7L1673 995.6L1667.9 994.1L1663 990.1L1660.6 988.3L1655.3 989.6L1649 987.2L1642.8 984.9L1636.7 981.5L1633 977.5L1634.3 974.1L1631.9 969.7L1627.6 964.4L1625.6 961.3L1622.5 957.3L1619.5 953.4L1618.7 948.9L1615 947.3L1614.4 952.1L1617.4 957.3L1620.2 962.6L1622.2 967.3L1624 970.4L1622.3 969.7L1618.4 965.7L1617.8 961.8L1613.7 959.2L1613.3 954.7L1611.6 951.3L1609.5 945.2L1607.1 941.6L1602.4 940.3L1600.7 935L1599.9 931.9L1598.2 927.1L1597.7 924.8L1600.4 917.9L1604.2 909.6L1605 903.8L1608.9 904.3L1609.1 906.7L1610.9 903.5L1609.7 901.4L1606.6 898.8L1601.4 897L1601 893L1599.5 887.8L1598.7 884.4L1596.3 880.4L1592.5 877.3L1589.3 875.2L1585.6 873.9L1577 873.1L1573 870.7L1566.5 873.3L1558.3 875.2L1561.2 871.2L1565.6 869.9L1558.9 871.2L1554 874.6L1550.3 877.3L1543.3 879.9L1537.6 882L1529 885.1L1523 887L1519.3 887.2L1527.2 884.4L1532.5 882.5L1540.2 879.4L1543.9 876.5L1539.6 877L1532.9 876.7L1535.6 873.3L1530.9 872L1531.3 869.4L1535.7 866L1540.7 864.7L1546.1 863.6L1547.8 861L1542.4 861.5L1536.4 861.3ZM1763.4 825.6L1775 822.9L1781.8 820.1L1791.3 816.1L1798.3 815.5L1805.2 814.8L1813.8 814.4L1822.3 814L1834.2 812.2L1841.7 811.8L1849.1 811.4L1855 812.2L1861.1 813L1869.5 815.6L1880.5 816.6L1874.1 820.8L1868.2 826.1L1869.5 830L1865.8 834L1864.2 837.9L1858.5 840.5L1860.1 843.9L1855.4 846.6L1858.5 847.1L1850.4 850.8L1841.5 851.8L1834.7 853.6L1827.2 857.6L1821.5 858.6L1816.4 861.5L1811.8 866.8L1808.2 872.8L1804.6 873.6L1801.7 871.2L1796.3 870.2L1794.1 865.5L1791.2 860.2L1789.1 855L1792.4 849.7L1797.4 847.6L1790.9 845L1792.7 840.5L1790.3 836.6L1788.1 832.7L1781.9 830.8L1771.6 831.3L1766.5 829.8L1767.2 827.1ZM1771.7 855.7L1765.6 860.2L1760.9 864.1L1757.5 867.3L1752.3 866L1745.6 866L1742.7 862L1737.2 861.8L1733.2 860.7L1736.5 858.4L1742.9 858.9L1746.1 854.2L1743 851.6L1738.6 847.6L1731.4 847.1L1725.3 846.6L1718.3 845.8L1717.2 843.2L1720.2 838.7L1729.2 837.1L1739.1 837.6L1745.1 839.7L1750.2 841.8L1755.5 843.7L1760.6 846.3L1762.2 849.7L1761.7 851.8L1767.1 853.6ZM1680 850.2L1671 850.8L1661.3 850.8L1657.1 849.2L1656.6 845.8L1663 843.2L1659 840.5L1665.8 838.7L1675.7 839.2L1680.3 841.3L1688.2 839.2L1689.9 842.4L1690.8 847.1L1686.3 848.9ZM1644.2 841.8L1650.8 837.1L1658.5 835.5L1665 838.4L1656.1 842.6L1646.5 843.9ZM1726.3 830L1737.9 830.6L1745.9 830.6L1753.2 827.4L1758.7 824L1772.3 821.4L1781.8 818.7L1792.5 814.5L1782.9 813L1776.8 813L1770.7 813L1764.7 813L1757.7 813.8L1750.6 814.7L1743.5 815.6L1734.6 818.7L1740.9 820.1L1741.6 823.5L1734 825.6ZM1719.1 834L1730.4 835.3L1743.1 834.8L1744 831.9L1737.2 830.8L1730.5 829.8L1722.1 830.3ZM1668.2 834L1674.7 834.6L1681.3 835.3L1690.6 834L1695.7 830.6L1686.5 829.8L1673.7 830.6ZM1718.3 825.6L1730.3 825.3L1740.4 821.6L1736.2 819L1725.6 820.1ZM1705.6 841.1L1713.4 841.8L1718.8 838.7L1715.5 836.1L1708.3 837.4L1697.2 838.4L1692.8 841.3L1699.9 843.2ZM1712.2 862.8L1718 864.7L1725.1 863.9L1725.1 861.5L1721.6 859.4L1718 857.8L1714.3 860.7ZM1762.8 905.6L1770.3 908L1777.6 908.2L1778.5 905.9L1777.8 903L1772.7 899.6L1774 895.6L1769.6 897.5L1765.4 902.2ZM1686.8 973.6L1692.4 970.4L1698.9 970.2L1706.3 973.3L1711.1 976.2L1714.4 977.8L1705.7 978.6L1704.6 976.7L1699.7 973.8L1694.8 972L1690.8 972.8ZM1713.4 982.2L1717.4 978.6L1725.1 978.8L1729 982L1723.5 983L1719.6 983.3ZM1703.3 982.5L1708.4 983L1706.5 984.1L1703.4 983.6ZM1732.1 982.2L1736 982.5L1735.7 983.6L1732 983.6ZM1703.9 1008.2L1705.5 1007.7L1708.9 1003L1711 1001.7L1715.8 1001.1L1719.3 998.3L1720.3 1000.1L1718.6 1001.9L1719.5 1005.6L1720.9 1003.2L1723.7 1000.4L1728 1003L1734 1003L1737.9 1004L1744.5 1002.7L1745.7 1004.6L1748.2 1008.5L1752 1010.6L1755.9 1014.5L1762.4 1015.3L1768.9 1017.2L1772 1019.8L1774.1 1026.1L1775.4 1029.5L1772.8 1032.1L1779.3 1032.9L1781.9 1032.4L1789.8 1036.8L1793.8 1037.4L1801.6 1038.4L1806.9 1041.3L1810.9 1044.2L1814.3 1045.2L1815.2 1050.5L1814.2 1055.2L1809.9 1060.5L1806.1 1064.9L1805 1071.5L1804.7 1077.5L1802.9 1082.8L1800.6 1088L1798.2 1090.9L1794.3 1091.2L1790.6 1092.7L1786.1 1094.8L1782.5 1098L1781.8 1103L1780.7 1106.9L1777.4 1112.2L1774.2 1116.1L1771.4 1120L1767.9 1122.4L1764.1 1121.9L1759.3 1120L1762.6 1124L1763.4 1126.6L1762.3 1131.1L1758.1 1132.6L1751.9 1133.2L1752 1137.9L1745.8 1137.9L1745.9 1141L1749.3 1142.3L1746 1144.4L1746 1148.9L1742 1151L1742.3 1153.4L1746.7 1155.7L1743.9 1159.9L1741.4 1162.5L1741.8 1166L1743.9 1168.3L1741.4 1168.8L1739.1 1171.5L1744.5 1169.6L1745.8 1172L1750 1174.1L1753.2 1174.6L1749.2 1175.7L1744.7 1176.2L1738.1 1173.8L1732.2 1169.9L1727.9 1166L1724.4 1159.4L1722.3 1153.4L1724.3 1149.4L1725.2 1145L1723.9 1140.2L1723.5 1134.5L1722.1 1128.7L1723.8 1124L1725.2 1118.7L1724.9 1113.5L1724.4 1108.2L1725.1 1101.7L1725.1 1095.1L1725 1087.2L1724.1 1079.1L1720.7 1076.2L1715.3 1073.3L1710.4 1070.2L1707.5 1067L1704.9 1062.3L1702 1057L1699.7 1051.8L1697.2 1048.6L1694 1046.5L1693.4 1042.6L1695.9 1039.7L1696.9 1037.4L1694.3 1036.6L1695.1 1032.9L1696.6 1030.3L1696.6 1028.4L1699.8 1027.1L1700.6 1024L1703.6 1021.1L1703.9 1017.7L1703.5 1013.7L1702.5 1011.6ZM1891.8 936.8L1896.5 938.4L1901.6 938.7L1906.6 936.8L1910.4 935L1914.1 934L1920.4 934.2L1925.4 933.7L1931.2 932.9L1934.2 933.7L1933.3 936.8L1932.4 940.8L1935 943.4L1939.5 944.5L1945.2 946L1949.9 949.4L1955 951.3L1957.5 949.4L1957.3 945.5L1962.3 944.5L1967.5 946.8L1970.9 947.9L1976.5 948.9L1980.4 949.7L1985.4 948.1L1988.7 948.9L1993.6 948.7L1995.7 953.4L1994.6 957.3L1994.2 957.8L1992.3 956.5L1989.7 952.3L1989.3 953.1L1991.6 957.3L1993.9 961.3L1996.7 965.7L1998.4 968.3L2002 973.1L2002.9 976.5L2003.4 980.9L2006.6 983.6L2008.7 988.8L2010.8 991.4L2014 992.7L2017.5 995.9L2019.4 998L2019.8 1000.6L2023 1003.2L2026.9 1002.5L2032.1 1001.4L2040.4 999.8L2039.5 1005.9L2036.3 1012.4L2032.5 1019L2027.3 1024.8L2022.1 1028.2L2018.1 1032.9L2015 1036L2012.1 1038.7L2009.4 1043.4L2008.3 1047.1L2010.1 1049.2L2009.7 1055.7L2012.5 1059.7L2012.6 1064.9L2012.7 1070.2L2009.4 1074.1L2002.7 1078L1998.1 1082.8L1996.7 1085.9L1998.3 1089.8L1997.8 1093.8L1994.1 1096.4L1991.1 1099L1990.3 1104.3L1987.8 1107.4L1985.1 1110.3L1981.5 1114.3L1977 1117.7L1971.5 1120L1966 1120L1962.2 1120.6L1957 1122.1L1953.1 1120.6L1952.8 1116.1L1951.9 1112.2L1949 1105.9L1945.6 1100.9L1944.7 1095.1L1943.8 1089.8L1941.6 1084.6L1938.3 1078L1937.3 1072.8L1939.2 1067.5L1941.9 1063.6L1942.7 1058.9L1940.6 1053.1L1938.8 1046.8L1938.6 1043.9L1935.5 1040.8L1931.8 1036.6L1929.7 1032.9L1931.3 1029.5L1932.3 1024.2L1931.8 1020.6L1929.2 1019L1925 1019.3L1921.8 1019L1919.7 1015.6L1918.1 1014.3L1913.2 1014.3L1909.2 1015.3L1905.3 1016.9L1901.4 1018.2L1897.4 1017.2L1893.5 1017.4L1886.9 1019.3L1883 1017.2L1878.6 1013.7L1876.5 1012.4L1873.3 1009.8L1872 1007.2L1868.7 1003.2L1867.4 1001.9L1863 998.5L1862.8 995.4L1861 992.2L1862.8 989.6L1864.2 984.9L1864.8 980.9L1863.9 977L1862.6 975.7L1864.8 970.4L1868 965.7L1869.4 962L1872.8 958.4L1877.2 956L1881.1 953.4L1881.9 948.9L1883.8 945.5L1887.6 942.6L1890.2 940.3ZM2035.4 1062.3L2037.7 1068.9L2038.1 1072.3L2035.9 1075.4L2034.6 1079.4L2032.1 1085.9L2030 1091.2L2027.5 1096.4L2023.6 1097.7L2019.8 1095.9L2018.9 1091.2L2018.5 1088L2021.4 1083.8L2021.8 1080.1L2020.7 1076.2L2023.8 1072.8L2027.7 1072L2031.2 1068.9L2033.2 1065.4ZM1884 933.7L1884.6 930.3L1882.9 929L1884.7 924.5L1884.8 921.1L1883.7 917.9L1886.9 916.1L1893.1 916.4L1898 916.6L1902.2 916.9L1903.7 913.7L1903.7 910.1L1901.3 907.5L1896.2 905.4L1895.2 903.8L1899.4 902.7L1902.7 903L1902.3 900.4L1904.2 901.2L1907.1 900.9L1910.2 899.1L1910.7 897.2L1915 895.6L1916.6 893.8L1918 891.7L1920.8 890.7L1923.6 890.1L1926.7 889.9L1927.6 888.3L1926.6 885.9L1925.5 883.8L1925.7 881.2L1928.7 880.7L1931 879.4L1930.9 882.3L1932.1 883L1930.1 885.1L1929.4 886.7L1932.1 888.3L1933.8 889.1L1936.1 888L1940.2 889.3L1944.3 888.3L1947.8 887L1950.7 887.8L1953.3 887.8L1955.9 885.9L1955.6 882L1956.7 879.9L1959 879.4L1960.8 881.2L1963.1 880.7L1963 877.8L1960.8 876.7L1960.7 875.4L1965.1 874.4L1970.9 874.6L1974.2 873.3L1971.6 871.8L1967.2 872.3L1963.8 872.8L1959.1 873.6L1955.4 871.8L1954.9 868.6L1955 865.5L1956.9 863.4L1961.1 860.7L1962.7 859.7L1960.9 858.1L1955.8 858.1L1953.7 860.7L1953.1 862.8L1949.3 864.9L1946.8 867.6L1945.8 870.7L1946.1 872L1949.7 873.9L1948.1 876L1945.3 878.6L1945 881.2L1944 883.3L1940.7 883.6L1940.1 885.1L1936.9 885.4L1936.3 883.3L1934 879.9L1932.5 877L1930.7 874.6L1928.5 876.2L1925.1 878.3L1922.1 878.6L1919.3 876.5L1918.1 873.3L1918 869.4L1918.6 867.6L1922.4 865.7L1925.7 864.1L1928.9 862.8L1932.1 860.2L1934.2 857.6L1936.1 854.4L1938.7 852.3L1941.8 850.2L1944.8 848.7L1948.3 847.1L1952.5 846.6L1956.5 845L1961 844.2L1966.3 844.5L1972.7 846.3L1970.4 847.6L1975.1 847.6L1978.6 848.9L1985.2 849.7L1990 851.6L1994.9 853.6L1997 856L1994.7 857.3L1990.3 857.3L1983.4 856L1979 855.7L1982.8 858.1L1984.2 861.8L1988.2 863.1L1991.4 862L1996.1 861.3L1995.8 858.9L1999.4 856.5L2003.5 857.1L2003.1 854.2L2001.4 851.3L2006.3 851.8L2008.4 855L2011.1 853.1L2016.1 851.8L2022.2 850.5L2027.7 851L2032.7 849.7L2036.1 847.6L2038.1 850L2044.3 849.2L2048.8 849.7L2053.8 851.3L2055.4 850L2050.9 848.1L2048.5 845.3L2050.5 842.9L2051 839.7L2055.2 839L2058.4 840.3L2059.9 843.2L2059.8 845.8L2063.3 850.2L2066.7 852.9L2065 856.8L2068.7 855.2L2068.8 851.8L2064.7 847.1L2062.3 842.4L2064.7 841.1L2069.3 841.8L2071 841.1L2077 842.4L2073.4 838.2L2080.1 837.4L2084.7 836.6L2083.9 834L2089.8 832.4L2097.8 831.1L2106.9 830L2109.7 827.7L2112.5 826.9L2117.9 827.9L2122.5 829.5L2131 830L2136.8 832.4L2136.3 834.5L2133.1 836.6L2139.8 837.1L2145.2 837.4L2152.6 838.7L2160.9 837.6L2168.9 838.4L2174.6 840L2180.5 843.9L2185.7 845L2186.9 842.9L2193.4 843.2L2198.5 842.9L2198.9 840.3L2205.1 840.3L2213.3 841.1L2222.7 842.9L2230 844.7L2236.8 844.2L2244.1 845L2249.4 847.9L2254.7 847.9L2260.7 848.4L2266.2 847.6L2273.7 849.5L2272 847.1L2279.1 847.6L2286.1 848.1L2294.5 849.8L2305.9 859.9L2303.9 861.3L2301.4 861L2306.8 864.1L2310.9 866.5L2306 866.8L2302 868.6L2298.5 871L2296.6 873.3L2290.9 872.8L2287.2 873.9L2283.6 873.6L2283.5 877.3L2282.6 879.1L2288 883.3L2287.8 887L2286.4 891.2L2284.3 894.3L2281.9 897L2277.1 893L2274.2 887.8L2269.7 882.5L2270.3 879.4L2273.2 878.1L2274.6 874.4L2276.5 872.3L2278.2 869.9L2276.7 866.8L2274.2 869.1L2269.2 868.6L2264 869.1L2261.6 873.3L2261.8 875.2L2256.7 876L2249.8 874.4L2242.3 875.2L2235.4 875.2L2232.2 877.3L2230.8 880.4L2229.3 884.4L2225 887L2231.4 889.1L2234.5 889.6L2239.2 891.2L2242.5 893.3L2243.1 897L2245.6 902.2L2243.9 906.1L2243 909.3L2240.8 912.7L2238.7 916.4L2234.7 918.5L2230.5 917.4L2229.5 919.8L2228.1 921.9L2228.5 923.7L2224.5 926.3L2224.5 927.9L2227.8 930.3L2231.2 933.7L2232.4 936.8L2231.7 938.7L2229 939.5L2226 940.5L2224.5 936.3L2224.7 933.7L2222 931.6L2219.5 931.6L2218.9 927.4L2215.9 926.1L2212 927.7L2209.3 928.7L2209.7 924.5L2206.8 923.5L2204.1 926.3L2200.8 927.9L2200.7 929.8L2204.1 932.1L2208.7 931.6L2213.3 932.6L2210.4 934.7L2209.1 936.3L2207.4 938.9L2210.5 941L2212.7 944.7L2216 947.6L2215.3 950.8L2217.6 952.1L2217.5 956L2215.5 959.4L2214.2 963.1L2211.7 966.2L2208.3 969.1L2204.8 971.2L2201.6 972.3L2197.5 973.6L2193.7 974.4L2192.6 977.3L2191.1 977.5L2190.3 974.4L2186.7 974.1L2183.5 975.7L2181.3 978.6L2180.9 981.5L2183.4 984.9L2186.9 988L2190 990.4L2191.8 995.4L2192 1000.1L2189 1002.5L2185.7 1003.5L2185.3 1005.9L2181.5 1008.2L2180.8 1005.1L2179.9 1003.2L2175.9 1001.9L2175.2 999.8L2172.4 997.5L2170.1 997.5L2168.9 995.4L2167.6 995.9L2167.9 999.3L2166 1002.7L2166.5 1006.1L2168.5 1008.5L2169.9 1011.6L2172.6 1013L2175.3 1014.8L2177.8 1018.2L2178.1 1021.6L2179.5 1025L2180.1 1027.1L2178.2 1027.4L2175.6 1025.6L2172.4 1023.5L2170.5 1020.3L2169.6 1016.4L2169.2 1013.7L2166.8 1011.1L2164.3 1010.1L2163.9 1007.2L2164.7 1003.2L2164.5 999.3L2162.8 994.6L2161.2 990.9L2160.6 987.5L2157.7 987.5L2155.3 989.3L2152.1 988.8L2152.2 984.9L2150.6 981.5L2149 978.8L2145.6 976.2L2143.8 972.3L2140.9 971.8L2140.1 973.6L2136.7 973.6L2134.2 974.1L2131.7 974.9L2131.4 977L2129.5 978.6L2127.1 979.9L2123.5 983.6L2120.7 987.2L2117.5 989.1L2115.6 990.9L2115.6 995.4L2116.2 996.7L2115.4 999.3L2115.3 1003.8L2113.6 1006.1L2111.3 1007.4L2109.6 1009.5L2106.9 1007.2L2105.9 1004L2103.1 999.3L2101.5 995.4L2099.5 991.4L2097.6 988L2096.2 983.6L2095.5 980.4L2095 975.7L2094.1 973.8L2093.5 975.7L2090.4 976.5L2087.8 976.2L2084.9 972.5L2087.8 970.4L2083.6 969.9L2080.6 968.1L2079 965.7L2077.6 964.1L2072.5 964.4L2064.8 964.9L2058.3 964.1L2053.8 963.4L2052.2 959.9L2047.7 960.7L2043.8 960.7L2039.8 958.4L2037 956L2034.6 952.1L2031.4 951L2029 952.6L2029.8 955.2L2031.5 957.8L2034.9 960.7L2035.6 963.4L2037.3 965.7L2038.2 963.1L2039.2 962.8L2039.5 966.5L2041.8 967.3L2045.7 967.3L2049.3 964.1L2050.9 962L2052.1 966.5L2054.8 968.3L2058 968.9L2061.1 971.8L2058.6 976.5L2056.3 980.9L2053.4 983.6L2050.1 984.9L2042.5 988.8L2036.9 991.4L2033.6 994.1L2029.3 995.9L2024.1 997.2L2020.2 997.5L2018.8 994.6L2018.2 992L2017.7 987.8L2014.4 983.6L2011.6 979.1L2008 974.9L2006 970.4L2002.4 966.5L2000.4 962.6L1996.7 957.3L1995.7 953.4L1993.6 948.7L1994.7 946.3L1995.3 944.7L1996.5 941L1997 937.9L1997.1 936.1L1997.5 934.5L1995.2 934.7L1992 935.5L1988.3 936.1L1984.4 934.2L1982.7 935.5L1979.4 935L1976.9 934.5L1975.1 933.7L1974.2 931.6L1972.3 930.3L1973.7 928.7L1973.1 927.1L1971.9 927.1L1971.7 925L1971.1 923.7L1967.4 923.5L1965.8 925L1963.5 924.5L1963.2 927.1L1964.7 928.4L1966.6 930.5L1966.7 931.9L1964.7 931.9L1964.9 935L1963.1 935L1961.1 934.2L1959.7 931.6L1959 929L1956.4 926.6L1954.8 924.5L1954.8 921.1L1952.3 919.3L1948.5 917.4L1944.7 915.3L1942.8 912.7L1940.9 912.2L1940.1 911.1L1936.7 911.9L1937 914.8L1940.1 916.6L1941.7 919.5L1944.9 920.6L1946.7 920.8L1948.8 923.2L1952.3 925L1952.2 926.3L1948.8 924.5L1947.9 926.6L1949.3 928.4L1947.8 930L1945.9 931.2L1946.5 928.4L1945.4 925.8L1942.6 924.2L1938.8 922.4L1936.8 921.1L1933.8 919.3L1932.2 917.9L1931.7 915.6L1928.4 914.3L1925 915.8L1922.6 917.7L1918.9 916.9L1916.4 916.6L1914.2 917.7L1914.5 920L1912.1 922.1L1908.6 923.7L1906.1 926.9L1907.1 929L1905.1 931.1L1904.1 932.1L1901.6 934.2L1895.6 934.5L1893.3 936.1L1890.8 934.7L1888.5 933.2L1886.5 933.7ZM1518.7 849.8L1522 851.6L1525.1 853.6L1530.2 855L1532.1 857.3L1528.3 858.9L1522.4 861.5L1517.6 860.7L1517.3 858.9L1512 858.6L1509 859.4L1507.3 859.9ZM1892.9 899.6L1898.2 898.8L1904.2 897.7L1909.9 896.4L1910.6 892.5L1907.3 891.7L1907.1 890.1L1906.1 888.6L1903.1 886.5L1901.9 883.8L1900.1 882.8L1902 879.6L1897.3 879.4L1899.2 877L1895.1 877L1893.1 879.9L1892.1 882.5L1894.4 885.1L1895.1 887L1898.6 886.7L1899.5 890.4L1895.9 890.9L1896.4 893.5L1894.2 894.9L1899 895.9L1896.3 896.7ZM1882.7 895.4L1887.5 895.4L1891.6 893.8L1892.4 890.4L1893.6 887.8L1891.8 885.9L1887.3 885.9L1883 888.6L1883.4 890.9L1882.1 893.8ZM1853.5 858.9L1858.2 856.5L1862.4 858.6L1867 857.1L1874.2 857.1L1876.4 860.2L1873.1 862L1864.4 864.4L1856.3 863.1L1857.7 860.7ZM1927.8 822.2L1937.2 820.8L1948.4 819.8L1958.3 820.8L1947.6 824.8L1940.6 829.5L1934.3 827.4L1928.1 824.8ZM2015.2 843.2L2024.5 845.3L2027.9 843.2L2022.2 839.7L2022.9 836.6L2028.2 832.7L2035.1 830.6L2043.2 829L2040 832.1L2031.6 835.3L2026.6 837.9L2019.8 841.3ZM2092.9 823.5L2102.5 825.3L2108.5 823.5L2097.5 818.7L2088.9 819.5ZM2184.2 832.7L2190.7 831.3L2200.4 832.7L2212.2 834L2205.7 835.3L2202.5 837.9L2194.9 836.6ZM1994.2 820.1L2003 820.5L2011.8 820.8L2017.9 819.8L2023.8 818.7L2014.6 816.4L2007.8 817.3L2000.8 818.2ZM2284.1 843.9L2286.3 843.2L2288.6 845L2286.5 845ZM2241.5 888.3L2247.1 893L2251 899.6L2255.3 902.2L2254.3 907.5L2256 909.6L2253.1 910.1L2250.6 904.8L2246 897ZM2254.1 921.9L2255.3 919.5L2261 920.6L2264.9 917.2L2262.6 914.8L2253.7 911.4L2254.8 916.6L2252.4 917.9ZM2256.7 922.1L2260.1 927.1L2259.3 931.1L2260.7 936.3L2259.6 938.9L2258.5 938.2L2256.8 939.7L2252.3 940L2250.7 942.9L2247.9 940.3L2242.5 940.8L2237.7 941.6L2237.1 940.5L2240.2 937.6L2247.7 937.4L2249.6 933.2L2253.6 932.4L2255.4 928.4L2254.4 924.5ZM2235.5 942.9L2239.8 942.9L2240.5 948.1L2238.5 948.9L2235.6 945ZM2241.6 942.1L2246.3 941L2245.8 943.4L2243.6 944.7L2242 944.2ZM2219.1 964.7L2220.7 966.5L2218.8 973.1L2216.6 970.4L2216.9 966.5ZM2188.6 980.1L2192.9 978L2194.4 979.4L2191 983ZM2219.8 988.8L2219.7 982.2L2223.9 982.5L2224.2 988.8L2224 993.3L2230.1 997.2L2226.2 994.6L2221.2 994.3L2219.9 992ZM2226.3 1012.4L2230 1008.2L2235 1005.3L2238 1011.1L2235.6 1015.8L2231.6 1013.7ZM2225.4 999.8L2234.4 998L2234.9 1004L2228.5 1005.9L2225.7 1003.2ZM2213.5 1009L2219 1001.1L2219.9 1003.2L2215.1 1009ZM2193.2 1025.6L2197.9 1026.9L2198.9 1024.2L2203.1 1022.4L2208.2 1017.7L2212.4 1012.7L2215.1 1013.7L2218.6 1017.2L2216.1 1019.5L2215.7 1024.2L2218.9 1028.2L2215 1032.1L2212.3 1036.6L2210.9 1040.8L2207.5 1041.3L2204.4 1039.5L2199.9 1040L2195.7 1038.1L2195.3 1034.2L2192.7 1030.3ZM2156.5 1016.1L2162.3 1017.2L2169 1024.2L2178.2 1032.6L2180.8 1036L2184.7 1038.7L2184 1046L2180.6 1046L2174.9 1041.3L2170.3 1034.2L2165.6 1026.3L2161.1 1022.1ZM2182.3 1048.6L2185 1046.5L2191 1047.9L2197.5 1047.9L2201.9 1049.2L2206.5 1051.3L2206.1 1053.4L2197.3 1052.6L2189.5 1051.3L2185.4 1050.2ZM2221 1030.3L2223.6 1027.4L2229.4 1028.4L2234.6 1026.9L2233.3 1029.8L2225.5 1029.5L2222.1 1033.2L2225.5 1033.4L2230.2 1032.9L2226.7 1036L2228.7 1041.3L2227.8 1045L2225.3 1043.1L2224.1 1038.1L2222.2 1038.7L2222.3 1045.2L2219.9 1045.2L2219.6 1040L2218.3 1038.1L2221 1032.1ZM2210.4 1052.6L2218.2 1052.6L2228.7 1052.6L2234 1052.6L2239.2 1052.8L2233.7 1055.7L2229.7 1057.8L2223.4 1054.4L2218 1056.3L2210.3 1054.4ZM2241.2 1025.6L2243.8 1026.9L2243.8 1032.1L2241.5 1030.8ZM2242.4 1038.7L2249.8 1038.7L2248.9 1040.5L2242.4 1040.2ZM2250.4 1032.9L2254.3 1031.8L2258.3 1032.9L2258.7 1037.4L2260.8 1039.5L2264.8 1036.6L2268.7 1035.3L2276.6 1037.6L2285.7 1041L2288.9 1044.7L2294 1047.9L2291.3 1049.2L2294.2 1051.8L2300.8 1057.8L2293.8 1057.6L2288.9 1053.9L2283.8 1051L2280.9 1054.9L2275.7 1054.7L2270.7 1051.8L2268 1052.8L2269.5 1049.2L2268.4 1045.2L2262 1042.3L2256.8 1041.3L2255 1038.1L2258.2 1037.1L2253 1036.6ZM2295.4 1045.2L2301.2 1045.2L2305.8 1041.8L2305.1 1045.2L2299.8 1047.3L2295.6 1046.5ZM2200 1088.5L2199.9 1099L2197.5 1099.6L2199.4 1105.6L2199.5 1110.8L2200.3 1114.8L2197 1120.8L2200.3 1122.7L2204.1 1122.7L2209.9 1120L2218.8 1119.8L2222 1117.4L2226.3 1115.6L2234.3 1114L2239.5 1113.5L2245.4 1115.3L2248.4 1122.1L2251.6 1120L2255.6 1116.6L2253.8 1123.2L2256.2 1121.3L2257.4 1125.3L2258.1 1130.5L2264.8 1132.6L2269.1 1131.3L2271.6 1133.2L2277 1130.3L2282.6 1128.7L2286.8 1122.7L2289.1 1119.5L2294.9 1113.5L2299.1 1105.6L2299.9 1097.7L2296 1092.5L2292.9 1089.1L2291.5 1083.3L2286.3 1080.4L2285.2 1074.1L2285.1 1069.6L2281.3 1068.3L2280.7 1063.1L2279.2 1059.1L2276.6 1064.4L2275.6 1070.2L2272.6 1076.7L2269.2 1076.7L2265.4 1072.8L2260.5 1070.2L2261.6 1065.7L2264.5 1062.8L2260.6 1062.3L2254.2 1061L2249.3 1062.8L2246 1064.9L2244.2 1069.6L2240.8 1069.6L2237.9 1067L2233.1 1070.2L2230.1 1073.6L2224.4 1075.9L2224.1 1078L2220.4 1082L2213.6 1084.1L2208.3 1084.9L2202.6 1088ZM2265.8 1137.6L2274.4 1137.9L2273.1 1141.6L2269.8 1144.4L2265.8 1145.2L2265.3 1141.8ZM2342.6 1121.1L2345.5 1124L2347.3 1126.9L2347.4 1129.5L2353.5 1129.7L2347.8 1133.9L2347.2 1135.3L2340.6 1140L2339.8 1139.2L2342 1135.8L2339.8 1133.9L2343.7 1130.5L2344.4 1126.6ZM2335.6 1137.1L2338 1139.7L2333 1143.7L2330.7 1145.8L2325.3 1148.9L2322.6 1151.5L2318.1 1153.1L2313.8 1152L2313.6 1150.2L2320.6 1146.3L2328.8 1142.3L2333.2 1138.4ZM2115.9 1005.3L2119.2 1008.5L2121 1012.4L2118.9 1014.8L2116.3 1015.1L2115.4 1009.8ZM2331.5 1083.8L2338 1089.3L2336.7 1089.6L2331.2 1085.1ZM1927.9 922.1L1930.1 921.9L1930 917.9L1928.1 919.3ZM1927.1 928.4L1930.5 927.9L1930.7 923.2L1927.2 923.7ZM1937.9 931.1L1945.6 930.5L1944.5 934.5L1938.2 932.1ZM1966 937.6L1972.9 938.4L1972.7 938.9L1966.1 938.4ZM1988 938.9L1993.5 937.4L1992.3 939.2L1989.4 940ZM1760.7 1165.2L1768 1165.7L1767.3 1167.8L1761.2 1167.3ZM1816.8 1172.5L1821.7 1173.3L1821.9 1174.6L1817 1173.6ZM2072.7 1158.9L2076.7 1159.4L2075 1161.2L2072.8 1160.7ZM1502.4 977.8L1504.8 978.8L1503.1 980.9L1502 979.6ZM1553.5 1236L1560.3 1236.2L1567.2 1236.4L1574 1236.6L1579.9 1236.2L1585.9 1235.9L1591.9 1235.5L1597.8 1234.2L1603.9 1232.9L1610.7 1228.9L1617.7 1228L1624.8 1227.1L1632.1 1226.3L1639.5 1225.5L1647.9 1223.7L1655.8 1224.4L1663.6 1225L1672.5 1225.7L1681.3 1226.3L1686.7 1224.4L1692.4 1222.4L1697 1220.3L1709 1222.4L1719.1 1221.9L1730.3 1223.2L1740.2 1222.4L1747 1219.8L1756.1 1221.1L1761.1 1218.4L1760.7 1213.2L1761.6 1207.9L1763.9 1202.7L1768.3 1199.6L1775.3 1196.9L1779 1198L1775.5 1200.9L1772.1 1204L1767.8 1207.2L1766 1210.6L1773 1214.5L1778.5 1219.8L1781 1225L1776.9 1228.9L1766.4 1231.6L1758.1 1234.2L1766 1235.5L1773.7 1236.8L1780 1236.4L1786.2 1235.9L1792.5 1235.5L1800.4 1235.5L1808.3 1235.5L1816.1 1235.5L1824 1235.5L1835.3 1234.2L1846.1 1230.3L1853.6 1227.6L1865.2 1223.7L1875.3 1221.1L1885.4 1217.1L1896 1216.1L1906.6 1214.5L1917.3 1214.5L1928 1214.5L1938.7 1213.7L1949.3 1214.5L1960 1214.5L1971 1213.2L1977.8 1211.4L1986.3 1211.9L1993.1 1210.6L2004.7 1207.9L2016.4 1205.3L2027.8 1204L2033.5 1206.6L2041.8 1207.9L2050.2 1208.7L2058 1210.6L2060.7 1214L2065 1214L2072.5 1211.9L2080.6 1208.7L2092.9 1206.1L2104.3 1205.3L2115.6 1204.8L2127 1204L2137.7 1204.5L2149.1 1204L2159.2 1205.3L2169.6 1206.1L2181.6 1204.8L2192.6 1204.8L2204.2 1204L2213.4 1206.1L2223.2 1207.4L2231.1 1210.6L2239.8 1212.7L2248.5 1214.5L2256.8 1216.6L2264.2 1219.2L2258.4 1223.7L2243 1228.9L2231.2 1234.2L2236.2 1236L2243.5 1235.8L2250.8 1235.5L2259.7 1236L2239.4 1246.4L2211.9 1256.7L2142.8 1267L2136.3 1267L2129.9 1267L2123.4 1267L2116.9 1267L2110.4 1267L2104 1267L2097.5 1267L2091 1267L2084.6 1267L2078.1 1267L2071.6 1267L2065.1 1267L2058.7 1267L2052.2 1267L2045.7 1267L2039.3 1267L2032.8 1267L2026.3 1267L2019.8 1267L2013.4 1267L2006.9 1267L2000.4 1267L1994 1267L1987.5 1267L1981 1267L1974.5 1267L1968.1 1267L1961.6 1267L1955.1 1267L1948.7 1267L1942.2 1267L1935.7 1267L1929.2 1267L1922.8 1267L1916.3 1267L1909.8 1267L1903.4 1267L1896.9 1267L1890.4 1267L1884 1267L1877.5 1267L1871 1267L1864.5 1267L1858.1 1267L1851.6 1267L1845.1 1267L1838.7 1267L1832.2 1267L1825.7 1267L1819.2 1267L1812.8 1267L1806.3 1267L1799.8 1267L1793.4 1267L1786.9 1267L1780.4 1267L1773.9 1267L1767.5 1267L1761 1267L1754.5 1267L1748.1 1267L1741.6 1267L1735.1 1267L1728.6 1267L1722.2 1267L1715.7 1267L1709.2 1267L1702.8 1267L1696.3 1267L1689.8 1267L1683.3 1267L1676.9 1267L1670.4 1267L1601.3 1256.7L1573.8 1246.4Z"/></clipPath><clipPath id="iceclip"><path d="M1553.5 1236L1560.3 1236.2L1567.2 1236.4L1574 1236.6L1579.9 1236.2L1585.9 1235.9L1591.9 1235.5L1597.8 1234.2L1603.9 1232.9L1610.7 1228.9L1617.7 1228L1624.8 1227.1L1632.1 1226.3L1639.5 1225.5L1647.9 1223.7L1655.8 1224.4L1663.6 1225L1672.5 1225.7L1681.3 1226.3L1686.7 1224.4L1692.4 1222.4L1697 1220.3L1709 1222.4L1719.1 1221.9L1730.3 1223.2L1740.2 1222.4L1747 1219.8L1756.1 1221.1L1761.1 1218.4L1760.7 1213.2L1761.6 1207.9L1763.9 1202.7L1768.3 1199.6L1775.3 1196.9L1779 1198L1775.5 1200.9L1772.1 1204L1767.8 1207.2L1766 1210.6L1773 1214.5L1778.5 1219.8L1781 1225L1776.9 1228.9L1766.4 1231.6L1758.1 1234.2L1766 1235.5L1773.7 1236.8L1780 1236.4L1786.2 1235.9L1792.5 1235.5L1800.4 1235.5L1808.3 1235.5L1816.1 1235.5L1824 1235.5L1835.3 1234.2L1846.1 1230.3L1853.6 1227.6L1865.2 1223.7L1875.3 1221.1L1885.4 1217.1L1896 1216.1L1906.6 1214.5L1917.3 1214.5L1928 1214.5L1938.7 1213.7L1949.3 1214.5L1960 1214.5L1971 1213.2L1977.8 1211.4L1986.3 1211.9L1993.1 1210.6L2004.7 1207.9L2016.4 1205.3L2027.8 1204L2033.5 1206.6L2041.8 1207.9L2050.2 1208.7L2058 1210.6L2060.7 1214L2065 1214L2072.5 1211.9L2080.6 1208.7L2092.9 1206.1L2104.3 1205.3L2115.6 1204.8L2127 1204L2137.7 1204.5L2149.1 1204L2159.2 1205.3L2169.6 1206.1L2181.6 1204.8L2192.6 1204.8L2204.2 1204L2213.4 1206.1L2223.2 1207.4L2231.1 1210.6L2239.8 1212.7L2248.5 1214.5L2256.8 1216.6L2264.2 1219.2L2258.4 1223.7L2243 1228.9L2231.2 1234.2L2236.2 1236L2243.5 1235.8L2250.8 1235.5L2259.7 1236L2239.4 1246.4L2211.9 1256.7L2142.8 1267L2136.3 1267L2129.9 1267L2123.4 1267L2116.9 1267L2110.4 1267L2104 1267L2097.5 1267L2091 1267L2084.6 1267L2078.1 1267L2071.6 1267L2065.1 1267L2058.7 1267L2052.2 1267L2045.7 1267L2039.3 1267L2032.8 1267L2026.3 1267L2019.8 1267L2013.4 1267L2006.9 1267L2000.4 1267L1994 1267L1987.5 1267L1981 1267L1974.5 1267L1968.1 1267L1961.6 1267L1955.1 1267L1948.7 1267L1942.2 1267L1935.7 1267L1929.2 1267L1922.8 1267L1916.3 1267L1909.8 1267L1903.4 1267L1896.9 1267L1890.4 1267L1884 1267L1877.5 1267L1871 1267L1864.5 1267L1858.1 1267L1851.6 1267L1845.1 1267L1838.7 1267L1832.2 1267L1825.7 1267L1819.2 1267L1812.8 1267L1806.3 1267L1799.8 1267L1793.4 1267L1786.9 1267L1780.4 1267L1773.9 1267L1767.5 1267L1761 1267L1754.5 1267L1748.1 1267L1741.6 1267L1735.1 1267L1728.6 1267L1722.2 1267L1715.7 1267L1709.2 1267L1702.8 1267L1696.3 1267L1689.8 1267L1683.3 1267L1676.9 1267L1670.4 1267L1601.3 1256.7L1573.8 1246.4ZM1763.4 825.6L1775 822.9L1781.8 820.1L1791.3 816.1L1798.3 815.5L1805.2 814.8L1813.8 814.4L1822.3 814L1834.2 812.2L1841.7 811.8L1849.1 811.4L1855 812.2L1861.1 813L1869.5 815.6L1880.5 816.6L1874.1 820.8L1868.2 826.1L1869.5 830L1865.8 834L1864.2 837.9L1858.5 840.5L1860.1 843.9L1855.4 846.6L1858.5 847.1L1850.4 850.8L1841.5 851.8L1834.7 853.6L1827.2 857.6L1821.5 858.6L1816.4 861.5L1811.8 866.8L1808.2 872.8L1804.6 873.6L1801.7 871.2L1796.3 870.2L1794.1 865.5L1791.2 860.2L1789.1 855L1792.4 849.7L1797.4 847.6L1790.9 845L1792.7 840.5L1790.3 836.6L1788.1 832.7L1781.9 830.8L1771.6 831.3L1766.5 829.8L1767.2 827.1Z"/></clipPath><filter id="bl8" x="-20%" y="-20%" width="140%" height="140%"><feGaussianBlur stdDeviation="9"/></filter><filter id="bl14" x="-20%" y="-20%" width="140%" height="140%"><feGaussianBlur stdDeviation="16"/></filter><filter id="bl1"><feGaussianBlur stdDeviation="0.7"/></filter><linearGradient id="cbh" x1="0" x2="1" y1="0" y2="0"><stop offset="0.000" stop-color="#9933ff"/><stop offset="0.250" stop-color="#0000ff"/><stop offset="0.500" stop-color="#00ff00"/><stop offset="0.750" stop-color="#ffff00"/><stop offset="1.000" stop-color="#ff0000"/></linearGradient></defs><rect width="2400" height="1600" fill="#fff"/><text x="1200" y="62.6" font-size="61.11" text-anchor="middle">e-POP IRM Summary Plot</text><text x="1200" y="128.7" font-size="55.56" text-anchor="middle">August 28, 2018</text><polygon points="224.3,0.5 306.6,0.5 348.7,72.2 307.7,146.8 224,146.8 182.7,72.2" fill="#fff" stroke="#cfe7ec" stroke-width="1"/><g clip-path="url(#hx)"><rect x="190" y="5" width="152" height="130" fill="#05060c"/><path d="M188 73 Q265 74 342 65.5" stroke="#22b56e" stroke-width="4.5" fill="none" filter="url(#lb2)" opacity="0.95"/><path d="M188 86 Q240 84 300 75" stroke="#0d4a36" stroke-width="7" fill="none" filter="url(#lb2)"/><circle cx="357" cy="543.4" r="471" fill="url(#earth)"/><g filter="url(#lb1)" stroke="#eaf5ff" fill="none" opacity="0.85"><path d="M215 104 Q250 96 300 92" stroke-width="3"/><path d="M230 116 Q262 104 312 100" stroke-width="2.5"/><path d="M262 108 Q290 100 322 90" stroke-width="4"/><path d="M240 124 Q256 118 276 112" stroke-width="3"/></g><polygon points="297,107 320,104 306,131 292,122" fill="#2d6fcb"/><path d="M222 134 L228 128 Q252 120 265 118 Q284 114 296 120 Q304 125 310 134 Z" fill="#fff"/><g fill="#cfd0ff"><circle cx="232" cy="27.5" r="1.3"/><circle cx="202.5" cy="66.5" r="1.1"/><circle cx="262" cy="21" r="0.5"/><circle cx="300" cy="38" r="0.5"/><circle cx="282" cy="16" r="0.4"/><circle cx="315" cy="55" r="0.5"/><circle cx="248" cy="40" r="0.4"/></g><g stroke-linecap="round"><path d="M245.5 31.5L241.7 14.3M265.6 36.3L279 28.7M239.8 49.7L220.7 59.3" stroke="#7a6a55" stroke-width="0.5" fill="none"/><path d="M277 66L306 107" stroke="#fff" stroke-width="0.9" opacity="0.9"/><path d="M254 72L244.5 89M262 74L264 84" stroke="#b5803a" stroke-width="0.8"/><polygon points="248,34.4 266.6,38.3 281.9,55 263.3,49.7 248,41.1" fill="#1b62b5"/><polygon points="248,41.1 263.3,49.7 259.4,71.3 239.8,62.6" fill="#3d8be0"/><polygon points="263.3,49.7 281.9,55 276.2,67 259.4,71.3" fill="#c9a464"/><polygon points="266.6,57.4 276.2,59.8 273.8,66 264.2,66" fill="#e8e0c8"/><path d="M248,41.1L263.3,49.7L281.9,55M248,41.1L239.8,62.6" stroke="#d99a3a" stroke-width="0.7" fill="none"/><ellipse cx="223" cy="60.3" rx="2.6" ry="1.1" fill="#f0a030"/><path d="M226 60.5L240 62.5" stroke="#c9b9a0" stroke-width="0.6"/></g></g><circle cx="265.6" cy="116.2" r="6.6" fill="#1d5cae"/><path d="M261.5 118.5Q265.6 108.5 269.7 118.5" stroke="#fff" stroke-width="0.8" fill="none"/><circle cx="265.6" cy="117" r="0.9" fill="#e33"/><rect x="262" y="119.3" width="7.2" height="1.3" fill="#fff"/><text x="265.6" y="133.6" font-size="6.2" font-weight="bold" text-anchor="middle" textLength="58" lengthAdjust="spacingAndGlyphs" style="fill:#3aa3e3">CASSIOPE</text><g clip-path="url(#esac)" fill="none" stroke="#477fc6" stroke-width="1.45"><circle cx="2128" cy="50" r="10"/><circle cx="2128" cy="50" r="12.8"/><circle cx="2128" cy="50" r="15.5"/><circle cx="2128" cy="50" r="18.2"/><circle cx="2128" cy="50" r="21"/><circle cx="2128" cy="50" r="23.8"/><circle cx="2128" cy="50" r="26.5"/><circle cx="2128" cy="50" r="29.2"/><circle cx="2128" cy="50" r="32"/><circle cx="2128" cy="50" r="34.8"/><circle cx="2128" cy="50" r="37.5"/><circle cx="2128" cy="50" r="40.2"/><circle cx="2128" cy="50" r="43"/><circle cx="2128" cy="50" r="45.8"/><circle cx="2128" cy="50" r="48.5"/><circle cx="2128" cy="50" r="51.2"/><circle cx="2128" cy="50" r="54"/><circle cx="2128" cy="50" r="56.8"/><circle cx="2128" cy="50" r="59.5"/><circle cx="2128" cy="50" r="62.2"/><circle cx="2128" cy="50" r="65"/><circle cx="2128" cy="50" r="67.8"/><circle cx="2128" cy="50" r="70.5"/><circle cx="2128" cy="50" r="73.2"/><circle cx="2128" cy="50" r="76"/><circle cx="2128" cy="50" r="78.8"/><circle cx="2128" cy="50" r="81.5"/><circle cx="2128" cy="50" r="84.2"/><circle cx="2128" cy="50" r="87"/><circle cx="2128" cy="50" r="89.8"/><circle cx="2128" cy="50" r="92.5"/><circle cx="2128" cy="50" r="95.2"/><circle cx="2128" cy="50" r="98"/><circle cx="2128" cy="50" r="100.8"/><circle cx="2128" cy="50" r="103.5"/><circle cx="2128" cy="50" r="106.2"/><circle cx="2128" cy="50" r="109"/><circle cx="2128" cy="50" r="111.8"/><circle cx="2128" cy="50" r="114.5"/><circle cx="2128" cy="50" r="117.2"/></g><circle cx="2109" cy="68" r="27.5" fill="#fff"/><circle cx="2057" cy="65.2" r="5.6" fill="#fff"/><g clip-path="url(#esae)"><path d="M2093.8 48.5h40M2093.8 51.2h40M2093.8 54h40M2093.8 56.7h40M2093.8 59.5h40M2093.8 62.2h40M2093.8 65h40M2093.8 67.8h40M2093.8 70.5h40M2093.8 73.2h40M2093.8 76h40M2093.8 78.8h40M2093.8 81.5h40M2093.8 84.2h40" stroke="#477fc6" stroke-width="1.45" fill="none"/><rect x="2102.8" y="68.1" width="32" height="3.4" fill="#fff"/><rect x="2122.8" y="70.3" width="14" height="6" fill="#fff"/></g><text x="2226.8" y="95.4" font-size="108.6" font-weight="bold" text-anchor="middle" textLength="168" lengthAdjust="spacingAndGlyphs" style="font-family:'Liberation Sans',sans-serif;fill:#17247f">esa</text><rect x="246" y="192.1" width="845.7" height="9.36" fill="url(#r0)"/><rect x="246" y="201.16" width="845.7" height="9.36" fill="url(#r1)"/><rect x="246" y="210.22" width="845.7" height="9.36" fill="url(#r2)"/><rect x="246" y="219.28" width="845.7" height="9.36" fill="url(#r3)"/><rect x="246" y="228.34" width="845.7" height="9.36" fill="url(#r4)"/><rect x="246" y="237.4" width="845.7" height="9.36" fill="url(#r5)"/><rect x="246" y="246.47" width="845.7" height="9.36" fill="url(#r6)"/><rect x="246" y="255.53" width="845.7" height="9.36" fill="url(#r7)"/><rect x="246" y="264.59" width="845.7" height="9.36" fill="url(#r8)"/><rect x="246" y="273.65" width="845.7" height="9.36" fill="url(#r9)"/><rect x="246" y="282.71" width="845.7" height="9.36" fill="url(#r10)"/><rect x="246" y="291.77" width="845.7" height="9.36" fill="url(#r11)"/><rect x="246" y="300.83" width="845.7" height="9.36" fill="url(#r12)"/><rect x="246" y="309.89" width="845.7" height="9.36" fill="url(#r13)"/><rect x="246" y="318.95" width="845.7" height="9.36" fill="url(#r14)"/><rect x="246" y="328.01" width="845.7" height="9.36" fill="url(#r15)"/><rect x="246" y="364.26" width="845.7" height="9.36" fill="url(#r19)"/><rect x="246" y="373.32" width="845.7" height="9.36" fill="url(#r20)"/><rect x="246" y="382.38" width="845.7" height="9.36" fill="url(#r21)"/><rect x="246" y="391.44" width="845.7" height="9.36" fill="url(#r22)"/><rect x="246" y="400.5" width="845.7" height="9.36" fill="url(#r23)"/><rect x="246" y="753.88" width="845.7" height="9.36" fill="url(#r62)"/><rect x="246" y="762.94" width="845.7" height="9.36" fill="url(#r63)"/><rect x="246" y="192.1" width="845.7" height="72.49" fill="url(#sd)"/><rect x="246" y="273.65" width="845.7" height="63.43" fill="url(#sd)"/><rect x="252" y="192.1" width="350" height="9.36" fill="url(#sw)" opacity="0.9"/><rect x="830" y="192.1" width="48.2" height="9.36" fill="url(#sw)" opacity="0.95"/><rect x="252" y="201.16" width="350" height="9.36" fill="url(#sw)" opacity="0.9"/><rect x="830" y="201.16" width="48.2" height="9.36" fill="url(#sw)" opacity="0.95"/><rect x="652.1" y="255.53" width="67.9" height="9.36" fill="url(#sw)" opacity="0.45"/><rect x="1040" y="255.53" width="44.2" height="9.36" fill="url(#sw)" opacity="0.5"/><rect x="826" y="255.53" width="54.2" height="9.36" fill="url(#sw)" opacity="0.3"/><rect x="246" y="264.59" width="838.2" height="9.36" fill="url(#sw)" opacity="0.8"/><rect x="246" y="364.26" width="845.7" height="9.36" fill="url(#sw)" opacity="0.85"/><rect x="246" y="373.32" width="350" height="9.36" fill="url(#sw)" opacity="0.5"/><rect x="672" y="373.32" width="208.2" height="9.36" fill="url(#sw)" opacity="0.55"/><rect x="1040" y="373.32" width="44.2" height="9.36" fill="url(#sw)" opacity="0.25"/><rect x="826" y="382.38" width="54.2" height="9.36" fill="url(#sw)" opacity="0.5"/><rect x="246" y="382.38" width="838.2" height="9.36" fill="url(#sw)" opacity="0.18"/><rect x="672" y="391.44" width="261" height="9.36" fill="url(#sw)" opacity="0.6"/><rect x="1040" y="391.44" width="44.2" height="9.36" fill="url(#sw)" opacity="0.5"/><rect x="246" y="391.44" width="399.2" height="9.36" fill="url(#sw)" opacity="0.12"/><rect x="730" y="400.5" width="253" height="9.36" fill="url(#sw)" opacity="0.55"/><rect x="246" y="753.88" width="354" height="9.36" fill="url(#sw)" opacity="0.9"/><rect x="246" y="762.94" width="354" height="9.36" fill="url(#sw)" opacity="0.4"/><rect x="534" y="472.99" width="2.2" height="9.06" fill="#e0c2ff"/><rect x="577" y="463.93" width="2.2" height="9.06" fill="#cc99ff"/><rect x="493.1" y="454.87" width="2.2" height="9.06" fill="#f5ebff"/><rect x="569.8" y="472.99" width="2.2" height="9.06" fill="#b870ff"/><rect x="580.9" y="454.87" width="2.2" height="9.06" fill="#ebd6ff"/><rect x="586.1" y="472.99" width="2.2" height="9.06" fill="#a347ff"/><rect x="528.9" y="472.99" width="2.2" height="9.06" fill="#a347ff"/><rect x="525.6" y="463.93" width="2.2" height="9.06" fill="#e0c2ff"/><rect x="549.8" y="463.93" width="2.2" height="9.06" fill="#cc99ff"/><rect x="531.8" y="472.99" width="2.2" height="9.06" fill="#a347ff"/><rect x="442.5" y="472.99" width="2.2" height="9.06" fill="#b870ff"/><rect x="571.1" y="472.99" width="2.2" height="9.06" fill="#b870ff"/><rect x="510.9" y="472.99" width="2.2" height="9.06" fill="#e0c2ff"/><rect x="509.5" y="472.99" width="2.2" height="9.06" fill="#b870ff"/><rect x="535.5" y="463.93" width="2.2" height="9.06" fill="#cc99ff"/><rect x="560.7" y="472.99" width="2.2" height="9.06" fill="#b870ff"/><rect x="538.2" y="472.99" width="2.2" height="9.06" fill="#e0c2ff"/><rect x="542.9" y="472.99" width="2.2" height="9.06" fill="#b870ff"/><rect x="486.8" y="472.99" width="2.2" height="9.06" fill="#a347ff"/><rect x="569.7" y="472.99" width="2.2" height="9.06" fill="#b870ff"/><rect x="552.4" y="472.99" width="2.2" height="9.06" fill="#b870ff"/><rect x="530.2" y="472.99" width="2.2" height="9.06" fill="#e0c2ff"/><rect x="583.7" y="472.99" width="2.2" height="9.06" fill="#b870ff"/><rect x="573.1" y="472.99" width="2.2" height="9.06" fill="#cc99ff"/><rect x="569.7" y="454.87" width="2.2" height="9.06" fill="#f5ebff"/><rect x="538.1" y="472.99" width="2.2" height="9.06" fill="#a347ff"/><rect x="521.2" y="472.99" width="2.2" height="9.06" fill="#a347ff"/><rect x="519.7" y="463.93" width="2.2" height="9.06" fill="#cc99ff"/><rect x="579.3" y="472.99" width="2.2" height="9.06" fill="#e0c2ff"/><rect x="433.8" y="472.99" width="2.2" height="9.06" fill="#e0c2ff"/><rect x="527.6" y="472.99" width="2.2" height="9.06" fill="#a347ff"/><rect x="508.3" y="454.87" width="2.2" height="9.06" fill="#f5ebff"/><rect x="460.4" y="472.99" width="2.2" height="9.06" fill="#b870ff"/><rect x="543.9" y="472.99" width="2.2" height="9.06" fill="#b870ff"/><rect x="436.4" y="454.87" width="2.2" height="9.06" fill="#f5ebff"/><rect x="503" y="472.99" width="2.2" height="9.06" fill="#a347ff"/><rect x="559.5" y="472.99" width="2.2" height="9.06" fill="#b870ff"/><rect x="590" y="463.93" width="2.2" height="9.06" fill="#f0e0ff"/><rect x="559.8" y="472.99" width="2.2" height="9.06" fill="#e0c2ff"/><rect x="550.3" y="472.99" width="2.2" height="9.06" fill="#a347ff"/><rect x="468.2" y="454.87" width="2.2" height="9.06" fill="#ebd6ff"/><rect x="530" y="454.87" width="2.2" height="9.06" fill="#ebd6ff"/><rect x="567.3" y="454.87" width="2.2" height="9.06" fill="#f5ebff"/><rect x="509.5" y="463.93" width="2.2" height="9.06" fill="#e0c2ff"/><rect x="548.5" y="472.99" width="2.2" height="9.06" fill="#a347ff"/><rect x="484" y="463.93" width="2.2" height="9.06" fill="#cc99ff"/><rect x="503.3" y="463.93" width="2.2" height="9.06" fill="#f0e0ff"/><rect x="529.8" y="472.99" width="2.2" height="9.06" fill="#e0c2ff"/><rect x="530.9" y="472.99" width="2.2" height="9.06" fill="#b870ff"/><rect x="542.3" y="463.93" width="2.2" height="9.06" fill="#e0c2ff"/><rect x="553.3" y="463.93" width="2.2" height="9.06" fill="#f0e0ff"/><rect x="508.8" y="472.99" width="2.2" height="9.06" fill="#a347ff"/><rect x="513.5" y="472.99" width="2.2" height="9.06" fill="#cc99ff"/><rect x="554.8" y="463.93" width="2.2" height="9.06" fill="#f0e0ff"/><rect x="431.8" y="463.93" width="2.2" height="9.06" fill="#f0e0ff"/><rect x="538.5" y="472.99" width="2.2" height="9.06" fill="#cc99ff"/><rect x="560.7" y="454.87" width="2.2" height="9.06" fill="#f5ebff"/><rect x="574.1" y="472.99" width="2.2" height="9.06" fill="#b870ff"/><rect x="557.2" y="454.87" width="2.2" height="9.06" fill="#f5ebff"/><rect x="538.9" y="454.87" width="2.2" height="9.06" fill="#f5ebff"/><rect x="842" y="545.48" width="2.2" height="9.06" fill="#cc99ff"/><rect x="846" y="545.48" width="2.2" height="9.06" fill="#d6adff"/><rect x="851" y="545.48" width="2.2" height="9.06" fill="#cc99ff"/><rect x="862" y="545.48" width="2.2" height="9.06" fill="#e0c2ff"/><rect x="896" y="545.48" width="2.2" height="9.06" fill="#d6adff"/><rect x="843" y="463.93" width="2.2" height="9.06" fill="#e6ccff"/><rect x="850" y="463.93" width="2.2" height="9.06" fill="#ebd6ff"/><rect x="858" y="463.93" width="2.2" height="9.06" fill="#e6ccff"/><rect x="898" y="472.99" width="2.2" height="9.06" fill="#cc99ff"/><rect x="862" y="500.17" width="2.2" height="9.06" fill="#ebd6ff"/><rect x="865" y="617.96" width="2.2" height="9.06" fill="#ebd6ff"/><rect x="869" y="617.96" width="2.2" height="9.06" fill="#ebd6ff"/><rect x="857" y="690.45" width="2.2" height="9.06" fill="#d6adff"/><rect x="864" y="690.45" width="2.2" height="9.06" fill="#e0c2ff"/><rect x="872" y="690.45" width="2.2" height="9.06" fill="#d6adff"/><rect x="876" y="690.45" width="2.2" height="9.06" fill="#e0c2ff"/><rect x="798" y="762.94" width="2.2" height="9.06" fill="#cc99ff"/><rect x="845" y="762.94" width="2.2" height="9.06" fill="#d6adff"/><rect x="852" y="762.94" width="2.2" height="9.06" fill="#e0c2ff"/><rect x="868" y="762.94" width="2.2" height="9.06" fill="#cc99ff"/><rect x="880" y="762.94" width="2.2" height="9.06" fill="#d6adff"/><rect x="896" y="762.94" width="2.2" height="9.06" fill="#cc99ff"/><rect x="905" y="762.94" width="2.2" height="9.06" fill="#d6adff"/><rect x="912" y="762.94" width="2.2" height="9.06" fill="#e0c2ff"/><rect x="645.2" y="192.1" width="6.9" height="579.9" fill="#fff"/><rect x="986.5" y="192.1" width="6.5" height="579.9" fill="#fff"/><path d="M293.38 772V192.1M346.7 772V192.1M400.01 772V192.1M506.64 772V192.1M559.96 772V192.1M613.27 772V192.1M719.9 772V192.1M773.21 772V192.1M826.53 772V192.1M933.16 772V192.1M986.47 772V192.1M1039.79 772V192.1" stroke="#808080" stroke-width="2.22" stroke-dasharray="2.22 3.67" fill="none"/><path d="M453.33 772V192.1M666.59 772V192.1M879.84 772V192.1" stroke="#808080" stroke-width="4.17" stroke-dasharray="4.17 6.87" fill="none"/><path d="M240.07 337.07H1093.1M240.07 482.05H1093.1M240.07 627.02H1093.1" stroke="#000" stroke-width="1.7" stroke-dasharray="6.3 2.75" fill="none"/><path d="M240.07 264.59H1093.1M240.07 409.56H1093.1M240.07 554.54H1093.1M240.07 699.51H1093.1" stroke="#000" stroke-width="1.5" stroke-dasharray="1.5 2.2" fill="none"/><g clip-path="url(#cp1)"><path d="M240 525L335 516.1L420 506.6L507 499.7L560 495.4L613 492.5L625 491.7L646.5 489.3L666 486.4L688 483.9L720 481.6L773.6 479.3L879.6 474.5L985 469.3L1093 464.3" stroke="#01f9c6" stroke-width="8.33" fill="none" stroke-linecap="butt"/><path d="M240 525L335 516.1L420 506.6L507 499.7L560 495.4L613 492.5L625 491.7L646.5 489.3L666 486.4L688 483.9L720 481.6L773.6 479.3L879.6 474.5L985 469.3L1093 464.3" stroke="#000" stroke-width="4.17" fill="none" stroke-linecap="butt"/><path d="M240 297L420 298.7L600 300.4L641 300.5L664 297.6L760 298.3L880 299.3L1000 300.8L1093 302" stroke="#01f9c6" stroke-width="8.33" fill="none" stroke-dasharray="25 25" stroke-linecap="butt"/><path d="M240 297L420 298.7L600 300.4L641 300.5L664 297.6L760 298.3L880 299.3L1000 300.8L1093 302" stroke="#000" stroke-width="4.17" fill="none" stroke-dasharray="25 25" stroke-linecap="butt"/><path d="M240 735.5L420 736.2L600 737.2L640 737L664 734.8L700 734.7L800 735.4L1093 735.7" stroke="#01f9c6" stroke-width="8.33" fill="none" stroke-dasharray="25 8.33 8.33 8.33" stroke-linecap="butt"/><path d="M240 735.5L420 736.2L600 737.2L640 737L664 734.8L700 734.7L800 735.4L1093 735.7" stroke="#000" stroke-width="4.17" fill="none" stroke-dasharray="25 8.33 8.33 8.33" stroke-linecap="butt"/></g><path d="M240.07 772v-9.72M240.07 192.1v9.72M453.33 772v-9.72M453.33 192.1v9.72M666.59 772v-9.72M666.59 192.1v9.72M879.84 772v-9.72M879.84 192.1v9.72M1093.1 772v-9.72M1093.1 192.1v9.72" stroke="#000" stroke-width="2.22" fill="none"/><path d="M293.38 772v-5.56M293.38 192.1v5.56M346.7 772v-5.56M346.7 192.1v5.56M400.01 772v-5.56M400.01 192.1v5.56M506.64 772v-5.56M506.64 192.1v5.56M559.96 772v-5.56M559.96 192.1v5.56M613.27 772v-5.56M613.27 192.1v5.56M719.9 772v-5.56M719.9 192.1v5.56M773.21 772v-5.56M773.21 192.1v5.56M826.53 772v-5.56M826.53 192.1v5.56M933.16 772v-5.56M933.16 192.1v5.56M986.47 772v-5.56M986.47 192.1v5.56M1039.79 772v-5.56M1039.79 192.1v5.56" stroke="#000" stroke-width="1.67" fill="none"/><path d="M240.07 735.76h9.72M240.07 663.27h9.72M240.07 590.78h9.72M240.07 518.29h9.72M240.07 445.81h9.72M240.07 373.32h9.72M240.07 300.83h9.72M240.07 228.34h9.72" stroke="#000" stroke-width="2.22" fill="none"/><path d="M240.07 753.88h5.56M240.07 717.63h5.56M240.07 699.51h5.56M240.07 681.39h5.56M240.07 645.15h5.56M240.07 627.02h5.56M240.07 608.9h5.56M240.07 572.66h5.56M240.07 554.54h5.56M240.07 536.42h5.56M240.07 500.17h5.56M240.07 482.05h5.56M240.07 463.93h5.56M240.07 427.68h5.56M240.07 409.56h5.56M240.07 391.44h5.56M240.07 355.2h5.56M240.07 337.07h5.56M240.07 318.95h5.56M240.07 282.71h5.56M240.07 264.59h5.56M240.07 246.47h5.56M240.07 210.22h5.56" stroke="#000" stroke-width="1.67" fill="none"/><path d="M1093.1 735.76h-9.72M1093.1 663.27h-9.72M1093.1 590.78h-9.72M1093.1 518.29h-9.72M1093.1 445.81h-9.72M1093.1 373.32h-9.72M1093.1 300.83h-9.72M1093.1 228.34h-9.72" stroke="#000" stroke-width="2.22" fill="none"/><path d="" stroke="#000" stroke-width="1.67" fill="none"/><rect x="240.07" y="192.1" width="853.03" height="579.9" fill="none" stroke="#000" stroke-width="2.08"/><text x="230.3" y="746.4" font-size="27.78" text-anchor="end">-Z</text><text x="1102.9" y="746.4" font-size="27.78">0</text><text x="230.3" y="674.4" font-size="27.78" text-anchor="end">-Z/+X</text><text x="1102.9" y="673.9" font-size="27.78">45</text><text x="230.3" y="601.4" font-size="27.78" text-anchor="end">+X</text><text x="1102.9" y="601.4" font-size="27.78">90</text><text x="230.3" y="529.4" font-size="27.78" text-anchor="end">+X/+Z</text><text x="1102.9" y="528.9" font-size="27.78">135</text><text x="230.3" y="456.4" font-size="27.78" text-anchor="end">+Z</text><text x="1102.9" y="456.4" font-size="27.78">180</text><text x="230.3" y="384.4" font-size="27.78" text-anchor="end">+Z/-X</text><text x="1102.9" y="383.9" font-size="27.78">225</text><text x="230.3" y="311.4" font-size="27.78" text-anchor="end">-X</text><text x="1102.9" y="311.4" font-size="27.78">270</text><text x="230.3" y="239.4" font-size="27.78" text-anchor="end">-X/-Z</text><text x="1102.9" y="238.9" font-size="27.78">315</text><text x="119.8" y="483.4" font-size="27.78" text-anchor="middle" transform="rotate(-90 119.8 483.4)">S/C Axis</text><text x="1184.5" y="483.6" font-size="22.22" text-anchor="middle" transform="rotate(-90 1184.5 483.6)">Angle from -Z axis (towards +X axis)</text><path d="M308 163.2H391.3" stroke="#01f9c6" stroke-width="8.33" fill="none" stroke-dasharray="25 25" stroke-linecap="butt"/><path d="M308 163.2H391.3" stroke="#000" stroke-width="4.17" fill="none" stroke-dasharray="25 25" stroke-linecap="butt"/><text x="413.5" y="173.3" font-size="27.78">Anti-ram</text><path d="M590.8 163.2H673.1" stroke="#01f9c6" stroke-width="8.33" fill="none" stroke-linecap="square"/><path d="M590.8 163.2H673.1" stroke="#000" stroke-width="4.17" fill="none" stroke-linecap="square"/><text x="696.3" y="173.3" font-size="27.78">Bfield</text><path d="M830 163.2H913.3" stroke="#01f9c6" stroke-width="8.33" fill="none" stroke-dasharray="25 8.33 8.33 8.33" stroke-linecap="butt"/><path d="M830 163.2H913.3" stroke="#000" stroke-width="4.17" fill="none" stroke-dasharray="25 8.33 8.33 8.33" stroke-linecap="butt"/><text x="935.5" y="173.3" font-size="27.78">Zenith</text><rect x="246" y="834" width="358" height="542.1" fill="url(#nzA)"/><rect x="604" y="834" width="480.2" height="542.1" fill="url(#nzB)"/><rect x="824" y="797" width="64" height="579.1" fill="url(#dipw)"/><rect x="246" y="797" width="329.4" height="579.1" fill="url(#t0)"/><rect x="575" y="797" width="5.4" height="579.1" fill="url(#t1)"/><rect x="580" y="797" width="5.4" height="579.1" fill="url(#t2)"/><rect x="585" y="797" width="5.4" height="579.1" fill="url(#t3)"/><rect x="590" y="797" width="5.4" height="579.1" fill="url(#t4)"/><rect x="595" y="797" width="5.4" height="579.1" fill="url(#t5)"/><rect x="600" y="797" width="5.4" height="579.1" fill="url(#t6)"/><rect x="605" y="797" width="5.4" height="579.1" fill="url(#t7)"/><rect x="610" y="797" width="5.4" height="579.1" fill="url(#t8)"/><rect x="615" y="797" width="5.4" height="579.1" fill="url(#t9)"/><rect x="620" y="797" width="5.4" height="579.1" fill="url(#t10)"/><rect x="625" y="797" width="5.4" height="579.1" fill="url(#t11)"/><rect x="630" y="797" width="5.4" height="579.1" fill="url(#t12)"/><rect x="635" y="797" width="5.4" height="579.1" fill="url(#t13)"/><rect x="640" y="797" width="5.4" height="579.1" fill="url(#t14)"/><rect x="645" y="797" width="125.4" height="579.1" fill="url(#t15)"/><rect x="770" y="797" width="5.4" height="579.1" fill="url(#t16)"/><rect x="775" y="797" width="5.4" height="579.1" fill="url(#t17)"/><rect x="780" y="797" width="5.4" height="579.1" fill="url(#t18)"/><rect x="785" y="797" width="5.4" height="579.1" fill="url(#t19)"/><rect x="790" y="797" width="5.4" height="579.1" fill="url(#t20)"/><rect x="795" y="797" width="5.4" height="579.1" fill="url(#t21)"/><rect x="800" y="797" width="5.4" height="579.1" fill="url(#t22)"/><rect x="805" y="797" width="5.4" height="579.1" fill="url(#t23)"/><rect x="810" y="797" width="5.4" height="579.1" fill="url(#t24)"/><rect x="815" y="797" width="5.4" height="579.1" fill="url(#t25)"/><rect x="820" y="797" width="5.4" height="579.1" fill="url(#t26)"/><rect x="825" y="797" width="5.4" height="579.1" fill="url(#t27)"/><rect x="830" y="797" width="5.4" height="579.1" fill="url(#t28)"/><rect x="835" y="797" width="5.4" height="579.1" fill="url(#t29)"/><rect x="840" y="797" width="5.4" height="579.1" fill="url(#t30)"/><rect x="845" y="797" width="5.4" height="579.1" fill="url(#t31)"/><rect x="850" y="797" width="5.4" height="579.1" fill="url(#t32)"/><rect x="855" y="797" width="5.4" height="579.1" fill="url(#t33)"/><rect x="860" y="797" width="5.4" height="579.1" fill="url(#t34)"/><rect x="865" y="797" width="5.4" height="579.1" fill="url(#t35)"/><rect x="870" y="797" width="5.4" height="579.1" fill="url(#t36)"/><rect x="875" y="797" width="5.4" height="579.1" fill="url(#t37)"/><rect x="880" y="797" width="5.4" height="579.1" fill="url(#t38)"/><rect x="885" y="797" width="5.4" height="579.1" fill="url(#t39)"/><rect x="890" y="797" width="5.4" height="579.1" fill="url(#t40)"/><rect x="895" y="797" width="5.4" height="579.1" fill="url(#t41)"/><rect x="900" y="797" width="5.4" height="579.1" fill="url(#t42)"/><rect x="905" y="797" width="5.4" height="579.1" fill="url(#t43)"/><rect x="910" y="797" width="2.4" height="579.1" fill="url(#t44)"/><rect x="912" y="797" width="172.6" height="579.1" fill="url(#t45)"/><rect x="614" y="797" width="31" height="36.7" fill="#e8d1ff"/><rect x="652" y="797" width="68" height="36.7" fill="#ebd6ff"/><rect x="720" y="797" width="55" height="36.7" fill="#f5ebff"/><rect x="775" y="797" width="155" height="36.7" fill="#ffffff"/><rect x="930" y="797" width="56" height="36.7" fill="#f9f3ff"/><rect x="993" y="797" width="91" height="36.7" fill="#f0e0ff"/><rect x="590" y="1246.8" width="502" height="85.7" fill="url(#b2p)" mask="url(#m2p)"/><rect x="590" y="1246.8" width="502" height="85.7" fill="url(#b2b)" mask="url(#m2b)"/><rect x="1084.2" y="797" width="7.5" height="11" fill="#8a2eff"/><rect x="1084.2" y="808" width="7.5" height="11" fill="#8a2eff"/><rect x="1084.2" y="819" width="7.5" height="5.5" fill="#8a2eff"/><rect x="1084.2" y="824.5" width="7.5" height="16" fill="#8a2eff"/><rect x="1084.2" y="840.5" width="7.5" height="2.8" fill="#1f0aff"/><rect x="1084.2" y="843.3" width="7.5" height="8.3" fill="#e6ccff"/><rect x="1084.2" y="851.6" width="7.5" height="2.8" fill="#ffffff"/><rect x="1084.2" y="854.3" width="7.5" height="16" fill="#4d1aff"/><rect x="1084.2" y="870.3" width="7.5" height="11" fill="#e6ccff"/><rect x="1084.2" y="881.3" width="7.5" height="16" fill="#ffffff"/><rect x="1084.2" y="897.3" width="7.5" height="16" fill="#ffffff"/><rect x="1084.2" y="913.3" width="7.5" height="2.8" fill="#ffffff"/><rect x="1084.2" y="916.1" width="7.5" height="5.5" fill="#c285ff"/><rect x="1084.2" y="921.6" width="7.5" height="16" fill="#ffffff"/><rect x="1084.2" y="937.6" width="7.5" height="11" fill="#7326ff"/><rect x="1084.2" y="948.6" width="7.5" height="11" fill="#c285ff"/><rect x="1084.2" y="959.6" width="7.5" height="16" fill="#c285ff"/><rect x="1084.2" y="975.6" width="7.5" height="8.3" fill="#1f0aff"/><rect x="1084.2" y="983.9" width="7.5" height="2.8" fill="#ffffff"/><rect x="1084.2" y="986.6" width="7.5" height="11" fill="#9933ff"/><rect x="1084.2" y="997.6" width="7.5" height="11" fill="#ffffff"/><rect x="1084.2" y="1008.6" width="7.5" height="8.3" fill="#7326ff"/><rect x="1084.2" y="1016.9" width="7.5" height="5.5" fill="#9933ff"/><rect x="1084.2" y="1022.4" width="7.5" height="2.8" fill="#ffffff"/><rect x="1084.2" y="1025.2" width="7.5" height="16" fill="#ffffff"/><rect x="1084.2" y="1041.2" width="7.5" height="11" fill="#ffffff"/><rect x="1084.2" y="1052.2" width="7.5" height="8.3" fill="#4d1aff"/><rect x="1084.2" y="1060.5" width="7.5" height="2.8" fill="#ffffff"/><rect x="1084.2" y="1063.3" width="7.5" height="2.8" fill="#c285ff"/><rect x="1084.2" y="1066" width="7.5" height="5.5" fill="#ffffff"/><rect x="1084.2" y="1071.5" width="7.5" height="11" fill="#4d1aff"/><rect x="1084.2" y="1082.5" width="7.5" height="11" fill="#4d1aff"/><rect x="1084.2" y="1093.5" width="7.5" height="2.8" fill="#1005ff"/><rect x="1084.2" y="1096.3" width="7.5" height="8.3" fill="#0903ff"/><rect x="1084.2" y="1104.6" width="7.5" height="2.8" fill="#0012ed"/><rect x="1084.2" y="1107.3" width="7.5" height="8.3" fill="#001de2"/><rect x="1084.2" y="1115.6" width="7.5" height="11" fill="#0040bf"/><rect x="1084.2" y="1126.6" width="7.5" height="5.5" fill="#00639c"/><rect x="1084.2" y="1132.1" width="7.5" height="2.8" fill="#00758a"/><rect x="1084.2" y="1134.9" width="7.5" height="2.8" fill="#007e81"/><rect x="1084.2" y="1137.7" width="7.5" height="11" fill="#008679"/><rect x="1084.2" y="1148.7" width="7.5" height="16" fill="#00a956"/><rect x="1084.2" y="1164.7" width="7.5" height="11" fill="#00db24"/><rect x="1084.2" y="1175.7" width="7.5" height="5.5" fill="#00ff00"/><rect x="1084.2" y="1181.2" width="7.5" height="11" fill="#14ff00"/><rect x="1084.2" y="1192.2" width="7.5" height="11" fill="#3cff00"/><rect x="1084.2" y="1203.2" width="7.5" height="5.5" fill="#48ff00"/><rect x="1084.2" y="1208.7" width="7.5" height="8.3" fill="#27ff00"/><rect x="1084.2" y="1217" width="7.5" height="2.8" fill="#00aa55"/><rect x="1084.2" y="1219.7" width="7.5" height="5.5" fill="#007887"/><rect x="1084.2" y="1225.2" width="7.5" height="16" fill="#ffffff"/><rect x="1084.2" y="1241.2" width="7.5" height="2.8" fill="#e6ccff"/><rect x="1084.2" y="1244" width="7.5" height="5.5" fill="#1f0aff"/><rect x="1084.2" y="1249.5" width="7.5" height="8.3" fill="#ffffff"/><rect x="1084.2" y="1257.8" width="7.5" height="16" fill="#7326ff"/><rect x="1084.2" y="1273.8" width="7.5" height="8.3" fill="#4d1aff"/><rect x="1084.2" y="1282.1" width="7.5" height="2.8" fill="#ffffff"/><rect x="1084.2" y="1284.8" width="7.5" height="2.8" fill="#c285ff"/><rect x="1084.2" y="1287.6" width="7.5" height="16" fill="#c285ff"/><rect x="1084.2" y="1303.6" width="7.5" height="2.8" fill="#7326ff"/><rect x="1084.2" y="1306.4" width="7.5" height="8.3" fill="#1f0aff"/><rect x="1084.2" y="1314.7" width="7.5" height="5.5" fill="#1f0aff"/><rect x="1084.2" y="1320.2" width="7.5" height="16" fill="#e6ccff"/><rect x="1084.2" y="1336.2" width="7.5" height="11" fill="#e6ccff"/><rect x="1084.2" y="1347.2" width="7.5" height="5.5" fill="#9933ff"/><rect x="1084.2" y="1352.7" width="7.5" height="5.5" fill="#c285ff"/><rect x="1084.2" y="1358.2" width="7.5" height="5.5" fill="#e6ccff"/><rect x="1084.2" y="1363.7" width="7.5" height="12.4" fill="#c285ff"/><rect x="645.2" y="797" width="6.9" height="579.1" fill="#fff"/><rect x="986.5" y="797" width="6.5" height="579.1" fill="#fff"/><path d="M293.38 1376.1V797M346.7 1376.1V797M400.01 1376.1V797M506.64 1376.1V797M559.96 1376.1V797M613.27 1376.1V797M719.9 1376.1V797M773.21 1376.1V797M826.53 1376.1V797M933.16 1376.1V797M986.47 1376.1V797M1039.79 1376.1V797" stroke="#808080" stroke-width="2.22" stroke-dasharray="2.22 3.67" fill="none"/><path d="M453.33 1376.1V797M666.59 1376.1V797M879.84 1376.1V797" stroke="#808080" stroke-width="4.17" stroke-dasharray="4.17 6.87" fill="none"/><path d="M240.07 1376.1v-9.72M240.07 797v9.72M453.33 1376.1v-9.72M453.33 797v9.72M666.59 1376.1v-9.72M666.59 797v9.72M879.84 1376.1v-9.72M879.84 797v9.72M1093.1 1376.1v-9.72M1093.1 797v9.72" stroke="#000" stroke-width="2.22" fill="none"/><path d="M293.38 1376.1v-5.56M293.38 797v5.56M346.7 1376.1v-5.56M346.7 797v5.56M400.01 1376.1v-5.56M400.01 797v5.56M506.64 1376.1v-5.56M506.64 797v5.56M559.96 1376.1v-5.56M559.96 797v5.56M613.27 1376.1v-5.56M613.27 797v5.56M719.9 1376.1v-5.56M719.9 797v5.56M773.21 1376.1v-5.56M773.21 797v5.56M826.53 1376.1v-5.56M826.53 797v5.56M933.16 1376.1v-5.56M933.16 797v5.56M986.47 1376.1v-5.56M986.47 797v5.56M1039.79 1376.1v-5.56M1039.79 797v5.56" stroke="#000" stroke-width="1.67" fill="none"/><path d="M240.07 1373.9h9.72M1093.1 1373.9h-9.72M240.07 1238.5h9.72M1093.1 1238.5h-9.72M240.07 1100.34h9.72M1093.1 1100.34h-9.72M240.07 962.17h9.72M1093.1 962.17h-9.72M240.07 824.01h9.72M1093.1 824.01h-9.72" stroke="#000" stroke-width="2.22" fill="none"/><path d="M240.07 1349.03h5.56M1093.1 1349.03h-5.56M240.07 1321.4h5.56M1093.1 1321.4h-5.56M240.07 1293.77h5.56M1093.1 1293.77h-5.56M240.07 1266.13h5.56M1093.1 1266.13h-5.56M240.07 1210.87h5.56M1093.1 1210.87h-5.56M240.07 1183.23h5.56M1093.1 1183.23h-5.56M240.07 1155.6h5.56M1093.1 1155.6h-5.56M240.07 1127.97h5.56M1093.1 1127.97h-5.56M240.07 1072.7h5.56M1093.1 1072.7h-5.56M240.07 1045.07h5.56M1093.1 1045.07h-5.56M240.07 1017.44h5.56M1093.1 1017.44h-5.56M240.07 989.81h5.56M1093.1 989.81h-5.56M240.07 934.54h5.56M1093.1 934.54h-5.56M240.07 906.91h5.56M1093.1 906.91h-5.56M240.07 879.28h5.56M1093.1 879.28h-5.56M240.07 851.64h5.56M1093.1 851.64h-5.56M240.07 796.38h5.56M1093.1 796.38h-5.56" stroke="#000" stroke-width="1.67" fill="none"/><rect x="240.07" y="797" width="853.03" height="579.1" fill="none" stroke="#000" stroke-width="2.08"/><text x="230.3" y="1384.5" font-size="27.78" text-anchor="end">1</text><text x="230.3" y="1249.1" font-size="27.78" text-anchor="end">50</text><text x="230.3" y="1110.9" font-size="27.78" text-anchor="end">100</text><text x="230.3" y="972.8" font-size="27.78" text-anchor="end">150</text><text x="230.3" y="834.6" font-size="27.78" text-anchor="end">200</text><text x="129.5" y="1086.5" font-size="27.78" text-anchor="middle" transform="rotate(-90 129.5 1086.5)">TOA Bin</text><text x="169.5" y="1420.9" font-size="27.78" text-anchor="end">UT</text><text x="250" y="1420.9" font-size="27.78" text-anchor="middle">13:32:31</text><text x="459.5" y="1420.9" font-size="27.78" text-anchor="middle">13:35:15</text><text x="669" y="1420.9" font-size="27.78" text-anchor="middle">13:37:59</text><text x="878.5" y="1420.9" font-size="27.78" text-anchor="middle">13:40:43</text><text x="1088" y="1420.9" font-size="27.78" text-anchor="middle">13:43:27</text><text x="169.5" y="1453.2" font-size="27.78" text-anchor="end">ALT (km)</text><text x="250" y="1453.2" font-size="27.78" text-anchor="middle">385.6</text><text x="459.5" y="1453.2" font-size="27.78" text-anchor="middle">352.0</text><text x="669" y="1453.2" font-size="27.78" text-anchor="middle">333.6</text><text x="878.5" y="1453.2" font-size="27.78" text-anchor="middle">330.8</text><text x="1088" y="1453.2" font-size="27.78" text-anchor="middle">343.5</text><text x="169.5" y="1485.5" font-size="27.78" text-anchor="end">LAT (deg)</text><text x="250" y="1485.5" font-size="27.78" text-anchor="middle">32.4</text><text x="459.5" y="1485.5" font-size="27.78" text-anchor="middle">43.3</text><text x="669" y="1485.5" font-size="27.78" text-anchor="middle">54.1</text><text x="878.5" y="1485.5" font-size="27.78" text-anchor="middle">64.7</text><text x="1088" y="1485.5" font-size="27.78" text-anchor="middle">74.5</text><text x="169.5" y="1517.8" font-size="27.78" text-anchor="end">LON (deg)</text><text x="250" y="1517.8" font-size="27.78" text-anchor="middle">107.3</text><text x="459.5" y="1517.8" font-size="27.78" text-anchor="middle">109.4</text><text x="669" y="1517.8" font-size="27.78" text-anchor="middle">112.7</text><text x="878.5" y="1517.8" font-size="27.78" text-anchor="middle">119.0</text><text x="1088" y="1517.8" font-size="27.78" text-anchor="middle">133.5</text><text x="169.5" y="1550" font-size="27.78" text-anchor="end">MLAT (deg)</text><text x="250" y="1550" font-size="27.78" text-anchor="middle">22.8</text><text x="459.5" y="1550" font-size="27.78" text-anchor="middle">33.6</text><text x="669" y="1550" font-size="27.78" text-anchor="middle">44.4</text><text x="878.5" y="1550" font-size="27.78" text-anchor="middle">55.2</text><text x="1088" y="1550" font-size="27.78" text-anchor="middle">65.5</text><text x="169.5" y="1582.2" font-size="27.78" text-anchor="end">MLT (hrs)</text><text x="250" y="1582.2" font-size="27.78" text-anchor="middle">20.6</text><text x="459.5" y="1582.2" font-size="27.78" text-anchor="middle">20.7</text><text x="669" y="1582.2" font-size="27.78" text-anchor="middle">21.0</text><text x="878.5" y="1582.2" font-size="27.78" text-anchor="middle">21.3</text><text x="1088" y="1582.2" font-size="27.78" text-anchor="middle">21.9</text><rect x="1203.9" y="201.8" width="28.4" height="553.4" fill="url(#cbv)" stroke="#000" stroke-width="2.08"/><path d="M1232.3 270.98h-9.72M1232.3 340.15h-9.72M1232.3 409.33h-9.72M1232.3 478.5h-9.72M1232.3 547.68h-9.72M1232.3 616.85h-9.72M1232.3 686.03h-9.72" stroke="#000" stroke-width="2.22" fill="none"/><text x="1242.2" y="212.4" font-size="27.78">1e5</text><text x="1242.2" y="281.6" font-size="27.78">1e4</text><text x="1242.2" y="350.8" font-size="27.78">1e3</text><text x="1242.2" y="489.1" font-size="27.78">1e2</text><text x="1242.2" y="627.5" font-size="27.78">1e1</text><text x="1242.2" y="765.8" font-size="27.78">1e0</text><text x="1325.5" y="478.5" font-size="27.78" text-anchor="middle" transform="rotate(-90 1325.5 478.5)">Pixel Counts per Second</text><rect x="1203.9" y="810.4" width="28.4" height="553.2" fill="url(#cbv)" stroke="#000" stroke-width="2.08"/><path d="M1232.3 879.55h-9.72M1232.3 948.7h-9.72M1232.3 1017.85h-9.72M1232.3 1087h-9.72M1232.3 1156.15h-9.72M1232.3 1225.3h-9.72M1232.3 1294.45h-9.72" stroke="#000" stroke-width="2.22" fill="none"/><text x="1242.2" y="821" font-size="27.78">1e5</text><text x="1242.2" y="890.1" font-size="27.78">1e4</text><text x="1242.2" y="959.3" font-size="27.78">1e3</text><text x="1242.2" y="1097.6" font-size="27.78">1e2</text><text x="1242.2" y="1235.9" font-size="27.78">1e1</text><text x="1242.2" y="1374.2" font-size="27.78">1e0</text><text x="1325.5" y="1089.4" font-size="27.78" text-anchor="middle" transform="rotate(-90 1325.5 1089.4)">TOF Counts per Second</text><rect x="1544.0" y="192.2" width="350.6" height="245.7" fill="#c5c9c7"/><path d="M1593.03 437.9V192.2M1642.05 437.9V192.2M1691.08 437.9V192.2M1789.12 437.9V192.2M1838.15 437.9V192.2M1887.18 437.9V192.2M1985.22 437.9V192.2M2034.25 437.9V192.2M2083.28 437.9V192.2M2181.32 437.9V192.2M2230.35 437.9V192.2M2279.38 437.9V192.2" stroke="#808080" stroke-width="2.22" stroke-dasharray="2.22 3.67" fill="none"/><path d="M1740.1 437.9V192.2M1936.2 437.9V192.2M2132.3 437.9V192.2" stroke="#808080" stroke-width="4.17" stroke-dasharray="4.17 6.87" fill="none"/><rect x="1544.0" y="463.5" width="350.6" height="244.5" fill="#c5c9c7"/><path d="M1593.03 708V463.5M1642.05 708V463.5M1691.08 708V463.5M1789.12 708V463.5M1838.15 708V463.5M1887.18 708V463.5M1985.22 708V463.5M2034.25 708V463.5M2083.28 708V463.5M2181.32 708V463.5M2230.35 708V463.5M2279.38 708V463.5" stroke="#808080" stroke-width="2.22" stroke-dasharray="2.22 3.67" fill="none"/><path d="M1740.1 708V463.5M1936.2 708V463.5M2132.3 708V463.5" stroke="#808080" stroke-width="4.17" stroke-dasharray="4.17 6.87" fill="none"/><g clip-path="url(#cp3)" fill="none" stroke-width="2.08" stroke-linejoin="round"><path d="M1544 426.8L1872.6 426.8L1874.5 400L1876 360L1877.5 330L1879 318L1880 315L1881.5 317.5L1883.5 323L1886 328L1889 331.3L1893 332.8L1900 333.5L1919.5 333.7M1931.5 333.9L1985 327.3L2006.3 326.7L2033.9 324.6L2061.6 321.8L2082.8 318.8L2092.4 316.1L2104.1 313.9L2125.3 312.9L2133.8 313.5L2140.2 315L2153 314.6L2160.4 316.9L2167.9 318.6L2174.2 317.8L2184.9 319.2L2193.4 319L2197.6 319.9L2204 318.8L2210.4 317.8L2214.6 318.6L2218.9 318L2231.6 317.3M2245.5 318.8L2248.6 317.5L2252.9 317.1L2261.4 317.8L2265.6 316.9L2282.7 316.5L2289 315.4L2297.5 315L2303.9 313.9L2316.7 311.4L2322 311L2327.7 309.7" stroke="#000"/><path d="M1877.5 445L1878 400L1879 340L1880 317L1881 325L1882.5 345L1884.5 368L1887 388L1890 399L1893 404.5L1897 407.6L1903 409.1L1912 409.2L1916 408.8L1919.5 409.8M1931.5 410.2L1940.4 407.9L1951 403.2L1963.8 394.7L1978.7 384.1L1985 380.9L1991.4 377.7L1993.5 379L1996.7 376.9L1999.9 378.3L2008.4 377.3L2010.5 375.6L2019 369.6L2025.4 367.5L2033.9 362.8L2041.4 358.6L2048.8 355L2055.2 354.3L2061.6 350.1L2072.2 342L2078.6 337.7L2082.8 335.8L2087.1 329.9L2091.3 323.5L2097.7 316.1L2104.1 309L2109.4 308L2114.7 307.6L2120 305.9L2126.4 305L2129.6 306.1L2134.9 308.6L2138.1 313.9L2141.3 319.7L2144.5 318.6L2147.7 317.1L2153 316.1L2156.2 325.6L2160.4 329.9L2164.7 333.1L2167.4 335.8L2170 331.6L2174.2 332.6L2178.5 335.2L2182.7 337.3L2188.1 337.7L2193.4 336.7L2198.3 340.5L2201.9 338.4L2206.1 333.5L2210.4 329.4L2214.6 334.8L2216.8 331.4L2218.9 330.9L2222.1 331.8L2225.3 329.4L2228.4 328.8L2231.6 326.7M2245.5 333.5L2248.6 327.7L2252.9 326L2257.1 328.8L2261.4 330.9L2265.6 327.1L2271 326.7L2275.2 325L2280.5 324.1L2285.8 325.6L2289 322.4L2293.3 318.6L2297.5 318.2L2300.7 314.4L2303.9 310.7L2307.1 312.2L2309.2 307.1L2313.5 301.6L2316.7 298.4L2319.2 298L2322 296.9L2324.7 292.7L2327.7 290.5" stroke="#00f"/></g><g clip-path="url(#cp4)" fill="none" stroke-width="2.08" stroke-linejoin="round"><path d="M1554.8 705.8L1555.5 684.7L1556.3 655.4L1557.1 634.8L1558.7 637.4L1560.6 640.7L1563.6 642.1L1574.3 638.7L1577.6 638L1580.8 638L1584.1 638.1L1588.5 637.5L1592.9 635.8L1597.1 634.5L1601.4 634.1L1605.6 632.9L1609.5 632.5L1613.4 631.7L1617.3 630.3L1621 629.8L1624.6 629.5L1628.2 629.3L1631.9 629.3L1635.5 628.2L1639.1 628.6L1642.8 628L1646 628L1649.3 627.9L1652.6 626.7L1655.8 627.4L1659.1 626.2L1662.3 626.4L1666 626L1669.6 626.1L1673.2 626.3L1676.9 625.5L1680.5 625.9L1684.1 625.3L1687.8 625L1691.2 625L1694.6 625.1L1698 625.1L1701.4 625.1L1704.9 625.3L1708.3 626L1711.7 626.4L1715.1 626L1718.5 625.7L1721.8 625.6L1725.2 626.7L1728.5 626.3L1731.9 626.2L1735.3 626.1L1738.6 626.4L1742.1 626.6L1745.6 627L1749 626.8L1752.5 626.8L1756 626.6L1759.5 627.7L1762.9 626.8L1766.4 627.4L1769.9 627.6L1773.8 626L1777.7 626.6L1781.6 627.4L1785.5 627.1L1789.5 628L1792.8 628.5L1796.2 628.9L1799.5 628.8L1802.9 629.2L1806.2 628.7L1809.6 629.2L1812.9 629.5L1816.6 629.4L1820.2 630.4L1823.8 630L1827.5 630.4L1831.1 631.2L1834.7 631.3L1838.4 631.1L1841.6 631.6L1844.9 631.1L1848.1 631.1L1851.4 631.4L1854.7 631.1L1857.9 631.1L1861.8 631.5L1865.7 632.2L1869.6 632.9L1874.5 629.9L1877.5 630.5L1880.4 628.4L1883.3 626L1888.2 618.2L1895.1 601.6L1900.9 585L1905.8 577.1L1908.8 573.6L1911.7 579.1L1914.2 579.5L1916.6 577.1L1919.5 575.8M1931.9 567.3L1935.1 565.4L1939.3 567.3L1942.5 566.9L1945.7 569L1950 570.3L1954.2 574.4L1957.8 576.1L1960.6 581.4L1964.8 583.5L1969.1 589.9L1972.3 592L1975.5 596.7L1979.7 600.5L1986.1 606.2L1991.4 613.3L1994.6 611.6L1996.7 615.8L1999.9 614.8L2005.2 617.5L2008.4 616.5L2012.7 620.1L2015.9 621.8L2020.1 626.4L2022.2 625.4L2025.4 627.9L2028.6 627.1L2032.9 629.6L2036.1 630.3L2041.4 632.4L2044.6 632.2L2047.7 635.6L2052 634.1L2057.3 635.6L2061.6 638.8L2067.9 642L2077.5 646.6L2083.9 649.8L2087.1 654.1L2090.3 661.5L2093.5 665.8L2096.6 672.8L2099.8 677.5L2105.1 684.9L2109.4 686.6L2114.7 685.3L2116.8 686L2120 689.2L2124.3 687.7L2129.2 686.6L2131.7 681.7L2133.8 678.5L2135.3 677.9L2138.1 665.8L2139.8 659.8L2142.3 658.8L2146.6 660.9L2151.9 662.6L2154 657.3L2156.2 649.8L2158.3 646L2161.5 643L2165.7 638.8L2167.4 635.6L2170 639.6L2172.1 638.8L2174.2 636.6L2177.4 634.9L2181.7 629.6L2184.9 628.6L2188.7 626.9L2193.4 629.2L2197.6 625L2200.2 618.4L2202.9 619.4L2205.7 622.6L2207.6 627.5L2209.9 623.3L2213.6 621.8L2215.7 621.8L2217.8 622.2L2219.9 617.9L2222.1 616.9L2224.2 620.1L2225.3 626L2227 631.3L2229.1 632.2L2232.1 630.7M2246.1 607.7L2248.2 613.7L2250.8 615.8L2253.3 620.1L2257.1 615.8L2260.3 613.7L2263.1 610.1L2265.2 612L2267.8 611.1L2270.3 608.4L2273.1 608.4L2275.2 610.1L2278.4 608.8L2282.7 608L2284.8 602.4L2287.3 602L2290.1 605.6L2292.9 605.8L2295.4 604.1L2298.6 599.4L2300.1 598.2L2301.8 600.9L2303.9 601.4L2306.5 592.9L2308.2 602L2310.3 610.5L2311.8 613.7L2314.1 615.2L2316.7 614.8L2319.2 611.6L2320.9 605.2L2322.6 611.6L2325.2 616.9L2327.3 619" stroke="#000"/><path d="M1545 705.8L1554.8 705.8L1555.5 674.9L1556.3 626L1556.7 594.7L1557.9 595.7L1559.1 598.6L1561.6 601.6L1564.5 602L1567.8 600.7L1571.1 599.4L1574.3 597.7L1577.6 597.4L1580.8 597L1584.1 595.7L1588.5 594.4L1592.9 592.4L1597.1 590.5L1601.4 586.8L1605.6 585L1609.5 582.9L1613.4 581.7L1617.3 579.1L1621.3 578.8L1625.2 578.6L1629.1 577.5L1632.5 576L1635.9 575.6L1639.4 574.4L1642.8 573.8L1646 573.3L1649.3 572.7L1652.6 571.4L1655.8 571.1L1659.1 570.6L1662.3 570.3L1666 570.4L1669.6 569.8L1673.2 568.5L1676.9 569L1680.5 567.7L1684.1 567.9L1687.8 567.3L1691.2 567L1694.6 566.9L1698 568.3L1701.4 567.5L1704.9 567.7L1708.3 568.9L1711.7 568.9L1715.1 568.5L1718.5 568.1L1721.8 569L1725.2 568.3L1728.5 568.4L1731.9 567.7L1735.3 568.6L1738.6 567.9L1742.1 568.3L1745.6 568.8L1749 568.7L1752.5 568L1756 568.2L1759.5 568L1762.9 568L1766.4 568L1769.9 568.7L1773.8 567L1777.7 567.5L1781.6 568L1785.5 569.3L1789.5 569.9L1792.8 569.7L1796.2 571.1L1799.5 571.1L1802.9 571.5L1806.2 572.7L1809.6 572.7L1812.9 573.2L1816.6 573.3L1820.2 573.9L1823.8 574.6L1827.5 574L1831.1 575.7L1834.7 574.7L1838.4 575.8L1841.6 576L1844.9 576L1848.1 574.8L1851.4 575.8L1854.7 575.1L1857.9 575.2L1861.8 575.9L1865.7 575.8L1869.6 577.1L1874.5 574.2L1877.5 575.2L1880.4 572.8L1883.3 570.3L1888.2 561.5L1895.1 541.9L1900.9 516.5L1905.8 501.8L1908.8 496L1911.7 503.8L1914.2 505.2L1916.6 501.2L1919.5 500.5M1931.9 487.2L1935.1 484L1939.3 486.6L1942.5 486.1L1945.7 489.3L1950 491.5L1954.2 497.8L1957.8 501L1960.6 508.5L1964.8 512.7L1969.1 521.2L1972.3 524.8L1975.5 532.9L1979.7 540.3L1986.1 548.2L1991.4 558L1994.6 555.7L1996.7 561L1999.9 560.1L2005.2 563.7L2008.4 562L2012.7 568L2015.9 570.5L2020.1 577.6L2022.2 576.5L2025.4 579.7L2028.6 578.6L2032.9 581.8L2036.1 582.9L2041.4 586.5L2044.6 586.1L2047.7 590.3L2052 589.2L2057.3 591.4L2061.6 596.3L2067.9 600.9L2077.5 607.7L2083.9 612.6L2087.1 620.1L2090.3 632.8L2093.5 639.2L2096.6 650.9L2099.8 659.4L2105.1 672.2L2109.4 674.9L2114.7 672.8L2116.8 673.6L2120 679L2124.3 676.4L2129.2 675.3L2131.7 666.8L2133.8 660.5L2135.3 659.4L2138.1 639.2L2139.8 629.6L2142.3 626.4L2146.6 631.8L2151.9 634.9L2154 626.4L2156.2 613.7L2158.3 607.3L2161.5 602L2165.7 594.6L2167.4 589.2L2170 595L2172.1 594.1L2174.2 590.3L2177.4 587.8L2181.7 578.6L2184.9 577.6L2188.7 575.4L2193.4 578.6L2197.6 572.2L2200.2 561.6L2202.9 563.1L2205.7 568L2207.6 574.4L2209.9 567.3L2213.6 565.9L2215.7 563.7L2217.8 564.8L2219.9 555.2L2222.1 553.1L2224.2 558.4L2225.3 569L2227 580.7L2229.1 583.9L2232.1 580.1M2246.1 544.6L2248.2 554.2L2250.8 557.4L2253.3 564.4L2257.1 557.4L2260.3 554.2L2263.1 549.3L2265.2 552.7L2267.8 551L2270.3 547.2L2273.1 547.8L2275.2 549.9L2278.4 548.2L2282.7 547.4L2284.8 538.9L2287.3 538.2L2290.1 543.5L2292.9 544L2295.4 541L2298.6 534L2300.1 532.5L2301.8 536.7L2303.9 537.2L2306.5 524L2308.2 535L2310.3 549.9L2311.8 555.9L2314.1 559.1L2316.7 558L2319.2 552L2320.9 543.5L2322.6 552L2325.2 561.6L2327.3 563.7" stroke="#00f"/></g><path d="M1544 437.9v-9.72M1544 192.2v9.72M1740.1 437.9v-9.72M1740.1 192.2v9.72M1936.2 437.9v-9.72M1936.2 192.2v9.72M2132.3 437.9v-9.72M2132.3 192.2v9.72M2328.4 437.9v-9.72M2328.4 192.2v9.72" stroke="#000" stroke-width="2.22" fill="none"/><path d="M1593.03 437.9v-5.56M1593.03 192.2v5.56M1642.05 437.9v-5.56M1642.05 192.2v5.56M1691.08 437.9v-5.56M1691.08 192.2v5.56M1789.12 437.9v-5.56M1789.12 192.2v5.56M1838.15 437.9v-5.56M1838.15 192.2v5.56M1887.18 437.9v-5.56M1887.18 192.2v5.56M1985.22 437.9v-5.56M1985.22 192.2v5.56M2034.25 437.9v-5.56M2034.25 192.2v5.56M2083.28 437.9v-5.56M2083.28 192.2v5.56M2181.32 437.9v-5.56M2181.32 192.2v5.56M2230.35 437.9v-5.56M2230.35 192.2v5.56M2279.38 437.9v-5.56M2279.38 192.2v5.56" stroke="#000" stroke-width="1.67" fill="none"/><path d="M1544 708v-9.72M1544 463.5v9.72M1740.1 708v-9.72M1740.1 463.5v9.72M1936.2 708v-9.72M1936.2 463.5v9.72M2132.3 708v-9.72M2132.3 463.5v9.72M2328.4 708v-9.72M2328.4 463.5v9.72" stroke="#000" stroke-width="2.22" fill="none"/><path d="M1593.03 708v-5.56M1593.03 463.5v5.56M1642.05 708v-5.56M1642.05 463.5v5.56M1691.08 708v-5.56M1691.08 463.5v5.56M1789.12 708v-5.56M1789.12 463.5v5.56M1838.15 708v-5.56M1838.15 463.5v5.56M1887.18 708v-5.56M1887.18 463.5v5.56M1985.22 708v-5.56M1985.22 463.5v5.56M2034.25 708v-5.56M2034.25 463.5v5.56M2083.28 708v-5.56M2083.28 463.5v5.56M2181.32 708v-5.56M2181.32 463.5v5.56M2230.35 708v-5.56M2230.35 463.5v5.56M2279.38 708v-5.56M2279.38 463.5v5.56" stroke="#000" stroke-width="1.67" fill="none"/><path d="M1544 426.5h9.72M2328.4 426.5h-9.72M1544 370.6h9.72M2328.4 370.6h-9.72M1544 314.7h9.72M2328.4 314.7h-9.72M1544 258.8h9.72M2328.4 258.8h-9.72M1544 202.9h9.72M2328.4 202.9h-9.72" stroke="#000" stroke-width="2.22" fill="none"/><path d="M1544 415.32h5.56M2328.4 415.32h-5.56M1544 404.14h5.56M2328.4 404.14h-5.56M1544 392.96h5.56M2328.4 392.96h-5.56M1544 381.78h5.56M2328.4 381.78h-5.56M1544 359.42h5.56M2328.4 359.42h-5.56M1544 348.24h5.56M2328.4 348.24h-5.56M1544 337.06h5.56M2328.4 337.06h-5.56M1544 325.88h5.56M2328.4 325.88h-5.56M1544 303.52h5.56M2328.4 303.52h-5.56M1544 292.34h5.56M2328.4 292.34h-5.56M1544 281.16h5.56M2328.4 281.16h-5.56M1544 269.98h5.56M2328.4 269.98h-5.56M1544 247.62h5.56M2328.4 247.62h-5.56M1544 236.44h5.56M2328.4 236.44h-5.56M1544 225.26h5.56M2328.4 225.26h-5.56M1544 214.08h5.56M2328.4 214.08h-5.56" stroke="#000" stroke-width="1.67" fill="none"/><path d="M1544 705.8h9.72M2328.4 705.8h-9.72M1544 641.88h9.72M2328.4 641.88h-9.72M1544 577.96h9.72M2328.4 577.96h-9.72M1544 514.04h9.72M2328.4 514.04h-9.72" stroke="#000" stroke-width="2.22" fill="none"/><path d="M1544 689.82h5.56M2328.4 689.82h-5.56M1544 673.84h5.56M2328.4 673.84h-5.56M1544 657.86h5.56M2328.4 657.86h-5.56M1544 625.9h5.56M2328.4 625.9h-5.56M1544 609.92h5.56M2328.4 609.92h-5.56M1544 593.94h5.56M2328.4 593.94h-5.56M1544 561.98h5.56M2328.4 561.98h-5.56M1544 546h5.56M2328.4 546h-5.56M1544 530.02h5.56M2328.4 530.02h-5.56M1544 498.06h5.56M2328.4 498.06h-5.56M1544 482.08h5.56M2328.4 482.08h-5.56M1544 466.1h5.56M2328.4 466.1h-5.56" stroke="#000" stroke-width="1.67" fill="none"/><rect x="1544" y="192.2" width="784.4" height="245.7" fill="none" stroke="#000" stroke-width="2.08"/><rect x="1544" y="463.5" width="784.4" height="244.5" fill="none" stroke="#000" stroke-width="2.08"/><text x="1534.2" y="437.1" font-size="27.78" text-anchor="end">−10</text><text x="1534.2" y="381.2" font-size="27.78" text-anchor="end">−5</text><text x="1534.2" y="325.3" font-size="27.78" text-anchor="end">0</text><text x="1534.2" y="269.4" font-size="27.78" text-anchor="end">5</text><text x="1534.2" y="213.5" font-size="27.78" text-anchor="end">10</text><text x="1534.2" y="716.4" font-size="27.78" text-anchor="end">0</text><text x="1534.2" y="652.5" font-size="27.78" text-anchor="end">20</text><text x="1534.2" y="588.6" font-size="27.78" text-anchor="end">40</text><text x="1534.2" y="524.6" font-size="27.78" text-anchor="end">60</text><text x="1544" y="752.9" font-size="27.78" text-anchor="middle">13:32:31</text><text x="1740.1" y="752.9" font-size="27.78" text-anchor="middle">13:35:15</text><text x="1936.2" y="752.9" font-size="27.78" text-anchor="middle">13:37:59</text><text x="2132.3" y="752.9" font-size="27.78" text-anchor="middle">13:40:43</text><text x="2328.4" y="752.9" font-size="27.78" text-anchor="middle">13:43:27</text><text x="1457.5" y="316.3" font-size="27.78" text-anchor="middle" transform="rotate(-90 1457.5 316.3)">Current (uA)</text><text x="1431.5" y="598.8" font-size="27.78" text-anchor="middle" transform="rotate(-90 1431.5 598.8)">Counts Per</text><text x="1458.5" y="598.8" font-size="27.78" text-anchor="middle" transform="rotate(-90 1458.5 598.8)">Second (x10<tspan font-size="19.44" dy="-10.5">3</tspan><tspan dy="10.5">)</tspan></text><text x="2337" y="180.4" font-size="20.83" transform="rotate(90 2337 180.4)">Sensor Surface Current</text><text x="2358.5" y="180.4" font-size="20.83" style="fill:#00f" transform="rotate(90 2358.5 180.4)">Sensor Surface Current x 5</text><text x="2337.5" y="488" font-size="22.22" transform="rotate(90 2337.5 488)">Hit Counter</text><text x="2361.5" y="488" font-size="22.22" style="fill:#00f" transform="rotate(90 2361.5 488)">Detect Counter</text><rect x="1607.3" y="153.9" width="55.56" height="19.1" fill="#c5c9c7"/><text x="1685.1" y="173.2" font-size="27.78">S/C in Eclipse</text><g stroke="#808080" stroke-width="2.6" fill="none"><clipPath id="hc"><rect x="1927.3" y="153.9" width="55.56" height="19.1"/></clipPath><g clip-path="url(#hc)"><path d="M1923 177L1948 150M1956 177L1981 150M1989 177L2014 150"/></g><rect x="1927.3" y="153.9" width="55.56" height="19.1" stroke-width="1.4"/></g><text x="2005.1" y="173.2" font-size="27.78">IRM in S/C Shadow</text><g clip-path="url(#mclip)"><rect x="1434.2" y="794.6" width="944.8" height="472.4" fill="#74a7cc"/><g filter="url(#bl14)"><ellipse cx="1549.7" cy="1109.5" rx="120" ry="60" fill="#6ca0c7" fill-opacity="0.8"/><ellipse cx="1517.9" cy="978.3" rx="90" ry="50" fill="#6da2c8" fill-opacity="0.7"/><ellipse cx="1804.2" cy="957.3" rx="50" ry="35" fill="#699bc3" fill-opacity="0.8"/><ellipse cx="1842.9" cy="1109.5" rx="40" ry="40" fill="#6c9fc6" fill-opacity="0.7"/><ellipse cx="2097.8" cy="1109.5" rx="60" ry="40" fill="#6da1c7" fill-opacity="0.7"/><ellipse cx="2318.2" cy="965.2" rx="50" ry="40" fill="#6c9fc6" fill-opacity="0.7"/><ellipse cx="1677.6" cy="1188.3" rx="200" ry="25" fill="#7cafd3" fill-opacity="0.7"/><ellipse cx="2045.5" cy="1183" rx="200" ry="22" fill="#7db0d3" fill-opacity="0.7"/><ellipse cx="1837.9" cy="873.3" rx="40" ry="25" fill="#81b2d5" fill-opacity="0.7"/><ellipse cx="1906.6" cy="826.1" rx="200" ry="20" fill="#87b7d8" fill-opacity="0.8"/><ellipse cx="2221.3" cy="1017.7" rx="50" ry="30" fill="#83b4d6" fill-opacity="0.6"/><ellipse cx="1560.2" cy="1227.6" rx="200" ry="14" fill="#83b4d6" fill-opacity="0.7"/></g><g clip-path="url(#land)"><rect x="1434.2" y="794.6" width="944.8" height="472.4" fill="#dde4ae"/><g filter="url(#bl8)"><ellipse cx="1700.7" cy="836.6" rx="95" ry="16" fill="#dcdcd0"/><ellipse cx="1569.2" cy="860.2" rx="42" ry="16" fill="#c9d2b8"/><ellipse cx="1662.2" cy="881.2" rx="85" ry="15" fill="#aecaa2"/><ellipse cx="1728.6" cy="891.7" rx="30" ry="13" fill="#b2cba4"/><ellipse cx="1663.5" cy="923.2" rx="30" ry="19" fill="#eaeab0"/><ellipse cx="1623" cy="925.8" rx="15" ry="22" fill="#e6d8bd"/><ellipse cx="1694.8" cy="938.9" rx="18" ry="10" fill="#d2dea6"/><ellipse cx="1639" cy="965.2" rx="13" ry="12" fill="#e6dfb4"/><ellipse cx="1672.1" cy="991.4" rx="12" ry="7" fill="#b6d0a0"/><ellipse cx="1608.7" cy="894.3" rx="8" ry="14" fill="#c3cdb4"/><ellipse cx="1746.6" cy="1041.3" rx="44" ry="26" fill="#a7c89c"/><ellipse cx="1791.6" cy="1059.7" rx="22" ry="24" fill="#d8e0a4"/><ellipse cx="1756.9" cy="1091.2" rx="18" ry="14" fill="#dde3a6"/><ellipse cx="1747.8" cy="1122.7" rx="13" ry="16" fill="#e8e6ac"/><ellipse cx="1737.6" cy="1148.9" rx="9" ry="14" fill="#e0d3b4"/><ellipse cx="1728.3" cy="1088.5" rx="6" ry="34" fill="#cfcfc6"/><ellipse cx="1704.8" cy="1049.2" rx="5" ry="14" fill="#c6cdb8"/><ellipse cx="1717.8" cy="1017.7" rx="10" ry="8" fill="#c9d8a6"/><ellipse cx="1927.2" cy="967.8" rx="80" ry="26" fill="#f3e5cc"/><ellipse cx="1984" cy="970.4" rx="28" ry="24" fill="#f2e3c8"/><ellipse cx="1943.2" cy="999.3" rx="72" ry="6" fill="#e9e6ac"/><ellipse cx="1959.1" cy="1030.8" rx="32" ry="15" fill="#a6c79b"/><ellipse cx="1885.6" cy="1012.4" rx="14" ry="5" fill="#bcd4a2"/><ellipse cx="1974.2" cy="1075.4" rx="28" ry="17" fill="#e4e4a8"/><ellipse cx="1958.1" cy="1096.4" rx="12" ry="9" fill="#eddcb4"/><ellipse cx="2016.7" cy="1015.1" rx="12" ry="12" fill="#ead9b0"/><ellipse cx="2028.6" cy="1080.7" rx="5" ry="13" fill="#d2dea6"/><ellipse cx="2001.1" cy="1038.7" rx="8" ry="12" fill="#dcdfa8"/><ellipse cx="1935.6" cy="902.2" rx="42" ry="12" fill="#d8e2a8"/><ellipse cx="1899.1" cy="925.8" rx="12" ry="7" fill="#e6e4b0"/><ellipse cx="1942.4" cy="862.8" rx="16" ry="13" fill="#b9cea8"/><ellipse cx="1995.5" cy="883.8" rx="32" ry="12" fill="#c9daa8"/><ellipse cx="1991.7" cy="907.5" rx="20" ry="6" fill="#e2e6ac"/><ellipse cx="2124.2" cy="873.3" rx="130" ry="14" fill="#b9cdab"/><ellipse cx="2118.5" cy="844.5" rx="110" ry="9" fill="#d6d8c8"/><ellipse cx="2253" cy="862.8" rx="38" ry="12" fill="#c9d0b8"/><ellipse cx="2025.1" cy="967.8" rx="20" ry="19" fill="#f3e6cd"/><ellipse cx="2051" cy="944.2" rx="17" ry="9" fill="#ecdfbf"/><ellipse cx="2059.4" cy="917.9" rx="27" ry="9" fill="#ece4b8"/><ellipse cx="2119.9" cy="923.2" rx="24" ry="7" fill="#eedfc0"/><ellipse cx="2163.8" cy="920.6" rx="18" ry="7" fill="#ebdcb8"/><ellipse cx="2129.3" cy="942.9" rx="30" ry="10" fill="#d4d4d2"/><ellipse cx="2129.5" cy="944.2" rx="16" ry="6" fill="#dcdcdc"/><ellipse cx="2108.5" cy="975.7" rx="15" ry="16" fill="#e6e7a8"/><ellipse cx="2194.1" cy="949.4" rx="17" ry="14" fill="#d5e0a6"/><ellipse cx="2174.5" cy="986.2" rx="11" ry="12" fill="#b9d2a2"/><ellipse cx="2212.9" cy="907.5" rx="15" ry="9" fill="#cbdca6"/><ellipse cx="2083.5" cy="941.6" rx="8" ry="6" fill="#d8d6cc"/><ellipse cx="2203.2" cy="1030.8" rx="22" ry="10" fill="#a9c99c"/><ellipse cx="2273.7" cy="1043.9" rx="14" ry="6" fill="#a9c99c"/><ellipse cx="2174.3" cy="1030.8" rx="8" ry="10" fill="#a9c99c"/><ellipse cx="2246.2" cy="1096.4" rx="44" ry="19" fill="#efd5ae"/><ellipse cx="2282.8" cy="1104.3" rx="9" ry="22" fill="#dbe2a6"/><ellipse cx="2253.5" cy="1067.5" rx="26" ry="5" fill="#dfe3a8"/><ellipse cx="2206.8" cy="1112.2" rx="8" ry="8" fill="#e0e4aa"/><ellipse cx="2270.3" cy="1127.9" rx="10" ry="5" fill="#d2dea4"/></g></g><path d="M1726.3 830L1737.9 830.6L1745.9 830.6L1753.2 827.4L1758.7 824L1772.3 821.4L1781.8 818.7L1792.5 814.5L1782.9 813L1776.8 813L1770.7 813L1764.7 813L1757.7 813.8L1750.6 814.7L1743.5 815.6L1734.6 818.7L1740.9 820.1L1741.6 823.5L1734 825.6ZM1718.3 825.6L1730.3 825.3L1740.4 821.6L1736.2 819L1725.6 820.1ZM1927.8 822.2L1937.2 820.8L1948.4 819.8L1958.3 820.8L1947.6 824.8L1940.6 829.5L1934.3 827.4L1928.1 824.8ZM1994.2 820.1L2003 820.5L2011.8 820.8L2017.9 819.8L2023.8 818.7L2014.6 816.4L2007.8 817.3L2000.8 818.2ZM2092.9 823.5L2102.5 825.3L2108.5 823.5L2097.5 818.7L2088.9 819.5ZM1719.1 834L1730.4 835.3L1743.1 834.8L1744 831.9L1737.2 830.8L1730.5 829.8L1722.1 830.3ZM2015.2 843.2L2024.5 845.3L2027.9 843.2L2022.2 839.7L2022.9 836.6L2028.2 832.7L2035.1 830.6L2043.2 829L2040 832.1L2031.6 835.3L2026.6 837.9L2019.8 841.3Z" fill="#e6e9ea"/><path d="M1553.5 1236L1560.3 1236.2L1567.2 1236.4L1574 1236.6L1579.9 1236.2L1585.9 1235.9L1591.9 1235.5L1597.8 1234.2L1603.9 1232.9L1610.7 1228.9L1617.7 1228L1624.8 1227.1L1632.1 1226.3L1639.5 1225.5L1647.9 1223.7L1655.8 1224.4L1663.6 1225L1672.5 1225.7L1681.3 1226.3L1686.7 1224.4L1692.4 1222.4L1697 1220.3L1709 1222.4L1719.1 1221.9L1730.3 1223.2L1740.2 1222.4L1747 1219.8L1756.1 1221.1L1761.1 1218.4L1760.7 1213.2L1761.6 1207.9L1763.9 1202.7L1768.3 1199.6L1775.3 1196.9L1779 1198L1775.5 1200.9L1772.1 1204L1767.8 1207.2L1766 1210.6L1773 1214.5L1778.5 1219.8L1781 1225L1776.9 1228.9L1766.4 1231.6L1758.1 1234.2L1766 1235.5L1773.7 1236.8L1780 1236.4L1786.2 1235.9L1792.5 1235.5L1800.4 1235.5L1808.3 1235.5L1816.1 1235.5L1824 1235.5L1835.3 1234.2L1846.1 1230.3L1853.6 1227.6L1865.2 1223.7L1875.3 1221.1L1885.4 1217.1L1896 1216.1L1906.6 1214.5L1917.3 1214.5L1928 1214.5L1938.7 1213.7L1949.3 1214.5L1960 1214.5L1971 1213.2L1977.8 1211.4L1986.3 1211.9L1993.1 1210.6L2004.7 1207.9L2016.4 1205.3L2027.8 1204L2033.5 1206.6L2041.8 1207.9L2050.2 1208.7L2058 1210.6L2060.7 1214L2065 1214L2072.5 1211.9L2080.6 1208.7L2092.9 1206.1L2104.3 1205.3L2115.6 1204.8L2127 1204L2137.7 1204.5L2149.1 1204L2159.2 1205.3L2169.6 1206.1L2181.6 1204.8L2192.6 1204.8L2204.2 1204L2213.4 1206.1L2223.2 1207.4L2231.1 1210.6L2239.8 1212.7L2248.5 1214.5L2256.8 1216.6L2264.2 1219.2L2258.4 1223.7L2243 1228.9L2231.2 1234.2L2236.2 1236L2243.5 1235.8L2250.8 1235.5L2259.7 1236L2239.4 1246.4L2211.9 1256.7L2142.8 1267L2136.3 1267L2129.9 1267L2123.4 1267L2116.9 1267L2110.4 1267L2104 1267L2097.5 1267L2091 1267L2084.6 1267L2078.1 1267L2071.6 1267L2065.1 1267L2058.7 1267L2052.2 1267L2045.7 1267L2039.3 1267L2032.8 1267L2026.3 1267L2019.8 1267L2013.4 1267L2006.9 1267L2000.4 1267L1994 1267L1987.5 1267L1981 1267L1974.5 1267L1968.1 1267L1961.6 1267L1955.1 1267L1948.7 1267L1942.2 1267L1935.7 1267L1929.2 1267L1922.8 1267L1916.3 1267L1909.8 1267L1903.4 1267L1896.9 1267L1890.4 1267L1884 1267L1877.5 1267L1871 1267L1864.5 1267L1858.1 1267L1851.6 1267L1845.1 1267L1838.7 1267L1832.2 1267L1825.7 1267L1819.2 1267L1812.8 1267L1806.3 1267L1799.8 1267L1793.4 1267L1786.9 1267L1780.4 1267L1773.9 1267L1767.5 1267L1761 1267L1754.5 1267L1748.1 1267L1741.6 1267L1735.1 1267L1728.6 1267L1722.2 1267L1715.7 1267L1709.2 1267L1702.8 1267L1696.3 1267L1689.8 1267L1683.3 1267L1676.9 1267L1670.4 1267L1601.3 1256.7L1573.8 1246.4ZM1763.4 825.6L1775 822.9L1781.8 820.1L1791.3 816.1L1798.3 815.5L1805.2 814.8L1813.8 814.4L1822.3 814L1834.2 812.2L1841.7 811.8L1849.1 811.4L1855 812.2L1861.1 813L1869.5 815.6L1880.5 816.6L1874.1 820.8L1868.2 826.1L1869.5 830L1865.8 834L1864.2 837.9L1858.5 840.5L1860.1 843.9L1855.4 846.6L1858.5 847.1L1850.4 850.8L1841.5 851.8L1834.7 853.6L1827.2 857.6L1821.5 858.6L1816.4 861.5L1811.8 866.8L1808.2 872.8L1804.6 873.6L1801.7 871.2L1796.3 870.2L1794.1 865.5L1791.2 860.2L1789.1 855L1792.4 849.7L1797.4 847.6L1790.9 845L1792.7 840.5L1790.3 836.6L1788.1 832.7L1781.9 830.8L1771.6 831.3L1766.5 829.8L1767.2 827.1Z" fill="#f1f4f9"/><g clip-path="url(#iceclip)" filter="url(#bl8)"><ellipse cx="1810" cy="840" rx="40" ry="18" fill="#dfe3ef"/><ellipse cx="1700" cy="1262" rx="180" ry="10" fill="#e3e9f4"/><ellipse cx="2150" cy="1262" rx="150" ry="10" fill="#e3e9f4"/></g><path d="M1975.9 921.6L1975.4 918.5L1976.9 915.8L1979.3 912.2L1981.4 908.8L1985.3 909L1988.1 910.3L1986.3 911.7L1988.8 914L1991.2 913.7L1993.3 912.7L1996.2 912.4L1998 913.2L2001.1 914.5L2005.1 916.9L2009.1 919.3L2009.4 921.9L2003.3 923.2L1999.6 922.9L1997 922.1L1993.1 920.6L1988.2 920.6L1984.7 922.7L1979 922.7ZM1991.9 909.6L1995.4 908L1999.4 907.2L2001.8 906.9L1999.3 910.1L1998.3 911.4L1996.3 911.7L1993.4 911.4ZM2021.9 914L2022.6 910.9L2026 908.8L2030.6 907.5L2035.7 908.8L2036.7 911.9L2032.1 912.2L2030.5 914L2032.7 917.4L2036.2 919.3L2037.4 922.4L2040.6 923.7L2038.6 927.1L2041.4 932.9L2037.1 934.5L2032.4 932.6L2029.3 931.9L2028.8 929.8L2029.4 927.1L2029.6 924.5L2026.6 920.8L2023.7 917.9ZM2050.3 915.3L2051.8 910.1L2055.2 908.8L2056.7 912.7L2054.3 916.6ZM2154.4 895.4L2157.5 893L2161.1 890.4L2163.4 885.1L2164.3 884.6L2164.1 889.1L2161.1 893L2157.3 895.4ZM1682.7 908.2L1689.8 904.8L1694.1 902.7L1699.4 905.1L1700.5 908.8L1694.7 908.8L1687.5 908.2ZM1689.5 920.6L1693.2 920.6L1694.8 915.3L1698.2 911.9L1696.7 910.3L1691.7 914ZM1700.3 910.3L1707.7 910.1L1710.6 913.2L1705.3 917.4L1703.4 917.4L1701.4 915.3L1702.8 912.2ZM1700.2 921.4L1706.1 921.6L1711.7 918.7L1711.9 917.9L1705.4 919L1700.7 920ZM1710.3 917.2L1718.3 916.6L1719.2 915.1L1712.4 915.8ZM1669.1 898.5L1675.2 898.3L1675.9 893L1672.5 889.6L1673 894.3ZM1631.9 859.4L1640 860.5L1646.5 857.6L1646.2 855L1636 856.8ZM1640.2 870.7L1649.6 870.2L1658.7 866.2L1654.4 866L1645.2 868.1ZM1989.8 1030L1995.8 1030.3L1995.8 1036L1990.6 1037.9L1989.8 1033.4Z" fill="#74a7cc"/></g><rect x="1434.2" y="794.6" width="944.8" height="472.4" rx="236.2" fill="none" stroke="#000" stroke-width="3.1"/><path d="M2178.6 945.8L2178.8 942.9L2179 940L2179 937.2L2178.9 934.3L2178.7 931.5L2178.4 928.6L2178.1 925.7L2177.7 922.9L2177.2 920L2176.7 917.2L2176.2 914.3L2175.6 911.5L2175.1 908.7L2174.5 905.8L2174 903L2173.4 900.2L2172.9 897.3L2172.5 894.5L2172 891.7L2171.7 888.8L2171.4 886L2171.1 883.3L2170.9 880.5L2170.8 877.7L2170.8 874.9L2170.9 872.1L2171 869.3L2171.2 866.6L2171.6 863.8L2172 861L2172.4 858.4L2173 855.9L2173.6 853.3L2174.3 850.7L2175.1 848.1L2176 845.6L2176.9 843L2177.8 840.4L2178.8 837.9L2179.9 835.3" stroke="#7e2aff" stroke-width="4.2" fill="none" stroke-linecap="round"/><circle cx="2178.8" cy="945.8" r="5.3"/><circle cx="2176" cy="917.2" r="5.3"/><circle cx="2172.7" cy="888.8" r="5.3"/><circle cx="2171.3" cy="861" r="5.3"/><circle cx="2180.1" cy="835.3" r="5.3"/><text x="2168.5" y="843.8" font-size="27.78" text-anchor="end">13:43:27 UT</text><text x="2165.3" y="953.6" font-size="27.78" text-anchor="end">13:32:31 UT</text><rect x="1745.0" y="1307.9" width="549.4" height="26.7" fill="url(#cbh)" stroke="#000" stroke-width="2.2"/><text x="1790.8" y="1372.3" font-size="21.2" text-anchor="middle">400</text><text x="1882.3" y="1372.3" font-size="21.2" text-anchor="middle">600</text><text x="1973.9" y="1372.3" font-size="21.2" text-anchor="middle">800</text><text x="2065.5" y="1372.3" font-size="21.2" text-anchor="middle">1000</text><text x="2157.1" y="1372.3" font-size="21.2" text-anchor="middle">1200</text><text x="2248.6" y="1372.3" font-size="21.2" text-anchor="middle">1400</text><path d="M1790.8 1334.6v9.7M1882.3 1334.6v9.7M1973.9 1334.6v9.7M2065.5 1334.6v9.7M2157.1 1334.6v9.7M2248.6 1334.6v9.7" stroke="#000" stroke-width="2.2" fill="none"/><text x="2019.6" y="1406.7" font-size="22.22" text-anchor="middle">Altitude (km)</text><circle cx="1458.3" cy="1353.3" r="6.7"/><text x="1498.3" y="1360" font-size="22.22">Axis intervals</text><text x="1452.5" y="1403.8" font-size="22.22">Operating mode: AM</text><text x="1608.8" y="1451.3" font-size="22.22" text-anchor="middle">VSA</text><text x="1739.4" y="1451.3" font-size="22.22" text-anchor="middle">VES</text><text x="1870.1" y="1451.3" font-size="22.22" text-anchor="middle">VD+</text><text x="2000.8" y="1451.3" font-size="22.22" text-anchor="middle">VD-</text><text x="2131.4" y="1451.3" font-size="22.22" text-anchor="middle">VMCPF</text><text x="2262.1" y="1451.3" font-size="22.22" text-anchor="middle">VCMPB</text><text x="1451.3" y="1480.8" font-size="22.22">Min (V)</text><text x="1608.8" y="1480.8" font-size="22.22" text-anchor="middle">-348</text><text x="1739.4" y="1480.8" font-size="22.22" text-anchor="middle">-0.33</text><text x="1870.1" y="1480.8" font-size="22.22" text-anchor="middle">-0.16</text><text x="2000.8" y="1480.8" font-size="22.22" text-anchor="middle">-9.96</text><text x="2131.4" y="1480.8" font-size="22.22" text-anchor="middle">-2289</text><text x="2262.1" y="1480.8" font-size="22.22" text-anchor="middle">-212</text><text x="1451.3" y="1509.8" font-size="22.22">Max (V)</text><text x="1608.8" y="1509.8" font-size="22.22" text-anchor="middle">0</text><text x="1739.4" y="1509.8" font-size="22.22" text-anchor="middle">0.06</text><text x="1870.1" y="1509.8" font-size="22.22" text-anchor="middle">9.92</text><text x="2000.8" y="1509.8" font-size="22.22" text-anchor="middle">0.02</text><text x="2131.4" y="1509.8" font-size="22.22" text-anchor="middle">-2</text><text x="2262.1" y="1509.8" font-size="22.22" text-anchor="middle">0</text><text x="1451.3" y="1539.2" font-size="22.22">Ave (V)</text><text x="1608.8" y="1539.2" font-size="22.22" text-anchor="middle">-178</text><text x="1739.4" y="1539.2" font-size="22.22" text-anchor="middle">0.02</text><text x="1870.1" y="1539.2" font-size="22.22" text-anchor="middle">-0.07</text><text x="2000.8" y="1539.2" font-size="22.22" text-anchor="middle">-0.04</text><text x="2131.4" y="1539.2" font-size="22.22" text-anchor="middle">-2209</text><text x="2262.1" y="1539.2" font-size="22.22" text-anchor="middle">-192</text><text x="1448.3" y="1579.6" font-size="27.78">Produced by irm_summary version 5</text></svg></body></html>
